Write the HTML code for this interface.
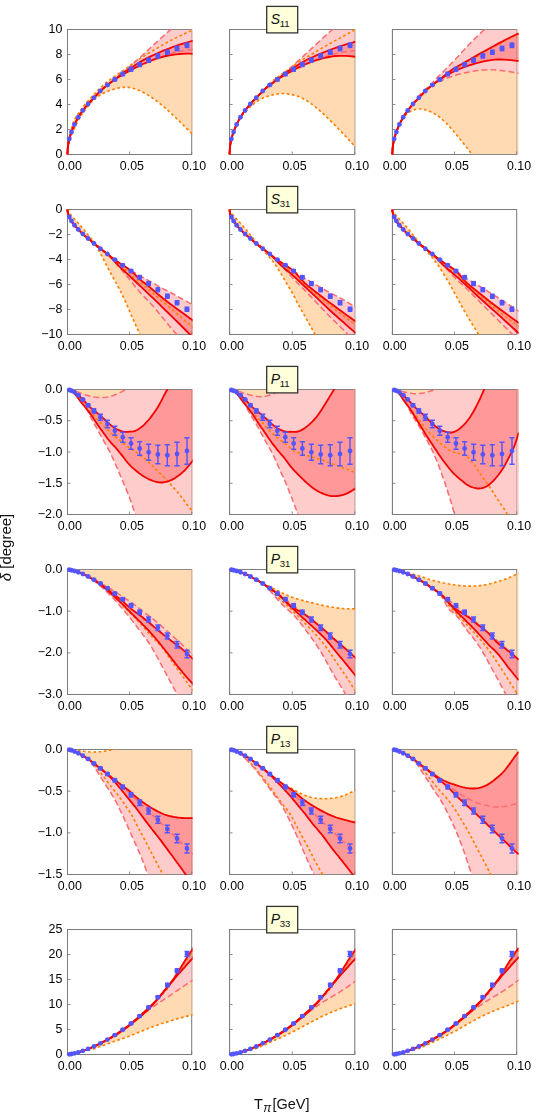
<!DOCTYPE html><html><head><meta charset="utf-8"><style>html,body{margin:0;padding:0;background:#fff;}body{width:540px;height:1115px;position:relative;overflow:hidden;font-family:"Liberation Sans",sans-serif;}</style></head><body><svg width="540" height="1115" viewBox="0 0 540 1115" style="position:absolute;left:0;top:0;opacity:0.999">
<defs>
<clipPath id="c00"><rect x="66.00" y="29.00" width="126.60" height="126.00"/></clipPath>
<clipPath id="c01"><rect x="228.10" y="29.00" width="127.10" height="126.00"/></clipPath>
<clipPath id="c02"><rect x="390.90" y="29.00" width="127.80" height="126.00"/></clipPath>
<clipPath id="c10"><rect x="66.00" y="209.00" width="126.60" height="126.00"/></clipPath>
<clipPath id="c11"><rect x="228.10" y="209.00" width="127.10" height="126.00"/></clipPath>
<clipPath id="c12"><rect x="390.90" y="209.00" width="127.80" height="126.00"/></clipPath>
<clipPath id="c20"><rect x="66.00" y="389.00" width="126.60" height="126.00"/></clipPath>
<clipPath id="c21"><rect x="228.10" y="389.00" width="127.10" height="126.00"/></clipPath>
<clipPath id="c22"><rect x="390.90" y="389.00" width="127.80" height="126.00"/></clipPath>
<clipPath id="c30"><rect x="66.00" y="569.00" width="126.60" height="126.00"/></clipPath>
<clipPath id="c31"><rect x="228.10" y="569.00" width="127.10" height="126.00"/></clipPath>
<clipPath id="c32"><rect x="390.90" y="569.00" width="127.80" height="126.00"/></clipPath>
<clipPath id="c40"><rect x="66.00" y="749.00" width="126.60" height="126.00"/></clipPath>
<clipPath id="c41"><rect x="228.10" y="749.00" width="127.10" height="126.00"/></clipPath>
<clipPath id="c42"><rect x="390.90" y="749.00" width="127.80" height="126.00"/></clipPath>
<clipPath id="c50"><rect x="66.00" y="929.00" width="126.60" height="126.00"/></clipPath>
<clipPath id="c51"><rect x="228.10" y="929.00" width="127.10" height="126.00"/></clipPath>
<clipPath id="c52"><rect x="390.90" y="929.00" width="127.80" height="126.00"/></clipPath>
</defs>
<rect x="67.50" y="29.50" width="124.20" height="125.00" fill="none" stroke="#7a7a7a" stroke-width="0.85"/>
<g clip-path="url(#c00)">
<path d="M67.5 154.5 L67.5 152.9 L67.6 151.2 L67.7 149.5 L67.9 147.7 L68.2 145.9 L68.5 144.0 L68.8 142.0 L69.2 139.8 L69.6 137.5 L70.2 135.0 L70.7 132.4 L71.3 129.5 L72.0 126.6 L72.7 123.9 L73.5 121.7 L74.3 119.9 L75.2 118.3 L76.1 116.9 L77.1 115.4 L78.1 113.8 L79.2 112.2 L80.3 110.6 L81.5 108.9 L82.8 107.1 L84.1 105.4 L85.4 103.7 L86.8 102.1 L88.3 100.6 L89.8 99.0 L91.4 97.4 L93.0 95.7 L94.6 93.9 L96.4 92.0 L98.1 90.1 L100.0 88.3 L101.9 86.5 L103.8 84.7 L105.8 83.0 L107.8 81.4 L109.9 79.8 L112.1 78.2 L114.3 76.6 L116.5 75.0 L118.8 73.5 L121.2 71.8 L123.6 70.2 L126.1 68.4 L128.6 66.6 L131.1 64.8 L133.8 62.9 L136.4 61.0 L139.2 59.1 L142.0 57.3 L144.8 55.6 L147.7 53.8 L150.6 52.0 L153.6 50.3 L156.7 48.4 L159.8 46.6 L162.9 44.8 L166.1 42.9 L169.4 41.2 L172.7 39.4 L176.1 37.7 L179.5 36.0 L183.0 34.4 L186.5 32.8 L190.1 31.2 L193.7 29.6 L193.7 135.5 L190.1 131.9 L186.5 128.3 L183.0 124.8 L179.5 121.4 L176.1 118.1 L172.7 114.8 L169.4 111.8 L166.1 108.8 L162.9 106.1 L159.8 103.5 L156.7 101.1 L153.6 98.8 L150.6 96.8 L147.7 94.9 L144.8 93.2 L142.0 91.7 L139.2 90.4 L136.4 89.3 L133.8 88.5 L131.1 87.8 L128.6 87.4 L126.1 87.3 L123.6 87.3 L121.2 87.5 L118.8 87.9 L116.5 88.5 L114.3 89.1 L112.1 89.8 L109.9 90.5 L107.8 91.3 L105.8 92.2 L103.8 93.1 L101.9 94.1 L100.0 95.2 L98.1 96.4 L96.4 97.6 L94.6 99.0 L93.0 100.6 L91.4 102.3 L89.8 104.0 L88.3 105.9 L86.8 107.7 L85.4 109.6 L84.1 111.4 L82.8 113.1 L81.5 114.9 L80.3 116.6 L79.2 118.5 L78.1 120.6 L77.1 122.7 L76.1 124.8 L75.2 126.9 L74.3 128.9 L73.5 130.8 L72.7 132.6 L72.0 134.3 L71.3 136.0 L70.7 137.5 L70.2 139.1 L69.6 140.6 L69.2 142.1 L68.8 143.7 L68.5 145.2 L68.2 146.7 L67.9 148.3 L67.7 149.8 L67.6 151.4 L67.5 152.9 L67.5 154.5Z" fill="#FFDAB3"/>
<path d="M67.5 154.5 L67.5 152.5 L67.6 150.6 L67.7 148.6 L67.9 146.7 L68.2 144.8 L68.5 142.9 L68.8 141.1 L69.2 139.3 L69.6 137.6 L70.2 135.9 L70.7 134.1 L71.3 132.4 L72.0 130.6 L72.7 128.7 L73.5 126.8 L74.3 124.9 L75.2 123.0 L76.1 121.2 L77.1 119.4 L78.1 117.6 L79.2 115.8 L80.3 114.0 L81.5 112.3 L82.8 110.6 L84.1 108.9 L85.4 107.2 L86.8 105.4 L88.3 103.8 L89.8 102.1 L91.4 100.5 L93.0 98.8 L94.6 97.0 L96.4 95.2 L98.1 93.3 L100.0 91.4 L101.9 89.6 L103.8 87.9 L105.8 86.3 L107.8 84.7 L109.9 83.2 L112.1 81.6 L114.3 80.0 L116.5 78.2 L118.8 76.2 L121.2 74.2 L123.6 72.0 L126.1 69.9 L128.6 67.7 L131.1 65.4 L133.8 63.1 L136.4 60.7 L139.2 58.3 L142.0 55.7 L144.8 53.1 L147.7 50.4 L150.6 47.7 L153.6 44.9 L156.7 42.1 L159.8 39.2 L162.9 36.4 L166.1 33.6 L169.4 30.7 L172.7 27.7 L176.1 24.6 L179.5 21.5 L183.0 18.3 L186.5 15.0 L190.1 11.7 L193.7 8.4 L193.7 49.2 L190.1 49.7 L186.5 50.2 L183.0 50.8 L179.5 51.4 L176.1 52.1 L172.7 53.0 L169.4 53.9 L166.1 55.0 L162.9 56.2 L159.8 57.3 L156.7 58.5 L153.6 59.7 L150.6 61.0 L147.7 62.3 L144.8 63.7 L142.0 65.1 L139.2 66.5 L136.4 67.7 L133.8 68.9 L131.1 70.0 L128.6 71.1 L126.1 72.2 L123.6 73.5 L121.2 75.0 L118.8 76.6 L116.5 78.3 L114.3 79.9 L112.1 81.5 L109.9 83.1 L107.8 84.7 L105.8 86.3 L103.8 87.9 L101.9 89.6 L100.0 91.4 L98.1 93.3 L96.4 95.2 L94.6 97.0 L93.0 98.8 L91.4 100.5 L89.8 102.1 L88.3 103.8 L86.8 105.4 L85.4 107.2 L84.1 108.9 L82.8 110.6 L81.5 112.3 L80.3 114.0 L79.2 115.8 L78.1 117.6 L77.1 119.4 L76.1 121.2 L75.2 123.0 L74.3 124.9 L73.5 126.8 L72.7 128.7 L72.0 130.6 L71.3 132.4 L70.7 134.1 L70.2 135.9 L69.6 137.6 L69.2 139.3 L68.8 141.1 L68.5 142.9 L68.2 144.8 L67.9 146.7 L67.7 148.6 L67.6 150.6 L67.5 152.5 L67.5 154.5Z" fill="#FFCCCC"/>
<path d="M67.5 154.5 L67.5 152.5 L67.6 150.6 L67.7 148.6 L67.9 146.7 L68.2 144.8 L68.5 142.9 L68.8 141.1 L69.2 139.3 L69.6 137.6 L70.2 135.9 L70.7 134.1 L71.3 132.4 L72.0 130.6 L72.7 128.7 L73.5 126.8 L74.3 124.9 L75.2 123.0 L76.1 121.2 L77.1 119.4 L78.1 117.6 L79.2 115.8 L80.3 114.0 L81.5 112.3 L82.8 110.6 L84.1 108.9 L85.4 107.2 L86.8 105.4 L88.3 103.8 L89.8 102.1 L91.4 100.5 L93.0 98.8 L94.6 97.0 L96.4 95.2 L98.1 93.3 L100.0 91.4 L101.9 89.6 L103.8 87.9 L105.8 86.3 L107.8 84.7 L109.9 83.2 L112.1 81.6 L114.3 80.0 L116.5 78.1 L118.8 76.2 L121.2 74.2 L123.6 72.4 L126.1 70.7 L128.6 69.2 L131.1 67.6 L133.8 66.0 L136.4 64.3 L139.2 62.6 L142.0 60.9 L144.8 59.4 L147.7 57.9 L150.6 56.4 L153.6 55.0 L156.7 53.6 L159.8 52.2 L162.9 50.8 L166.1 49.5 L169.4 48.3 L172.7 47.0 L176.1 45.9 L179.5 44.7 L183.0 43.6 L186.5 42.6 L190.1 41.5 L193.7 40.4 L193.7 53.8 L190.1 53.7 L186.5 53.7 L183.0 53.8 L179.5 54.0 L176.1 54.3 L172.7 54.8 L169.4 55.4 L166.1 56.0 L162.9 56.8 L159.8 57.7 L156.7 58.7 L153.6 59.7 L150.6 60.8 L147.7 62.0 L144.8 63.2 L142.0 64.5 L139.2 65.8 L136.4 67.1 L133.8 68.5 L131.1 69.9 L128.6 71.4 L126.1 72.8 L123.6 74.2 L121.2 75.7 L118.8 77.0 L116.5 78.4 L114.3 79.9 L112.1 81.4 L109.9 83.0 L107.8 84.7 L105.8 86.3 L103.8 88.0 L101.9 89.7 L100.0 91.4 L98.1 93.3 L96.4 95.2 L94.6 97.0 L93.0 98.8 L91.4 100.5 L89.8 102.1 L88.3 103.8 L86.8 105.4 L85.4 107.2 L84.1 108.9 L82.8 110.6 L81.5 112.3 L80.3 114.0 L79.2 115.8 L78.1 117.6 L77.1 119.4 L76.1 121.2 L75.2 123.0 L74.3 124.9 L73.5 126.8 L72.7 128.7 L72.0 130.6 L71.3 132.4 L70.7 134.1 L70.2 135.9 L69.6 137.6 L69.2 139.3 L68.8 141.1 L68.5 142.9 L68.2 144.8 L67.9 146.7 L67.7 148.6 L67.6 150.6 L67.5 152.5 L67.5 154.5Z" fill="#FF9999"/>
</g>
<path d="M67.50 29.50 V154.50 H191.70 M67.50 29.50 H191.70" fill="none" stroke="#7a7a7a" stroke-width="0.85"/>
<path d="M191.70 29.50 V154.50" fill="none" stroke="#7a7a7a" stroke-width="0.85" stroke-opacity="0.5"/>
<line x1="67.50" y1="154.50" x2="70.50" y2="154.50" stroke="#7a7a7a" stroke-width="0.85"/>
<text x="62.30" y="158.00" text-anchor="end" font-size="12.4" font-family="Liberation Sans, sans-serif" fill="#000">0</text>
<line x1="67.50" y1="129.50" x2="70.50" y2="129.50" stroke="#7a7a7a" stroke-width="0.85"/>
<text x="62.30" y="133.00" text-anchor="end" font-size="12.4" font-family="Liberation Sans, sans-serif" fill="#000">2</text>
<line x1="67.50" y1="104.50" x2="70.50" y2="104.50" stroke="#7a7a7a" stroke-width="0.85"/>
<text x="62.30" y="108.00" text-anchor="end" font-size="12.4" font-family="Liberation Sans, sans-serif" fill="#000">4</text>
<line x1="67.50" y1="79.50" x2="70.50" y2="79.50" stroke="#7a7a7a" stroke-width="0.85"/>
<text x="62.30" y="83.00" text-anchor="end" font-size="12.4" font-family="Liberation Sans, sans-serif" fill="#000">6</text>
<line x1="67.50" y1="54.50" x2="70.50" y2="54.50" stroke="#7a7a7a" stroke-width="0.85"/>
<text x="62.30" y="58.00" text-anchor="end" font-size="12.4" font-family="Liberation Sans, sans-serif" fill="#000">8</text>
<line x1="67.50" y1="29.50" x2="70.50" y2="29.50" stroke="#7a7a7a" stroke-width="0.85"/>
<text x="62.30" y="33.00" text-anchor="end" font-size="12.4" font-family="Liberation Sans, sans-serif" fill="#000">10</text>
<line x1="67.50" y1="154.50" x2="67.50" y2="151.50" stroke="#7a7a7a" stroke-width="0.85"/>
<text x="69.80" y="169.60" text-anchor="middle" font-size="12.4" font-family="Liberation Sans, sans-serif" fill="#000">0.00</text>
<line x1="129.60" y1="154.50" x2="129.60" y2="151.50" stroke="#7a7a7a" stroke-width="0.85"/>
<text x="131.90" y="169.60" text-anchor="middle" font-size="12.4" font-family="Liberation Sans, sans-serif" fill="#000">0.05</text>
<line x1="191.70" y1="154.50" x2="191.70" y2="151.50" stroke="#7a7a7a" stroke-width="0.85"/>
<text x="194.00" y="169.60" text-anchor="middle" font-size="12.4" font-family="Liberation Sans, sans-serif" fill="#000">0.10</text>
<g clip-path="url(#c00)" fill="none">
<path d="M67.5 154.5 L67.5 152.9 L67.6 151.2 L67.7 149.5 L67.9 147.7 L68.2 145.9 L68.5 144.0 L68.8 142.0 L69.2 139.8 L69.6 137.5 L70.2 135.0 L70.7 132.4 L71.3 129.5 L72.0 126.6 L72.7 123.9 L73.5 121.7 L74.3 119.9 L75.2 118.3 L76.1 116.9 L77.1 115.4 L78.1 113.8 L79.2 112.2 L80.3 110.6 L81.5 108.9 L82.8 107.1 L84.1 105.4 L85.4 103.7 L86.8 102.1 L88.3 100.6 L89.8 99.0 L91.4 97.4 L93.0 95.7 L94.6 93.9 L96.4 92.0 L98.1 90.1 L100.0 88.3 L101.9 86.5 L103.8 84.7 L105.8 83.0 L107.8 81.4 L109.9 79.8 L112.1 78.2 L114.3 76.6 L116.5 75.0 L118.8 73.5 L121.2 71.8 L123.6 70.2 L126.1 68.4 L128.6 66.6 L131.1 64.8 L133.8 62.9 L136.4 61.0 L139.2 59.1 L142.0 57.3 L144.8 55.6 L147.7 53.8 L150.6 52.0 L153.6 50.3 L156.7 48.4 L159.8 46.6 L162.9 44.8 L166.1 42.9 L169.4 41.2 L172.7 39.4 L176.1 37.7 L179.5 36.0 L183.0 34.4 L186.5 32.8 L190.1 31.2 L193.7 29.6" stroke="#FF8000" stroke-width="1.65" stroke-dasharray="2.7 2.5"/>
<path d="M67.5 154.5 L67.5 152.9 L67.6 151.4 L67.7 149.8 L67.9 148.3 L68.2 146.7 L68.5 145.2 L68.8 143.7 L69.2 142.1 L69.6 140.6 L70.2 139.1 L70.7 137.5 L71.3 136.0 L72.0 134.3 L72.7 132.6 L73.5 130.8 L74.3 128.9 L75.2 126.9 L76.1 124.8 L77.1 122.7 L78.1 120.6 L79.2 118.5 L80.3 116.6 L81.5 114.9 L82.8 113.1 L84.1 111.4 L85.4 109.6 L86.8 107.7 L88.3 105.9 L89.8 104.0 L91.4 102.3 L93.0 100.6 L94.6 99.0 L96.4 97.6 L98.1 96.4 L100.0 95.2 L101.9 94.1 L103.8 93.1 L105.8 92.2 L107.8 91.3 L109.9 90.5 L112.1 89.8 L114.3 89.1 L116.5 88.5 L118.8 87.9 L121.2 87.5 L123.6 87.3 L126.1 87.3 L128.6 87.4 L131.1 87.8 L133.8 88.5 L136.4 89.3 L139.2 90.4 L142.0 91.7 L144.8 93.2 L147.7 94.9 L150.6 96.8 L153.6 98.8 L156.7 101.1 L159.8 103.5 L162.9 106.1 L166.1 108.8 L169.4 111.8 L172.7 114.8 L176.1 118.1 L179.5 121.4 L183.0 124.8 L186.5 128.3 L190.1 131.9 L193.7 135.5" stroke="#FF8000" stroke-width="1.65" stroke-dasharray="2.7 2.5"/>
<path d="M67.5 154.5 L67.5 152.5 L67.6 150.6 L67.7 148.6 L67.9 146.7 L68.2 144.8 L68.5 142.9 L68.8 141.1 L69.2 139.3 L69.6 137.6 L70.2 135.9 L70.7 134.1 L71.3 132.4 L72.0 130.6 L72.7 128.7 L73.5 126.8 L74.3 124.9 L75.2 123.0 L76.1 121.2 L77.1 119.4 L78.1 117.6 L79.2 115.8 L80.3 114.0 L81.5 112.3 L82.8 110.6 L84.1 108.9 L85.4 107.2 L86.8 105.4 L88.3 103.8 L89.8 102.1 L91.4 100.5 L93.0 98.8 L94.6 97.0 L96.4 95.2 L98.1 93.3 L100.0 91.4 L101.9 89.6 L103.8 87.9 L105.8 86.3 L107.8 84.7 L109.9 83.2 L112.1 81.6 L114.3 80.0 L116.5 78.2 L118.8 76.2 L121.2 74.2 L123.6 72.0 L126.1 69.9 L128.6 67.7 L131.1 65.4 L133.8 63.1 L136.4 60.7 L139.2 58.3 L142.0 55.7 L144.8 53.1 L147.7 50.4 L150.6 47.7 L153.6 44.9 L156.7 42.1 L159.8 39.2 L162.9 36.4 L166.1 33.6 L169.4 30.7 L172.7 27.7 L176.1 24.6 L179.5 21.5 L183.0 18.3 L186.5 15.0 L190.1 11.7 L193.7 8.4" stroke="#F96E72" stroke-width="1.55" stroke-dasharray="6 3"/>
<path d="M67.5 154.5 L67.5 152.5 L67.6 150.6 L67.7 148.6 L67.9 146.7 L68.2 144.8 L68.5 142.9 L68.8 141.1 L69.2 139.3 L69.6 137.6 L70.2 135.9 L70.7 134.1 L71.3 132.4 L72.0 130.6 L72.7 128.7 L73.5 126.8 L74.3 124.9 L75.2 123.0 L76.1 121.2 L77.1 119.4 L78.1 117.6 L79.2 115.8 L80.3 114.0 L81.5 112.3 L82.8 110.6 L84.1 108.9 L85.4 107.2 L86.8 105.4 L88.3 103.8 L89.8 102.1 L91.4 100.5 L93.0 98.8 L94.6 97.0 L96.4 95.2 L98.1 93.3 L100.0 91.4 L101.9 89.6 L103.8 87.9 L105.8 86.3 L107.8 84.7 L109.9 83.1 L112.1 81.5 L114.3 79.9 L116.5 78.3 L118.8 76.6 L121.2 75.0 L123.6 73.5 L126.1 72.2 L128.6 71.1 L131.1 70.0 L133.8 68.9 L136.4 67.7 L139.2 66.5 L142.0 65.1 L144.8 63.7 L147.7 62.3 L150.6 61.0 L153.6 59.7 L156.7 58.5 L159.8 57.3 L162.9 56.2 L166.1 55.0 L169.4 53.9 L172.7 53.0 L176.1 52.1 L179.5 51.4 L183.0 50.8 L186.5 50.2 L190.1 49.7 L193.7 49.2" stroke="#F96E72" stroke-width="1.55" stroke-dasharray="6 3"/>
<path d="M67.5 154.5 L67.5 152.5 L67.6 150.6 L67.7 148.6 L67.9 146.7 L68.2 144.8 L68.5 142.9 L68.8 141.1 L69.2 139.3 L69.6 137.6 L70.2 135.9 L70.7 134.1 L71.3 132.4 L72.0 130.6 L72.7 128.7 L73.5 126.8 L74.3 124.9 L75.2 123.0 L76.1 121.2 L77.1 119.4 L78.1 117.6 L79.2 115.8 L80.3 114.0 L81.5 112.3 L82.8 110.6 L84.1 108.9 L85.4 107.2 L86.8 105.4 L88.3 103.8 L89.8 102.1 L91.4 100.5 L93.0 98.8 L94.6 97.0 L96.4 95.2 L98.1 93.3 L100.0 91.4 L101.9 89.6 L103.8 87.9 L105.8 86.3 L107.8 84.7 L109.9 83.2 L112.1 81.6 L114.3 80.0 L116.5 78.1 L118.8 76.2 L121.2 74.2 L123.6 72.4 L126.1 70.7 L128.6 69.2 L131.1 67.6 L133.8 66.0 L136.4 64.3 L139.2 62.6 L142.0 60.9 L144.8 59.4 L147.7 57.9 L150.6 56.4 L153.6 55.0 L156.7 53.6 L159.8 52.2 L162.9 50.8 L166.1 49.5 L169.4 48.3 L172.7 47.0 L176.1 45.9 L179.5 44.7 L183.0 43.6 L186.5 42.6 L190.1 41.5 L193.7 40.4" stroke="#F40000" stroke-width="1.8"/>
<path d="M67.5 154.5 L67.5 152.5 L67.6 150.6 L67.7 148.6 L67.9 146.7 L68.2 144.8 L68.5 142.9 L68.8 141.1 L69.2 139.3 L69.6 137.6 L70.2 135.9 L70.7 134.1 L71.3 132.4 L72.0 130.6 L72.7 128.7 L73.5 126.8 L74.3 124.9 L75.2 123.0 L76.1 121.2 L77.1 119.4 L78.1 117.6 L79.2 115.8 L80.3 114.0 L81.5 112.3 L82.8 110.6 L84.1 108.9 L85.4 107.2 L86.8 105.4 L88.3 103.8 L89.8 102.1 L91.4 100.5 L93.0 98.8 L94.6 97.0 L96.4 95.2 L98.1 93.3 L100.0 91.4 L101.9 89.7 L103.8 88.0 L105.8 86.3 L107.8 84.7 L109.9 83.0 L112.1 81.4 L114.3 79.9 L116.5 78.4 L118.8 77.0 L121.2 75.7 L123.6 74.2 L126.1 72.8 L128.6 71.4 L131.1 69.9 L133.8 68.5 L136.4 67.1 L139.2 65.8 L142.0 64.5 L144.8 63.2 L147.7 62.0 L150.6 60.8 L153.6 59.7 L156.7 58.7 L159.8 57.7 L162.9 56.8 L166.1 56.0 L169.4 55.4 L172.7 54.8 L176.1 54.3 L179.5 54.0 L183.0 53.8 L186.5 53.7 L190.1 53.7 L193.7 53.8" stroke="#F40000" stroke-width="1.8"/>
</g>
<g stroke="#5555FF" stroke-width="1.45" fill="#5555FF">
<circle cx="69.27" cy="139.00" r="2.4" stroke="none"/>
<circle cx="71.46" cy="132.00" r="2.4" stroke="none"/>
<circle cx="74.48" cy="124.50" r="2.4" stroke="none"/>
<circle cx="78.29" cy="117.25" r="2.4" stroke="none"/>
<circle cx="82.84" cy="110.50" r="2.4" stroke="none"/>
<circle cx="88.08" cy="104.00" r="2.4" stroke="none"/>
<circle cx="93.96" cy="97.75" r="2.4" stroke="none"/>
<circle cx="100.42" cy="91.00" r="2.4" stroke="none"/>
<rect x="105.1" y="83.6" width="4.7" height="2.8" stroke="none"/>
<circle cx="107.40" cy="85.00" r="2.4" stroke="none"/>
<rect x="112.5" y="77.3" width="4.7" height="4.3" stroke="none"/>
<circle cx="114.87" cy="79.50" r="2.4" stroke="none"/>
<rect x="120.4" y="71.6" width="4.7" height="4.8" stroke="none"/>
<circle cx="122.76" cy="74.00" r="2.4" stroke="none"/>
<rect x="128.7" y="66.6" width="4.7" height="5.3" stroke="none"/>
<circle cx="131.05" cy="69.25" r="2.4" stroke="none"/>
<rect x="137.3" y="61.9" width="4.7" height="5.3" stroke="none"/>
<circle cx="139.68" cy="64.50" r="2.4" stroke="none"/>
<rect x="146.3" y="57.5" width="4.7" height="5.5" stroke="none"/>
<circle cx="148.63" cy="60.25" r="2.4" stroke="none"/>
<rect x="155.5" y="53.2" width="4.7" height="5.5" stroke="none"/>
<circle cx="157.86" cy="56.00" r="2.4" stroke="none"/>
<rect x="165.0" y="49.5" width="4.7" height="5.5" stroke="none"/>
<circle cx="167.34" cy="52.25" r="2.4" stroke="none"/>
<rect x="174.7" y="45.6" width="4.7" height="5.8" stroke="none"/>
<circle cx="177.05" cy="48.50" r="2.4" stroke="none"/>
<rect x="184.6" y="42.4" width="4.7" height="5.8" stroke="none"/>
<circle cx="186.96" cy="45.25" r="2.4" stroke="none"/>
</g>
<rect x="229.60" y="29.50" width="125.20" height="125.00" fill="none" stroke="#7a7a7a" stroke-width="0.85"/>
<g clip-path="url(#c01)">
<path d="M229.6 154.5 L229.6 152.5 L229.7 150.6 L229.8 148.6 L230.0 146.7 L230.3 144.8 L230.6 142.9 L230.9 141.1 L231.3 139.3 L231.8 137.6 L232.3 135.9 L232.8 134.1 L233.4 132.4 L234.1 130.6 L234.8 128.7 L235.6 126.8 L236.4 124.9 L237.3 123.0 L238.3 121.2 L239.2 119.4 L240.3 117.6 L241.4 115.8 L242.5 114.0 L243.7 112.3 L245.0 110.6 L246.3 108.9 L247.7 107.2 L249.1 105.5 L250.5 103.8 L252.1 102.1 L253.6 100.4 L255.3 98.8 L257.0 97.0 L258.7 95.3 L260.5 93.4 L262.3 91.5 L264.2 89.5 L266.2 87.4 L268.2 85.3 L270.2 83.3 L272.4 81.3 L274.5 79.4 L276.7 77.7 L279.0 76.1 L281.3 74.5 L283.7 72.9 L286.1 71.1 L288.6 69.2 L291.2 67.3 L293.8 65.4 L296.4 63.6 L299.1 61.9 L301.9 60.2 L304.7 58.4 L307.5 56.7 L310.4 54.9 L313.4 53.2 L316.4 51.4 L319.5 49.5 L322.6 47.7 L325.8 45.9 L329.0 44.1 L332.3 42.3 L335.7 40.4 L339.0 38.6 L342.5 36.7 L346.0 34.8 L349.5 32.8 L353.2 30.8 L356.8 28.8 L356.8 148.4 L353.2 144.5 L349.5 140.6 L346.0 136.8 L342.5 133.1 L339.0 129.5 L335.7 125.9 L332.3 122.5 L329.0 119.3 L325.8 116.2 L322.6 113.2 L319.5 110.4 L316.4 107.8 L313.4 105.4 L310.4 103.2 L307.5 101.2 L304.7 99.5 L301.9 98.0 L299.1 96.8 L296.4 95.8 L293.8 95.1 L291.2 94.5 L288.6 94.1 L286.1 93.7 L283.7 93.5 L281.3 93.5 L279.0 93.7 L276.7 94.1 L274.5 94.5 L272.4 95.0 L270.2 95.5 L268.2 96.0 L266.2 96.7 L264.2 97.4 L262.3 98.3 L260.5 99.2 L258.7 100.3 L257.0 101.5 L255.3 102.7 L253.6 104.0 L252.1 105.3 L250.5 106.6 L249.1 107.9 L247.7 109.2 L246.3 110.4 L245.0 111.7 L243.7 113.0 L242.5 114.4 L241.4 115.9 L240.3 117.5 L239.2 119.3 L238.3 121.1 L237.3 123.0 L236.4 124.9 L235.6 126.8 L234.8 128.7 L234.1 130.6 L233.4 132.4 L232.8 134.1 L232.3 135.9 L231.8 137.6 L231.3 139.3 L230.9 141.1 L230.6 142.9 L230.3 144.8 L230.0 146.7 L229.8 148.6 L229.7 150.6 L229.6 152.5 L229.6 154.5Z" fill="#FFDAB3"/>
<path d="M229.6 154.5 L229.6 152.5 L229.7 150.6 L229.8 148.6 L230.0 146.7 L230.3 144.8 L230.6 142.9 L230.9 141.1 L231.3 139.3 L231.8 137.6 L232.3 135.9 L232.8 134.1 L233.4 132.4 L234.1 130.6 L234.8 128.7 L235.6 126.8 L236.4 124.9 L237.3 123.0 L238.3 121.2 L239.2 119.4 L240.3 117.6 L241.4 115.8 L242.5 114.0 L243.7 112.3 L245.0 110.6 L246.3 108.9 L247.7 107.2 L249.1 105.4 L250.5 103.8 L252.1 102.1 L253.6 100.5 L255.3 98.8 L257.0 97.0 L258.7 95.2 L260.5 93.3 L262.3 91.4 L264.2 89.6 L266.2 87.9 L268.2 86.3 L270.2 84.7 L272.4 83.1 L274.5 81.6 L276.7 80.0 L279.0 78.2 L281.3 76.3 L283.7 74.2 L286.1 72.1 L288.6 69.8 L291.2 67.4 L293.8 65.0 L296.4 62.5 L299.1 60.0 L301.9 57.5 L304.7 54.9 L307.5 52.3 L310.4 49.7 L313.4 46.9 L316.4 44.1 L319.5 41.2 L322.6 38.3 L325.8 35.4 L329.0 32.5 L332.3 29.6 L335.7 26.6 L339.0 23.5 L342.5 20.3 L346.0 17.2 L349.5 13.9 L353.2 10.7 L356.8 7.4 L356.8 50.6 L353.2 51.0 L349.5 51.4 L346.0 51.8 L342.5 52.3 L339.0 52.9 L335.7 53.6 L332.3 54.5 L329.0 55.4 L325.8 56.4 L322.6 57.5 L319.5 58.6 L316.4 59.8 L313.4 61.0 L310.4 62.3 L307.5 63.7 L304.7 65.1 L301.9 66.5 L299.1 67.7 L296.4 68.9 L293.8 70.0 L291.2 71.1 L288.6 72.2 L286.1 73.5 L283.7 75.0 L281.3 76.6 L279.0 78.3 L276.7 79.9 L274.5 81.5 L272.4 83.1 L270.2 84.7 L268.2 86.3 L266.2 87.9 L264.2 89.6 L262.3 91.4 L260.5 93.3 L258.7 95.2 L257.0 97.0 L255.3 98.8 L253.6 100.5 L252.1 102.1 L250.5 103.8 L249.1 105.4 L247.7 107.2 L246.3 108.9 L245.0 110.6 L243.7 112.3 L242.5 114.0 L241.4 115.8 L240.3 117.6 L239.2 119.4 L238.3 121.2 L237.3 123.0 L236.4 124.9 L235.6 126.8 L234.8 128.7 L234.1 130.6 L233.4 132.4 L232.8 134.1 L232.3 135.9 L231.8 137.6 L231.3 139.3 L230.9 141.1 L230.6 142.9 L230.3 144.8 L230.0 146.7 L229.8 148.6 L229.7 150.6 L229.6 152.5 L229.6 154.5Z" fill="#FFCCCC"/>
<path d="M229.6 154.5 L229.6 152.5 L229.7 150.6 L229.8 148.6 L230.0 146.7 L230.3 144.8 L230.6 142.9 L230.9 141.1 L231.3 139.3 L231.8 137.6 L232.3 135.9 L232.8 134.1 L233.4 132.4 L234.1 130.6 L234.8 128.7 L235.6 126.8 L236.4 124.9 L237.3 123.0 L238.3 121.2 L239.2 119.4 L240.3 117.6 L241.4 115.8 L242.5 114.0 L243.7 112.3 L245.0 110.6 L246.3 108.9 L247.7 107.2 L249.1 105.4 L250.5 103.8 L252.1 102.1 L253.6 100.5 L255.3 98.8 L257.0 97.0 L258.7 95.2 L260.5 93.3 L262.3 91.4 L264.2 89.6 L266.2 87.9 L268.2 86.3 L270.2 84.7 L272.4 83.2 L274.5 81.6 L276.7 80.0 L279.0 78.1 L281.3 76.2 L283.7 74.2 L286.1 72.4 L288.6 70.8 L291.2 69.2 L293.8 67.6 L296.4 66.0 L299.1 64.3 L301.9 62.6 L304.7 61.0 L307.5 59.5 L310.4 58.1 L313.4 56.7 L316.4 55.4 L319.5 54.0 L322.6 52.8 L325.8 51.5 L329.0 50.3 L332.3 49.0 L335.7 47.8 L339.0 46.6 L342.5 45.5 L346.0 44.4 L349.5 43.3 L353.2 42.3 L356.8 41.2 L356.8 56.9 L353.2 56.5 L349.5 56.1 L346.0 55.9 L342.5 55.8 L339.0 55.8 L335.7 56.0 L332.3 56.4 L329.0 57.0 L325.8 57.7 L322.6 58.5 L319.5 59.4 L316.4 60.2 L313.4 61.2 L310.4 62.2 L307.5 63.3 L304.7 64.5 L301.9 65.8 L299.1 67.1 L296.4 68.5 L293.8 69.9 L291.2 71.4 L288.6 72.8 L286.1 74.2 L283.7 75.7 L281.3 77.0 L279.0 78.4 L276.7 79.9 L274.5 81.4 L272.4 83.0 L270.2 84.7 L268.2 86.3 L266.2 88.0 L264.2 89.7 L262.3 91.4 L260.5 93.3 L258.7 95.2 L257.0 97.0 L255.3 98.8 L253.6 100.5 L252.1 102.1 L250.5 103.8 L249.1 105.4 L247.7 107.2 L246.3 108.9 L245.0 110.6 L243.7 112.3 L242.5 114.0 L241.4 115.8 L240.3 117.6 L239.2 119.4 L238.3 121.2 L237.3 123.0 L236.4 124.9 L235.6 126.8 L234.8 128.7 L234.1 130.6 L233.4 132.4 L232.8 134.1 L232.3 135.9 L231.8 137.6 L231.3 139.3 L230.9 141.1 L230.6 142.9 L230.3 144.8 L230.0 146.7 L229.8 148.6 L229.7 150.6 L229.6 152.5 L229.6 154.5Z" fill="#FF9999"/>
</g>
<path d="M229.60 29.50 V154.50 H354.80 M229.60 29.50 H354.80" fill="none" stroke="#7a7a7a" stroke-width="0.85"/>
<path d="M354.80 29.50 V154.50" fill="none" stroke="#7a7a7a" stroke-width="0.85" stroke-opacity="0.5"/>
<line x1="229.60" y1="154.50" x2="232.60" y2="154.50" stroke="#7a7a7a" stroke-width="0.85"/>
<line x1="229.60" y1="129.50" x2="232.60" y2="129.50" stroke="#7a7a7a" stroke-width="0.85"/>
<line x1="229.60" y1="104.50" x2="232.60" y2="104.50" stroke="#7a7a7a" stroke-width="0.85"/>
<line x1="229.60" y1="79.50" x2="232.60" y2="79.50" stroke="#7a7a7a" stroke-width="0.85"/>
<line x1="229.60" y1="54.50" x2="232.60" y2="54.50" stroke="#7a7a7a" stroke-width="0.85"/>
<line x1="229.60" y1="29.50" x2="232.60" y2="29.50" stroke="#7a7a7a" stroke-width="0.85"/>
<line x1="229.60" y1="154.50" x2="229.60" y2="151.50" stroke="#7a7a7a" stroke-width="0.85"/>
<text x="231.90" y="169.60" text-anchor="middle" font-size="12.4" font-family="Liberation Sans, sans-serif" fill="#000">0.00</text>
<line x1="292.20" y1="154.50" x2="292.20" y2="151.50" stroke="#7a7a7a" stroke-width="0.85"/>
<text x="294.50" y="169.60" text-anchor="middle" font-size="12.4" font-family="Liberation Sans, sans-serif" fill="#000">0.05</text>
<line x1="354.80" y1="154.50" x2="354.80" y2="151.50" stroke="#7a7a7a" stroke-width="0.85"/>
<text x="357.10" y="169.60" text-anchor="middle" font-size="12.4" font-family="Liberation Sans, sans-serif" fill="#000">0.10</text>
<g clip-path="url(#c01)" fill="none">
<path d="M229.6 154.5 L229.6 152.5 L229.7 150.6 L229.8 148.6 L230.0 146.7 L230.3 144.8 L230.6 142.9 L230.9 141.1 L231.3 139.3 L231.8 137.6 L232.3 135.9 L232.8 134.1 L233.4 132.4 L234.1 130.6 L234.8 128.7 L235.6 126.8 L236.4 124.9 L237.3 123.0 L238.3 121.2 L239.2 119.4 L240.3 117.6 L241.4 115.8 L242.5 114.0 L243.7 112.3 L245.0 110.6 L246.3 108.9 L247.7 107.2 L249.1 105.5 L250.5 103.8 L252.1 102.1 L253.6 100.4 L255.3 98.8 L257.0 97.0 L258.7 95.3 L260.5 93.4 L262.3 91.5 L264.2 89.5 L266.2 87.4 L268.2 85.3 L270.2 83.3 L272.4 81.3 L274.5 79.4 L276.7 77.7 L279.0 76.1 L281.3 74.5 L283.7 72.9 L286.1 71.1 L288.6 69.2 L291.2 67.3 L293.8 65.4 L296.4 63.6 L299.1 61.9 L301.9 60.2 L304.7 58.4 L307.5 56.7 L310.4 54.9 L313.4 53.2 L316.4 51.4 L319.5 49.5 L322.6 47.7 L325.8 45.9 L329.0 44.1 L332.3 42.3 L335.7 40.4 L339.0 38.6 L342.5 36.7 L346.0 34.8 L349.5 32.8 L353.2 30.8 L356.8 28.8" stroke="#FF8000" stroke-width="1.65" stroke-dasharray="2.7 2.5"/>
<path d="M229.6 154.5 L229.6 152.5 L229.7 150.6 L229.8 148.6 L230.0 146.7 L230.3 144.8 L230.6 142.9 L230.9 141.1 L231.3 139.3 L231.8 137.6 L232.3 135.9 L232.8 134.1 L233.4 132.4 L234.1 130.6 L234.8 128.7 L235.6 126.8 L236.4 124.9 L237.3 123.0 L238.3 121.1 L239.2 119.3 L240.3 117.5 L241.4 115.9 L242.5 114.4 L243.7 113.0 L245.0 111.7 L246.3 110.4 L247.7 109.2 L249.1 107.9 L250.5 106.6 L252.1 105.3 L253.6 104.0 L255.3 102.7 L257.0 101.5 L258.7 100.3 L260.5 99.2 L262.3 98.3 L264.2 97.4 L266.2 96.7 L268.2 96.0 L270.2 95.5 L272.4 95.0 L274.5 94.5 L276.7 94.1 L279.0 93.7 L281.3 93.5 L283.7 93.5 L286.1 93.7 L288.6 94.1 L291.2 94.5 L293.8 95.1 L296.4 95.8 L299.1 96.8 L301.9 98.0 L304.7 99.5 L307.5 101.2 L310.4 103.2 L313.4 105.4 L316.4 107.8 L319.5 110.4 L322.6 113.2 L325.8 116.2 L329.0 119.3 L332.3 122.5 L335.7 125.9 L339.0 129.5 L342.5 133.1 L346.0 136.8 L349.5 140.6 L353.2 144.5 L356.8 148.4" stroke="#FF8000" stroke-width="1.65" stroke-dasharray="2.7 2.5"/>
<path d="M229.6 154.5 L229.6 152.5 L229.7 150.6 L229.8 148.6 L230.0 146.7 L230.3 144.8 L230.6 142.9 L230.9 141.1 L231.3 139.3 L231.8 137.6 L232.3 135.9 L232.8 134.1 L233.4 132.4 L234.1 130.6 L234.8 128.7 L235.6 126.8 L236.4 124.9 L237.3 123.0 L238.3 121.2 L239.2 119.4 L240.3 117.6 L241.4 115.8 L242.5 114.0 L243.7 112.3 L245.0 110.6 L246.3 108.9 L247.7 107.2 L249.1 105.4 L250.5 103.8 L252.1 102.1 L253.6 100.5 L255.3 98.8 L257.0 97.0 L258.7 95.2 L260.5 93.3 L262.3 91.4 L264.2 89.6 L266.2 87.9 L268.2 86.3 L270.2 84.7 L272.4 83.1 L274.5 81.6 L276.7 80.0 L279.0 78.2 L281.3 76.3 L283.7 74.2 L286.1 72.1 L288.6 69.8 L291.2 67.4 L293.8 65.0 L296.4 62.5 L299.1 60.0 L301.9 57.5 L304.7 54.9 L307.5 52.3 L310.4 49.7 L313.4 46.9 L316.4 44.1 L319.5 41.2 L322.6 38.3 L325.8 35.4 L329.0 32.5 L332.3 29.6 L335.7 26.6 L339.0 23.5 L342.5 20.3 L346.0 17.2 L349.5 13.9 L353.2 10.7 L356.8 7.4" stroke="#F96E72" stroke-width="1.55" stroke-dasharray="6 3"/>
<path d="M229.6 154.5 L229.6 152.5 L229.7 150.6 L229.8 148.6 L230.0 146.7 L230.3 144.8 L230.6 142.9 L230.9 141.1 L231.3 139.3 L231.8 137.6 L232.3 135.9 L232.8 134.1 L233.4 132.4 L234.1 130.6 L234.8 128.7 L235.6 126.8 L236.4 124.9 L237.3 123.0 L238.3 121.2 L239.2 119.4 L240.3 117.6 L241.4 115.8 L242.5 114.0 L243.7 112.3 L245.0 110.6 L246.3 108.9 L247.7 107.2 L249.1 105.4 L250.5 103.8 L252.1 102.1 L253.6 100.5 L255.3 98.8 L257.0 97.0 L258.7 95.2 L260.5 93.3 L262.3 91.4 L264.2 89.6 L266.2 87.9 L268.2 86.3 L270.2 84.7 L272.4 83.1 L274.5 81.5 L276.7 79.9 L279.0 78.3 L281.3 76.6 L283.7 75.0 L286.1 73.5 L288.6 72.2 L291.2 71.1 L293.8 70.0 L296.4 68.9 L299.1 67.7 L301.9 66.5 L304.7 65.1 L307.5 63.7 L310.4 62.3 L313.4 61.0 L316.4 59.8 L319.5 58.6 L322.6 57.5 L325.8 56.4 L329.0 55.4 L332.3 54.5 L335.7 53.6 L339.0 52.9 L342.5 52.3 L346.0 51.8 L349.5 51.4 L353.2 51.0 L356.8 50.6" stroke="#F96E72" stroke-width="1.55" stroke-dasharray="6 3"/>
<path d="M229.6 154.5 L229.6 152.5 L229.7 150.6 L229.8 148.6 L230.0 146.7 L230.3 144.8 L230.6 142.9 L230.9 141.1 L231.3 139.3 L231.8 137.6 L232.3 135.9 L232.8 134.1 L233.4 132.4 L234.1 130.6 L234.8 128.7 L235.6 126.8 L236.4 124.9 L237.3 123.0 L238.3 121.2 L239.2 119.4 L240.3 117.6 L241.4 115.8 L242.5 114.0 L243.7 112.3 L245.0 110.6 L246.3 108.9 L247.7 107.2 L249.1 105.4 L250.5 103.8 L252.1 102.1 L253.6 100.5 L255.3 98.8 L257.0 97.0 L258.7 95.2 L260.5 93.3 L262.3 91.4 L264.2 89.6 L266.2 87.9 L268.2 86.3 L270.2 84.7 L272.4 83.2 L274.5 81.6 L276.7 80.0 L279.0 78.1 L281.3 76.2 L283.7 74.2 L286.1 72.4 L288.6 70.8 L291.2 69.2 L293.8 67.6 L296.4 66.0 L299.1 64.3 L301.9 62.6 L304.7 61.0 L307.5 59.5 L310.4 58.1 L313.4 56.7 L316.4 55.4 L319.5 54.0 L322.6 52.8 L325.8 51.5 L329.0 50.3 L332.3 49.0 L335.7 47.8 L339.0 46.6 L342.5 45.5 L346.0 44.4 L349.5 43.3 L353.2 42.3 L356.8 41.2" stroke="#F40000" stroke-width="1.8"/>
<path d="M229.6 154.5 L229.6 152.5 L229.7 150.6 L229.8 148.6 L230.0 146.7 L230.3 144.8 L230.6 142.9 L230.9 141.1 L231.3 139.3 L231.8 137.6 L232.3 135.9 L232.8 134.1 L233.4 132.4 L234.1 130.6 L234.8 128.7 L235.6 126.8 L236.4 124.9 L237.3 123.0 L238.3 121.2 L239.2 119.4 L240.3 117.6 L241.4 115.8 L242.5 114.0 L243.7 112.3 L245.0 110.6 L246.3 108.9 L247.7 107.2 L249.1 105.4 L250.5 103.8 L252.1 102.1 L253.6 100.5 L255.3 98.8 L257.0 97.0 L258.7 95.2 L260.5 93.3 L262.3 91.4 L264.2 89.7 L266.2 88.0 L268.2 86.3 L270.2 84.7 L272.4 83.0 L274.5 81.4 L276.7 79.9 L279.0 78.4 L281.3 77.0 L283.7 75.7 L286.1 74.2 L288.6 72.8 L291.2 71.4 L293.8 69.9 L296.4 68.5 L299.1 67.1 L301.9 65.8 L304.7 64.5 L307.5 63.3 L310.4 62.2 L313.4 61.2 L316.4 60.2 L319.5 59.4 L322.6 58.5 L325.8 57.7 L329.0 57.0 L332.3 56.4 L335.7 56.0 L339.0 55.8 L342.5 55.8 L346.0 55.9 L349.5 56.1 L353.2 56.5 L356.8 56.9" stroke="#F40000" stroke-width="1.8"/>
</g>
<g stroke="#5555FF" stroke-width="1.45" fill="#5555FF">
<circle cx="231.38" cy="139.00" r="2.4" stroke="none"/>
<circle cx="233.59" cy="132.00" r="2.4" stroke="none"/>
<circle cx="236.63" cy="124.50" r="2.4" stroke="none"/>
<circle cx="240.47" cy="117.25" r="2.4" stroke="none"/>
<circle cx="245.06" cy="110.50" r="2.4" stroke="none"/>
<circle cx="250.35" cy="104.00" r="2.4" stroke="none"/>
<circle cx="256.27" cy="97.75" r="2.4" stroke="none"/>
<circle cx="262.78" cy="91.00" r="2.4" stroke="none"/>
<rect x="267.5" y="83.6" width="4.7" height="2.8" stroke="none"/>
<circle cx="269.82" cy="85.00" r="2.4" stroke="none"/>
<rect x="275.0" y="77.3" width="4.7" height="4.3" stroke="none"/>
<circle cx="277.35" cy="79.50" r="2.4" stroke="none"/>
<rect x="283.0" y="71.6" width="4.7" height="4.8" stroke="none"/>
<circle cx="285.31" cy="74.00" r="2.4" stroke="none"/>
<rect x="291.3" y="66.6" width="4.7" height="5.3" stroke="none"/>
<circle cx="293.66" cy="69.25" r="2.4" stroke="none"/>
<rect x="300.0" y="61.9" width="4.7" height="5.3" stroke="none"/>
<circle cx="302.36" cy="64.50" r="2.4" stroke="none"/>
<rect x="309.0" y="57.5" width="4.7" height="5.5" stroke="none"/>
<circle cx="311.38" cy="60.25" r="2.4" stroke="none"/>
<rect x="318.3" y="53.2" width="4.7" height="5.5" stroke="none"/>
<circle cx="320.68" cy="56.00" r="2.4" stroke="none"/>
<rect x="327.9" y="49.5" width="4.7" height="5.5" stroke="none"/>
<circle cx="330.24" cy="52.25" r="2.4" stroke="none"/>
<rect x="337.7" y="45.6" width="4.7" height="5.8" stroke="none"/>
<circle cx="340.03" cy="48.50" r="2.4" stroke="none"/>
<rect x="347.7" y="42.4" width="4.7" height="5.8" stroke="none"/>
<circle cx="350.02" cy="45.25" r="2.4" stroke="none"/>
</g>
<rect x="392.40" y="29.50" width="124.30" height="125.00" fill="none" stroke="#7a7a7a" stroke-width="0.85"/>
<g clip-path="url(#c02)">
<path d="M392.4 154.5 L392.4 152.5 L392.5 150.6 L392.6 148.6 L392.8 146.7 L393.1 144.8 L393.4 142.9 L393.7 141.1 L394.1 139.3 L394.5 137.6 L395.1 135.9 L395.6 134.1 L396.2 132.4 L396.9 130.6 L397.6 128.7 L398.4 126.8 L399.2 124.9 L400.1 123.0 L401.0 121.2 L402.0 119.4 L403.0 117.6 L404.1 115.8 L405.2 114.0 L406.4 112.3 L407.7 110.6 L409.0 108.9 L410.3 107.2 L411.7 105.4 L413.2 103.8 L414.7 102.1 L416.3 100.5 L417.9 98.8 L419.6 97.0 L421.3 95.2 L423.1 93.3 L424.9 91.4 L426.8 89.6 L428.7 87.9 L430.7 86.3 L432.7 84.7 L434.8 83.2 L437.0 81.7 L439.2 80.0 L441.5 78.1 L443.8 76.1 L446.1 74.1 L448.5 72.5 L451.0 71.1 L453.5 69.8 L456.1 68.4 L458.7 66.7 L461.4 64.9 L464.1 63.1 L466.9 61.5 L469.8 60.2 L472.6 58.9 L475.6 57.4 L478.6 55.7 L481.6 53.9 L484.7 52.1 L487.9 50.2 L491.1 48.3 L494.4 46.5 L497.7 44.7 L501.1 42.9 L504.5 41.1 L508.0 39.4 L511.5 37.6 L515.1 35.9 L518.7 34.2 L518.7 223.3 L515.1 218.0 L511.5 212.7 L508.0 207.5 L504.5 202.4 L501.1 197.3 L497.7 192.4 L494.4 187.5 L491.1 182.7 L487.9 177.9 L484.7 173.2 L481.6 168.6 L478.6 164.1 L475.6 159.7 L472.6 155.5 L469.8 151.5 L466.9 147.8 L464.1 144.3 L461.4 140.8 L458.7 137.5 L456.1 134.3 L453.5 131.2 L451.0 128.3 L448.5 125.5 L446.1 123.0 L443.8 120.8 L441.5 118.7 L439.2 116.9 L437.0 115.3 L434.8 113.9 L432.7 112.8 L430.7 111.8 L428.7 111.0 L426.8 110.3 L424.9 109.7 L423.1 109.3 L421.3 109.0 L419.6 109.0 L417.9 109.1 L416.3 109.3 L414.7 109.7 L413.2 110.2 L411.7 110.8 L410.3 111.5 L409.0 112.4 L407.7 113.3 L406.4 114.4 L405.2 115.7 L404.1 117.1 L403.0 118.6 L402.0 120.1 L401.0 121.7 L400.1 123.4 L399.2 125.0 L398.4 126.7 L397.6 128.5 L396.9 130.2 L396.2 132.0 L395.6 133.8 L395.1 135.6 L394.5 137.5 L394.1 139.3 L393.7 141.2 L393.4 143.1 L393.1 145.0 L392.8 146.9 L392.6 148.8 L392.5 150.7 L392.4 152.6 L392.4 154.5Z" fill="#FFDAB3"/>
<path d="M392.4 154.5 L392.4 152.5 L392.5 150.6 L392.6 148.6 L392.8 146.7 L393.1 144.8 L393.4 142.9 L393.7 141.1 L394.1 139.3 L394.5 137.6 L395.1 135.9 L395.6 134.1 L396.2 132.4 L396.9 130.6 L397.6 128.7 L398.4 126.8 L399.2 124.9 L400.1 123.0 L401.0 121.2 L402.0 119.4 L403.0 117.6 L404.1 115.8 L405.2 114.0 L406.4 112.3 L407.7 110.6 L409.0 108.9 L410.3 107.2 L411.7 105.5 L413.2 103.8 L414.7 102.1 L416.3 100.4 L417.9 98.8 L419.6 97.0 L421.3 95.3 L423.1 93.4 L424.9 91.5 L426.8 89.4 L428.7 87.2 L430.7 84.9 L432.7 82.6 L434.8 80.2 L437.0 77.9 L439.2 75.6 L441.5 73.4 L443.8 71.1 L446.1 68.8 L448.5 66.4 L451.0 63.9 L453.5 61.3 L456.1 58.5 L458.7 55.7 L461.4 52.8 L464.1 49.8 L466.9 46.8 L469.8 43.8 L472.6 40.8 L475.6 37.9 L478.6 35.0 L481.6 32.1 L484.7 29.2 L487.9 26.2 L491.1 23.1 L494.4 19.9 L497.7 16.6 L501.1 13.3 L504.5 9.9 L508.0 6.5 L511.5 3.0 L515.1 -0.4 L518.7 -3.9 L518.7 73.4 L515.1 72.7 L511.5 72.1 L508.0 71.5 L504.5 70.9 L501.1 70.4 L497.7 70.1 L494.4 69.8 L491.1 69.7 L487.9 69.7 L484.7 69.9 L481.6 70.1 L478.6 70.4 L475.6 70.8 L472.6 71.3 L469.8 71.8 L466.9 72.4 L464.1 73.0 L461.4 73.6 L458.7 74.3 L456.1 75.1 L453.5 75.9 L451.0 76.7 L448.5 77.6 L446.1 78.5 L443.8 79.5 L441.5 80.5 L439.2 81.5 L437.0 82.5 L434.8 83.5 L432.7 84.5 L430.7 85.5 L428.7 86.7 L426.8 88.0 L424.9 89.6 L423.1 91.3 L421.3 93.2 L419.6 95.3 L417.9 97.5 L416.3 99.6 L414.7 101.7 L413.2 103.7 L411.7 105.6 L410.3 107.3 L409.0 108.9 L407.7 110.6 L406.4 112.3 L405.2 114.0 L404.1 115.8 L403.0 117.6 L402.0 119.4 L401.0 121.2 L400.1 123.0 L399.2 124.9 L398.4 126.8 L397.6 128.7 L396.9 130.6 L396.2 132.4 L395.6 134.1 L395.1 135.9 L394.5 137.6 L394.1 139.3 L393.7 141.1 L393.4 142.9 L393.1 144.8 L392.8 146.7 L392.6 148.6 L392.5 150.6 L392.4 152.5 L392.4 154.5Z" fill="#FFCCCC"/>
<path d="M392.4 154.5 L392.4 152.5 L392.5 150.6 L392.6 148.6 L392.8 146.7 L393.1 144.8 L393.4 142.9 L393.7 141.1 L394.1 139.3 L394.5 137.6 L395.1 135.9 L395.6 134.1 L396.2 132.4 L396.9 130.6 L397.6 128.7 L398.4 126.8 L399.2 124.9 L400.1 123.0 L401.0 121.2 L402.0 119.4 L403.0 117.6 L404.1 115.8 L405.2 114.0 L406.4 112.3 L407.7 110.6 L409.0 108.9 L410.3 107.2 L411.7 105.4 L413.2 103.8 L414.7 102.1 L416.3 100.5 L417.9 98.8 L419.6 97.0 L421.3 95.2 L423.1 93.3 L424.9 91.4 L426.8 89.6 L428.7 87.9 L430.7 86.3 L432.7 84.7 L434.8 83.2 L437.0 81.6 L439.2 80.0 L441.5 78.1 L443.8 76.2 L446.1 74.1 L448.5 72.2 L451.0 70.4 L453.5 68.8 L456.1 67.2 L458.7 65.8 L461.4 64.3 L464.1 62.8 L466.9 61.1 L469.8 59.5 L472.6 57.8 L475.6 56.1 L478.6 54.4 L481.6 52.7 L484.7 51.0 L487.9 49.2 L491.1 47.5 L494.4 45.7 L497.7 43.9 L501.1 42.1 L504.5 40.3 L508.0 38.5 L511.5 36.7 L515.1 35.0 L518.7 33.4 L518.7 61.0 L515.1 60.6 L511.5 60.2 L508.0 59.9 L504.5 59.6 L501.1 59.5 L497.7 59.5 L494.4 59.7 L491.1 60.1 L487.9 60.6 L484.7 61.2 L481.6 61.8 L478.6 62.6 L475.6 63.4 L472.6 64.3 L469.8 65.2 L466.9 66.1 L464.1 67.2 L461.4 68.2 L458.7 69.3 L456.1 70.5 L453.5 71.7 L451.0 72.9 L448.5 74.2 L446.1 75.6 L443.8 77.0 L441.5 78.4 L439.2 79.9 L437.0 81.5 L434.8 83.1 L432.7 84.7 L430.7 86.3 L428.7 88.0 L426.8 89.7 L424.9 91.4 L423.1 93.3 L421.3 95.2 L419.6 97.0 L417.9 98.8 L416.3 100.5 L414.7 102.1 L413.2 103.8 L411.7 105.4 L410.3 107.2 L409.0 108.9 L407.7 110.6 L406.4 112.3 L405.2 114.0 L404.1 115.8 L403.0 117.6 L402.0 119.4 L401.0 121.2 L400.1 123.0 L399.2 124.9 L398.4 126.8 L397.6 128.7 L396.9 130.6 L396.2 132.4 L395.6 134.1 L395.1 135.9 L394.5 137.6 L394.1 139.3 L393.7 141.1 L393.4 142.9 L393.1 144.8 L392.8 146.7 L392.6 148.6 L392.5 150.6 L392.4 152.5 L392.4 154.5Z" fill="#FF9999"/>
</g>
<path d="M392.40 29.50 V154.50 H516.70 M392.40 29.50 H516.70" fill="none" stroke="#7a7a7a" stroke-width="0.85"/>
<path d="M516.70 29.50 V154.50" fill="none" stroke="#7a7a7a" stroke-width="0.85" stroke-opacity="0.5"/>
<line x1="392.40" y1="154.50" x2="395.40" y2="154.50" stroke="#7a7a7a" stroke-width="0.85"/>
<line x1="392.40" y1="129.50" x2="395.40" y2="129.50" stroke="#7a7a7a" stroke-width="0.85"/>
<line x1="392.40" y1="104.50" x2="395.40" y2="104.50" stroke="#7a7a7a" stroke-width="0.85"/>
<line x1="392.40" y1="79.50" x2="395.40" y2="79.50" stroke="#7a7a7a" stroke-width="0.85"/>
<line x1="392.40" y1="54.50" x2="395.40" y2="54.50" stroke="#7a7a7a" stroke-width="0.85"/>
<line x1="392.40" y1="29.50" x2="395.40" y2="29.50" stroke="#7a7a7a" stroke-width="0.85"/>
<line x1="392.40" y1="154.50" x2="392.40" y2="151.50" stroke="#7a7a7a" stroke-width="0.85"/>
<text x="394.70" y="169.60" text-anchor="middle" font-size="12.4" font-family="Liberation Sans, sans-serif" fill="#000">0.00</text>
<line x1="454.55" y1="154.50" x2="454.55" y2="151.50" stroke="#7a7a7a" stroke-width="0.85"/>
<text x="456.85" y="169.60" text-anchor="middle" font-size="12.4" font-family="Liberation Sans, sans-serif" fill="#000">0.05</text>
<line x1="516.70" y1="154.50" x2="516.70" y2="151.50" stroke="#7a7a7a" stroke-width="0.85"/>
<text x="519.00" y="169.60" text-anchor="middle" font-size="12.4" font-family="Liberation Sans, sans-serif" fill="#000">0.10</text>
<g clip-path="url(#c02)" fill="none">
<path d="M392.4 154.5 L392.4 152.5 L392.5 150.6 L392.6 148.6 L392.8 146.7 L393.1 144.8 L393.4 142.9 L393.7 141.1 L394.1 139.3 L394.5 137.6 L395.1 135.9 L395.6 134.1 L396.2 132.4 L396.9 130.6 L397.6 128.7 L398.4 126.8 L399.2 124.9 L400.1 123.0 L401.0 121.2 L402.0 119.4 L403.0 117.6 L404.1 115.8 L405.2 114.0 L406.4 112.3 L407.7 110.6 L409.0 108.9 L410.3 107.2 L411.7 105.4 L413.2 103.8 L414.7 102.1 L416.3 100.5 L417.9 98.8 L419.6 97.0 L421.3 95.2 L423.1 93.3 L424.9 91.4 L426.8 89.6 L428.7 87.9 L430.7 86.3 L432.7 84.7 L434.8 83.2 L437.0 81.7 L439.2 80.0 L441.5 78.1 L443.8 76.1 L446.1 74.1 L448.5 72.5 L451.0 71.1 L453.5 69.8 L456.1 68.4 L458.7 66.7 L461.4 64.9 L464.1 63.1 L466.9 61.5 L469.8 60.2 L472.6 58.9 L475.6 57.4 L478.6 55.7 L481.6 53.9 L484.7 52.1 L487.9 50.2 L491.1 48.3 L494.4 46.5 L497.7 44.7 L501.1 42.9 L504.5 41.1 L508.0 39.4 L511.5 37.6 L515.1 35.9 L518.7 34.2" stroke="#FF8000" stroke-width="1.65" stroke-dasharray="2.7 2.5"/>
<path d="M392.4 154.5 L392.4 152.6 L392.5 150.7 L392.6 148.8 L392.8 146.9 L393.1 145.0 L393.4 143.1 L393.7 141.2 L394.1 139.3 L394.5 137.5 L395.1 135.6 L395.6 133.8 L396.2 132.0 L396.9 130.2 L397.6 128.5 L398.4 126.7 L399.2 125.0 L400.1 123.4 L401.0 121.7 L402.0 120.1 L403.0 118.6 L404.1 117.1 L405.2 115.7 L406.4 114.4 L407.7 113.3 L409.0 112.4 L410.3 111.5 L411.7 110.8 L413.2 110.2 L414.7 109.7 L416.3 109.3 L417.9 109.1 L419.6 109.0 L421.3 109.0 L423.1 109.3 L424.9 109.7 L426.8 110.3 L428.7 111.0 L430.7 111.8 L432.7 112.8 L434.8 113.9 L437.0 115.3 L439.2 116.9 L441.5 118.7 L443.8 120.8 L446.1 123.0 L448.5 125.5 L451.0 128.3 L453.5 131.2 L456.1 134.3 L458.7 137.5 L461.4 140.8 L464.1 144.3 L466.9 147.8 L469.8 151.5 L472.6 155.5 L475.6 159.7 L478.6 164.1 L481.6 168.6 L484.7 173.2 L487.9 177.9 L491.1 182.7 L494.4 187.5 L497.7 192.4 L501.1 197.3 L504.5 202.4 L508.0 207.5 L511.5 212.7 L515.1 218.0 L518.7 223.3" stroke="#FF8000" stroke-width="1.65" stroke-dasharray="2.7 2.5"/>
<path d="M392.4 154.5 L392.4 152.5 L392.5 150.6 L392.6 148.6 L392.8 146.7 L393.1 144.8 L393.4 142.9 L393.7 141.1 L394.1 139.3 L394.5 137.6 L395.1 135.9 L395.6 134.1 L396.2 132.4 L396.9 130.6 L397.6 128.7 L398.4 126.8 L399.2 124.9 L400.1 123.0 L401.0 121.2 L402.0 119.4 L403.0 117.6 L404.1 115.8 L405.2 114.0 L406.4 112.3 L407.7 110.6 L409.0 108.9 L410.3 107.2 L411.7 105.5 L413.2 103.8 L414.7 102.1 L416.3 100.4 L417.9 98.8 L419.6 97.0 L421.3 95.3 L423.1 93.4 L424.9 91.5 L426.8 89.4 L428.7 87.2 L430.7 84.9 L432.7 82.6 L434.8 80.2 L437.0 77.9 L439.2 75.6 L441.5 73.4 L443.8 71.1 L446.1 68.8 L448.5 66.4 L451.0 63.9 L453.5 61.3 L456.1 58.5 L458.7 55.7 L461.4 52.8 L464.1 49.8 L466.9 46.8 L469.8 43.8 L472.6 40.8 L475.6 37.9 L478.6 35.0 L481.6 32.1 L484.7 29.2 L487.9 26.2 L491.1 23.1 L494.4 19.9 L497.7 16.6 L501.1 13.3 L504.5 9.9 L508.0 6.5 L511.5 3.0 L515.1 -0.4 L518.7 -3.9" stroke="#F96E72" stroke-width="1.55" stroke-dasharray="6 3"/>
<path d="M392.4 154.5 L392.4 152.5 L392.5 150.6 L392.6 148.6 L392.8 146.7 L393.1 144.8 L393.4 142.9 L393.7 141.1 L394.1 139.3 L394.5 137.6 L395.1 135.9 L395.6 134.1 L396.2 132.4 L396.9 130.6 L397.6 128.7 L398.4 126.8 L399.2 124.9 L400.1 123.0 L401.0 121.2 L402.0 119.4 L403.0 117.6 L404.1 115.8 L405.2 114.0 L406.4 112.3 L407.7 110.6 L409.0 108.9 L410.3 107.3 L411.7 105.6 L413.2 103.7 L414.7 101.7 L416.3 99.6 L417.9 97.5 L419.6 95.3 L421.3 93.2 L423.1 91.3 L424.9 89.6 L426.8 88.0 L428.7 86.7 L430.7 85.5 L432.7 84.5 L434.8 83.5 L437.0 82.5 L439.2 81.5 L441.5 80.5 L443.8 79.5 L446.1 78.5 L448.5 77.6 L451.0 76.7 L453.5 75.9 L456.1 75.1 L458.7 74.3 L461.4 73.6 L464.1 73.0 L466.9 72.4 L469.8 71.8 L472.6 71.3 L475.6 70.8 L478.6 70.4 L481.6 70.1 L484.7 69.9 L487.9 69.7 L491.1 69.7 L494.4 69.8 L497.7 70.1 L501.1 70.4 L504.5 70.9 L508.0 71.5 L511.5 72.1 L515.1 72.7 L518.7 73.4" stroke="#F96E72" stroke-width="1.55" stroke-dasharray="6 3"/>
<path d="M392.4 154.5 L392.4 152.5 L392.5 150.6 L392.6 148.6 L392.8 146.7 L393.1 144.8 L393.4 142.9 L393.7 141.1 L394.1 139.3 L394.5 137.6 L395.1 135.9 L395.6 134.1 L396.2 132.4 L396.9 130.6 L397.6 128.7 L398.4 126.8 L399.2 124.9 L400.1 123.0 L401.0 121.2 L402.0 119.4 L403.0 117.6 L404.1 115.8 L405.2 114.0 L406.4 112.3 L407.7 110.6 L409.0 108.9 L410.3 107.2 L411.7 105.4 L413.2 103.8 L414.7 102.1 L416.3 100.5 L417.9 98.8 L419.6 97.0 L421.3 95.2 L423.1 93.3 L424.9 91.4 L426.8 89.6 L428.7 87.9 L430.7 86.3 L432.7 84.7 L434.8 83.2 L437.0 81.6 L439.2 80.0 L441.5 78.1 L443.8 76.2 L446.1 74.1 L448.5 72.2 L451.0 70.4 L453.5 68.8 L456.1 67.2 L458.7 65.8 L461.4 64.3 L464.1 62.8 L466.9 61.1 L469.8 59.5 L472.6 57.8 L475.6 56.1 L478.6 54.4 L481.6 52.7 L484.7 51.0 L487.9 49.2 L491.1 47.5 L494.4 45.7 L497.7 43.9 L501.1 42.1 L504.5 40.3 L508.0 38.5 L511.5 36.7 L515.1 35.0 L518.7 33.4" stroke="#F40000" stroke-width="1.8"/>
<path d="M392.4 154.5 L392.4 152.5 L392.5 150.6 L392.6 148.6 L392.8 146.7 L393.1 144.8 L393.4 142.9 L393.7 141.1 L394.1 139.3 L394.5 137.6 L395.1 135.9 L395.6 134.1 L396.2 132.4 L396.9 130.6 L397.6 128.7 L398.4 126.8 L399.2 124.9 L400.1 123.0 L401.0 121.2 L402.0 119.4 L403.0 117.6 L404.1 115.8 L405.2 114.0 L406.4 112.3 L407.7 110.6 L409.0 108.9 L410.3 107.2 L411.7 105.4 L413.2 103.8 L414.7 102.1 L416.3 100.5 L417.9 98.8 L419.6 97.0 L421.3 95.2 L423.1 93.3 L424.9 91.4 L426.8 89.7 L428.7 88.0 L430.7 86.3 L432.7 84.7 L434.8 83.1 L437.0 81.5 L439.2 79.9 L441.5 78.4 L443.8 77.0 L446.1 75.6 L448.5 74.2 L451.0 72.9 L453.5 71.7 L456.1 70.5 L458.7 69.3 L461.4 68.2 L464.1 67.2 L466.9 66.1 L469.8 65.2 L472.6 64.3 L475.6 63.4 L478.6 62.6 L481.6 61.8 L484.7 61.2 L487.9 60.6 L491.1 60.1 L494.4 59.7 L497.7 59.5 L501.1 59.5 L504.5 59.6 L508.0 59.9 L511.5 60.2 L515.1 60.6 L518.7 61.0" stroke="#F40000" stroke-width="1.8"/>
</g>
<g stroke="#5555FF" stroke-width="1.45" fill="#5555FF">
<circle cx="394.17" cy="139.00" r="2.4" stroke="none"/>
<circle cx="396.36" cy="132.00" r="2.4" stroke="none"/>
<circle cx="399.38" cy="124.50" r="2.4" stroke="none"/>
<circle cx="403.20" cy="117.25" r="2.4" stroke="none"/>
<circle cx="407.75" cy="110.50" r="2.4" stroke="none"/>
<circle cx="413.00" cy="104.00" r="2.4" stroke="none"/>
<circle cx="418.88" cy="97.75" r="2.4" stroke="none"/>
<circle cx="425.34" cy="91.00" r="2.4" stroke="none"/>
<rect x="430.0" y="83.6" width="4.7" height="2.8" stroke="none"/>
<circle cx="432.33" cy="85.00" r="2.4" stroke="none"/>
<rect x="437.5" y="77.3" width="4.7" height="4.3" stroke="none"/>
<circle cx="439.80" cy="79.50" r="2.4" stroke="none"/>
<rect x="445.4" y="71.6" width="4.7" height="4.8" stroke="none"/>
<circle cx="447.71" cy="74.00" r="2.4" stroke="none"/>
<rect x="453.6" y="66.6" width="4.7" height="5.3" stroke="none"/>
<circle cx="456.00" cy="69.25" r="2.4" stroke="none"/>
<rect x="462.3" y="61.9" width="4.7" height="5.3" stroke="none"/>
<circle cx="464.64" cy="64.50" r="2.4" stroke="none"/>
<rect x="471.2" y="57.5" width="4.7" height="5.5" stroke="none"/>
<circle cx="473.59" cy="60.25" r="2.4" stroke="none"/>
<rect x="480.5" y="53.2" width="4.7" height="5.5" stroke="none"/>
<circle cx="482.83" cy="56.00" r="2.4" stroke="none"/>
<rect x="490.0" y="49.5" width="4.7" height="5.5" stroke="none"/>
<circle cx="492.32" cy="52.25" r="2.4" stroke="none"/>
<rect x="499.7" y="45.6" width="4.7" height="5.8" stroke="none"/>
<circle cx="502.03" cy="48.50" r="2.4" stroke="none"/>
<rect x="509.6" y="42.4" width="4.7" height="5.8" stroke="none"/>
<circle cx="511.96" cy="45.25" r="2.4" stroke="none"/>
</g>
<rect x="266.70" y="6.40" width="31.00" height="26.50" fill="#FFFFD9" stroke="#333" stroke-width="1.3"/>
<text x="270.8" y="24.10" font-size="14" font-style="italic" font-family="Liberation Sans, sans-serif" fill="#111">S<tspan font-size="9.6" font-style="normal" dy="2.5" dx="-0.5">11</tspan></text>
<rect x="67.50" y="209.50" width="124.20" height="125.00" fill="none" stroke="#7a7a7a" stroke-width="0.85"/>
<g clip-path="url(#c10)">
<path d="M67.5 209.5 L67.5 209.8 L67.6 210.2 L67.7 210.6 L67.9 210.9 L68.2 211.3 L68.5 211.8 L68.8 212.3 L69.2 212.8 L69.6 213.4 L70.2 214.0 L70.7 214.7 L71.3 215.5 L72.0 216.3 L72.7 217.1 L73.5 218.0 L74.3 218.9 L75.2 219.9 L76.1 220.8 L77.1 221.9 L78.1 223.0 L79.2 224.2 L80.3 225.5 L81.5 226.9 L82.8 228.3 L84.1 229.8 L85.4 231.5 L86.8 233.4 L88.3 235.3 L89.8 237.1 L91.4 238.8 L93.0 240.5 L94.6 242.3 L96.4 244.1 L98.1 245.9 L100.0 247.7 L101.9 249.5 L103.8 251.3 L105.8 253.0 L107.8 254.7 L109.9 256.4 L112.1 258.1 L114.3 259.9 L116.5 261.7 L118.8 263.6 L121.2 265.6 L123.6 267.8 L126.1 270.2 L128.6 272.6 L131.1 275.0 L133.8 277.2 L136.4 279.4 L139.2 281.6 L142.0 283.9 L144.8 286.2 L147.7 288.7 L150.6 291.2 L153.6 293.7 L156.7 296.4 L159.8 299.1 L162.9 301.8 L166.1 304.5 L169.4 307.3 L172.7 310.0 L176.1 312.9 L179.5 315.8 L183.0 318.8 L186.5 321.9 L190.1 325.1 L193.7 328.2 L193.7 455.9 L190.1 447.7 L186.5 439.7 L183.0 431.7 L179.5 423.9 L176.1 416.1 L172.7 408.5 L169.4 401.0 L166.1 393.7 L162.9 386.4 L159.8 379.3 L156.7 372.3 L153.6 365.4 L150.6 358.7 L147.7 352.0 L144.8 345.5 L142.0 339.1 L139.2 332.8 L136.4 326.7 L133.8 320.8 L131.1 314.8 L128.6 308.8 L126.1 303.1 L123.6 297.7 L121.2 292.7 L118.8 288.0 L116.5 283.6 L114.3 279.6 L112.1 275.7 L109.9 271.8 L107.8 267.8 L105.8 263.8 L103.8 259.9 L101.9 256.2 L100.0 252.7 L98.1 249.3 L96.4 245.8 L94.6 243.1 L93.0 241.4 L91.4 240.2 L89.8 239.4 L88.3 238.6 L86.8 237.6 L85.4 236.5 L84.1 235.2 L82.8 233.9 L81.5 232.7 L80.3 231.5 L79.2 230.4 L78.1 229.3 L77.1 228.2 L76.1 227.2 L75.2 226.1 L74.3 225.0 L73.5 223.9 L72.7 222.9 L72.0 221.8 L71.3 220.8 L70.7 219.8 L70.2 218.8 L69.6 217.8 L69.2 216.8 L68.8 215.9 L68.5 215.0 L68.2 214.0 L67.9 213.1 L67.7 212.2 L67.6 211.3 L67.5 210.4 L67.5 209.5Z" fill="#FFDAB3"/>
<path d="M67.5 209.5 L67.5 210.4 L67.6 211.3 L67.7 212.2 L67.9 213.1 L68.2 214.0 L68.5 215.0 L68.8 215.9 L69.2 216.8 L69.6 217.8 L70.2 218.8 L70.7 219.8 L71.3 220.8 L72.0 221.8 L72.7 222.9 L73.5 223.9 L74.3 225.0 L75.2 226.1 L76.1 227.1 L77.1 228.2 L78.1 229.3 L79.2 230.4 L80.3 231.6 L81.5 232.8 L82.8 233.9 L84.1 235.1 L85.4 236.3 L86.8 237.4 L88.3 238.7 L89.8 240.0 L91.4 241.3 L93.0 242.7 L94.6 244.1 L96.4 245.5 L98.1 247.0 L100.0 248.4 L101.9 249.8 L103.8 251.3 L105.8 252.8 L107.8 254.3 L109.9 255.9 L112.1 257.6 L114.3 259.3 L116.5 261.0 L118.8 262.6 L121.2 264.2 L123.6 265.8 L126.1 267.4 L128.6 268.9 L131.1 270.5 L133.8 272.1 L136.4 273.8 L139.2 275.4 L142.0 277.0 L144.8 278.6 L147.7 280.1 L150.6 281.6 L153.6 283.1 L156.7 285.1 L159.8 287.0 L162.9 288.6 L166.1 290.2 L169.4 291.9 L172.7 293.7 L176.1 295.6 L179.5 297.5 L183.0 299.5 L186.5 301.4 L190.1 303.4 L193.7 305.3 L193.7 355.3 L190.1 350.9 L186.5 346.5 L183.0 342.2 L179.5 338.0 L176.1 333.8 L172.7 329.8 L169.4 326.0 L166.1 322.0 L162.9 318.1 L159.8 314.2 L156.7 310.4 L153.6 306.8 L150.6 303.5 L147.7 300.4 L144.8 297.4 L142.0 294.4 L139.2 291.3 L136.4 288.1 L133.8 284.8 L131.1 281.5 L128.6 278.3 L126.1 275.3 L123.6 272.4 L121.2 269.6 L118.8 266.9 L116.5 264.3 L114.3 261.6 L112.1 259.0 L109.9 256.6 L107.8 254.4 L105.8 252.6 L103.8 251.1 L101.9 249.8 L100.0 248.4 L98.1 247.0 L96.4 245.6 L94.6 244.1 L93.0 242.7 L91.4 241.3 L89.8 239.9 L88.3 238.7 L86.8 237.4 L85.4 236.3 L84.1 235.1 L82.8 233.9 L81.5 232.8 L80.3 231.6 L79.2 230.4 L78.1 229.3 L77.1 228.2 L76.1 227.1 L75.2 226.1 L74.3 225.0 L73.5 223.9 L72.7 222.9 L72.0 221.8 L71.3 220.8 L70.7 219.8 L70.2 218.8 L69.6 217.8 L69.2 216.8 L68.8 215.9 L68.5 215.0 L68.2 214.0 L67.9 213.1 L67.7 212.2 L67.6 211.3 L67.5 210.4 L67.5 209.5Z" fill="#FFCCCC"/>
<path d="M67.5 209.5 L67.5 210.4 L67.6 211.3 L67.7 212.2 L67.9 213.1 L68.2 214.0 L68.5 215.0 L68.8 215.9 L69.2 216.8 L69.6 217.8 L70.2 218.8 L70.7 219.8 L71.3 220.8 L72.0 221.8 L72.7 222.9 L73.5 223.9 L74.3 225.0 L75.2 226.1 L76.1 227.1 L77.1 228.2 L78.1 229.3 L79.2 230.4 L80.3 231.6 L81.5 232.8 L82.8 233.9 L84.1 235.1 L85.4 236.3 L86.8 237.4 L88.3 238.7 L89.8 240.0 L91.4 241.3 L93.0 242.7 L94.6 244.1 L96.4 245.5 L98.1 247.0 L100.0 248.4 L101.9 249.8 L103.8 251.3 L105.8 252.8 L107.8 254.3 L109.9 255.9 L112.1 257.6 L114.3 259.3 L116.5 261.0 L118.8 262.6 L121.2 264.2 L123.6 265.8 L126.1 267.3 L128.6 269.0 L131.1 271.1 L133.8 273.5 L136.4 276.2 L139.2 278.8 L142.0 281.1 L144.8 283.3 L147.7 285.5 L150.6 287.9 L153.6 290.5 L156.7 293.1 L159.8 295.7 L162.9 298.3 L166.1 300.8 L169.4 303.3 L172.7 305.8 L176.1 308.3 L179.5 310.8 L183.0 313.3 L186.5 315.8 L190.1 318.4 L193.7 320.9 L193.7 338.2 L190.1 334.6 L186.5 331.0 L183.0 327.5 L179.5 324.0 L176.1 320.7 L172.7 317.4 L169.4 314.1 L166.1 310.9 L162.9 307.8 L159.8 304.7 L156.7 301.6 L153.6 298.7 L150.6 295.8 L147.7 293.1 L144.8 290.4 L142.0 287.7 L139.2 285.1 L136.4 282.5 L133.8 280.0 L131.1 277.5 L128.6 275.1 L126.1 272.8 L123.6 270.5 L121.2 268.2 L118.8 265.8 L116.5 263.3 L114.3 260.9 L112.1 258.5 L109.9 256.3 L107.8 254.4 L105.8 252.7 L103.8 251.2 L101.9 249.8 L100.0 248.4 L98.1 247.0 L96.4 245.5 L94.6 244.1 L93.0 242.7 L91.4 241.3 L89.8 239.9 L88.3 238.7 L86.8 237.4 L85.4 236.3 L84.1 235.1 L82.8 233.9 L81.5 232.8 L80.3 231.6 L79.2 230.4 L78.1 229.3 L77.1 228.2 L76.1 227.1 L75.2 226.1 L74.3 225.0 L73.5 223.9 L72.7 222.9 L72.0 221.8 L71.3 220.8 L70.7 219.8 L70.2 218.8 L69.6 217.8 L69.2 216.8 L68.8 215.9 L68.5 215.0 L68.2 214.0 L67.9 213.1 L67.7 212.2 L67.6 211.3 L67.5 210.4 L67.5 209.5Z" fill="#FF9999"/>
</g>
<path d="M67.50 209.50 V334.50 H191.70 M67.50 209.50 H191.70" fill="none" stroke="#7a7a7a" stroke-width="0.85"/>
<path d="M191.70 209.50 V334.50" fill="none" stroke="#7a7a7a" stroke-width="0.85" stroke-opacity="0.5"/>
<line x1="67.50" y1="209.50" x2="70.50" y2="209.50" stroke="#7a7a7a" stroke-width="0.85"/>
<text x="62.30" y="213.00" text-anchor="end" font-size="12.4" font-family="Liberation Sans, sans-serif" fill="#000">0</text>
<line x1="67.50" y1="234.50" x2="70.50" y2="234.50" stroke="#7a7a7a" stroke-width="0.85"/>
<text x="62.30" y="238.00" text-anchor="end" font-size="12.4" font-family="Liberation Sans, sans-serif" fill="#000">−2</text>
<line x1="67.50" y1="259.50" x2="70.50" y2="259.50" stroke="#7a7a7a" stroke-width="0.85"/>
<text x="62.30" y="263.00" text-anchor="end" font-size="12.4" font-family="Liberation Sans, sans-serif" fill="#000">−4</text>
<line x1="67.50" y1="284.50" x2="70.50" y2="284.50" stroke="#7a7a7a" stroke-width="0.85"/>
<text x="62.30" y="288.00" text-anchor="end" font-size="12.4" font-family="Liberation Sans, sans-serif" fill="#000">−6</text>
<line x1="67.50" y1="309.50" x2="70.50" y2="309.50" stroke="#7a7a7a" stroke-width="0.85"/>
<text x="62.30" y="313.00" text-anchor="end" font-size="12.4" font-family="Liberation Sans, sans-serif" fill="#000">−8</text>
<line x1="67.50" y1="334.50" x2="70.50" y2="334.50" stroke="#7a7a7a" stroke-width="0.85"/>
<text x="62.30" y="338.00" text-anchor="end" font-size="12.4" font-family="Liberation Sans, sans-serif" fill="#000">−10</text>
<line x1="67.50" y1="334.50" x2="67.50" y2="331.50" stroke="#7a7a7a" stroke-width="0.85"/>
<text x="69.80" y="349.60" text-anchor="middle" font-size="12.4" font-family="Liberation Sans, sans-serif" fill="#000">0.00</text>
<line x1="129.60" y1="334.50" x2="129.60" y2="331.50" stroke="#7a7a7a" stroke-width="0.85"/>
<text x="131.90" y="349.60" text-anchor="middle" font-size="12.4" font-family="Liberation Sans, sans-serif" fill="#000">0.05</text>
<line x1="191.70" y1="334.50" x2="191.70" y2="331.50" stroke="#7a7a7a" stroke-width="0.85"/>
<text x="194.00" y="349.60" text-anchor="middle" font-size="12.4" font-family="Liberation Sans, sans-serif" fill="#000">0.10</text>
<g clip-path="url(#c10)" fill="none">
<path d="M67.5 209.5 L67.5 209.8 L67.6 210.2 L67.7 210.6 L67.9 210.9 L68.2 211.3 L68.5 211.8 L68.8 212.3 L69.2 212.8 L69.6 213.4 L70.2 214.0 L70.7 214.7 L71.3 215.5 L72.0 216.3 L72.7 217.1 L73.5 218.0 L74.3 218.9 L75.2 219.9 L76.1 220.8 L77.1 221.9 L78.1 223.0 L79.2 224.2 L80.3 225.5 L81.5 226.9 L82.8 228.3 L84.1 229.8 L85.4 231.5 L86.8 233.4 L88.3 235.3 L89.8 237.1 L91.4 238.8 L93.0 240.5 L94.6 242.3 L96.4 244.1 L98.1 245.9 L100.0 247.7 L101.9 249.5 L103.8 251.3 L105.8 253.0 L107.8 254.7 L109.9 256.4 L112.1 258.1 L114.3 259.9 L116.5 261.7 L118.8 263.6 L121.2 265.6 L123.6 267.8 L126.1 270.2 L128.6 272.6 L131.1 275.0 L133.8 277.2 L136.4 279.4 L139.2 281.6 L142.0 283.9 L144.8 286.2 L147.7 288.7 L150.6 291.2 L153.6 293.7 L156.7 296.4 L159.8 299.1 L162.9 301.8 L166.1 304.5 L169.4 307.3 L172.7 310.0 L176.1 312.9 L179.5 315.8 L183.0 318.8 L186.5 321.9 L190.1 325.1 L193.7 328.2" stroke="#FF8000" stroke-width="1.65" stroke-dasharray="2.7 2.5"/>
<path d="M67.5 209.5 L67.5 210.4 L67.6 211.3 L67.7 212.2 L67.9 213.1 L68.2 214.0 L68.5 215.0 L68.8 215.9 L69.2 216.8 L69.6 217.8 L70.2 218.8 L70.7 219.8 L71.3 220.8 L72.0 221.8 L72.7 222.9 L73.5 223.9 L74.3 225.0 L75.2 226.1 L76.1 227.2 L77.1 228.2 L78.1 229.3 L79.2 230.4 L80.3 231.5 L81.5 232.7 L82.8 233.9 L84.1 235.2 L85.4 236.5 L86.8 237.6 L88.3 238.6 L89.8 239.4 L91.4 240.2 L93.0 241.4 L94.6 243.1 L96.4 245.8 L98.1 249.3 L100.0 252.7 L101.9 256.2 L103.8 259.9 L105.8 263.8 L107.8 267.8 L109.9 271.8 L112.1 275.7 L114.3 279.6 L116.5 283.6 L118.8 288.0 L121.2 292.7 L123.6 297.7 L126.1 303.1 L128.6 308.8 L131.1 314.8 L133.8 320.8 L136.4 326.7 L139.2 332.8 L142.0 339.1 L144.8 345.5 L147.7 352.0 L150.6 358.7 L153.6 365.4 L156.7 372.3 L159.8 379.3 L162.9 386.4 L166.1 393.7 L169.4 401.0 L172.7 408.5 L176.1 416.1 L179.5 423.9 L183.0 431.7 L186.5 439.7 L190.1 447.7 L193.7 455.9" stroke="#FF8000" stroke-width="1.65" stroke-dasharray="2.7 2.5"/>
<path d="M67.5 209.5 L67.5 210.4 L67.6 211.3 L67.7 212.2 L67.9 213.1 L68.2 214.0 L68.5 215.0 L68.8 215.9 L69.2 216.8 L69.6 217.8 L70.2 218.8 L70.7 219.8 L71.3 220.8 L72.0 221.8 L72.7 222.9 L73.5 223.9 L74.3 225.0 L75.2 226.1 L76.1 227.1 L77.1 228.2 L78.1 229.3 L79.2 230.4 L80.3 231.6 L81.5 232.8 L82.8 233.9 L84.1 235.1 L85.4 236.3 L86.8 237.4 L88.3 238.7 L89.8 240.0 L91.4 241.3 L93.0 242.7 L94.6 244.1 L96.4 245.5 L98.1 247.0 L100.0 248.4 L101.9 249.8 L103.8 251.3 L105.8 252.8 L107.8 254.3 L109.9 255.9 L112.1 257.6 L114.3 259.3 L116.5 261.0 L118.8 262.6 L121.2 264.2 L123.6 265.8 L126.1 267.4 L128.6 268.9 L131.1 270.5 L133.8 272.1 L136.4 273.8 L139.2 275.4 L142.0 277.0 L144.8 278.6 L147.7 280.1 L150.6 281.6 L153.6 283.1 L156.7 285.1 L159.8 287.0 L162.9 288.6 L166.1 290.2 L169.4 291.9 L172.7 293.7 L176.1 295.6 L179.5 297.5 L183.0 299.5 L186.5 301.4 L190.1 303.4 L193.7 305.3" stroke="#F96E72" stroke-width="1.55" stroke-dasharray="6 3"/>
<path d="M67.5 209.5 L67.5 210.4 L67.6 211.3 L67.7 212.2 L67.9 213.1 L68.2 214.0 L68.5 215.0 L68.8 215.9 L69.2 216.8 L69.6 217.8 L70.2 218.8 L70.7 219.8 L71.3 220.8 L72.0 221.8 L72.7 222.9 L73.5 223.9 L74.3 225.0 L75.2 226.1 L76.1 227.1 L77.1 228.2 L78.1 229.3 L79.2 230.4 L80.3 231.6 L81.5 232.8 L82.8 233.9 L84.1 235.1 L85.4 236.3 L86.8 237.4 L88.3 238.7 L89.8 239.9 L91.4 241.3 L93.0 242.7 L94.6 244.1 L96.4 245.6 L98.1 247.0 L100.0 248.4 L101.9 249.8 L103.8 251.1 L105.8 252.6 L107.8 254.4 L109.9 256.6 L112.1 259.0 L114.3 261.6 L116.5 264.3 L118.8 266.9 L121.2 269.6 L123.6 272.4 L126.1 275.3 L128.6 278.3 L131.1 281.5 L133.8 284.8 L136.4 288.1 L139.2 291.3 L142.0 294.4 L144.8 297.4 L147.7 300.4 L150.6 303.5 L153.6 306.8 L156.7 310.4 L159.8 314.2 L162.9 318.1 L166.1 322.0 L169.4 326.0 L172.7 329.8 L176.1 333.8 L179.5 338.0 L183.0 342.2 L186.5 346.5 L190.1 350.9 L193.7 355.3" stroke="#F96E72" stroke-width="1.55" stroke-dasharray="6 3"/>
<path d="M67.5 209.5 L67.5 210.4 L67.6 211.3 L67.7 212.2 L67.9 213.1 L68.2 214.0 L68.5 215.0 L68.8 215.9 L69.2 216.8 L69.6 217.8 L70.2 218.8 L70.7 219.8 L71.3 220.8 L72.0 221.8 L72.7 222.9 L73.5 223.9 L74.3 225.0 L75.2 226.1 L76.1 227.1 L77.1 228.2 L78.1 229.3 L79.2 230.4 L80.3 231.6 L81.5 232.8 L82.8 233.9 L84.1 235.1 L85.4 236.3 L86.8 237.4 L88.3 238.7 L89.8 240.0 L91.4 241.3 L93.0 242.7 L94.6 244.1 L96.4 245.5 L98.1 247.0 L100.0 248.4 L101.9 249.8 L103.8 251.3 L105.8 252.8 L107.8 254.3 L109.9 255.9 L112.1 257.6 L114.3 259.3 L116.5 261.0 L118.8 262.6 L121.2 264.2 L123.6 265.8 L126.1 267.3 L128.6 269.0 L131.1 271.1 L133.8 273.5 L136.4 276.2 L139.2 278.8 L142.0 281.1 L144.8 283.3 L147.7 285.5 L150.6 287.9 L153.6 290.5 L156.7 293.1 L159.8 295.7 L162.9 298.3 L166.1 300.8 L169.4 303.3 L172.7 305.8 L176.1 308.3 L179.5 310.8 L183.0 313.3 L186.5 315.8 L190.1 318.4 L193.7 320.9" stroke="#F40000" stroke-width="1.8"/>
<path d="M67.5 209.5 L67.5 210.4 L67.6 211.3 L67.7 212.2 L67.9 213.1 L68.2 214.0 L68.5 215.0 L68.8 215.9 L69.2 216.8 L69.6 217.8 L70.2 218.8 L70.7 219.8 L71.3 220.8 L72.0 221.8 L72.7 222.9 L73.5 223.9 L74.3 225.0 L75.2 226.1 L76.1 227.1 L77.1 228.2 L78.1 229.3 L79.2 230.4 L80.3 231.6 L81.5 232.8 L82.8 233.9 L84.1 235.1 L85.4 236.3 L86.8 237.4 L88.3 238.7 L89.8 239.9 L91.4 241.3 L93.0 242.7 L94.6 244.1 L96.4 245.5 L98.1 247.0 L100.0 248.4 L101.9 249.8 L103.8 251.2 L105.8 252.7 L107.8 254.4 L109.9 256.3 L112.1 258.5 L114.3 260.9 L116.5 263.3 L118.8 265.8 L121.2 268.2 L123.6 270.5 L126.1 272.8 L128.6 275.1 L131.1 277.5 L133.8 280.0 L136.4 282.5 L139.2 285.1 L142.0 287.7 L144.8 290.4 L147.7 293.1 L150.6 295.8 L153.6 298.7 L156.7 301.6 L159.8 304.7 L162.9 307.8 L166.1 310.9 L169.4 314.1 L172.7 317.4 L176.1 320.7 L179.5 324.0 L183.0 327.5 L186.5 331.0 L190.1 334.6 L193.7 338.2" stroke="#F40000" stroke-width="1.8"/>
</g>
<g stroke="#5555FF" stroke-width="1.45" fill="#5555FF">
<circle cx="69.27" cy="217.00" r="2.4" stroke="none"/>
<circle cx="71.46" cy="221.00" r="2.4" stroke="none"/>
<circle cx="74.48" cy="225.25" r="2.4" stroke="none"/>
<circle cx="78.29" cy="229.50" r="2.4" stroke="none"/>
<circle cx="82.84" cy="234.00" r="2.4" stroke="none"/>
<circle cx="88.08" cy="238.50" r="2.4" stroke="none"/>
<circle cx="93.96" cy="243.50" r="2.4" stroke="none"/>
<circle cx="100.42" cy="248.75" r="2.4" stroke="none"/>
<circle cx="107.40" cy="254.00" r="2.4" stroke="none"/>
<rect x="112.5" y="258.4" width="4.7" height="2.8" stroke="none"/>
<circle cx="114.87" cy="259.75" r="2.4" stroke="none"/>
<rect x="120.4" y="263.4" width="4.7" height="3.8" stroke="none"/>
<circle cx="122.76" cy="265.25" r="2.4" stroke="none"/>
<rect x="128.7" y="268.9" width="4.7" height="4.3" stroke="none"/>
<circle cx="131.05" cy="271.00" r="2.4" stroke="none"/>
<rect x="137.3" y="274.9" width="4.7" height="4.8" stroke="none"/>
<circle cx="139.68" cy="277.25" r="2.4" stroke="none"/>
<rect x="146.3" y="280.9" width="4.7" height="5.3" stroke="none"/>
<circle cx="148.63" cy="283.50" r="2.4" stroke="none"/>
<rect x="155.5" y="287.1" width="4.7" height="5.3" stroke="none"/>
<circle cx="157.86" cy="289.75" r="2.4" stroke="none"/>
<rect x="165.0" y="293.5" width="4.7" height="5.5" stroke="none"/>
<circle cx="167.34" cy="296.25" r="2.4" stroke="none"/>
<rect x="174.7" y="300.0" width="4.7" height="5.5" stroke="none"/>
<circle cx="177.05" cy="302.75" r="2.4" stroke="none"/>
<rect x="184.6" y="306.5" width="4.7" height="5.5" stroke="none"/>
<circle cx="186.96" cy="309.25" r="2.4" stroke="none"/>
</g>
<rect x="229.60" y="209.50" width="125.20" height="125.00" fill="none" stroke="#7a7a7a" stroke-width="0.85"/>
<g clip-path="url(#c11)">
<path d="M229.6 209.5 L229.6 209.8 L229.7 210.2 L229.8 210.6 L230.0 210.9 L230.3 211.3 L230.6 211.8 L230.9 212.3 L231.3 212.8 L231.8 213.4 L232.3 214.0 L232.8 214.7 L233.4 215.5 L234.1 216.3 L234.8 217.1 L235.6 218.0 L236.4 218.9 L237.3 219.9 L238.3 220.8 L239.2 221.9 L240.3 223.0 L241.4 224.2 L242.5 225.5 L243.7 226.9 L245.0 228.3 L246.3 229.8 L247.7 231.5 L249.1 233.4 L250.5 235.3 L252.1 237.1 L253.6 238.8 L255.3 240.5 L257.0 242.3 L258.7 244.1 L260.5 245.9 L262.3 247.7 L264.2 249.5 L266.2 251.3 L268.2 253.0 L270.2 254.7 L272.4 256.4 L274.5 258.2 L276.7 259.9 L279.0 261.6 L281.3 263.5 L283.7 265.6 L286.1 267.8 L288.6 270.3 L291.2 272.9 L293.8 275.2 L296.4 277.5 L299.1 279.7 L301.9 281.9 L304.7 284.2 L307.5 286.5 L310.4 289.0 L313.4 291.5 L316.4 294.0 L319.5 296.6 L322.6 299.2 L325.8 301.9 L329.0 304.5 L332.3 307.2 L335.7 309.8 L339.0 312.4 L342.5 315.0 L346.0 317.7 L349.5 320.4 L353.2 323.1 L356.8 325.8 L356.8 409.0 L353.2 402.4 L349.5 396.0 L346.0 389.6 L342.5 383.4 L339.0 377.2 L335.7 371.1 L332.3 365.2 L329.0 359.3 L325.8 353.5 L322.6 347.8 L319.5 342.2 L316.4 336.7 L313.4 331.3 L310.4 326.0 L307.5 320.9 L304.7 315.9 L301.9 311.0 L299.1 306.0 L296.4 301.0 L293.8 295.8 L291.2 291.0 L288.6 286.7 L286.1 282.5 L283.7 278.3 L281.3 274.2 L279.0 270.4 L276.7 266.8 L274.5 263.6 L272.4 260.7 L270.2 258.2 L268.2 255.8 L266.2 253.6 L264.2 251.5 L262.3 249.5 L260.5 247.6 L258.7 245.9 L257.0 244.3 L255.3 242.8 L253.6 241.3 L252.1 240.0 L250.5 238.7 L249.1 237.4 L247.7 236.3 L246.3 235.1 L245.0 233.9 L243.7 232.8 L242.5 231.6 L241.4 230.4 L240.3 229.3 L239.2 228.2 L238.3 227.1 L237.3 226.1 L236.4 225.0 L235.6 223.9 L234.8 222.9 L234.1 221.8 L233.4 220.8 L232.8 219.8 L232.3 218.8 L231.8 217.8 L231.3 216.8 L230.9 215.9 L230.6 215.0 L230.3 214.0 L230.0 213.1 L229.8 212.2 L229.7 211.3 L229.6 210.4 L229.6 209.5Z" fill="#FFDAB3"/>
<path d="M229.6 209.5 L229.6 210.4 L229.7 211.3 L229.8 212.2 L230.0 213.1 L230.3 214.0 L230.6 215.0 L230.9 215.9 L231.3 216.8 L231.8 217.8 L232.3 218.8 L232.8 219.8 L233.4 220.8 L234.1 221.8 L234.8 222.9 L235.6 223.9 L236.4 225.0 L237.3 226.1 L238.3 227.1 L239.2 228.2 L240.3 229.3 L241.4 230.4 L242.5 231.6 L243.7 232.8 L245.0 233.9 L246.3 235.1 L247.7 236.3 L249.1 237.4 L250.5 238.7 L252.1 240.0 L253.6 241.3 L255.3 242.7 L257.0 244.1 L258.7 245.5 L260.5 247.0 L262.3 248.4 L264.2 249.8 L266.2 251.3 L268.2 252.8 L270.2 254.3 L272.4 256.0 L274.5 257.6 L276.7 259.3 L279.0 260.9 L281.3 262.5 L283.7 264.2 L286.1 265.8 L288.6 267.6 L291.2 269.3 L293.8 271.1 L296.4 272.9 L299.1 274.6 L301.9 276.3 L304.7 278.1 L307.5 279.8 L310.4 281.6 L313.4 283.4 L316.4 285.1 L319.5 286.9 L322.6 288.7 L325.8 290.5 L329.0 292.2 L332.3 293.9 L335.7 295.6 L339.0 297.4 L342.5 299.3 L346.0 301.3 L349.5 303.5 L353.2 305.8 L356.8 308.1 L356.8 343.2 L353.2 339.6 L349.5 336.0 L346.0 332.5 L342.5 329.0 L339.0 325.6 L335.7 322.3 L332.3 319.0 L329.0 315.7 L325.8 312.3 L322.6 308.9 L319.5 305.6 L316.4 302.4 L313.4 299.2 L310.4 296.1 L307.5 293.2 L304.7 290.2 L301.9 287.4 L299.1 284.6 L296.4 281.9 L293.8 279.1 L291.2 276.3 L288.6 273.5 L286.1 270.7 L283.7 268.2 L281.3 265.8 L279.0 263.6 L276.7 261.2 L274.5 258.8 L272.4 256.5 L270.2 254.4 L268.2 252.6 L266.2 251.1 L264.2 249.8 L262.3 248.4 L260.5 247.0 L258.7 245.6 L257.0 244.1 L255.3 242.7 L253.6 241.3 L252.1 239.9 L250.5 238.7 L249.1 237.4 L247.7 236.3 L246.3 235.1 L245.0 233.9 L243.7 232.8 L242.5 231.6 L241.4 230.4 L240.3 229.3 L239.2 228.2 L238.3 227.1 L237.3 226.1 L236.4 225.0 L235.6 223.9 L234.8 222.9 L234.1 221.8 L233.4 220.8 L232.8 219.8 L232.3 218.8 L231.8 217.8 L231.3 216.8 L230.9 215.9 L230.6 215.0 L230.3 214.0 L230.0 213.1 L229.8 212.2 L229.7 211.3 L229.6 210.4 L229.6 209.5Z" fill="#FFCCCC"/>
<path d="M229.6 209.5 L229.6 210.4 L229.7 211.3 L229.8 212.2 L230.0 213.1 L230.3 214.0 L230.6 215.0 L230.9 215.9 L231.3 216.8 L231.8 217.8 L232.3 218.8 L232.8 219.8 L233.4 220.8 L234.1 221.8 L234.8 222.9 L235.6 223.9 L236.4 225.0 L237.3 226.1 L238.3 227.1 L239.2 228.2 L240.3 229.3 L241.4 230.4 L242.5 231.6 L243.7 232.8 L245.0 233.9 L246.3 235.1 L247.7 236.3 L249.1 237.4 L250.5 238.7 L252.1 240.0 L253.6 241.3 L255.3 242.7 L257.0 244.1 L258.7 245.5 L260.5 247.0 L262.3 248.4 L264.2 249.8 L266.2 251.3 L268.2 252.8 L270.2 254.3 L272.4 255.9 L274.5 257.6 L276.7 259.3 L279.0 261.0 L281.3 262.6 L283.7 264.2 L286.1 265.7 L288.6 267.2 L291.2 268.9 L293.8 271.1 L296.4 273.9 L299.1 277.0 L301.9 280.2 L304.7 282.9 L307.5 285.4 L310.4 287.7 L313.4 290.1 L316.4 292.5 L319.5 294.9 L322.6 297.3 L325.8 299.7 L329.0 302.1 L332.3 304.5 L335.7 307.0 L339.0 309.5 L342.5 312.0 L346.0 314.6 L349.5 317.1 L353.2 319.7 L356.8 322.2 L356.8 334.1 L353.2 330.9 L349.5 327.8 L346.0 324.6 L342.5 321.5 L339.0 318.5 L335.7 315.5 L332.3 312.5 L329.0 309.5 L325.8 306.4 L322.6 303.4 L319.5 300.4 L316.4 297.4 L313.4 294.6 L310.4 291.8 L307.5 289.1 L304.7 286.5 L301.9 283.8 L299.1 281.2 L296.4 278.6 L293.8 276.2 L291.2 273.9 L288.6 271.8 L286.1 269.8 L283.7 267.7 L281.3 265.5 L279.0 263.1 L276.7 260.8 L274.5 258.5 L272.4 256.3 L270.2 254.4 L268.2 252.7 L266.2 251.2 L264.2 249.8 L262.3 248.4 L260.5 247.0 L258.7 245.5 L257.0 244.1 L255.3 242.7 L253.6 241.3 L252.1 239.9 L250.5 238.7 L249.1 237.4 L247.7 236.3 L246.3 235.1 L245.0 233.9 L243.7 232.8 L242.5 231.6 L241.4 230.4 L240.3 229.3 L239.2 228.2 L238.3 227.1 L237.3 226.1 L236.4 225.0 L235.6 223.9 L234.8 222.9 L234.1 221.8 L233.4 220.8 L232.8 219.8 L232.3 218.8 L231.8 217.8 L231.3 216.8 L230.9 215.9 L230.6 215.0 L230.3 214.0 L230.0 213.1 L229.8 212.2 L229.7 211.3 L229.6 210.4 L229.6 209.5Z" fill="#FF9999"/>
</g>
<path d="M229.60 209.50 V334.50 H354.80 M229.60 209.50 H354.80" fill="none" stroke="#7a7a7a" stroke-width="0.85"/>
<path d="M354.80 209.50 V334.50" fill="none" stroke="#7a7a7a" stroke-width="0.85" stroke-opacity="0.5"/>
<line x1="229.60" y1="209.50" x2="232.60" y2="209.50" stroke="#7a7a7a" stroke-width="0.85"/>
<line x1="229.60" y1="234.50" x2="232.60" y2="234.50" stroke="#7a7a7a" stroke-width="0.85"/>
<line x1="229.60" y1="259.50" x2="232.60" y2="259.50" stroke="#7a7a7a" stroke-width="0.85"/>
<line x1="229.60" y1="284.50" x2="232.60" y2="284.50" stroke="#7a7a7a" stroke-width="0.85"/>
<line x1="229.60" y1="309.50" x2="232.60" y2="309.50" stroke="#7a7a7a" stroke-width="0.85"/>
<line x1="229.60" y1="334.50" x2="232.60" y2="334.50" stroke="#7a7a7a" stroke-width="0.85"/>
<line x1="229.60" y1="334.50" x2="229.60" y2="331.50" stroke="#7a7a7a" stroke-width="0.85"/>
<text x="231.90" y="349.60" text-anchor="middle" font-size="12.4" font-family="Liberation Sans, sans-serif" fill="#000">0.00</text>
<line x1="292.20" y1="334.50" x2="292.20" y2="331.50" stroke="#7a7a7a" stroke-width="0.85"/>
<text x="294.50" y="349.60" text-anchor="middle" font-size="12.4" font-family="Liberation Sans, sans-serif" fill="#000">0.05</text>
<line x1="354.80" y1="334.50" x2="354.80" y2="331.50" stroke="#7a7a7a" stroke-width="0.85"/>
<text x="357.10" y="349.60" text-anchor="middle" font-size="12.4" font-family="Liberation Sans, sans-serif" fill="#000">0.10</text>
<g clip-path="url(#c11)" fill="none">
<path d="M229.6 209.5 L229.6 209.8 L229.7 210.2 L229.8 210.6 L230.0 210.9 L230.3 211.3 L230.6 211.8 L230.9 212.3 L231.3 212.8 L231.8 213.4 L232.3 214.0 L232.8 214.7 L233.4 215.5 L234.1 216.3 L234.8 217.1 L235.6 218.0 L236.4 218.9 L237.3 219.9 L238.3 220.8 L239.2 221.9 L240.3 223.0 L241.4 224.2 L242.5 225.5 L243.7 226.9 L245.0 228.3 L246.3 229.8 L247.7 231.5 L249.1 233.4 L250.5 235.3 L252.1 237.1 L253.6 238.8 L255.3 240.5 L257.0 242.3 L258.7 244.1 L260.5 245.9 L262.3 247.7 L264.2 249.5 L266.2 251.3 L268.2 253.0 L270.2 254.7 L272.4 256.4 L274.5 258.2 L276.7 259.9 L279.0 261.6 L281.3 263.5 L283.7 265.6 L286.1 267.8 L288.6 270.3 L291.2 272.9 L293.8 275.2 L296.4 277.5 L299.1 279.7 L301.9 281.9 L304.7 284.2 L307.5 286.5 L310.4 289.0 L313.4 291.5 L316.4 294.0 L319.5 296.6 L322.6 299.2 L325.8 301.9 L329.0 304.5 L332.3 307.2 L335.7 309.8 L339.0 312.4 L342.5 315.0 L346.0 317.7 L349.5 320.4 L353.2 323.1 L356.8 325.8" stroke="#FF8000" stroke-width="1.65" stroke-dasharray="2.7 2.5"/>
<path d="M229.6 209.5 L229.6 210.4 L229.7 211.3 L229.8 212.2 L230.0 213.1 L230.3 214.0 L230.6 215.0 L230.9 215.9 L231.3 216.8 L231.8 217.8 L232.3 218.8 L232.8 219.8 L233.4 220.8 L234.1 221.8 L234.8 222.9 L235.6 223.9 L236.4 225.0 L237.3 226.1 L238.3 227.1 L239.2 228.2 L240.3 229.3 L241.4 230.4 L242.5 231.6 L243.7 232.8 L245.0 233.9 L246.3 235.1 L247.7 236.3 L249.1 237.4 L250.5 238.7 L252.1 240.0 L253.6 241.3 L255.3 242.8 L257.0 244.3 L258.7 245.9 L260.5 247.6 L262.3 249.5 L264.2 251.5 L266.2 253.6 L268.2 255.8 L270.2 258.2 L272.4 260.7 L274.5 263.6 L276.7 266.8 L279.0 270.4 L281.3 274.2 L283.7 278.3 L286.1 282.5 L288.6 286.7 L291.2 291.0 L293.8 295.8 L296.4 301.0 L299.1 306.0 L301.9 311.0 L304.7 315.9 L307.5 320.9 L310.4 326.0 L313.4 331.3 L316.4 336.7 L319.5 342.2 L322.6 347.8 L325.8 353.5 L329.0 359.3 L332.3 365.2 L335.7 371.1 L339.0 377.2 L342.5 383.4 L346.0 389.6 L349.5 396.0 L353.2 402.4 L356.8 409.0" stroke="#FF8000" stroke-width="1.65" stroke-dasharray="2.7 2.5"/>
<path d="M229.6 209.5 L229.6 210.4 L229.7 211.3 L229.8 212.2 L230.0 213.1 L230.3 214.0 L230.6 215.0 L230.9 215.9 L231.3 216.8 L231.8 217.8 L232.3 218.8 L232.8 219.8 L233.4 220.8 L234.1 221.8 L234.8 222.9 L235.6 223.9 L236.4 225.0 L237.3 226.1 L238.3 227.1 L239.2 228.2 L240.3 229.3 L241.4 230.4 L242.5 231.6 L243.7 232.8 L245.0 233.9 L246.3 235.1 L247.7 236.3 L249.1 237.4 L250.5 238.7 L252.1 240.0 L253.6 241.3 L255.3 242.7 L257.0 244.1 L258.7 245.5 L260.5 247.0 L262.3 248.4 L264.2 249.8 L266.2 251.3 L268.2 252.8 L270.2 254.3 L272.4 256.0 L274.5 257.6 L276.7 259.3 L279.0 260.9 L281.3 262.5 L283.7 264.2 L286.1 265.8 L288.6 267.6 L291.2 269.3 L293.8 271.1 L296.4 272.9 L299.1 274.6 L301.9 276.3 L304.7 278.1 L307.5 279.8 L310.4 281.6 L313.4 283.4 L316.4 285.1 L319.5 286.9 L322.6 288.7 L325.8 290.5 L329.0 292.2 L332.3 293.9 L335.7 295.6 L339.0 297.4 L342.5 299.3 L346.0 301.3 L349.5 303.5 L353.2 305.8 L356.8 308.1" stroke="#F96E72" stroke-width="1.55" stroke-dasharray="6 3"/>
<path d="M229.6 209.5 L229.6 210.4 L229.7 211.3 L229.8 212.2 L230.0 213.1 L230.3 214.0 L230.6 215.0 L230.9 215.9 L231.3 216.8 L231.8 217.8 L232.3 218.8 L232.8 219.8 L233.4 220.8 L234.1 221.8 L234.8 222.9 L235.6 223.9 L236.4 225.0 L237.3 226.1 L238.3 227.1 L239.2 228.2 L240.3 229.3 L241.4 230.4 L242.5 231.6 L243.7 232.8 L245.0 233.9 L246.3 235.1 L247.7 236.3 L249.1 237.4 L250.5 238.7 L252.1 239.9 L253.6 241.3 L255.3 242.7 L257.0 244.1 L258.7 245.6 L260.5 247.0 L262.3 248.4 L264.2 249.8 L266.2 251.1 L268.2 252.6 L270.2 254.4 L272.4 256.5 L274.5 258.8 L276.7 261.2 L279.0 263.6 L281.3 265.8 L283.7 268.2 L286.1 270.7 L288.6 273.5 L291.2 276.3 L293.8 279.1 L296.4 281.9 L299.1 284.6 L301.9 287.4 L304.7 290.2 L307.5 293.2 L310.4 296.1 L313.4 299.2 L316.4 302.4 L319.5 305.6 L322.6 308.9 L325.8 312.3 L329.0 315.7 L332.3 319.0 L335.7 322.3 L339.0 325.6 L342.5 329.0 L346.0 332.5 L349.5 336.0 L353.2 339.6 L356.8 343.2" stroke="#F96E72" stroke-width="1.55" stroke-dasharray="6 3"/>
<path d="M229.6 209.5 L229.6 210.4 L229.7 211.3 L229.8 212.2 L230.0 213.1 L230.3 214.0 L230.6 215.0 L230.9 215.9 L231.3 216.8 L231.8 217.8 L232.3 218.8 L232.8 219.8 L233.4 220.8 L234.1 221.8 L234.8 222.9 L235.6 223.9 L236.4 225.0 L237.3 226.1 L238.3 227.1 L239.2 228.2 L240.3 229.3 L241.4 230.4 L242.5 231.6 L243.7 232.8 L245.0 233.9 L246.3 235.1 L247.7 236.3 L249.1 237.4 L250.5 238.7 L252.1 240.0 L253.6 241.3 L255.3 242.7 L257.0 244.1 L258.7 245.5 L260.5 247.0 L262.3 248.4 L264.2 249.8 L266.2 251.3 L268.2 252.8 L270.2 254.3 L272.4 255.9 L274.5 257.6 L276.7 259.3 L279.0 261.0 L281.3 262.6 L283.7 264.2 L286.1 265.7 L288.6 267.2 L291.2 268.9 L293.8 271.1 L296.4 273.9 L299.1 277.0 L301.9 280.2 L304.7 282.9 L307.5 285.4 L310.4 287.7 L313.4 290.1 L316.4 292.5 L319.5 294.9 L322.6 297.3 L325.8 299.7 L329.0 302.1 L332.3 304.5 L335.7 307.0 L339.0 309.5 L342.5 312.0 L346.0 314.6 L349.5 317.1 L353.2 319.7 L356.8 322.2" stroke="#F40000" stroke-width="1.8"/>
<path d="M229.6 209.5 L229.6 210.4 L229.7 211.3 L229.8 212.2 L230.0 213.1 L230.3 214.0 L230.6 215.0 L230.9 215.9 L231.3 216.8 L231.8 217.8 L232.3 218.8 L232.8 219.8 L233.4 220.8 L234.1 221.8 L234.8 222.9 L235.6 223.9 L236.4 225.0 L237.3 226.1 L238.3 227.1 L239.2 228.2 L240.3 229.3 L241.4 230.4 L242.5 231.6 L243.7 232.8 L245.0 233.9 L246.3 235.1 L247.7 236.3 L249.1 237.4 L250.5 238.7 L252.1 239.9 L253.6 241.3 L255.3 242.7 L257.0 244.1 L258.7 245.5 L260.5 247.0 L262.3 248.4 L264.2 249.8 L266.2 251.2 L268.2 252.7 L270.2 254.4 L272.4 256.3 L274.5 258.5 L276.7 260.8 L279.0 263.1 L281.3 265.5 L283.7 267.7 L286.1 269.8 L288.6 271.8 L291.2 273.9 L293.8 276.2 L296.4 278.6 L299.1 281.2 L301.9 283.8 L304.7 286.5 L307.5 289.1 L310.4 291.8 L313.4 294.6 L316.4 297.4 L319.5 300.4 L322.6 303.4 L325.8 306.4 L329.0 309.5 L332.3 312.5 L335.7 315.5 L339.0 318.5 L342.5 321.5 L346.0 324.6 L349.5 327.8 L353.2 330.9 L356.8 334.1" stroke="#F40000" stroke-width="1.8"/>
</g>
<g stroke="#5555FF" stroke-width="1.45" fill="#5555FF">
<circle cx="231.38" cy="217.00" r="2.4" stroke="none"/>
<circle cx="233.59" cy="221.00" r="2.4" stroke="none"/>
<circle cx="236.63" cy="225.25" r="2.4" stroke="none"/>
<circle cx="240.47" cy="229.50" r="2.4" stroke="none"/>
<circle cx="245.06" cy="234.00" r="2.4" stroke="none"/>
<circle cx="250.35" cy="238.50" r="2.4" stroke="none"/>
<circle cx="256.27" cy="243.50" r="2.4" stroke="none"/>
<circle cx="262.78" cy="248.75" r="2.4" stroke="none"/>
<circle cx="269.82" cy="254.00" r="2.4" stroke="none"/>
<rect x="275.0" y="258.4" width="4.7" height="2.8" stroke="none"/>
<circle cx="277.35" cy="259.75" r="2.4" stroke="none"/>
<rect x="283.0" y="263.4" width="4.7" height="3.8" stroke="none"/>
<circle cx="285.31" cy="265.25" r="2.4" stroke="none"/>
<rect x="291.3" y="268.9" width="4.7" height="4.3" stroke="none"/>
<circle cx="293.66" cy="271.00" r="2.4" stroke="none"/>
<rect x="300.0" y="274.9" width="4.7" height="4.8" stroke="none"/>
<circle cx="302.36" cy="277.25" r="2.4" stroke="none"/>
<rect x="309.0" y="280.9" width="4.7" height="5.3" stroke="none"/>
<circle cx="311.38" cy="283.50" r="2.4" stroke="none"/>
<rect x="318.3" y="287.1" width="4.7" height="5.3" stroke="none"/>
<circle cx="320.68" cy="289.75" r="2.4" stroke="none"/>
<rect x="327.9" y="293.5" width="4.7" height="5.5" stroke="none"/>
<circle cx="330.24" cy="296.25" r="2.4" stroke="none"/>
<rect x="337.7" y="300.0" width="4.7" height="5.5" stroke="none"/>
<circle cx="340.03" cy="302.75" r="2.4" stroke="none"/>
<rect x="347.7" y="306.5" width="4.7" height="5.5" stroke="none"/>
<circle cx="350.02" cy="309.25" r="2.4" stroke="none"/>
</g>
<rect x="392.40" y="209.50" width="124.30" height="125.00" fill="none" stroke="#7a7a7a" stroke-width="0.85"/>
<g clip-path="url(#c12)">
<path d="M392.4 209.5 L392.4 209.8 L392.5 210.2 L392.6 210.6 L392.8 210.9 L393.1 211.3 L393.4 211.8 L393.7 212.3 L394.1 212.8 L394.5 213.4 L395.1 214.0 L395.6 214.7 L396.2 215.5 L396.9 216.3 L397.6 217.1 L398.4 218.0 L399.2 218.9 L400.1 219.9 L401.0 220.8 L402.0 221.9 L403.0 223.0 L404.1 224.2 L405.2 225.5 L406.4 226.9 L407.7 228.3 L409.0 229.8 L410.3 231.5 L411.7 233.4 L413.2 235.3 L414.7 237.1 L416.3 238.8 L417.9 240.5 L419.6 242.3 L421.3 244.1 L423.1 245.9 L424.9 247.7 L426.8 249.5 L428.7 251.3 L430.7 253.0 L432.7 254.7 L434.8 256.4 L437.0 258.1 L439.2 259.9 L441.5 261.7 L443.8 263.5 L446.1 265.6 L448.5 267.8 L451.0 270.3 L453.5 272.9 L456.1 275.3 L458.7 277.6 L461.4 279.8 L464.1 282.1 L466.9 284.4 L469.8 286.8 L472.6 289.3 L475.6 291.9 L478.6 294.5 L481.6 297.1 L484.7 299.7 L487.9 302.4 L491.1 305.0 L494.4 307.7 L497.7 310.4 L501.1 313.1 L504.5 315.8 L508.0 318.5 L511.5 321.3 L515.1 324.0 L518.7 326.8 L518.7 402.1 L515.1 396.0 L511.5 390.0 L508.0 384.0 L504.5 378.2 L501.1 372.4 L497.7 366.8 L494.4 361.2 L491.1 355.7 L487.9 350.3 L484.7 345.0 L481.6 339.8 L478.6 334.6 L475.6 329.6 L472.6 324.8 L469.8 320.1 L466.9 315.3 L464.1 310.5 L461.4 305.5 L458.7 300.6 L456.1 295.8 L453.5 291.0 L451.0 286.3 L448.5 282.0 L446.1 278.0 L443.8 274.2 L441.5 270.5 L439.2 266.9 L437.0 263.6 L434.8 260.7 L432.7 258.1 L430.7 255.8 L428.7 253.6 L426.8 251.5 L424.9 249.5 L423.1 247.6 L421.3 245.9 L419.6 244.3 L417.9 242.7 L416.3 241.3 L414.7 240.0 L413.2 238.7 L411.7 237.4 L410.3 236.3 L409.0 235.1 L407.7 233.9 L406.4 232.8 L405.2 231.6 L404.1 230.4 L403.0 229.3 L402.0 228.2 L401.0 227.1 L400.1 226.1 L399.2 225.0 L398.4 223.9 L397.6 222.9 L396.9 221.8 L396.2 220.8 L395.6 219.8 L395.1 218.8 L394.5 217.8 L394.1 216.8 L393.7 215.9 L393.4 215.0 L393.1 214.0 L392.8 213.1 L392.6 212.2 L392.5 211.3 L392.4 210.4 L392.4 209.5Z" fill="#FFDAB3"/>
<path d="M392.4 209.5 L392.4 210.4 L392.5 211.3 L392.6 212.2 L392.8 213.1 L393.1 214.0 L393.4 215.0 L393.7 215.9 L394.1 216.8 L394.5 217.8 L395.1 218.8 L395.6 219.8 L396.2 220.8 L396.9 221.8 L397.6 222.9 L398.4 223.9 L399.2 225.0 L400.1 226.1 L401.0 227.1 L402.0 228.2 L403.0 229.3 L404.1 230.4 L405.2 231.6 L406.4 232.8 L407.7 233.9 L409.0 235.1 L410.3 236.3 L411.7 237.4 L413.2 238.7 L414.7 240.0 L416.3 241.3 L417.9 242.7 L419.6 244.1 L421.3 245.5 L423.1 247.0 L424.9 248.4 L426.8 249.8 L428.7 251.3 L430.7 252.8 L432.7 254.3 L434.8 255.9 L437.0 257.6 L439.2 259.3 L441.5 260.9 L443.8 262.6 L446.1 264.2 L448.5 265.8 L451.0 267.5 L453.5 269.2 L456.1 271.0 L458.7 272.9 L461.4 274.8 L464.1 276.7 L466.9 278.6 L469.8 280.4 L472.6 282.1 L475.6 283.9 L478.6 285.6 L481.6 287.5 L484.7 289.4 L487.9 291.4 L491.1 293.4 L494.4 295.4 L497.7 297.5 L501.1 299.6 L504.5 301.8 L508.0 304.1 L511.5 306.5 L515.1 308.9 L518.7 311.3 L518.7 340.7 L515.1 337.1 L511.5 333.5 L508.0 330.0 L504.5 326.5 L501.1 323.1 L497.7 319.7 L494.4 316.4 L491.1 313.2 L487.9 310.0 L484.7 306.8 L481.6 303.7 L478.6 300.6 L475.6 297.6 L472.6 294.6 L469.8 291.7 L466.9 289.0 L464.1 286.4 L461.4 283.9 L458.7 281.5 L456.1 279.0 L453.5 276.3 L451.0 273.5 L448.5 270.8 L446.1 268.2 L443.8 265.8 L441.5 263.5 L439.2 261.2 L437.0 258.9 L434.8 256.5 L432.7 254.4 L430.7 252.6 L428.7 251.1 L426.8 249.8 L424.9 248.4 L423.1 247.0 L421.3 245.6 L419.6 244.1 L417.9 242.7 L416.3 241.3 L414.7 239.9 L413.2 238.7 L411.7 237.4 L410.3 236.3 L409.0 235.1 L407.7 233.9 L406.4 232.8 L405.2 231.6 L404.1 230.4 L403.0 229.3 L402.0 228.2 L401.0 227.1 L400.1 226.1 L399.2 225.0 L398.4 223.9 L397.6 222.9 L396.9 221.8 L396.2 220.8 L395.6 219.8 L395.1 218.8 L394.5 217.8 L394.1 216.8 L393.7 215.9 L393.4 215.0 L393.1 214.0 L392.8 213.1 L392.6 212.2 L392.5 211.3 L392.4 210.4 L392.4 209.5Z" fill="#FFCCCC"/>
<path d="M392.4 209.5 L392.4 210.4 L392.5 211.3 L392.6 212.2 L392.8 213.1 L393.1 214.0 L393.4 215.0 L393.7 215.9 L394.1 216.8 L394.5 217.8 L395.1 218.8 L395.6 219.8 L396.2 220.8 L396.9 221.8 L397.6 222.9 L398.4 223.9 L399.2 225.0 L400.1 226.1 L401.0 227.1 L402.0 228.2 L403.0 229.3 L404.1 230.4 L405.2 231.6 L406.4 232.8 L407.7 233.9 L409.0 235.1 L410.3 236.3 L411.7 237.4 L413.2 238.7 L414.7 240.0 L416.3 241.3 L417.9 242.7 L419.6 244.1 L421.3 245.5 L423.1 247.0 L424.9 248.4 L426.8 249.8 L428.7 251.3 L430.7 252.8 L432.7 254.3 L434.8 255.9 L437.0 257.6 L439.2 259.3 L441.5 261.0 L443.8 262.6 L446.1 264.2 L448.5 265.7 L451.0 267.2 L453.5 268.9 L456.1 271.1 L458.7 273.9 L461.4 277.0 L464.1 280.1 L466.9 282.9 L469.8 285.4 L472.6 287.7 L475.6 290.1 L478.6 292.5 L481.6 295.0 L484.7 297.5 L487.9 300.0 L491.1 302.6 L494.4 305.0 L497.7 307.5 L501.1 310.0 L504.5 312.5 L508.0 315.1 L511.5 317.7 L515.1 320.3 L518.7 322.9 L518.7 333.3 L515.1 330.0 L511.5 326.7 L508.0 323.5 L504.5 320.3 L501.1 317.2 L497.7 314.1 L494.4 311.1 L491.1 308.2 L487.9 305.4 L484.7 302.5 L481.6 299.7 L478.6 297.0 L475.6 294.2 L472.6 291.4 L469.8 288.6 L466.9 286.0 L464.1 283.3 L461.4 280.8 L458.7 278.4 L456.1 276.1 L453.5 273.9 L451.0 271.8 L448.5 269.8 L446.1 267.7 L443.8 265.5 L441.5 263.1 L439.2 260.8 L437.0 258.5 L434.8 256.3 L432.7 254.4 L430.7 252.7 L428.7 251.2 L426.8 249.8 L424.9 248.4 L423.1 247.0 L421.3 245.5 L419.6 244.1 L417.9 242.7 L416.3 241.3 L414.7 239.9 L413.2 238.7 L411.7 237.4 L410.3 236.3 L409.0 235.1 L407.7 233.9 L406.4 232.8 L405.2 231.6 L404.1 230.4 L403.0 229.3 L402.0 228.2 L401.0 227.1 L400.1 226.1 L399.2 225.0 L398.4 223.9 L397.6 222.9 L396.9 221.8 L396.2 220.8 L395.6 219.8 L395.1 218.8 L394.5 217.8 L394.1 216.8 L393.7 215.9 L393.4 215.0 L393.1 214.0 L392.8 213.1 L392.6 212.2 L392.5 211.3 L392.4 210.4 L392.4 209.5Z" fill="#FF9999"/>
</g>
<path d="M392.40 209.50 V334.50 H516.70 M392.40 209.50 H516.70" fill="none" stroke="#7a7a7a" stroke-width="0.85"/>
<path d="M516.70 209.50 V334.50" fill="none" stroke="#7a7a7a" stroke-width="0.85" stroke-opacity="0.5"/>
<line x1="392.40" y1="209.50" x2="395.40" y2="209.50" stroke="#7a7a7a" stroke-width="0.85"/>
<line x1="392.40" y1="234.50" x2="395.40" y2="234.50" stroke="#7a7a7a" stroke-width="0.85"/>
<line x1="392.40" y1="259.50" x2="395.40" y2="259.50" stroke="#7a7a7a" stroke-width="0.85"/>
<line x1="392.40" y1="284.50" x2="395.40" y2="284.50" stroke="#7a7a7a" stroke-width="0.85"/>
<line x1="392.40" y1="309.50" x2="395.40" y2="309.50" stroke="#7a7a7a" stroke-width="0.85"/>
<line x1="392.40" y1="334.50" x2="395.40" y2="334.50" stroke="#7a7a7a" stroke-width="0.85"/>
<line x1="392.40" y1="334.50" x2="392.40" y2="331.50" stroke="#7a7a7a" stroke-width="0.85"/>
<text x="394.70" y="349.60" text-anchor="middle" font-size="12.4" font-family="Liberation Sans, sans-serif" fill="#000">0.00</text>
<line x1="454.55" y1="334.50" x2="454.55" y2="331.50" stroke="#7a7a7a" stroke-width="0.85"/>
<text x="456.85" y="349.60" text-anchor="middle" font-size="12.4" font-family="Liberation Sans, sans-serif" fill="#000">0.05</text>
<line x1="516.70" y1="334.50" x2="516.70" y2="331.50" stroke="#7a7a7a" stroke-width="0.85"/>
<text x="519.00" y="349.60" text-anchor="middle" font-size="12.4" font-family="Liberation Sans, sans-serif" fill="#000">0.10</text>
<g clip-path="url(#c12)" fill="none">
<path d="M392.4 209.5 L392.4 209.8 L392.5 210.2 L392.6 210.6 L392.8 210.9 L393.1 211.3 L393.4 211.8 L393.7 212.3 L394.1 212.8 L394.5 213.4 L395.1 214.0 L395.6 214.7 L396.2 215.5 L396.9 216.3 L397.6 217.1 L398.4 218.0 L399.2 218.9 L400.1 219.9 L401.0 220.8 L402.0 221.9 L403.0 223.0 L404.1 224.2 L405.2 225.5 L406.4 226.9 L407.7 228.3 L409.0 229.8 L410.3 231.5 L411.7 233.4 L413.2 235.3 L414.7 237.1 L416.3 238.8 L417.9 240.5 L419.6 242.3 L421.3 244.1 L423.1 245.9 L424.9 247.7 L426.8 249.5 L428.7 251.3 L430.7 253.0 L432.7 254.7 L434.8 256.4 L437.0 258.1 L439.2 259.9 L441.5 261.7 L443.8 263.5 L446.1 265.6 L448.5 267.8 L451.0 270.3 L453.5 272.9 L456.1 275.3 L458.7 277.6 L461.4 279.8 L464.1 282.1 L466.9 284.4 L469.8 286.8 L472.6 289.3 L475.6 291.9 L478.6 294.5 L481.6 297.1 L484.7 299.7 L487.9 302.4 L491.1 305.0 L494.4 307.7 L497.7 310.4 L501.1 313.1 L504.5 315.8 L508.0 318.5 L511.5 321.3 L515.1 324.0 L518.7 326.8" stroke="#FF8000" stroke-width="1.65" stroke-dasharray="2.7 2.5"/>
<path d="M392.4 209.5 L392.4 210.4 L392.5 211.3 L392.6 212.2 L392.8 213.1 L393.1 214.0 L393.4 215.0 L393.7 215.9 L394.1 216.8 L394.5 217.8 L395.1 218.8 L395.6 219.8 L396.2 220.8 L396.9 221.8 L397.6 222.9 L398.4 223.9 L399.2 225.0 L400.1 226.1 L401.0 227.1 L402.0 228.2 L403.0 229.3 L404.1 230.4 L405.2 231.6 L406.4 232.8 L407.7 233.9 L409.0 235.1 L410.3 236.3 L411.7 237.4 L413.2 238.7 L414.7 240.0 L416.3 241.3 L417.9 242.7 L419.6 244.3 L421.3 245.9 L423.1 247.6 L424.9 249.5 L426.8 251.5 L428.7 253.6 L430.7 255.8 L432.7 258.1 L434.8 260.7 L437.0 263.6 L439.2 266.9 L441.5 270.5 L443.8 274.2 L446.1 278.0 L448.5 282.0 L451.0 286.3 L453.5 291.0 L456.1 295.8 L458.7 300.6 L461.4 305.5 L464.1 310.5 L466.9 315.3 L469.8 320.1 L472.6 324.8 L475.6 329.6 L478.6 334.6 L481.6 339.8 L484.7 345.0 L487.9 350.3 L491.1 355.7 L494.4 361.2 L497.7 366.8 L501.1 372.4 L504.5 378.2 L508.0 384.0 L511.5 390.0 L515.1 396.0 L518.7 402.1" stroke="#FF8000" stroke-width="1.65" stroke-dasharray="2.7 2.5"/>
<path d="M392.4 209.5 L392.4 210.4 L392.5 211.3 L392.6 212.2 L392.8 213.1 L393.1 214.0 L393.4 215.0 L393.7 215.9 L394.1 216.8 L394.5 217.8 L395.1 218.8 L395.6 219.8 L396.2 220.8 L396.9 221.8 L397.6 222.9 L398.4 223.9 L399.2 225.0 L400.1 226.1 L401.0 227.1 L402.0 228.2 L403.0 229.3 L404.1 230.4 L405.2 231.6 L406.4 232.8 L407.7 233.9 L409.0 235.1 L410.3 236.3 L411.7 237.4 L413.2 238.7 L414.7 240.0 L416.3 241.3 L417.9 242.7 L419.6 244.1 L421.3 245.5 L423.1 247.0 L424.9 248.4 L426.8 249.8 L428.7 251.3 L430.7 252.8 L432.7 254.3 L434.8 255.9 L437.0 257.6 L439.2 259.3 L441.5 260.9 L443.8 262.6 L446.1 264.2 L448.5 265.8 L451.0 267.5 L453.5 269.2 L456.1 271.0 L458.7 272.9 L461.4 274.8 L464.1 276.7 L466.9 278.6 L469.8 280.4 L472.6 282.1 L475.6 283.9 L478.6 285.6 L481.6 287.5 L484.7 289.4 L487.9 291.4 L491.1 293.4 L494.4 295.4 L497.7 297.5 L501.1 299.6 L504.5 301.8 L508.0 304.1 L511.5 306.5 L515.1 308.9 L518.7 311.3" stroke="#F96E72" stroke-width="1.55" stroke-dasharray="6 3"/>
<path d="M392.4 209.5 L392.4 210.4 L392.5 211.3 L392.6 212.2 L392.8 213.1 L393.1 214.0 L393.4 215.0 L393.7 215.9 L394.1 216.8 L394.5 217.8 L395.1 218.8 L395.6 219.8 L396.2 220.8 L396.9 221.8 L397.6 222.9 L398.4 223.9 L399.2 225.0 L400.1 226.1 L401.0 227.1 L402.0 228.2 L403.0 229.3 L404.1 230.4 L405.2 231.6 L406.4 232.8 L407.7 233.9 L409.0 235.1 L410.3 236.3 L411.7 237.4 L413.2 238.7 L414.7 239.9 L416.3 241.3 L417.9 242.7 L419.6 244.1 L421.3 245.6 L423.1 247.0 L424.9 248.4 L426.8 249.8 L428.7 251.1 L430.7 252.6 L432.7 254.4 L434.8 256.5 L437.0 258.9 L439.2 261.2 L441.5 263.5 L443.8 265.8 L446.1 268.2 L448.5 270.8 L451.0 273.5 L453.5 276.3 L456.1 279.0 L458.7 281.5 L461.4 283.9 L464.1 286.4 L466.9 289.0 L469.8 291.7 L472.6 294.6 L475.6 297.6 L478.6 300.6 L481.6 303.7 L484.7 306.8 L487.9 310.0 L491.1 313.2 L494.4 316.4 L497.7 319.7 L501.1 323.1 L504.5 326.5 L508.0 330.0 L511.5 333.5 L515.1 337.1 L518.7 340.7" stroke="#F96E72" stroke-width="1.55" stroke-dasharray="6 3"/>
<path d="M392.4 209.5 L392.4 210.4 L392.5 211.3 L392.6 212.2 L392.8 213.1 L393.1 214.0 L393.4 215.0 L393.7 215.9 L394.1 216.8 L394.5 217.8 L395.1 218.8 L395.6 219.8 L396.2 220.8 L396.9 221.8 L397.6 222.9 L398.4 223.9 L399.2 225.0 L400.1 226.1 L401.0 227.1 L402.0 228.2 L403.0 229.3 L404.1 230.4 L405.2 231.6 L406.4 232.8 L407.7 233.9 L409.0 235.1 L410.3 236.3 L411.7 237.4 L413.2 238.7 L414.7 240.0 L416.3 241.3 L417.9 242.7 L419.6 244.1 L421.3 245.5 L423.1 247.0 L424.9 248.4 L426.8 249.8 L428.7 251.3 L430.7 252.8 L432.7 254.3 L434.8 255.9 L437.0 257.6 L439.2 259.3 L441.5 261.0 L443.8 262.6 L446.1 264.2 L448.5 265.7 L451.0 267.2 L453.5 268.9 L456.1 271.1 L458.7 273.9 L461.4 277.0 L464.1 280.1 L466.9 282.9 L469.8 285.4 L472.6 287.7 L475.6 290.1 L478.6 292.5 L481.6 295.0 L484.7 297.5 L487.9 300.0 L491.1 302.6 L494.4 305.0 L497.7 307.5 L501.1 310.0 L504.5 312.5 L508.0 315.1 L511.5 317.7 L515.1 320.3 L518.7 322.9" stroke="#F40000" stroke-width="1.8"/>
<path d="M392.4 209.5 L392.4 210.4 L392.5 211.3 L392.6 212.2 L392.8 213.1 L393.1 214.0 L393.4 215.0 L393.7 215.9 L394.1 216.8 L394.5 217.8 L395.1 218.8 L395.6 219.8 L396.2 220.8 L396.9 221.8 L397.6 222.9 L398.4 223.9 L399.2 225.0 L400.1 226.1 L401.0 227.1 L402.0 228.2 L403.0 229.3 L404.1 230.4 L405.2 231.6 L406.4 232.8 L407.7 233.9 L409.0 235.1 L410.3 236.3 L411.7 237.4 L413.2 238.7 L414.7 239.9 L416.3 241.3 L417.9 242.7 L419.6 244.1 L421.3 245.5 L423.1 247.0 L424.9 248.4 L426.8 249.8 L428.7 251.2 L430.7 252.7 L432.7 254.4 L434.8 256.3 L437.0 258.5 L439.2 260.8 L441.5 263.1 L443.8 265.5 L446.1 267.7 L448.5 269.8 L451.0 271.8 L453.5 273.9 L456.1 276.1 L458.7 278.4 L461.4 280.8 L464.1 283.3 L466.9 286.0 L469.8 288.6 L472.6 291.4 L475.6 294.2 L478.6 297.0 L481.6 299.7 L484.7 302.5 L487.9 305.4 L491.1 308.2 L494.4 311.1 L497.7 314.1 L501.1 317.2 L504.5 320.3 L508.0 323.5 L511.5 326.7 L515.1 330.0 L518.7 333.3" stroke="#F40000" stroke-width="1.8"/>
</g>
<g stroke="#5555FF" stroke-width="1.45" fill="#5555FF">
<circle cx="394.17" cy="217.00" r="2.4" stroke="none"/>
<circle cx="396.36" cy="221.00" r="2.4" stroke="none"/>
<circle cx="399.38" cy="225.25" r="2.4" stroke="none"/>
<circle cx="403.20" cy="229.50" r="2.4" stroke="none"/>
<circle cx="407.75" cy="234.00" r="2.4" stroke="none"/>
<circle cx="413.00" cy="238.50" r="2.4" stroke="none"/>
<circle cx="418.88" cy="243.50" r="2.4" stroke="none"/>
<circle cx="425.34" cy="248.75" r="2.4" stroke="none"/>
<circle cx="432.33" cy="254.00" r="2.4" stroke="none"/>
<rect x="437.5" y="258.4" width="4.7" height="2.8" stroke="none"/>
<circle cx="439.80" cy="259.75" r="2.4" stroke="none"/>
<rect x="445.4" y="263.4" width="4.7" height="3.8" stroke="none"/>
<circle cx="447.71" cy="265.25" r="2.4" stroke="none"/>
<rect x="453.6" y="268.9" width="4.7" height="4.3" stroke="none"/>
<circle cx="456.00" cy="271.00" r="2.4" stroke="none"/>
<rect x="462.3" y="274.9" width="4.7" height="4.8" stroke="none"/>
<circle cx="464.64" cy="277.25" r="2.4" stroke="none"/>
<rect x="471.2" y="280.9" width="4.7" height="5.3" stroke="none"/>
<circle cx="473.59" cy="283.50" r="2.4" stroke="none"/>
<rect x="480.5" y="287.1" width="4.7" height="5.3" stroke="none"/>
<circle cx="482.83" cy="289.75" r="2.4" stroke="none"/>
<rect x="490.0" y="293.5" width="4.7" height="5.5" stroke="none"/>
<circle cx="492.32" cy="296.25" r="2.4" stroke="none"/>
<rect x="499.7" y="300.0" width="4.7" height="5.5" stroke="none"/>
<circle cx="502.03" cy="302.75" r="2.4" stroke="none"/>
<rect x="509.6" y="306.5" width="4.7" height="5.5" stroke="none"/>
<circle cx="511.96" cy="309.25" r="2.4" stroke="none"/>
</g>
<rect x="266.70" y="186.40" width="31.00" height="26.50" fill="#FFFFD9" stroke="#333" stroke-width="1.3"/>
<text x="270.8" y="204.10" font-size="14" font-style="italic" font-family="Liberation Sans, sans-serif" fill="#111">S<tspan font-size="9.6" font-style="normal" dy="2.5" dx="-0.5">31</tspan></text>
<rect x="67.50" y="389.50" width="124.20" height="125.00" fill="none" stroke="#7a7a7a" stroke-width="0.85"/>
<g clip-path="url(#c20)">
<path d="M67.5 389.5 L69.3 386.8 L71.2 384.1 L73.0 381.5 L74.8 379.1 L76.6 376.9 L78.5 374.9 L80.3 373.2 L82.1 371.6 L84.0 370.3 L85.8 369.1 L87.6 368.1 L89.4 367.2 L91.3 366.4 L93.1 365.7 L94.9 365.2 L96.8 364.7 L98.6 364.2 L100.4 363.8 L102.3 363.4 L104.1 363.0 L105.9 362.7 L107.7 362.4 L109.6 362.0 L111.4 361.8 L113.2 361.5 L115.1 361.3 L116.9 361.1 L118.7 360.9 L120.5 360.7 L122.4 360.5 L124.2 360.4 L126.0 360.3 L127.9 360.2 L129.7 360.1 L131.5 360.0 L133.3 360.0 L135.2 359.9 L137.0 359.9 L138.8 359.9 L140.7 359.9 L142.5 360.0 L144.3 360.0 L146.1 360.0 L148.0 360.1 L149.8 360.2 L151.6 360.3 L153.5 360.4 L155.3 360.5 L157.1 360.6 L158.9 360.7 L160.8 360.8 L162.6 361.0 L164.4 361.1 L166.3 361.3 L168.1 361.5 L169.9 361.6 L171.8 361.8 L173.6 362.0 L175.4 362.2 L177.2 362.4 L179.1 362.6 L180.9 362.8 L182.7 363.0 L184.6 363.2 L186.4 363.4 L188.2 363.6 L190.0 363.8 L191.9 364.0 L193.7 364.2 L193.7 513.0 L191.9 510.6 L190.0 508.3 L188.2 506.0 L186.4 503.6 L184.6 501.2 L182.7 498.8 L180.9 496.3 L179.1 494.0 L177.2 491.8 L175.4 489.8 L173.6 487.7 L171.8 485.6 L169.9 483.5 L168.1 481.5 L166.3 479.5 L164.4 477.7 L162.6 475.9 L160.8 474.1 L158.9 472.2 L157.1 470.4 L155.3 468.6 L153.5 466.8 L151.6 465.0 L149.8 463.2 L148.0 461.5 L146.1 459.9 L144.3 458.4 L142.5 456.9 L140.7 455.5 L138.8 454.1 L137.0 452.9 L135.2 451.6 L133.3 450.4 L131.5 449.2 L129.7 448.0 L127.9 446.7 L126.0 445.3 L124.2 443.9 L122.4 442.5 L120.5 441.0 L118.7 439.5 L116.9 438.0 L115.1 436.5 L113.2 434.9 L111.4 433.3 L109.6 431.6 L107.7 429.9 L105.9 428.1 L104.1 426.3 L102.3 424.5 L100.4 422.6 L98.6 420.7 L96.8 418.7 L94.9 416.6 L93.1 414.5 L91.3 412.5 L89.4 410.7 L87.6 408.8 L85.8 406.7 L84.0 404.4 L82.1 401.8 L80.3 399.1 L78.5 396.5 L76.6 394.3 L74.8 392.5 L73.0 391.4 L71.2 390.6 L69.3 390.0 L67.5 389.5Z" fill="#FFDAB3"/>
<path d="M67.5 389.5 L69.3 389.8 L71.2 390.1 L73.0 390.4 L74.8 390.9 L76.6 391.6 L78.5 392.3 L80.3 393.1 L82.1 393.7 L84.0 394.3 L85.8 394.9 L87.6 395.4 L89.4 395.9 L91.3 396.4 L93.1 396.8 L94.9 397.1 L96.8 397.3 L98.6 397.5 L100.4 397.5 L102.3 397.5 L104.1 397.4 L105.9 397.2 L107.7 396.9 L109.6 396.5 L111.4 396.1 L113.2 395.5 L115.1 394.8 L116.9 394.1 L118.7 393.3 L120.5 392.4 L122.4 391.5 L124.2 390.4 L126.0 389.2 L127.9 387.7 L129.7 386.1 L131.5 384.3 L133.3 382.3 L135.2 380.1 L137.0 377.7 L138.8 375.2 L140.7 372.5 L142.5 369.7 L144.3 366.7 L146.1 363.7 L148.0 360.5 L149.8 357.2 L151.6 353.9 L153.5 350.4 L155.3 347.0 L157.1 343.4 L158.9 339.9 L160.8 336.3 L162.6 332.7 L164.4 329.2 L166.3 325.6 L168.1 322.0 L169.9 318.4 L171.8 314.8 L173.6 311.2 L175.4 307.7 L177.2 304.1 L179.1 300.5 L180.9 296.9 L182.7 293.3 L184.6 289.7 L186.4 286.2 L188.2 282.6 L190.0 279.0 L191.9 275.4 L193.7 271.8 L193.7 685.9 L191.9 680.5 L190.0 675.2 L188.2 669.8 L186.4 664.4 L184.6 659.0 L182.7 653.7 L180.9 648.3 L179.1 642.9 L177.2 637.5 L175.4 632.1 L173.6 626.8 L171.8 621.4 L169.9 616.0 L168.1 610.6 L166.3 605.3 L164.4 599.9 L162.6 594.5 L160.8 589.1 L158.9 583.8 L157.1 578.4 L155.3 573.0 L153.5 567.6 L151.6 562.3 L149.8 556.9 L148.0 551.5 L146.1 546.1 L144.3 540.7 L142.5 535.4 L140.7 530.0 L138.8 524.6 L137.0 519.2 L135.2 513.9 L133.3 508.5 L131.5 503.2 L129.7 498.1 L127.9 493.4 L126.0 488.9 L124.2 484.6 L122.4 480.3 L120.5 476.0 L118.7 471.8 L116.9 467.5 L115.1 463.3 L113.2 459.1 L111.4 455.1 L109.6 451.4 L107.7 448.0 L105.9 444.8 L104.1 441.6 L102.3 438.3 L100.4 434.9 L98.6 431.5 L96.8 428.2 L94.9 425.0 L93.1 421.7 L91.3 418.3 L89.4 414.7 L87.6 411.0 L85.8 407.4 L84.0 404.0 L82.1 400.9 L80.3 398.1 L78.5 395.8 L76.6 393.9 L74.8 392.5 L73.0 391.4 L71.2 390.6 L69.3 390.0 L67.5 389.5Z" fill="#FFCCCC"/>
<path d="M67.5 389.5 L69.3 390.0 L71.2 390.6 L73.0 391.4 L74.8 392.5 L76.6 393.9 L78.5 395.4 L80.3 397.0 L82.1 398.8 L84.0 400.7 L85.8 402.7 L87.6 404.8 L89.4 406.6 L91.3 408.3 L93.1 409.8 L94.9 411.2 L96.8 412.7 L98.6 414.1 L100.4 415.7 L102.3 417.3 L104.1 419.0 L105.9 420.8 L107.7 422.5 L109.6 424.1 L111.4 425.6 L113.2 427.0 L115.1 428.2 L116.9 429.3 L118.7 430.2 L120.5 430.9 L122.4 431.4 L124.2 431.7 L126.0 431.8 L127.9 431.8 L129.7 431.7 L131.5 431.6 L133.3 431.3 L135.2 430.8 L137.0 430.0 L138.8 428.9 L140.7 427.6 L142.5 426.2 L144.3 424.6 L146.1 422.7 L148.0 420.7 L149.8 418.5 L151.6 416.1 L153.5 413.6 L155.3 410.9 L157.1 408.2 L158.9 405.2 L160.8 401.9 L162.6 398.3 L164.4 394.7 L166.3 391.3 L168.1 388.1 L169.9 384.1 L171.8 379.5 L173.6 374.9 L175.4 370.2 L177.2 365.5 L179.1 360.9 L180.9 356.2 L182.7 351.5 L184.6 346.9 L186.4 342.2 L188.2 337.5 L190.0 332.9 L191.9 328.2 L193.7 323.6 L193.7 459.5 L191.9 461.9 L190.0 464.1 L188.2 466.4 L186.4 468.5 L184.6 470.5 L182.7 472.2 L180.9 473.8 L179.1 475.3 L177.2 476.6 L175.4 477.8 L173.6 478.9 L171.8 479.9 L169.9 480.7 L168.1 481.3 L166.3 481.9 L164.4 482.2 L162.6 482.5 L160.8 482.5 L158.9 482.3 L157.1 482.0 L155.3 481.6 L153.5 481.0 L151.6 480.3 L149.8 479.6 L148.0 478.8 L146.1 477.8 L144.3 476.8 L142.5 475.7 L140.7 474.4 L138.8 473.0 L137.0 471.5 L135.2 470.0 L133.3 468.4 L131.5 466.8 L129.7 465.0 L127.9 463.0 L126.0 460.7 L124.2 458.3 L122.4 455.9 L120.5 453.6 L118.7 451.3 L116.9 449.2 L115.1 447.2 L113.2 445.2 L111.4 443.2 L109.6 441.0 L107.7 438.7 L105.9 436.2 L104.1 433.7 L102.3 431.2 L100.4 428.7 L98.6 426.1 L96.8 423.4 L94.9 420.6 L93.1 417.8 L91.3 415.1 L89.4 412.6 L87.6 410.2 L85.8 408.0 L84.0 405.7 L82.1 403.5 L80.3 401.2 L78.5 398.7 L76.6 396.2 L74.8 393.8 L73.0 391.9 L71.2 390.6 L69.3 390.0 L67.5 389.5Z" fill="#FF9999"/>
</g>
<path d="M67.50 389.50 V514.50 H191.70 M67.50 389.50 H191.70" fill="none" stroke="#7a7a7a" stroke-width="0.85"/>
<path d="M191.70 389.50 V514.50" fill="none" stroke="#7a7a7a" stroke-width="0.85" stroke-opacity="0.5"/>
<line x1="67.50" y1="389.50" x2="70.50" y2="389.50" stroke="#7a7a7a" stroke-width="0.85"/>
<text x="62.30" y="393.00" text-anchor="end" font-size="12.4" font-family="Liberation Sans, sans-serif" fill="#000">0.0</text>
<line x1="67.50" y1="420.75" x2="70.50" y2="420.75" stroke="#7a7a7a" stroke-width="0.85"/>
<text x="62.30" y="424.25" text-anchor="end" font-size="12.4" font-family="Liberation Sans, sans-serif" fill="#000">−0.5</text>
<line x1="67.50" y1="452.00" x2="70.50" y2="452.00" stroke="#7a7a7a" stroke-width="0.85"/>
<text x="62.30" y="455.50" text-anchor="end" font-size="12.4" font-family="Liberation Sans, sans-serif" fill="#000">−1.0</text>
<line x1="67.50" y1="483.25" x2="70.50" y2="483.25" stroke="#7a7a7a" stroke-width="0.85"/>
<text x="62.30" y="486.75" text-anchor="end" font-size="12.4" font-family="Liberation Sans, sans-serif" fill="#000">−1.5</text>
<line x1="67.50" y1="514.50" x2="70.50" y2="514.50" stroke="#7a7a7a" stroke-width="0.85"/>
<text x="62.30" y="518.00" text-anchor="end" font-size="12.4" font-family="Liberation Sans, sans-serif" fill="#000">−2.0</text>
<line x1="67.50" y1="514.50" x2="67.50" y2="511.50" stroke="#7a7a7a" stroke-width="0.85"/>
<text x="69.80" y="529.60" text-anchor="middle" font-size="12.4" font-family="Liberation Sans, sans-serif" fill="#000">0.00</text>
<line x1="129.60" y1="514.50" x2="129.60" y2="511.50" stroke="#7a7a7a" stroke-width="0.85"/>
<text x="131.90" y="529.60" text-anchor="middle" font-size="12.4" font-family="Liberation Sans, sans-serif" fill="#000">0.05</text>
<line x1="191.70" y1="514.50" x2="191.70" y2="511.50" stroke="#7a7a7a" stroke-width="0.85"/>
<text x="194.00" y="529.60" text-anchor="middle" font-size="12.4" font-family="Liberation Sans, sans-serif" fill="#000">0.10</text>
<g clip-path="url(#c20)" fill="none">
<path d="M67.5 389.5 L69.3 386.8 L71.2 384.1 L73.0 381.5 L74.8 379.1 L76.6 376.9 L78.5 374.9 L80.3 373.2 L82.1 371.6 L84.0 370.3 L85.8 369.1 L87.6 368.1 L89.4 367.2 L91.3 366.4 L93.1 365.7 L94.9 365.2 L96.8 364.7 L98.6 364.2 L100.4 363.8 L102.3 363.4 L104.1 363.0 L105.9 362.7 L107.7 362.4 L109.6 362.0 L111.4 361.8 L113.2 361.5 L115.1 361.3 L116.9 361.1 L118.7 360.9 L120.5 360.7 L122.4 360.5 L124.2 360.4 L126.0 360.3 L127.9 360.2 L129.7 360.1 L131.5 360.0 L133.3 360.0 L135.2 359.9 L137.0 359.9 L138.8 359.9 L140.7 359.9 L142.5 360.0 L144.3 360.0 L146.1 360.0 L148.0 360.1 L149.8 360.2 L151.6 360.3 L153.5 360.4 L155.3 360.5 L157.1 360.6 L158.9 360.7 L160.8 360.8 L162.6 361.0 L164.4 361.1 L166.3 361.3 L168.1 361.5 L169.9 361.6 L171.8 361.8 L173.6 362.0 L175.4 362.2 L177.2 362.4 L179.1 362.6 L180.9 362.8 L182.7 363.0 L184.6 363.2 L186.4 363.4 L188.2 363.6 L190.0 363.8 L191.9 364.0 L193.7 364.2" stroke="#FF8000" stroke-width="1.65" stroke-dasharray="2.7 2.5"/>
<path d="M67.5 389.5 L69.3 390.0 L71.2 390.6 L73.0 391.4 L74.8 392.5 L76.6 394.3 L78.5 396.5 L80.3 399.1 L82.1 401.8 L84.0 404.4 L85.8 406.7 L87.6 408.8 L89.4 410.7 L91.3 412.5 L93.1 414.5 L94.9 416.6 L96.8 418.7 L98.6 420.7 L100.4 422.6 L102.3 424.5 L104.1 426.3 L105.9 428.1 L107.7 429.9 L109.6 431.6 L111.4 433.3 L113.2 434.9 L115.1 436.5 L116.9 438.0 L118.7 439.5 L120.5 441.0 L122.4 442.5 L124.2 443.9 L126.0 445.3 L127.9 446.7 L129.7 448.0 L131.5 449.2 L133.3 450.4 L135.2 451.6 L137.0 452.9 L138.8 454.1 L140.7 455.5 L142.5 456.9 L144.3 458.4 L146.1 459.9 L148.0 461.5 L149.8 463.2 L151.6 465.0 L153.5 466.8 L155.3 468.6 L157.1 470.4 L158.9 472.2 L160.8 474.1 L162.6 475.9 L164.4 477.7 L166.3 479.5 L168.1 481.5 L169.9 483.5 L171.8 485.6 L173.6 487.7 L175.4 489.8 L177.2 491.8 L179.1 494.0 L180.9 496.3 L182.7 498.8 L184.6 501.2 L186.4 503.6 L188.2 506.0 L190.0 508.3 L191.9 510.6 L193.7 513.0" stroke="#FF8000" stroke-width="1.65" stroke-dasharray="2.7 2.5"/>
<path d="M67.5 389.5 L69.3 389.8 L71.2 390.1 L73.0 390.4 L74.8 390.9 L76.6 391.6 L78.5 392.3 L80.3 393.1 L82.1 393.7 L84.0 394.3 L85.8 394.9 L87.6 395.4 L89.4 395.9 L91.3 396.4 L93.1 396.8 L94.9 397.1 L96.8 397.3 L98.6 397.5 L100.4 397.5 L102.3 397.5 L104.1 397.4 L105.9 397.2 L107.7 396.9 L109.6 396.5 L111.4 396.1 L113.2 395.5 L115.1 394.8 L116.9 394.1 L118.7 393.3 L120.5 392.4 L122.4 391.5 L124.2 390.4 L126.0 389.2 L127.9 387.7 L129.7 386.1 L131.5 384.3 L133.3 382.3 L135.2 380.1 L137.0 377.7 L138.8 375.2 L140.7 372.5 L142.5 369.7 L144.3 366.7 L146.1 363.7 L148.0 360.5 L149.8 357.2 L151.6 353.9 L153.5 350.4 L155.3 347.0 L157.1 343.4 L158.9 339.9 L160.8 336.3 L162.6 332.7 L164.4 329.2 L166.3 325.6 L168.1 322.0 L169.9 318.4 L171.8 314.8 L173.6 311.2 L175.4 307.7 L177.2 304.1 L179.1 300.5 L180.9 296.9 L182.7 293.3 L184.6 289.7 L186.4 286.2 L188.2 282.6 L190.0 279.0 L191.9 275.4 L193.7 271.8" stroke="#F96E72" stroke-width="1.55" stroke-dasharray="6 3"/>
<path d="M67.5 389.5 L69.3 390.0 L71.2 390.6 L73.0 391.4 L74.8 392.5 L76.6 393.9 L78.5 395.8 L80.3 398.1 L82.1 400.9 L84.0 404.0 L85.8 407.4 L87.6 411.0 L89.4 414.7 L91.3 418.3 L93.1 421.7 L94.9 425.0 L96.8 428.2 L98.6 431.5 L100.4 434.9 L102.3 438.3 L104.1 441.6 L105.9 444.8 L107.7 448.0 L109.6 451.4 L111.4 455.1 L113.2 459.1 L115.1 463.3 L116.9 467.5 L118.7 471.8 L120.5 476.0 L122.4 480.3 L124.2 484.6 L126.0 488.9 L127.9 493.4 L129.7 498.1 L131.5 503.2 L133.3 508.5 L135.2 513.9 L137.0 519.2 L138.8 524.6 L140.7 530.0 L142.5 535.4 L144.3 540.7 L146.1 546.1 L148.0 551.5 L149.8 556.9 L151.6 562.3 L153.5 567.6 L155.3 573.0 L157.1 578.4 L158.9 583.8 L160.8 589.1 L162.6 594.5 L164.4 599.9 L166.3 605.3 L168.1 610.6 L169.9 616.0 L171.8 621.4 L173.6 626.8 L175.4 632.1 L177.2 637.5 L179.1 642.9 L180.9 648.3 L182.7 653.7 L184.6 659.0 L186.4 664.4 L188.2 669.8 L190.0 675.2 L191.9 680.5 L193.7 685.9" stroke="#F96E72" stroke-width="1.55" stroke-dasharray="6 3"/>
<path d="M67.5 389.5 L69.3 390.0 L71.2 390.6 L73.0 391.4 L74.8 392.5 L76.6 393.9 L78.5 395.4 L80.3 397.0 L82.1 398.8 L84.0 400.7 L85.8 402.7 L87.6 404.8 L89.4 406.6 L91.3 408.3 L93.1 409.8 L94.9 411.2 L96.8 412.7 L98.6 414.1 L100.4 415.7 L102.3 417.3 L104.1 419.0 L105.9 420.8 L107.7 422.5 L109.6 424.1 L111.4 425.6 L113.2 427.0 L115.1 428.2 L116.9 429.3 L118.7 430.2 L120.5 430.9 L122.4 431.4 L124.2 431.7 L126.0 431.8 L127.9 431.8 L129.7 431.7 L131.5 431.6 L133.3 431.3 L135.2 430.8 L137.0 430.0 L138.8 428.9 L140.7 427.6 L142.5 426.2 L144.3 424.6 L146.1 422.7 L148.0 420.7 L149.8 418.5 L151.6 416.1 L153.5 413.6 L155.3 410.9 L157.1 408.2 L158.9 405.2 L160.8 401.9 L162.6 398.3 L164.4 394.7 L166.3 391.3 L168.1 388.1 L169.9 384.1 L171.8 379.5 L173.6 374.9 L175.4 370.2 L177.2 365.5 L179.1 360.9 L180.9 356.2 L182.7 351.5 L184.6 346.9 L186.4 342.2 L188.2 337.5 L190.0 332.9 L191.9 328.2 L193.7 323.6" stroke="#F40000" stroke-width="1.8"/>
<path d="M67.5 389.5 L69.3 390.0 L71.2 390.6 L73.0 391.9 L74.8 393.8 L76.6 396.2 L78.5 398.7 L80.3 401.2 L82.1 403.5 L84.0 405.7 L85.8 408.0 L87.6 410.2 L89.4 412.6 L91.3 415.1 L93.1 417.8 L94.9 420.6 L96.8 423.4 L98.6 426.1 L100.4 428.7 L102.3 431.2 L104.1 433.7 L105.9 436.2 L107.7 438.7 L109.6 441.0 L111.4 443.2 L113.2 445.2 L115.1 447.2 L116.9 449.2 L118.7 451.3 L120.5 453.6 L122.4 455.9 L124.2 458.3 L126.0 460.7 L127.9 463.0 L129.7 465.0 L131.5 466.8 L133.3 468.4 L135.2 470.0 L137.0 471.5 L138.8 473.0 L140.7 474.4 L142.5 475.7 L144.3 476.8 L146.1 477.8 L148.0 478.8 L149.8 479.6 L151.6 480.3 L153.5 481.0 L155.3 481.6 L157.1 482.0 L158.9 482.3 L160.8 482.5 L162.6 482.5 L164.4 482.2 L166.3 481.9 L168.1 481.3 L169.9 480.7 L171.8 479.9 L173.6 478.9 L175.4 477.8 L177.2 476.6 L179.1 475.3 L180.9 473.8 L182.7 472.2 L184.6 470.5 L186.4 468.5 L188.2 466.4 L190.0 464.1 L191.9 461.9 L193.7 459.5" stroke="#F40000" stroke-width="1.8"/>
</g>
<g stroke="#5555FF" stroke-width="1.45" fill="#5555FF">
<circle cx="69.27" cy="390.00" r="2.4" stroke="none"/>
<circle cx="71.46" cy="390.75" r="2.4" stroke="none"/>
<circle cx="74.48" cy="392.25" r="2.4" stroke="none"/>
<rect x="75.9" y="393.9" width="4.7" height="2.8" stroke="none"/>
<circle cx="78.29" cy="395.25" r="2.4" stroke="none"/>
<rect x="80.5" y="397.9" width="4.7" height="3.3" stroke="none"/>
<circle cx="82.84" cy="399.50" r="2.4" stroke="none"/>
<rect x="85.7" y="403.1" width="4.7" height="4.3" stroke="none"/>
<circle cx="88.08" cy="405.25" r="2.4" stroke="none"/>
<rect x="91.6" y="408.1" width="4.7" height="5.8" stroke="none"/>
<circle cx="93.96" cy="411.00" r="2.4" stroke="none"/>
<path d="M100.4 414.2 V420.25 M97.8 414.2 H103.02 M97.8 420.2 H103.02" fill="none"/>
<circle cx="100.42" cy="417.25" r="2.4" stroke="none"/>
<path d="M107.4 420.2 V427.75 M104.8 420.2 H110.00 M104.8 427.8 H110.00" fill="none"/>
<circle cx="107.40" cy="424.00" r="2.4" stroke="none"/>
<path d="M114.9 426.2 V435.25 M112.3 426.2 H117.47 M112.3 435.2 H117.47" fill="none"/>
<circle cx="114.87" cy="430.75" r="2.4" stroke="none"/>
<path d="M122.8 432.2 V442.25 M120.2 432.2 H125.36 M120.2 442.2 H125.36" fill="none"/>
<circle cx="122.76" cy="437.25" r="2.4" stroke="none"/>
<path d="M131.0 437.8 V449.25 M128.4 437.8 H133.65 M128.4 449.2 H133.65" fill="none"/>
<circle cx="131.05" cy="443.50" r="2.4" stroke="none"/>
<path d="M139.7 441.8 V455.25 M137.1 441.8 H142.28 M137.1 455.2 H142.28" fill="none"/>
<circle cx="139.68" cy="448.50" r="2.4" stroke="none"/>
<path d="M148.6 444.2 V460.25 M146.0 444.2 H151.23 M146.0 460.2 H151.23" fill="none"/>
<circle cx="148.63" cy="452.25" r="2.4" stroke="none"/>
<path d="M157.9 445.2 V463.75 M155.3 445.2 H160.46 M155.3 463.8 H160.46" fill="none"/>
<circle cx="157.86" cy="454.50" r="2.4" stroke="none"/>
<path d="M167.3 444.8 V465.75 M164.7 444.8 H169.94 M164.7 465.8 H169.94" fill="none"/>
<circle cx="167.34" cy="455.25" r="2.4" stroke="none"/>
<path d="M177.0 442.2 V465.75 M174.4 442.2 H179.65 M174.4 465.8 H179.65" fill="none"/>
<circle cx="177.05" cy="454.00" r="2.4" stroke="none"/>
<path d="M187.0 437.8 V464.25 M184.4 437.8 H189.56 M184.4 464.2 H189.56" fill="none"/>
<circle cx="186.96" cy="451.00" r="2.4" stroke="none"/>
</g>
<rect x="229.60" y="389.50" width="125.20" height="125.00" fill="none" stroke="#7a7a7a" stroke-width="0.85"/>
<g clip-path="url(#c21)">
<path d="M229.6 389.5 L231.4 386.8 L233.3 384.1 L235.1 381.5 L237.0 379.1 L238.8 376.9 L240.7 374.9 L242.5 373.2 L244.3 371.6 L246.2 370.3 L248.0 369.1 L249.9 368.1 L251.7 367.2 L253.6 366.4 L255.4 365.7 L257.3 365.2 L259.1 364.7 L260.9 364.2 L262.8 363.8 L264.6 363.4 L266.5 363.0 L268.3 362.7 L270.2 362.3 L272.0 362.0 L273.8 361.8 L275.7 361.5 L277.5 361.3 L279.4 361.1 L281.2 360.9 L283.1 360.7 L284.9 360.5 L286.8 360.4 L288.6 360.3 L290.4 360.2 L292.3 360.1 L294.1 360.0 L296.0 360.0 L297.8 359.9 L299.7 359.9 L301.5 359.9 L303.3 359.9 L305.2 359.9 L307.0 360.0 L308.9 360.0 L310.7 360.1 L312.6 360.2 L314.4 360.2 L316.3 360.3 L318.1 360.4 L319.9 360.6 L321.8 360.7 L323.6 360.8 L325.5 361.0 L327.3 361.1 L329.2 361.3 L331.0 361.4 L332.8 361.6 L334.7 361.8 L336.5 362.0 L338.4 362.2 L340.2 362.4 L342.1 362.5 L343.9 362.7 L345.8 363.0 L347.6 363.2 L349.4 363.4 L351.3 363.6 L353.1 363.8 L355.0 364.0 L356.8 364.2 L356.8 473.4 L355.0 472.6 L353.1 471.8 L351.3 471.1 L349.4 470.3 L347.6 469.5 L345.8 468.8 L343.9 468.1 L342.1 467.4 L340.2 466.7 L338.4 466.0 L336.5 465.4 L334.7 464.8 L332.8 464.1 L331.0 463.5 L329.2 462.8 L327.3 462.2 L325.5 461.5 L323.6 460.8 L321.8 460.1 L319.9 459.5 L318.1 458.9 L316.3 458.3 L314.4 457.7 L312.6 457.1 L310.7 456.6 L308.9 456.1 L307.0 455.6 L305.2 455.0 L303.3 454.5 L301.5 453.9 L299.7 453.3 L297.8 452.6 L296.0 451.7 L294.1 450.7 L292.3 449.5 L290.4 448.2 L288.6 446.7 L286.8 445.2 L284.9 443.7 L283.1 442.2 L281.2 440.8 L279.4 439.3 L277.5 437.8 L275.7 436.2 L273.8 434.6 L272.0 432.9 L270.2 431.1 L268.3 429.3 L266.5 427.4 L264.6 425.4 L262.8 423.3 L260.9 421.2 L259.1 419.2 L257.3 417.2 L255.4 415.2 L253.6 413.3 L251.7 411.3 L249.9 409.3 L248.0 407.1 L246.2 404.6 L244.3 401.9 L242.5 399.1 L240.7 396.5 L238.8 394.3 L237.0 392.5 L235.1 391.4 L233.3 390.6 L231.4 390.0 L229.6 389.5Z" fill="#FFDAB3"/>
<path d="M229.6 389.5 L231.4 389.8 L233.3 390.1 L235.1 390.4 L237.0 390.9 L238.8 391.5 L240.7 392.1 L242.5 392.8 L244.3 393.4 L246.2 393.9 L248.0 394.4 L249.9 394.9 L251.7 395.4 L253.6 395.8 L255.4 396.2 L257.3 396.5 L259.1 396.7 L260.9 396.8 L262.8 396.6 L264.6 396.4 L266.5 396.0 L268.3 395.4 L270.2 394.8 L272.0 394.0 L273.8 393.2 L275.7 392.5 L277.5 391.7 L279.4 390.9 L281.2 389.9 L283.1 388.8 L284.9 387.5 L286.8 386.0 L288.6 384.4 L290.4 382.5 L292.3 380.5 L294.1 378.3 L296.0 375.9 L297.8 373.4 L299.7 370.6 L301.5 367.8 L303.3 364.7 L305.2 361.6 L307.0 358.4 L308.9 355.0 L310.7 351.6 L312.6 348.1 L314.4 344.5 L316.3 340.9 L318.1 337.3 L319.9 333.7 L321.8 330.1 L323.6 326.4 L325.5 322.8 L327.3 319.2 L329.2 315.5 L331.0 311.9 L332.8 308.3 L334.7 304.6 L336.5 301.0 L338.4 297.4 L340.2 293.7 L342.1 290.1 L343.9 286.5 L345.8 282.8 L347.6 279.2 L349.4 275.6 L351.3 271.9 L353.1 268.3 L355.0 264.7 L356.8 261.1 L356.8 681.3 L355.0 676.1 L353.1 670.8 L351.3 665.6 L349.4 660.4 L347.6 655.1 L345.8 649.9 L343.9 644.6 L342.1 639.4 L340.2 634.2 L338.4 628.9 L336.5 623.7 L334.7 618.5 L332.8 613.2 L331.0 608.0 L329.2 602.7 L327.3 597.5 L325.5 592.3 L323.6 587.0 L321.8 581.8 L319.9 576.5 L318.1 571.3 L316.3 566.1 L314.4 560.8 L312.6 555.6 L310.7 550.4 L308.9 545.1 L307.0 539.9 L305.2 534.6 L303.3 529.4 L301.5 524.2 L299.7 519.0 L297.8 513.9 L296.0 508.9 L294.1 504.1 L292.3 499.3 L290.4 494.6 L288.6 489.9 L286.8 485.3 L284.9 481.0 L283.1 476.9 L281.2 472.9 L279.4 468.8 L277.5 464.6 L275.7 460.4 L273.8 456.4 L272.0 452.7 L270.2 449.3 L268.3 446.0 L266.5 442.9 L264.6 439.6 L262.8 436.2 L260.9 432.8 L259.1 429.4 L257.3 426.0 L255.4 422.7 L253.6 419.6 L251.7 416.6 L249.9 413.6 L248.0 410.3 L246.2 406.5 L244.3 402.4 L242.5 398.5 L240.7 395.4 L238.8 393.4 L237.0 392.1 L235.1 391.3 L233.3 390.6 L231.4 390.0 L229.6 389.5Z" fill="#FFCCCC"/>
<path d="M229.6 389.5 L231.4 390.0 L233.3 390.6 L235.1 391.4 L237.0 392.5 L238.8 393.9 L240.7 395.4 L242.5 397.0 L244.3 398.8 L246.2 400.7 L248.0 402.7 L249.9 404.8 L251.7 406.6 L253.6 408.3 L255.4 409.8 L257.3 411.2 L259.1 412.7 L260.9 414.1 L262.8 415.7 L264.6 417.3 L266.5 419.0 L268.3 420.8 L270.2 422.5 L272.0 424.1 L273.8 425.6 L275.7 427.0 L277.5 428.2 L279.4 429.3 L281.2 430.2 L283.1 430.9 L284.9 431.4 L286.8 431.7 L288.6 431.8 L290.4 431.7 L292.3 431.8 L294.1 431.8 L296.0 431.8 L297.8 431.5 L299.7 430.9 L301.5 430.1 L303.3 429.0 L305.2 427.8 L307.0 426.4 L308.9 424.9 L310.7 423.2 L312.6 421.4 L314.4 419.4 L316.3 417.2 L318.1 414.8 L319.9 412.2 L321.8 409.4 L323.6 406.5 L325.5 403.5 L327.3 400.5 L329.2 397.5 L331.0 394.5 L332.8 391.5 L334.7 388.2 L336.5 384.6 L338.4 380.8 L340.2 377.0 L342.1 373.2 L343.9 369.4 L345.8 365.6 L347.6 361.8 L349.4 358.0 L351.3 354.2 L353.1 350.4 L355.0 346.6 L356.8 342.8 L356.8 487.6 L355.0 488.8 L353.1 490.0 L351.3 491.1 L349.4 492.1 L347.6 493.1 L345.8 493.9 L343.9 494.6 L342.1 495.1 L340.2 495.5 L338.4 495.8 L336.5 496.0 L334.7 496.1 L332.8 496.1 L331.0 496.0 L329.2 495.7 L327.3 495.2 L325.5 494.6 L323.6 493.9 L321.8 493.1 L319.9 492.3 L318.1 491.4 L316.3 490.3 L314.4 489.1 L312.6 487.7 L310.7 486.3 L308.9 484.7 L307.0 483.1 L305.2 481.5 L303.3 479.7 L301.5 477.9 L299.7 476.1 L297.8 474.2 L296.0 472.3 L294.1 470.4 L292.3 468.4 L290.4 466.1 L288.6 463.7 L286.8 461.2 L284.9 458.7 L283.1 456.4 L281.2 454.3 L279.4 452.2 L277.5 450.1 L275.7 447.8 L273.8 445.4 L272.0 442.9 L270.2 440.3 L268.3 437.7 L266.5 435.0 L264.6 432.3 L262.8 429.6 L260.9 426.9 L259.1 424.2 L257.3 421.4 L255.4 418.6 L253.6 415.8 L251.7 413.1 L249.9 410.5 L248.0 408.0 L246.2 405.7 L244.3 403.4 L242.5 401.1 L240.7 398.7 L238.8 396.2 L237.0 393.8 L235.1 391.9 L233.3 390.6 L231.4 390.0 L229.6 389.5Z" fill="#FF9999"/>
</g>
<path d="M229.60 389.50 V514.50 H354.80 M229.60 389.50 H354.80" fill="none" stroke="#7a7a7a" stroke-width="0.85"/>
<path d="M354.80 389.50 V514.50" fill="none" stroke="#7a7a7a" stroke-width="0.85" stroke-opacity="0.5"/>
<line x1="229.60" y1="389.50" x2="232.60" y2="389.50" stroke="#7a7a7a" stroke-width="0.85"/>
<line x1="229.60" y1="420.75" x2="232.60" y2="420.75" stroke="#7a7a7a" stroke-width="0.85"/>
<line x1="229.60" y1="452.00" x2="232.60" y2="452.00" stroke="#7a7a7a" stroke-width="0.85"/>
<line x1="229.60" y1="483.25" x2="232.60" y2="483.25" stroke="#7a7a7a" stroke-width="0.85"/>
<line x1="229.60" y1="514.50" x2="232.60" y2="514.50" stroke="#7a7a7a" stroke-width="0.85"/>
<line x1="229.60" y1="514.50" x2="229.60" y2="511.50" stroke="#7a7a7a" stroke-width="0.85"/>
<text x="231.90" y="529.60" text-anchor="middle" font-size="12.4" font-family="Liberation Sans, sans-serif" fill="#000">0.00</text>
<line x1="292.20" y1="514.50" x2="292.20" y2="511.50" stroke="#7a7a7a" stroke-width="0.85"/>
<text x="294.50" y="529.60" text-anchor="middle" font-size="12.4" font-family="Liberation Sans, sans-serif" fill="#000">0.05</text>
<line x1="354.80" y1="514.50" x2="354.80" y2="511.50" stroke="#7a7a7a" stroke-width="0.85"/>
<text x="357.10" y="529.60" text-anchor="middle" font-size="12.4" font-family="Liberation Sans, sans-serif" fill="#000">0.10</text>
<g clip-path="url(#c21)" fill="none">
<path d="M229.6 389.5 L231.4 386.8 L233.3 384.1 L235.1 381.5 L237.0 379.1 L238.8 376.9 L240.7 374.9 L242.5 373.2 L244.3 371.6 L246.2 370.3 L248.0 369.1 L249.9 368.1 L251.7 367.2 L253.6 366.4 L255.4 365.7 L257.3 365.2 L259.1 364.7 L260.9 364.2 L262.8 363.8 L264.6 363.4 L266.5 363.0 L268.3 362.7 L270.2 362.3 L272.0 362.0 L273.8 361.8 L275.7 361.5 L277.5 361.3 L279.4 361.1 L281.2 360.9 L283.1 360.7 L284.9 360.5 L286.8 360.4 L288.6 360.3 L290.4 360.2 L292.3 360.1 L294.1 360.0 L296.0 360.0 L297.8 359.9 L299.7 359.9 L301.5 359.9 L303.3 359.9 L305.2 359.9 L307.0 360.0 L308.9 360.0 L310.7 360.1 L312.6 360.2 L314.4 360.2 L316.3 360.3 L318.1 360.4 L319.9 360.6 L321.8 360.7 L323.6 360.8 L325.5 361.0 L327.3 361.1 L329.2 361.3 L331.0 361.4 L332.8 361.6 L334.7 361.8 L336.5 362.0 L338.4 362.2 L340.2 362.4 L342.1 362.5 L343.9 362.7 L345.8 363.0 L347.6 363.2 L349.4 363.4 L351.3 363.6 L353.1 363.8 L355.0 364.0 L356.8 364.2" stroke="#FF8000" stroke-width="1.65" stroke-dasharray="2.7 2.5"/>
<path d="M229.6 389.5 L231.4 390.0 L233.3 390.6 L235.1 391.4 L237.0 392.5 L238.8 394.3 L240.7 396.5 L242.5 399.1 L244.3 401.9 L246.2 404.6 L248.0 407.1 L249.9 409.3 L251.7 411.3 L253.6 413.3 L255.4 415.2 L257.3 417.2 L259.1 419.2 L260.9 421.2 L262.8 423.3 L264.6 425.4 L266.5 427.4 L268.3 429.3 L270.2 431.1 L272.0 432.9 L273.8 434.6 L275.7 436.2 L277.5 437.8 L279.4 439.3 L281.2 440.8 L283.1 442.2 L284.9 443.7 L286.8 445.2 L288.6 446.7 L290.4 448.2 L292.3 449.5 L294.1 450.7 L296.0 451.7 L297.8 452.6 L299.7 453.3 L301.5 453.9 L303.3 454.5 L305.2 455.0 L307.0 455.6 L308.9 456.1 L310.7 456.6 L312.6 457.1 L314.4 457.7 L316.3 458.3 L318.1 458.9 L319.9 459.5 L321.8 460.1 L323.6 460.8 L325.5 461.5 L327.3 462.2 L329.2 462.8 L331.0 463.5 L332.8 464.1 L334.7 464.8 L336.5 465.4 L338.4 466.0 L340.2 466.7 L342.1 467.4 L343.9 468.1 L345.8 468.8 L347.6 469.5 L349.4 470.3 L351.3 471.1 L353.1 471.8 L355.0 472.6 L356.8 473.4" stroke="#FF8000" stroke-width="1.65" stroke-dasharray="2.7 2.5"/>
<path d="M229.6 389.5 L231.4 389.8 L233.3 390.1 L235.1 390.4 L237.0 390.9 L238.8 391.5 L240.7 392.1 L242.5 392.8 L244.3 393.4 L246.2 393.9 L248.0 394.4 L249.9 394.9 L251.7 395.4 L253.6 395.8 L255.4 396.2 L257.3 396.5 L259.1 396.7 L260.9 396.8 L262.8 396.6 L264.6 396.4 L266.5 396.0 L268.3 395.4 L270.2 394.8 L272.0 394.0 L273.8 393.2 L275.7 392.5 L277.5 391.7 L279.4 390.9 L281.2 389.9 L283.1 388.8 L284.9 387.5 L286.8 386.0 L288.6 384.4 L290.4 382.5 L292.3 380.5 L294.1 378.3 L296.0 375.9 L297.8 373.4 L299.7 370.6 L301.5 367.8 L303.3 364.7 L305.2 361.6 L307.0 358.4 L308.9 355.0 L310.7 351.6 L312.6 348.1 L314.4 344.5 L316.3 340.9 L318.1 337.3 L319.9 333.7 L321.8 330.1 L323.6 326.4 L325.5 322.8 L327.3 319.2 L329.2 315.5 L331.0 311.9 L332.8 308.3 L334.7 304.6 L336.5 301.0 L338.4 297.4 L340.2 293.7 L342.1 290.1 L343.9 286.5 L345.8 282.8 L347.6 279.2 L349.4 275.6 L351.3 271.9 L353.1 268.3 L355.0 264.7 L356.8 261.1" stroke="#F96E72" stroke-width="1.55" stroke-dasharray="6 3"/>
<path d="M229.6 389.5 L231.4 390.0 L233.3 390.6 L235.1 391.3 L237.0 392.1 L238.8 393.4 L240.7 395.4 L242.5 398.5 L244.3 402.4 L246.2 406.5 L248.0 410.3 L249.9 413.6 L251.7 416.6 L253.6 419.6 L255.4 422.7 L257.3 426.0 L259.1 429.4 L260.9 432.8 L262.8 436.2 L264.6 439.6 L266.5 442.9 L268.3 446.0 L270.2 449.3 L272.0 452.7 L273.8 456.4 L275.7 460.4 L277.5 464.6 L279.4 468.8 L281.2 472.9 L283.1 476.9 L284.9 481.0 L286.8 485.3 L288.6 489.9 L290.4 494.6 L292.3 499.3 L294.1 504.1 L296.0 508.9 L297.8 513.9 L299.7 519.0 L301.5 524.2 L303.3 529.4 L305.2 534.6 L307.0 539.9 L308.9 545.1 L310.7 550.4 L312.6 555.6 L314.4 560.8 L316.3 566.1 L318.1 571.3 L319.9 576.5 L321.8 581.8 L323.6 587.0 L325.5 592.3 L327.3 597.5 L329.2 602.7 L331.0 608.0 L332.8 613.2 L334.7 618.5 L336.5 623.7 L338.4 628.9 L340.2 634.2 L342.1 639.4 L343.9 644.6 L345.8 649.9 L347.6 655.1 L349.4 660.4 L351.3 665.6 L353.1 670.8 L355.0 676.1 L356.8 681.3" stroke="#F96E72" stroke-width="1.55" stroke-dasharray="6 3"/>
<path d="M229.6 389.5 L231.4 390.0 L233.3 390.6 L235.1 391.4 L237.0 392.5 L238.8 393.9 L240.7 395.4 L242.5 397.0 L244.3 398.8 L246.2 400.7 L248.0 402.7 L249.9 404.8 L251.7 406.6 L253.6 408.3 L255.4 409.8 L257.3 411.2 L259.1 412.7 L260.9 414.1 L262.8 415.7 L264.6 417.3 L266.5 419.0 L268.3 420.8 L270.2 422.5 L272.0 424.1 L273.8 425.6 L275.7 427.0 L277.5 428.2 L279.4 429.3 L281.2 430.2 L283.1 430.9 L284.9 431.4 L286.8 431.7 L288.6 431.8 L290.4 431.7 L292.3 431.8 L294.1 431.8 L296.0 431.8 L297.8 431.5 L299.7 430.9 L301.5 430.1 L303.3 429.0 L305.2 427.8 L307.0 426.4 L308.9 424.9 L310.7 423.2 L312.6 421.4 L314.4 419.4 L316.3 417.2 L318.1 414.8 L319.9 412.2 L321.8 409.4 L323.6 406.5 L325.5 403.5 L327.3 400.5 L329.2 397.5 L331.0 394.5 L332.8 391.5 L334.7 388.2 L336.5 384.6 L338.4 380.8 L340.2 377.0 L342.1 373.2 L343.9 369.4 L345.8 365.6 L347.6 361.8 L349.4 358.0 L351.3 354.2 L353.1 350.4 L355.0 346.6 L356.8 342.8" stroke="#F40000" stroke-width="1.8"/>
<path d="M229.6 389.5 L231.4 390.0 L233.3 390.6 L235.1 391.9 L237.0 393.8 L238.8 396.2 L240.7 398.7 L242.5 401.1 L244.3 403.4 L246.2 405.7 L248.0 408.0 L249.9 410.5 L251.7 413.1 L253.6 415.8 L255.4 418.6 L257.3 421.4 L259.1 424.2 L260.9 426.9 L262.8 429.6 L264.6 432.3 L266.5 435.0 L268.3 437.7 L270.2 440.3 L272.0 442.9 L273.8 445.4 L275.7 447.8 L277.5 450.1 L279.4 452.2 L281.2 454.3 L283.1 456.4 L284.9 458.7 L286.8 461.2 L288.6 463.7 L290.4 466.1 L292.3 468.4 L294.1 470.4 L296.0 472.3 L297.8 474.2 L299.7 476.1 L301.5 477.9 L303.3 479.7 L305.2 481.5 L307.0 483.1 L308.9 484.7 L310.7 486.3 L312.6 487.7 L314.4 489.1 L316.3 490.3 L318.1 491.4 L319.9 492.3 L321.8 493.1 L323.6 493.9 L325.5 494.6 L327.3 495.2 L329.2 495.7 L331.0 496.0 L332.8 496.1 L334.7 496.1 L336.5 496.0 L338.4 495.8 L340.2 495.5 L342.1 495.1 L343.9 494.6 L345.8 493.9 L347.6 493.1 L349.4 492.1 L351.3 491.1 L353.1 490.0 L355.0 488.8 L356.8 487.6" stroke="#F40000" stroke-width="1.8"/>
</g>
<g stroke="#5555FF" stroke-width="1.45" fill="#5555FF">
<circle cx="231.38" cy="390.00" r="2.4" stroke="none"/>
<circle cx="233.59" cy="390.75" r="2.4" stroke="none"/>
<circle cx="236.63" cy="392.25" r="2.4" stroke="none"/>
<rect x="238.1" y="393.9" width="4.7" height="2.8" stroke="none"/>
<circle cx="240.47" cy="395.25" r="2.4" stroke="none"/>
<rect x="242.7" y="397.9" width="4.7" height="3.3" stroke="none"/>
<circle cx="245.06" cy="399.50" r="2.4" stroke="none"/>
<rect x="248.0" y="403.1" width="4.7" height="4.3" stroke="none"/>
<circle cx="250.35" cy="405.25" r="2.4" stroke="none"/>
<rect x="253.9" y="408.1" width="4.7" height="5.8" stroke="none"/>
<circle cx="256.27" cy="411.00" r="2.4" stroke="none"/>
<path d="M262.8 414.2 V420.25 M260.2 414.2 H265.38 M260.2 420.2 H265.38" fill="none"/>
<circle cx="262.78" cy="417.25" r="2.4" stroke="none"/>
<path d="M269.8 420.2 V427.75 M267.2 420.2 H272.42 M267.2 427.8 H272.42" fill="none"/>
<circle cx="269.82" cy="424.00" r="2.4" stroke="none"/>
<path d="M277.3 426.2 V435.25 M274.7 426.2 H279.95 M274.7 435.2 H279.95" fill="none"/>
<circle cx="277.35" cy="430.75" r="2.4" stroke="none"/>
<path d="M285.3 432.2 V442.25 M282.7 432.2 H287.91 M282.7 442.2 H287.91" fill="none"/>
<circle cx="285.31" cy="437.25" r="2.4" stroke="none"/>
<path d="M293.7 437.8 V449.25 M291.1 437.8 H296.26 M291.1 449.2 H296.26" fill="none"/>
<circle cx="293.66" cy="443.50" r="2.4" stroke="none"/>
<path d="M302.4 441.8 V455.25 M299.8 441.8 H304.96 M299.8 455.2 H304.96" fill="none"/>
<circle cx="302.36" cy="448.50" r="2.4" stroke="none"/>
<path d="M311.4 444.2 V460.25 M308.8 444.2 H313.98 M308.8 460.2 H313.98" fill="none"/>
<circle cx="311.38" cy="452.25" r="2.4" stroke="none"/>
<path d="M320.7 445.2 V463.75 M318.1 445.2 H323.28 M318.1 463.8 H323.28" fill="none"/>
<circle cx="320.68" cy="454.50" r="2.4" stroke="none"/>
<path d="M330.2 444.8 V465.75 M327.6 444.8 H332.84 M327.6 465.8 H332.84" fill="none"/>
<circle cx="330.24" cy="455.25" r="2.4" stroke="none"/>
<path d="M340.0 442.2 V465.75 M337.4 442.2 H342.63 M337.4 465.8 H342.63" fill="none"/>
<circle cx="340.03" cy="454.00" r="2.4" stroke="none"/>
<path d="M350.0 437.8 V464.25 M347.4 437.8 H352.62 M347.4 464.2 H352.62" fill="none"/>
<circle cx="350.02" cy="451.00" r="2.4" stroke="none"/>
</g>
<rect x="392.40" y="389.50" width="124.30" height="125.00" fill="none" stroke="#7a7a7a" stroke-width="0.85"/>
<g clip-path="url(#c22)">
<path d="M392.4 389.5 L394.2 386.8 L396.1 384.1 L397.9 381.5 L399.7 379.1 L401.6 376.9 L403.4 374.9 L405.2 373.2 L407.0 371.6 L408.9 370.3 L410.7 369.1 L412.5 368.1 L414.4 367.2 L416.2 366.4 L418.0 365.7 L419.9 365.2 L421.7 364.7 L423.5 364.2 L425.3 363.8 L427.2 363.4 L429.0 363.0 L430.8 362.7 L432.7 362.3 L434.5 362.0 L436.3 361.8 L438.2 361.5 L440.0 361.3 L441.8 361.1 L443.7 360.9 L445.5 360.7 L447.3 360.5 L449.1 360.4 L451.0 360.3 L452.8 360.2 L454.6 360.1 L456.5 360.0 L458.3 360.0 L460.1 359.9 L462.0 359.9 L463.8 359.9 L465.6 359.9 L467.4 359.9 L469.3 360.0 L471.1 360.0 L472.9 360.1 L474.8 360.2 L476.6 360.2 L478.4 360.3 L480.3 360.4 L482.1 360.6 L483.9 360.7 L485.8 360.8 L487.6 361.0 L489.4 361.1 L491.2 361.3 L493.1 361.4 L494.9 361.6 L496.7 361.8 L498.6 362.0 L500.4 362.2 L502.2 362.4 L504.1 362.5 L505.9 362.7 L507.7 363.0 L509.5 363.2 L511.4 363.4 L513.2 363.6 L515.0 363.8 L516.9 364.0 L518.7 364.2 L518.7 532.5 L516.9 529.6 L515.0 526.6 L513.2 523.7 L511.4 520.8 L509.5 517.9 L507.7 515.0 L505.9 511.9 L504.1 508.9 L502.2 506.2 L500.4 503.6 L498.6 500.9 L496.7 498.1 L494.9 495.2 L493.1 492.2 L491.2 489.3 L489.4 486.7 L487.6 484.2 L485.8 481.7 L483.9 479.2 L482.1 476.5 L480.3 473.9 L478.4 471.1 L476.6 468.3 L474.8 465.6 L472.9 463.0 L471.1 460.7 L469.3 458.7 L467.4 457.0 L465.6 455.7 L463.8 454.8 L462.0 454.2 L460.1 453.7 L458.3 453.4 L456.5 453.1 L454.6 452.7 L452.8 452.1 L451.0 451.1 L449.1 450.0 L447.3 448.7 L445.5 447.4 L443.7 446.0 L441.8 444.6 L440.0 443.0 L438.2 441.3 L436.3 439.6 L434.5 437.9 L432.7 436.1 L430.8 434.3 L429.0 432.4 L427.2 430.3 L425.3 428.2 L423.5 425.9 L421.7 423.5 L419.9 421.1 L418.0 418.6 L416.2 416.3 L414.4 414.1 L412.5 411.8 L410.7 409.4 L408.9 406.6 L407.0 403.5 L405.2 400.3 L403.4 397.2 L401.6 394.5 L399.7 392.5 L397.9 391.3 L396.1 390.6 L394.2 390.0 L392.4 389.5Z" fill="#FFDAB3"/>
<path d="M392.4 389.5 L394.2 389.7 L396.1 390.0 L397.9 390.4 L399.7 390.9 L401.6 391.4 L403.4 391.8 L405.2 392.2 L407.0 392.6 L408.9 392.9 L410.7 393.2 L412.5 393.5 L414.4 393.7 L416.2 393.8 L418.0 393.7 L419.9 393.5 L421.7 393.3 L423.5 392.9 L425.3 392.6 L427.2 392.1 L429.0 391.6 L430.8 391.1 L432.7 390.4 L434.5 389.7 L436.3 388.9 L438.2 387.9 L440.0 386.8 L441.8 385.7 L443.7 384.3 L445.5 382.8 L447.3 381.1 L449.1 379.3 L451.0 377.2 L452.8 375.1 L454.6 372.8 L456.5 370.3 L458.3 367.8 L460.1 365.1 L462.0 362.4 L463.8 359.6 L465.6 356.7 L467.4 353.8 L469.3 350.8 L471.1 347.8 L472.9 344.9 L474.8 341.9 L476.6 338.9 L478.4 335.9 L480.3 332.9 L482.1 330.0 L483.9 327.0 L485.8 324.0 L487.6 321.0 L489.4 318.1 L491.2 315.1 L493.1 312.1 L494.9 309.1 L496.7 306.1 L498.6 303.2 L500.4 300.2 L502.2 297.2 L504.1 294.2 L505.9 291.3 L507.7 288.3 L509.5 285.3 L511.4 282.3 L513.2 279.3 L515.0 276.4 L516.9 273.4 L518.7 270.4 L518.7 752.0 L516.9 745.2 L515.0 738.4 L513.2 731.6 L511.4 724.9 L509.5 718.1 L507.7 711.3 L505.9 704.5 L504.1 697.7 L502.2 691.0 L500.4 684.2 L498.6 677.4 L496.7 670.6 L494.9 663.8 L493.1 657.0 L491.2 650.3 L489.4 643.5 L487.6 636.7 L485.8 629.9 L483.9 623.1 L482.1 616.4 L480.3 609.6 L478.4 602.8 L476.6 596.0 L474.8 589.2 L472.9 582.4 L471.1 575.7 L469.3 568.9 L467.4 562.1 L465.6 555.3 L463.8 548.5 L462.0 541.8 L460.1 535.0 L458.3 528.2 L456.5 521.4 L454.6 514.8 L452.8 508.3 L451.0 502.0 L449.1 496.0 L447.3 490.2 L445.5 484.7 L443.7 479.4 L441.8 474.2 L440.0 469.3 L438.2 464.4 L436.3 459.8 L434.5 455.4 L432.7 451.4 L430.8 447.7 L429.0 444.1 L427.2 440.7 L425.3 437.3 L423.5 434.0 L421.7 430.7 L419.9 427.5 L418.0 424.4 L416.2 421.6 L414.4 418.8 L412.5 416.0 L410.7 412.7 L408.9 408.6 L407.0 403.9 L405.2 399.4 L403.4 396.0 L401.6 393.7 L399.7 392.2 L397.9 391.3 L396.1 390.6 L394.2 390.0 L392.4 389.5Z" fill="#FFCCCC"/>
<path d="M392.4 389.5 L394.2 390.0 L396.1 390.6 L397.9 391.4 L399.7 392.5 L401.6 393.9 L403.4 395.4 L405.2 397.0 L407.0 398.8 L408.9 400.7 L410.7 402.7 L412.5 404.8 L414.4 406.7 L416.2 408.4 L418.0 410.1 L419.9 411.7 L421.7 413.3 L423.5 414.9 L425.3 416.7 L427.2 418.5 L429.0 420.4 L430.8 422.2 L432.7 423.9 L434.5 425.5 L436.3 426.9 L438.2 428.2 L440.0 429.3 L441.8 430.3 L443.7 431.1 L445.5 431.7 L447.3 432.2 L449.1 432.5 L451.0 432.5 L452.8 432.3 L454.6 431.7 L456.5 430.8 L458.3 429.7 L460.1 428.3 L462.0 426.7 L463.8 424.9 L465.6 423.0 L467.4 420.7 L469.3 418.2 L471.1 415.5 L472.9 412.5 L474.8 409.2 L476.6 405.7 L478.4 402.1 L480.3 398.2 L482.1 394.2 L483.9 389.9 L485.8 385.2 L487.6 380.3 L489.4 375.3 L491.2 370.4 L493.1 365.4 L494.9 360.5 L496.7 355.6 L498.6 350.6 L500.4 345.7 L502.2 340.7 L504.1 335.8 L505.9 330.9 L507.7 325.9 L509.5 321.0 L511.4 316.0 L513.2 311.1 L515.0 306.2 L516.9 301.2 L518.7 296.3 L518.7 432.4 L516.9 438.8 L515.0 444.4 L513.2 448.9 L511.4 452.7 L509.5 456.3 L507.7 459.9 L505.9 463.4 L504.1 466.7 L502.2 469.6 L500.4 472.3 L498.6 474.7 L496.7 477.0 L494.9 479.2 L493.1 481.1 L491.2 482.9 L489.4 484.5 L487.6 485.8 L485.8 486.8 L483.9 487.6 L482.1 488.2 L480.3 488.4 L478.4 488.5 L476.6 488.4 L474.8 488.0 L472.9 487.5 L471.1 486.8 L469.3 486.0 L467.4 484.9 L465.6 483.7 L463.8 482.3 L462.0 480.7 L460.1 479.2 L458.3 477.7 L456.5 476.1 L454.6 474.4 L452.8 472.6 L451.0 470.5 L449.1 468.3 L447.3 466.0 L445.5 463.6 L443.7 461.2 L441.8 458.7 L440.0 456.1 L438.2 453.4 L436.3 450.6 L434.5 447.9 L432.7 445.1 L430.8 442.3 L429.0 439.5 L427.2 436.7 L425.3 433.7 L423.5 430.8 L421.7 427.8 L419.9 424.8 L418.0 421.8 L416.2 418.8 L414.4 415.8 L412.5 412.8 L410.7 409.9 L408.9 407.3 L407.0 404.9 L405.2 402.5 L403.4 400.0 L401.6 397.1 L399.7 394.4 L397.9 392.0 L396.1 390.6 L394.2 390.0 L392.4 389.5Z" fill="#FF9999"/>
</g>
<path d="M392.40 389.50 V514.50 H516.70 M392.40 389.50 H516.70" fill="none" stroke="#7a7a7a" stroke-width="0.85"/>
<path d="M516.70 389.50 V514.50" fill="none" stroke="#7a7a7a" stroke-width="0.85" stroke-opacity="0.5"/>
<line x1="392.40" y1="389.50" x2="395.40" y2="389.50" stroke="#7a7a7a" stroke-width="0.85"/>
<line x1="392.40" y1="420.75" x2="395.40" y2="420.75" stroke="#7a7a7a" stroke-width="0.85"/>
<line x1="392.40" y1="452.00" x2="395.40" y2="452.00" stroke="#7a7a7a" stroke-width="0.85"/>
<line x1="392.40" y1="483.25" x2="395.40" y2="483.25" stroke="#7a7a7a" stroke-width="0.85"/>
<line x1="392.40" y1="514.50" x2="395.40" y2="514.50" stroke="#7a7a7a" stroke-width="0.85"/>
<line x1="392.40" y1="514.50" x2="392.40" y2="511.50" stroke="#7a7a7a" stroke-width="0.85"/>
<text x="394.70" y="529.60" text-anchor="middle" font-size="12.4" font-family="Liberation Sans, sans-serif" fill="#000">0.00</text>
<line x1="454.55" y1="514.50" x2="454.55" y2="511.50" stroke="#7a7a7a" stroke-width="0.85"/>
<text x="456.85" y="529.60" text-anchor="middle" font-size="12.4" font-family="Liberation Sans, sans-serif" fill="#000">0.05</text>
<line x1="516.70" y1="514.50" x2="516.70" y2="511.50" stroke="#7a7a7a" stroke-width="0.85"/>
<text x="519.00" y="529.60" text-anchor="middle" font-size="12.4" font-family="Liberation Sans, sans-serif" fill="#000">0.10</text>
<g clip-path="url(#c22)" fill="none">
<path d="M392.4 389.5 L394.2 386.8 L396.1 384.1 L397.9 381.5 L399.7 379.1 L401.6 376.9 L403.4 374.9 L405.2 373.2 L407.0 371.6 L408.9 370.3 L410.7 369.1 L412.5 368.1 L414.4 367.2 L416.2 366.4 L418.0 365.7 L419.9 365.2 L421.7 364.7 L423.5 364.2 L425.3 363.8 L427.2 363.4 L429.0 363.0 L430.8 362.7 L432.7 362.3 L434.5 362.0 L436.3 361.8 L438.2 361.5 L440.0 361.3 L441.8 361.1 L443.7 360.9 L445.5 360.7 L447.3 360.5 L449.1 360.4 L451.0 360.3 L452.8 360.2 L454.6 360.1 L456.5 360.0 L458.3 360.0 L460.1 359.9 L462.0 359.9 L463.8 359.9 L465.6 359.9 L467.4 359.9 L469.3 360.0 L471.1 360.0 L472.9 360.1 L474.8 360.2 L476.6 360.2 L478.4 360.3 L480.3 360.4 L482.1 360.6 L483.9 360.7 L485.8 360.8 L487.6 361.0 L489.4 361.1 L491.2 361.3 L493.1 361.4 L494.9 361.6 L496.7 361.8 L498.6 362.0 L500.4 362.2 L502.2 362.4 L504.1 362.5 L505.9 362.7 L507.7 363.0 L509.5 363.2 L511.4 363.4 L513.2 363.6 L515.0 363.8 L516.9 364.0 L518.7 364.2" stroke="#FF8000" stroke-width="1.65" stroke-dasharray="2.7 2.5"/>
<path d="M392.4 389.5 L394.2 390.0 L396.1 390.6 L397.9 391.3 L399.7 392.5 L401.6 394.5 L403.4 397.2 L405.2 400.3 L407.0 403.5 L408.9 406.6 L410.7 409.4 L412.5 411.8 L414.4 414.1 L416.2 416.3 L418.0 418.6 L419.9 421.1 L421.7 423.5 L423.5 425.9 L425.3 428.2 L427.2 430.3 L429.0 432.4 L430.8 434.3 L432.7 436.1 L434.5 437.9 L436.3 439.6 L438.2 441.3 L440.0 443.0 L441.8 444.6 L443.7 446.0 L445.5 447.4 L447.3 448.7 L449.1 450.0 L451.0 451.1 L452.8 452.1 L454.6 452.7 L456.5 453.1 L458.3 453.4 L460.1 453.7 L462.0 454.2 L463.8 454.8 L465.6 455.7 L467.4 457.0 L469.3 458.7 L471.1 460.7 L472.9 463.0 L474.8 465.6 L476.6 468.3 L478.4 471.1 L480.3 473.9 L482.1 476.5 L483.9 479.2 L485.8 481.7 L487.6 484.2 L489.4 486.7 L491.2 489.3 L493.1 492.2 L494.9 495.2 L496.7 498.1 L498.6 500.9 L500.4 503.6 L502.2 506.2 L504.1 508.9 L505.9 511.9 L507.7 515.0 L509.5 517.9 L511.4 520.8 L513.2 523.7 L515.0 526.6 L516.9 529.6 L518.7 532.5" stroke="#FF8000" stroke-width="1.65" stroke-dasharray="2.7 2.5"/>
<path d="M392.4 389.5 L394.2 389.7 L396.1 390.0 L397.9 390.4 L399.7 390.9 L401.6 391.4 L403.4 391.8 L405.2 392.2 L407.0 392.6 L408.9 392.9 L410.7 393.2 L412.5 393.5 L414.4 393.7 L416.2 393.8 L418.0 393.7 L419.9 393.5 L421.7 393.3 L423.5 392.9 L425.3 392.6 L427.2 392.1 L429.0 391.6 L430.8 391.1 L432.7 390.4 L434.5 389.7 L436.3 388.9 L438.2 387.9 L440.0 386.8 L441.8 385.7 L443.7 384.3 L445.5 382.8 L447.3 381.1 L449.1 379.3 L451.0 377.2 L452.8 375.1 L454.6 372.8 L456.5 370.3 L458.3 367.8 L460.1 365.1 L462.0 362.4 L463.8 359.6 L465.6 356.7 L467.4 353.8 L469.3 350.8 L471.1 347.8 L472.9 344.9 L474.8 341.9 L476.6 338.9 L478.4 335.9 L480.3 332.9 L482.1 330.0 L483.9 327.0 L485.8 324.0 L487.6 321.0 L489.4 318.1 L491.2 315.1 L493.1 312.1 L494.9 309.1 L496.7 306.1 L498.6 303.2 L500.4 300.2 L502.2 297.2 L504.1 294.2 L505.9 291.3 L507.7 288.3 L509.5 285.3 L511.4 282.3 L513.2 279.3 L515.0 276.4 L516.9 273.4 L518.7 270.4" stroke="#F96E72" stroke-width="1.55" stroke-dasharray="6 3"/>
<path d="M392.4 389.5 L394.2 390.0 L396.1 390.6 L397.9 391.3 L399.7 392.2 L401.6 393.7 L403.4 396.0 L405.2 399.4 L407.0 403.9 L408.9 408.6 L410.7 412.7 L412.5 416.0 L414.4 418.8 L416.2 421.6 L418.0 424.4 L419.9 427.5 L421.7 430.7 L423.5 434.0 L425.3 437.3 L427.2 440.7 L429.0 444.1 L430.8 447.7 L432.7 451.4 L434.5 455.4 L436.3 459.8 L438.2 464.4 L440.0 469.3 L441.8 474.2 L443.7 479.4 L445.5 484.7 L447.3 490.2 L449.1 496.0 L451.0 502.0 L452.8 508.3 L454.6 514.8 L456.5 521.4 L458.3 528.2 L460.1 535.0 L462.0 541.8 L463.8 548.5 L465.6 555.3 L467.4 562.1 L469.3 568.9 L471.1 575.7 L472.9 582.4 L474.8 589.2 L476.6 596.0 L478.4 602.8 L480.3 609.6 L482.1 616.4 L483.9 623.1 L485.8 629.9 L487.6 636.7 L489.4 643.5 L491.2 650.3 L493.1 657.0 L494.9 663.8 L496.7 670.6 L498.6 677.4 L500.4 684.2 L502.2 691.0 L504.1 697.7 L505.9 704.5 L507.7 711.3 L509.5 718.1 L511.4 724.9 L513.2 731.6 L515.0 738.4 L516.9 745.2 L518.7 752.0" stroke="#F96E72" stroke-width="1.55" stroke-dasharray="6 3"/>
<path d="M392.4 389.5 L394.2 390.0 L396.1 390.6 L397.9 391.4 L399.7 392.5 L401.6 393.9 L403.4 395.4 L405.2 397.0 L407.0 398.8 L408.9 400.7 L410.7 402.7 L412.5 404.8 L414.4 406.7 L416.2 408.4 L418.0 410.1 L419.9 411.7 L421.7 413.3 L423.5 414.9 L425.3 416.7 L427.2 418.5 L429.0 420.4 L430.8 422.2 L432.7 423.9 L434.5 425.5 L436.3 426.9 L438.2 428.2 L440.0 429.3 L441.8 430.3 L443.7 431.1 L445.5 431.7 L447.3 432.2 L449.1 432.5 L451.0 432.5 L452.8 432.3 L454.6 431.7 L456.5 430.8 L458.3 429.7 L460.1 428.3 L462.0 426.7 L463.8 424.9 L465.6 423.0 L467.4 420.7 L469.3 418.2 L471.1 415.5 L472.9 412.5 L474.8 409.2 L476.6 405.7 L478.4 402.1 L480.3 398.2 L482.1 394.2 L483.9 389.9 L485.8 385.2 L487.6 380.3 L489.4 375.3 L491.2 370.4 L493.1 365.4 L494.9 360.5 L496.7 355.6 L498.6 350.6 L500.4 345.7 L502.2 340.7 L504.1 335.8 L505.9 330.9 L507.7 325.9 L509.5 321.0 L511.4 316.0 L513.2 311.1 L515.0 306.2 L516.9 301.2 L518.7 296.3" stroke="#F40000" stroke-width="1.8"/>
<path d="M392.4 389.5 L394.2 390.0 L396.1 390.6 L397.9 392.0 L399.7 394.4 L401.6 397.1 L403.4 400.0 L405.2 402.5 L407.0 404.9 L408.9 407.3 L410.7 409.9 L412.5 412.8 L414.4 415.8 L416.2 418.8 L418.0 421.8 L419.9 424.8 L421.7 427.8 L423.5 430.8 L425.3 433.7 L427.2 436.7 L429.0 439.5 L430.8 442.3 L432.7 445.1 L434.5 447.9 L436.3 450.6 L438.2 453.4 L440.0 456.1 L441.8 458.7 L443.7 461.2 L445.5 463.6 L447.3 466.0 L449.1 468.3 L451.0 470.5 L452.8 472.6 L454.6 474.4 L456.5 476.1 L458.3 477.7 L460.1 479.2 L462.0 480.7 L463.8 482.3 L465.6 483.7 L467.4 484.9 L469.3 486.0 L471.1 486.8 L472.9 487.5 L474.8 488.0 L476.6 488.4 L478.4 488.5 L480.3 488.4 L482.1 488.2 L483.9 487.6 L485.8 486.8 L487.6 485.8 L489.4 484.5 L491.2 482.9 L493.1 481.1 L494.9 479.2 L496.7 477.0 L498.6 474.7 L500.4 472.3 L502.2 469.6 L504.1 466.7 L505.9 463.4 L507.7 459.9 L509.5 456.3 L511.4 452.7 L513.2 448.9 L515.0 444.4 L516.9 438.8 L518.7 432.4" stroke="#F40000" stroke-width="1.8"/>
</g>
<g stroke="#5555FF" stroke-width="1.45" fill="#5555FF">
<circle cx="394.17" cy="390.00" r="2.4" stroke="none"/>
<circle cx="396.36" cy="390.75" r="2.4" stroke="none"/>
<circle cx="399.38" cy="392.25" r="2.4" stroke="none"/>
<rect x="400.8" y="393.9" width="4.7" height="2.8" stroke="none"/>
<circle cx="403.20" cy="395.25" r="2.4" stroke="none"/>
<rect x="405.4" y="397.9" width="4.7" height="3.3" stroke="none"/>
<circle cx="407.75" cy="399.50" r="2.4" stroke="none"/>
<rect x="410.6" y="403.1" width="4.7" height="4.3" stroke="none"/>
<circle cx="413.00" cy="405.25" r="2.4" stroke="none"/>
<rect x="416.5" y="408.1" width="4.7" height="5.8" stroke="none"/>
<circle cx="418.88" cy="411.00" r="2.4" stroke="none"/>
<path d="M425.3 414.2 V420.25 M422.7 414.2 H427.94 M422.7 420.2 H427.94" fill="none"/>
<circle cx="425.34" cy="417.25" r="2.4" stroke="none"/>
<path d="M432.3 420.2 V427.75 M429.7 420.2 H434.93 M429.7 427.8 H434.93" fill="none"/>
<circle cx="432.33" cy="424.00" r="2.4" stroke="none"/>
<path d="M439.8 426.2 V435.25 M437.2 426.2 H442.40 M437.2 435.2 H442.40" fill="none"/>
<circle cx="439.80" cy="430.75" r="2.4" stroke="none"/>
<path d="M447.7 432.2 V442.25 M445.1 432.2 H450.31 M445.1 442.2 H450.31" fill="none"/>
<circle cx="447.71" cy="437.25" r="2.4" stroke="none"/>
<path d="M456.0 437.8 V449.25 M453.4 437.8 H458.60 M453.4 449.2 H458.60" fill="none"/>
<circle cx="456.00" cy="443.50" r="2.4" stroke="none"/>
<path d="M464.6 441.8 V455.25 M462.0 441.8 H467.24 M462.0 455.2 H467.24" fill="none"/>
<circle cx="464.64" cy="448.50" r="2.4" stroke="none"/>
<path d="M473.6 444.2 V460.25 M471.0 444.2 H476.19 M471.0 460.2 H476.19" fill="none"/>
<circle cx="473.59" cy="452.25" r="2.4" stroke="none"/>
<path d="M482.8 445.2 V463.75 M480.2 445.2 H485.43 M480.2 463.8 H485.43" fill="none"/>
<circle cx="482.83" cy="454.50" r="2.4" stroke="none"/>
<path d="M492.3 444.8 V465.75 M489.7 444.8 H494.92 M489.7 465.8 H494.92" fill="none"/>
<circle cx="492.32" cy="455.25" r="2.4" stroke="none"/>
<path d="M502.0 442.2 V465.75 M499.4 442.2 H504.63 M499.4 465.8 H504.63" fill="none"/>
<circle cx="502.03" cy="454.00" r="2.4" stroke="none"/>
<path d="M512.0 437.8 V464.25 M509.4 437.8 H514.56 M509.4 464.2 H514.56" fill="none"/>
<circle cx="511.96" cy="451.00" r="2.4" stroke="none"/>
</g>
<rect x="266.70" y="366.40" width="31.00" height="26.50" fill="#FFFFD9" stroke="#333" stroke-width="1.3"/>
<text x="270.8" y="384.10" font-size="14" font-style="italic" font-family="Liberation Sans, sans-serif" fill="#111">P<tspan font-size="9.6" font-style="normal" dy="2.5" dx="-0.5">11</tspan></text>
<rect x="67.50" y="569.50" width="124.20" height="125.00" fill="none" stroke="#7a7a7a" stroke-width="0.85"/>
<g clip-path="url(#c30)">
<path d="M67.5 569.5 L69.3 566.8 L71.2 564.1 L73.0 561.5 L74.8 559.1 L76.6 556.9 L78.5 554.9 L80.3 553.2 L82.1 551.6 L84.0 550.3 L85.8 549.1 L87.6 548.1 L89.4 547.2 L91.3 546.4 L93.1 545.7 L94.9 545.2 L96.8 544.7 L98.6 544.2 L100.4 543.8 L102.3 543.4 L104.1 543.0 L105.9 542.7 L107.7 542.4 L109.6 542.0 L111.4 541.8 L113.2 541.5 L115.1 541.3 L116.9 541.1 L118.7 540.9 L120.5 540.7 L122.4 540.5 L124.2 540.4 L126.0 540.3 L127.9 540.2 L129.7 540.1 L131.5 540.0 L133.3 540.0 L135.2 539.9 L137.0 539.9 L138.8 539.9 L140.7 539.9 L142.5 540.0 L144.3 540.0 L146.1 540.0 L148.0 540.1 L149.8 540.2 L151.6 540.3 L153.5 540.4 L155.3 540.5 L157.1 540.6 L158.9 540.7 L160.8 540.8 L162.6 541.0 L164.4 541.1 L166.3 541.3 L168.1 541.5 L169.9 541.6 L171.8 541.8 L173.6 542.0 L175.4 542.2 L177.2 542.4 L179.1 542.6 L180.9 542.8 L182.7 543.0 L184.6 543.2 L186.4 543.4 L188.2 543.6 L190.0 543.8 L191.9 544.0 L193.7 544.2 L193.7 691.9 L191.9 689.2 L190.0 686.6 L188.2 684.0 L186.4 681.4 L184.6 678.8 L182.7 676.3 L180.9 673.7 L179.1 671.2 L177.2 668.8 L175.4 666.3 L173.6 663.8 L171.8 661.2 L169.9 658.6 L168.1 655.9 L166.3 653.2 L164.4 650.6 L162.6 648.1 L160.8 645.8 L158.9 643.7 L157.1 641.9 L155.3 640.1 L153.5 638.2 L151.6 636.3 L149.8 634.3 L148.0 632.2 L146.1 630.1 L144.3 628.0 L142.5 625.9 L140.7 623.8 L138.8 621.8 L137.0 619.8 L135.2 617.9 L133.3 616.0 L131.5 614.2 L129.7 612.4 L127.9 610.7 L126.0 609.0 L124.2 607.1 L122.4 604.8 L120.5 602.0 L118.7 599.0 L116.9 596.2 L115.1 593.7 L113.2 591.9 L111.4 590.5 L109.6 589.4 L107.7 588.4 L105.9 587.3 L104.1 586.1 L102.3 584.8 L100.4 583.5 L98.6 582.4 L96.8 581.3 L94.9 580.3 L93.1 579.3 L91.3 578.2 L89.4 577.2 L87.6 576.3 L85.8 575.3 L84.0 574.5 L82.1 573.7 L80.3 573.0 L78.5 572.3 L76.6 571.7 L74.8 571.1 L73.0 570.6 L71.2 570.2 L69.3 569.8 L67.5 569.5Z" fill="#FFDAB3"/>
<path d="M67.5 569.5 L69.3 569.8 L71.2 570.2 L73.0 570.6 L74.8 571.1 L76.6 571.7 L78.5 572.3 L80.3 573.0 L82.1 573.7 L84.0 574.5 L85.8 575.3 L87.6 576.3 L89.4 577.2 L91.3 578.2 L93.1 579.3 L94.9 580.3 L96.8 581.3 L98.6 582.3 L100.4 583.3 L102.3 584.2 L104.1 585.2 L105.9 586.3 L107.7 587.3 L109.6 588.3 L111.4 589.4 L113.2 590.6 L115.1 591.7 L116.9 592.9 L118.7 594.1 L120.5 595.3 L122.4 596.5 L124.2 597.7 L126.0 598.9 L127.9 600.1 L129.7 601.4 L131.5 602.6 L133.3 603.9 L135.2 605.3 L137.0 606.7 L138.8 608.1 L140.7 609.6 L142.5 611.0 L144.3 612.4 L146.1 613.8 L148.0 615.2 L149.8 616.5 L151.6 617.9 L153.5 619.4 L155.3 620.9 L157.1 622.4 L158.9 623.9 L160.8 625.5 L162.6 627.1 L164.4 628.7 L166.3 630.4 L168.1 632.0 L169.9 633.6 L171.8 635.2 L173.6 636.9 L175.4 638.5 L177.2 640.2 L179.1 641.9 L180.9 643.6 L182.7 645.3 L184.6 647.1 L186.4 648.8 L188.2 650.6 L190.0 652.3 L191.9 654.0 L193.7 655.7 L193.7 725.0 L191.9 721.6 L190.0 718.2 L188.2 714.8 L186.4 711.5 L184.6 708.1 L182.7 704.7 L180.9 701.3 L179.1 697.9 L177.2 694.5 L175.4 691.1 L173.6 687.8 L171.8 684.4 L169.9 681.0 L168.1 677.6 L166.3 674.2 L164.4 670.7 L162.6 667.3 L160.8 663.9 L158.9 660.4 L157.1 657.0 L155.3 653.7 L153.5 650.4 L151.6 647.3 L149.8 644.3 L148.0 641.5 L146.1 638.8 L144.3 636.4 L142.5 634.1 L140.7 631.7 L138.8 629.3 L137.0 626.9 L135.2 624.5 L133.3 622.1 L131.5 619.7 L129.7 617.4 L127.9 615.1 L126.0 612.9 L124.2 610.7 L122.4 608.5 L120.5 606.4 L118.7 604.3 L116.9 602.2 L115.1 600.2 L113.2 598.3 L111.4 596.4 L109.6 594.6 L107.7 592.8 L105.9 591.1 L104.1 589.4 L102.3 587.7 L100.4 586.1 L98.6 584.5 L96.8 582.9 L94.9 581.4 L93.1 579.9 L91.3 578.6 L89.4 577.3 L87.6 576.2 L85.8 575.3 L84.0 574.5 L82.1 573.7 L80.3 573.0 L78.5 572.3 L76.6 571.7 L74.8 571.1 L73.0 570.6 L71.2 570.2 L69.3 569.8 L67.5 569.5Z" fill="#FFCCCC"/>
<path d="M67.5 569.5 L69.3 569.8 L71.2 570.2 L73.0 570.6 L74.8 571.1 L76.6 571.7 L78.5 572.3 L80.3 573.0 L82.1 573.7 L84.0 574.5 L85.8 575.3 L87.6 576.3 L89.4 577.2 L91.3 578.3 L93.1 579.3 L94.9 580.4 L96.8 581.6 L98.6 582.9 L100.4 584.1 L102.3 585.5 L104.1 586.8 L105.9 588.2 L107.7 589.6 L109.6 591.1 L111.4 592.5 L113.2 593.9 L115.1 595.2 L116.9 596.6 L118.7 598.0 L120.5 599.4 L122.4 600.9 L124.2 602.6 L126.0 604.3 L127.9 606.0 L129.7 607.6 L131.5 609.1 L133.3 610.6 L135.2 611.9 L137.0 613.2 L138.8 614.6 L140.7 615.9 L142.5 617.3 L144.3 618.7 L146.1 620.2 L148.0 621.7 L149.8 623.3 L151.6 624.8 L153.5 626.4 L155.3 627.9 L157.1 629.4 L158.9 631.0 L160.8 632.5 L162.6 633.9 L164.4 635.4 L166.3 636.9 L168.1 638.4 L169.9 639.8 L171.8 641.2 L173.6 642.5 L175.4 643.9 L177.2 645.2 L179.1 646.6 L180.9 648.0 L182.7 649.6 L184.6 651.1 L186.4 652.8 L188.2 654.5 L190.0 656.2 L191.9 657.9 L193.7 659.6 L193.7 685.0 L191.9 682.9 L190.0 680.9 L188.2 678.8 L186.4 676.8 L184.6 674.7 L182.7 672.5 L180.9 670.3 L179.1 668.1 L177.2 665.8 L175.4 663.5 L173.6 661.1 L171.8 658.8 L169.9 656.4 L168.1 654.0 L166.3 651.7 L164.4 649.3 L162.6 647.0 L160.8 644.7 L158.9 642.4 L157.1 640.2 L155.3 638.0 L153.5 635.9 L151.6 633.8 L149.8 631.8 L148.0 629.9 L146.1 628.0 L144.3 626.1 L142.5 624.3 L140.7 622.4 L138.8 620.6 L137.0 618.8 L135.2 617.0 L133.3 615.1 L131.5 613.3 L129.7 611.5 L127.9 609.6 L126.0 607.8 L124.2 605.9 L122.4 604.2 L120.5 602.4 L118.7 600.7 L116.9 599.0 L115.1 597.3 L113.2 595.6 L111.4 594.0 L109.6 592.3 L107.7 590.7 L105.9 589.1 L104.1 587.6 L102.3 586.1 L100.4 584.6 L98.6 583.3 L96.8 581.9 L94.9 580.7 L93.1 579.5 L91.3 578.3 L89.4 577.3 L87.6 576.3 L85.8 575.3 L84.0 574.5 L82.1 573.7 L80.3 573.0 L78.5 572.3 L76.6 571.7 L74.8 571.1 L73.0 570.6 L71.2 570.2 L69.3 569.8 L67.5 569.5Z" fill="#FF9999"/>
</g>
<path d="M67.50 569.50 V694.50 H191.70 M67.50 569.50 H191.70" fill="none" stroke="#7a7a7a" stroke-width="0.85"/>
<path d="M191.70 569.50 V694.50" fill="none" stroke="#7a7a7a" stroke-width="0.85" stroke-opacity="0.5"/>
<line x1="67.50" y1="569.50" x2="70.50" y2="569.50" stroke="#7a7a7a" stroke-width="0.85"/>
<text x="62.30" y="573.00" text-anchor="end" font-size="12.4" font-family="Liberation Sans, sans-serif" fill="#000">0.0</text>
<line x1="67.50" y1="611.17" x2="70.50" y2="611.17" stroke="#7a7a7a" stroke-width="0.85"/>
<text x="62.30" y="614.67" text-anchor="end" font-size="12.4" font-family="Liberation Sans, sans-serif" fill="#000">−1.0</text>
<line x1="67.50" y1="652.83" x2="70.50" y2="652.83" stroke="#7a7a7a" stroke-width="0.85"/>
<text x="62.30" y="656.33" text-anchor="end" font-size="12.4" font-family="Liberation Sans, sans-serif" fill="#000">−2.0</text>
<line x1="67.50" y1="694.50" x2="70.50" y2="694.50" stroke="#7a7a7a" stroke-width="0.85"/>
<text x="62.30" y="698.00" text-anchor="end" font-size="12.4" font-family="Liberation Sans, sans-serif" fill="#000">−3.0</text>
<line x1="67.50" y1="694.50" x2="67.50" y2="691.50" stroke="#7a7a7a" stroke-width="0.85"/>
<text x="69.80" y="709.60" text-anchor="middle" font-size="12.4" font-family="Liberation Sans, sans-serif" fill="#000">0.00</text>
<line x1="129.60" y1="694.50" x2="129.60" y2="691.50" stroke="#7a7a7a" stroke-width="0.85"/>
<text x="131.90" y="709.60" text-anchor="middle" font-size="12.4" font-family="Liberation Sans, sans-serif" fill="#000">0.05</text>
<line x1="191.70" y1="694.50" x2="191.70" y2="691.50" stroke="#7a7a7a" stroke-width="0.85"/>
<text x="194.00" y="709.60" text-anchor="middle" font-size="12.4" font-family="Liberation Sans, sans-serif" fill="#000">0.10</text>
<g clip-path="url(#c30)" fill="none">
<path d="M67.5 569.5 L69.3 566.8 L71.2 564.1 L73.0 561.5 L74.8 559.1 L76.6 556.9 L78.5 554.9 L80.3 553.2 L82.1 551.6 L84.0 550.3 L85.8 549.1 L87.6 548.1 L89.4 547.2 L91.3 546.4 L93.1 545.7 L94.9 545.2 L96.8 544.7 L98.6 544.2 L100.4 543.8 L102.3 543.4 L104.1 543.0 L105.9 542.7 L107.7 542.4 L109.6 542.0 L111.4 541.8 L113.2 541.5 L115.1 541.3 L116.9 541.1 L118.7 540.9 L120.5 540.7 L122.4 540.5 L124.2 540.4 L126.0 540.3 L127.9 540.2 L129.7 540.1 L131.5 540.0 L133.3 540.0 L135.2 539.9 L137.0 539.9 L138.8 539.9 L140.7 539.9 L142.5 540.0 L144.3 540.0 L146.1 540.0 L148.0 540.1 L149.8 540.2 L151.6 540.3 L153.5 540.4 L155.3 540.5 L157.1 540.6 L158.9 540.7 L160.8 540.8 L162.6 541.0 L164.4 541.1 L166.3 541.3 L168.1 541.5 L169.9 541.6 L171.8 541.8 L173.6 542.0 L175.4 542.2 L177.2 542.4 L179.1 542.6 L180.9 542.8 L182.7 543.0 L184.6 543.2 L186.4 543.4 L188.2 543.6 L190.0 543.8 L191.9 544.0 L193.7 544.2" stroke="#FF8000" stroke-width="1.65" stroke-dasharray="2.7 2.5"/>
<path d="M67.5 569.5 L69.3 569.8 L71.2 570.2 L73.0 570.6 L74.8 571.1 L76.6 571.7 L78.5 572.3 L80.3 573.0 L82.1 573.7 L84.0 574.5 L85.8 575.3 L87.6 576.3 L89.4 577.2 L91.3 578.2 L93.1 579.3 L94.9 580.3 L96.8 581.3 L98.6 582.4 L100.4 583.5 L102.3 584.8 L104.1 586.1 L105.9 587.3 L107.7 588.4 L109.6 589.4 L111.4 590.5 L113.2 591.9 L115.1 593.7 L116.9 596.2 L118.7 599.0 L120.5 602.0 L122.4 604.8 L124.2 607.1 L126.0 609.0 L127.9 610.7 L129.7 612.4 L131.5 614.2 L133.3 616.0 L135.2 617.9 L137.0 619.8 L138.8 621.8 L140.7 623.8 L142.5 625.9 L144.3 628.0 L146.1 630.1 L148.0 632.2 L149.8 634.3 L151.6 636.3 L153.5 638.2 L155.3 640.1 L157.1 641.9 L158.9 643.7 L160.8 645.8 L162.6 648.1 L164.4 650.6 L166.3 653.2 L168.1 655.9 L169.9 658.6 L171.8 661.2 L173.6 663.8 L175.4 666.3 L177.2 668.8 L179.1 671.2 L180.9 673.7 L182.7 676.3 L184.6 678.8 L186.4 681.4 L188.2 684.0 L190.0 686.6 L191.9 689.2 L193.7 691.9" stroke="#FF8000" stroke-width="1.65" stroke-dasharray="2.7 2.5"/>
<path d="M67.5 569.5 L69.3 569.8 L71.2 570.2 L73.0 570.6 L74.8 571.1 L76.6 571.7 L78.5 572.3 L80.3 573.0 L82.1 573.7 L84.0 574.5 L85.8 575.3 L87.6 576.3 L89.4 577.2 L91.3 578.2 L93.1 579.3 L94.9 580.3 L96.8 581.3 L98.6 582.3 L100.4 583.3 L102.3 584.2 L104.1 585.2 L105.9 586.3 L107.7 587.3 L109.6 588.3 L111.4 589.4 L113.2 590.6 L115.1 591.7 L116.9 592.9 L118.7 594.1 L120.5 595.3 L122.4 596.5 L124.2 597.7 L126.0 598.9 L127.9 600.1 L129.7 601.4 L131.5 602.6 L133.3 603.9 L135.2 605.3 L137.0 606.7 L138.8 608.1 L140.7 609.6 L142.5 611.0 L144.3 612.4 L146.1 613.8 L148.0 615.2 L149.8 616.5 L151.6 617.9 L153.5 619.4 L155.3 620.9 L157.1 622.4 L158.9 623.9 L160.8 625.5 L162.6 627.1 L164.4 628.7 L166.3 630.4 L168.1 632.0 L169.9 633.6 L171.8 635.2 L173.6 636.9 L175.4 638.5 L177.2 640.2 L179.1 641.9 L180.9 643.6 L182.7 645.3 L184.6 647.1 L186.4 648.8 L188.2 650.6 L190.0 652.3 L191.9 654.0 L193.7 655.7" stroke="#F96E72" stroke-width="1.55" stroke-dasharray="6 3"/>
<path d="M67.5 569.5 L69.3 569.8 L71.2 570.2 L73.0 570.6 L74.8 571.1 L76.6 571.7 L78.5 572.3 L80.3 573.0 L82.1 573.7 L84.0 574.5 L85.8 575.3 L87.6 576.2 L89.4 577.3 L91.3 578.6 L93.1 579.9 L94.9 581.4 L96.8 582.9 L98.6 584.5 L100.4 586.1 L102.3 587.7 L104.1 589.4 L105.9 591.1 L107.7 592.8 L109.6 594.6 L111.4 596.4 L113.2 598.3 L115.1 600.2 L116.9 602.2 L118.7 604.3 L120.5 606.4 L122.4 608.5 L124.2 610.7 L126.0 612.9 L127.9 615.1 L129.7 617.4 L131.5 619.7 L133.3 622.1 L135.2 624.5 L137.0 626.9 L138.8 629.3 L140.7 631.7 L142.5 634.1 L144.3 636.4 L146.1 638.8 L148.0 641.5 L149.8 644.3 L151.6 647.3 L153.5 650.4 L155.3 653.7 L157.1 657.0 L158.9 660.4 L160.8 663.9 L162.6 667.3 L164.4 670.7 L166.3 674.2 L168.1 677.6 L169.9 681.0 L171.8 684.4 L173.6 687.8 L175.4 691.1 L177.2 694.5 L179.1 697.9 L180.9 701.3 L182.7 704.7 L184.6 708.1 L186.4 711.5 L188.2 714.8 L190.0 718.2 L191.9 721.6 L193.7 725.0" stroke="#F96E72" stroke-width="1.55" stroke-dasharray="6 3"/>
<path d="M67.5 569.5 L69.3 569.8 L71.2 570.2 L73.0 570.6 L74.8 571.1 L76.6 571.7 L78.5 572.3 L80.3 573.0 L82.1 573.7 L84.0 574.5 L85.8 575.3 L87.6 576.3 L89.4 577.2 L91.3 578.3 L93.1 579.3 L94.9 580.4 L96.8 581.6 L98.6 582.9 L100.4 584.1 L102.3 585.5 L104.1 586.8 L105.9 588.2 L107.7 589.6 L109.6 591.1 L111.4 592.5 L113.2 593.9 L115.1 595.2 L116.9 596.6 L118.7 598.0 L120.5 599.4 L122.4 600.9 L124.2 602.6 L126.0 604.3 L127.9 606.0 L129.7 607.6 L131.5 609.1 L133.3 610.6 L135.2 611.9 L137.0 613.2 L138.8 614.6 L140.7 615.9 L142.5 617.3 L144.3 618.7 L146.1 620.2 L148.0 621.7 L149.8 623.3 L151.6 624.8 L153.5 626.4 L155.3 627.9 L157.1 629.4 L158.9 631.0 L160.8 632.5 L162.6 633.9 L164.4 635.4 L166.3 636.9 L168.1 638.4 L169.9 639.8 L171.8 641.2 L173.6 642.5 L175.4 643.9 L177.2 645.2 L179.1 646.6 L180.9 648.0 L182.7 649.6 L184.6 651.1 L186.4 652.8 L188.2 654.5 L190.0 656.2 L191.9 657.9 L193.7 659.6" stroke="#F40000" stroke-width="1.8"/>
<path d="M67.5 569.5 L69.3 569.8 L71.2 570.2 L73.0 570.6 L74.8 571.1 L76.6 571.7 L78.5 572.3 L80.3 573.0 L82.1 573.7 L84.0 574.5 L85.8 575.3 L87.6 576.3 L89.4 577.3 L91.3 578.3 L93.1 579.5 L94.9 580.7 L96.8 581.9 L98.6 583.3 L100.4 584.6 L102.3 586.1 L104.1 587.6 L105.9 589.1 L107.7 590.7 L109.6 592.3 L111.4 594.0 L113.2 595.6 L115.1 597.3 L116.9 599.0 L118.7 600.7 L120.5 602.4 L122.4 604.2 L124.2 605.9 L126.0 607.8 L127.9 609.6 L129.7 611.5 L131.5 613.3 L133.3 615.1 L135.2 617.0 L137.0 618.8 L138.8 620.6 L140.7 622.4 L142.5 624.3 L144.3 626.1 L146.1 628.0 L148.0 629.9 L149.8 631.8 L151.6 633.8 L153.5 635.9 L155.3 638.0 L157.1 640.2 L158.9 642.4 L160.8 644.7 L162.6 647.0 L164.4 649.3 L166.3 651.7 L168.1 654.0 L169.9 656.4 L171.8 658.8 L173.6 661.1 L175.4 663.5 L177.2 665.8 L179.1 668.1 L180.9 670.3 L182.7 672.5 L184.6 674.7 L186.4 676.8 L188.2 678.8 L190.0 680.9 L191.9 682.9 L193.7 685.0" stroke="#F40000" stroke-width="1.8"/>
</g>
<g stroke="#5555FF" stroke-width="1.45" fill="#5555FF">
<circle cx="69.27" cy="569.75" r="2.4" stroke="none"/>
<circle cx="71.46" cy="570.25" r="2.4" stroke="none"/>
<circle cx="74.48" cy="571.00" r="2.4" stroke="none"/>
<circle cx="78.29" cy="572.25" r="2.4" stroke="none"/>
<circle cx="82.84" cy="574.00" r="2.4" stroke="none"/>
<rect x="85.7" y="575.1" width="4.7" height="2.8" stroke="none"/>
<circle cx="88.08" cy="576.50" r="2.4" stroke="none"/>
<rect x="91.6" y="578.4" width="4.7" height="2.8" stroke="none"/>
<circle cx="93.96" cy="579.75" r="2.4" stroke="none"/>
<rect x="98.1" y="581.9" width="4.7" height="3.3" stroke="none"/>
<circle cx="100.42" cy="583.50" r="2.4" stroke="none"/>
<rect x="105.1" y="586.4" width="4.7" height="3.8" stroke="none"/>
<circle cx="107.40" cy="588.25" r="2.4" stroke="none"/>
<rect x="112.5" y="591.4" width="4.7" height="4.3" stroke="none"/>
<circle cx="114.87" cy="593.50" r="2.4" stroke="none"/>
<rect x="120.4" y="596.9" width="4.7" height="4.8" stroke="none"/>
<circle cx="122.76" cy="599.25" r="2.4" stroke="none"/>
<rect x="128.7" y="602.9" width="4.7" height="5.3" stroke="none"/>
<circle cx="131.05" cy="605.50" r="2.4" stroke="none"/>
<rect x="137.3" y="609.4" width="4.7" height="5.8" stroke="none"/>
<circle cx="139.68" cy="612.25" r="2.4" stroke="none"/>
<path d="M148.6 617.0 V622.00 M146.0 617.0 H151.23 M146.0 622.0 H151.23" fill="none"/>
<circle cx="148.63" cy="619.50" r="2.4" stroke="none"/>
<path d="M157.9 625.0 V630.50 M155.3 625.0 H160.46 M155.3 630.5 H160.46" fill="none"/>
<circle cx="157.86" cy="627.75" r="2.4" stroke="none"/>
<path d="M167.3 633.0 V639.00 M164.7 633.0 H169.94 M164.7 639.0 H169.94" fill="none"/>
<circle cx="167.34" cy="636.00" r="2.4" stroke="none"/>
<path d="M177.0 641.5 V648.00 M174.4 641.5 H179.65 M174.4 648.0 H179.65" fill="none"/>
<circle cx="177.05" cy="644.75" r="2.4" stroke="none"/>
<path d="M187.0 650.2 V657.75 M184.4 650.2 H189.56 M184.4 657.8 H189.56" fill="none"/>
<circle cx="186.96" cy="654.00" r="2.4" stroke="none"/>
</g>
<rect x="229.60" y="569.50" width="125.20" height="125.00" fill="none" stroke="#7a7a7a" stroke-width="0.85"/>
<g clip-path="url(#c31)">
<path d="M229.6 569.5 L231.4 569.8 L233.3 570.2 L235.1 570.6 L237.0 571.1 L238.8 571.7 L240.7 572.3 L242.5 573.0 L244.3 573.7 L246.2 574.5 L248.0 575.3 L249.9 576.3 L251.7 577.2 L253.6 578.2 L255.4 579.2 L257.3 580.3 L259.1 581.3 L260.9 582.3 L262.8 583.2 L264.6 584.2 L266.5 585.1 L268.3 586.0 L270.2 586.9 L272.0 587.8 L273.8 588.7 L275.7 589.6 L277.5 590.6 L279.4 591.5 L281.2 592.5 L283.1 593.4 L284.9 594.3 L286.8 595.1 L288.6 595.9 L290.4 596.6 L292.3 597.3 L294.1 597.9 L296.0 598.5 L297.8 599.1 L299.7 599.6 L301.5 600.1 L303.3 600.6 L305.2 601.1 L307.0 601.6 L308.9 602.0 L310.7 602.5 L312.6 602.9 L314.4 603.4 L316.3 603.8 L318.1 604.3 L319.9 604.7 L321.8 605.1 L323.6 605.5 L325.5 605.9 L327.3 606.3 L329.2 606.7 L331.0 607.0 L332.8 607.3 L334.7 607.6 L336.5 607.9 L338.4 608.1 L340.2 608.3 L342.1 608.5 L343.9 608.6 L345.8 608.7 L347.6 608.7 L349.4 608.8 L351.3 608.8 L353.1 608.8 L355.0 608.8 L356.8 608.7 L356.8 693.3 L355.0 690.4 L353.1 687.5 L351.3 684.6 L349.4 681.6 L347.6 678.7 L345.8 675.9 L343.9 673.2 L342.1 670.5 L340.2 667.8 L338.4 665.1 L336.5 662.4 L334.7 659.7 L332.8 656.8 L331.0 654.0 L329.2 651.3 L327.3 648.7 L325.5 646.2 L323.6 643.8 L321.8 641.5 L319.9 639.3 L318.1 637.2 L316.3 635.2 L314.4 633.2 L312.6 631.2 L310.7 629.3 L308.9 627.3 L307.0 625.4 L305.2 623.6 L303.3 621.7 L301.5 619.8 L299.7 617.9 L297.8 616.0 L296.0 614.1 L294.1 612.3 L292.3 610.4 L290.4 608.7 L288.6 606.9 L286.8 605.2 L284.9 603.6 L283.1 601.9 L281.2 600.3 L279.4 598.6 L277.5 596.9 L275.7 595.2 L273.8 593.4 L272.0 591.6 L270.2 589.8 L268.3 588.1 L266.5 586.4 L264.6 584.9 L262.8 583.5 L260.9 582.3 L259.1 581.3 L257.3 580.3 L255.4 579.3 L253.6 578.3 L251.7 577.2 L249.9 576.3 L248.0 575.3 L246.2 574.5 L244.3 573.7 L242.5 573.0 L240.7 572.3 L238.8 571.7 L237.0 571.1 L235.1 570.6 L233.3 570.2 L231.4 569.8 L229.6 569.5Z" fill="#FFDAB3"/>
<path d="M229.6 569.5 L231.4 569.8 L233.3 570.2 L235.1 570.6 L237.0 571.1 L238.8 571.7 L240.7 572.3 L242.5 573.0 L244.3 573.7 L246.2 574.5 L248.0 575.3 L249.9 576.3 L251.7 577.2 L253.6 578.2 L255.4 579.3 L257.3 580.3 L259.1 581.3 L260.9 582.4 L262.8 583.5 L264.6 584.7 L266.5 585.9 L268.3 587.2 L270.2 588.5 L272.0 589.8 L273.8 591.1 L275.7 592.3 L277.5 593.6 L279.4 594.9 L281.2 596.3 L283.1 597.6 L284.9 599.0 L286.8 600.3 L288.6 601.8 L290.4 603.2 L292.3 604.7 L294.1 606.1 L296.0 607.6 L297.8 609.1 L299.7 610.5 L301.5 612.0 L303.3 613.4 L305.2 614.8 L307.0 616.2 L308.9 617.6 L310.7 619.1 L312.6 620.5 L314.4 622.0 L316.3 623.5 L318.1 625.0 L319.9 626.6 L321.8 628.1 L323.6 629.7 L325.5 631.3 L327.3 632.9 L329.2 634.6 L331.0 636.2 L332.8 637.9 L334.7 639.6 L336.5 641.2 L338.4 642.9 L340.2 644.5 L342.1 646.1 L343.9 647.8 L345.8 649.4 L347.6 651.0 L349.4 652.6 L351.3 654.2 L353.1 655.8 L355.0 657.4 L356.8 659.0 L356.8 715.5 L355.0 712.0 L353.1 708.5 L351.3 705.0 L349.4 701.5 L347.6 698.1 L345.8 694.6 L343.9 691.4 L342.1 688.3 L340.2 685.3 L338.4 682.4 L336.5 679.5 L334.7 676.4 L332.8 673.2 L331.0 669.9 L329.2 666.6 L327.3 663.1 L325.5 659.8 L323.6 656.5 L321.8 653.3 L319.9 650.3 L318.1 647.5 L316.3 644.7 L314.4 642.0 L312.6 639.4 L310.7 636.8 L308.9 634.3 L307.0 631.8 L305.2 629.4 L303.3 626.9 L301.5 624.5 L299.7 622.1 L297.8 619.8 L296.0 617.7 L294.1 615.6 L292.3 613.7 L290.4 612.0 L288.6 610.4 L286.8 608.8 L284.9 607.1 L283.1 605.3 L281.2 603.5 L279.4 601.5 L277.5 599.5 L275.7 597.5 L273.8 595.3 L272.0 593.1 L270.2 590.9 L268.3 588.8 L266.5 586.8 L264.6 585.0 L262.8 583.5 L260.9 582.3 L259.1 581.2 L257.3 580.3 L255.4 579.3 L253.6 578.3 L251.7 577.2 L249.9 576.3 L248.0 575.3 L246.2 574.5 L244.3 573.7 L242.5 573.0 L240.7 572.3 L238.8 571.7 L237.0 571.1 L235.1 570.6 L233.3 570.2 L231.4 569.8 L229.6 569.5Z" fill="#FFCCCC"/>
<path d="M229.6 569.5 L231.4 569.8 L233.3 570.2 L235.1 570.6 L237.0 571.1 L238.8 571.7 L240.7 572.3 L242.5 573.0 L244.3 573.7 L246.2 574.5 L248.0 575.3 L249.9 576.3 L251.7 577.2 L253.6 578.2 L255.4 579.3 L257.3 580.3 L259.1 581.3 L260.9 582.4 L262.8 583.5 L264.6 584.7 L266.5 586.0 L268.3 587.2 L270.2 588.5 L272.0 589.7 L273.8 590.9 L275.7 592.2 L277.5 593.7 L279.4 595.2 L281.2 596.9 L283.1 598.6 L284.9 600.4 L286.8 602.1 L288.6 603.8 L290.4 605.4 L292.3 606.8 L294.1 608.1 L296.0 609.2 L297.8 610.3 L299.7 611.3 L301.5 612.4 L303.3 613.5 L305.2 614.7 L307.0 616.0 L308.9 617.4 L310.7 618.8 L312.6 620.3 L314.4 621.8 L316.3 623.4 L318.1 624.9 L319.9 626.4 L321.8 628.0 L323.6 629.5 L325.5 631.1 L327.3 632.7 L329.2 634.3 L331.0 636.1 L332.8 637.8 L334.7 639.5 L336.5 641.1 L338.4 642.7 L340.2 644.3 L342.1 645.9 L343.9 647.4 L345.8 649.0 L347.6 650.6 L349.4 652.2 L351.3 653.9 L353.1 655.6 L355.0 657.2 L356.8 658.9 L356.8 677.3 L355.0 675.0 L353.1 672.7 L351.3 670.4 L349.4 668.1 L347.6 665.8 L345.8 663.6 L343.9 661.3 L342.1 659.1 L340.2 656.9 L338.4 654.7 L336.5 652.4 L334.7 650.2 L332.8 647.9 L331.0 645.6 L329.2 643.3 L327.3 641.1 L325.5 639.0 L323.6 637.1 L321.8 635.3 L319.9 633.5 L318.1 631.8 L316.3 630.0 L314.4 628.4 L312.6 626.7 L310.7 625.0 L308.9 623.3 L307.0 621.6 L305.2 619.9 L303.3 618.3 L301.5 616.6 L299.7 614.9 L297.8 613.2 L296.0 611.5 L294.1 609.8 L292.3 608.2 L290.4 606.5 L288.6 604.7 L286.8 603.0 L284.9 601.1 L283.1 599.2 L281.2 597.2 L279.4 595.4 L277.5 593.7 L275.7 592.2 L273.8 590.9 L272.0 589.7 L270.2 588.5 L268.3 587.2 L266.5 586.0 L264.6 584.7 L262.8 583.5 L260.9 582.4 L259.1 581.3 L257.3 580.3 L255.4 579.3 L253.6 578.2 L251.7 577.2 L249.9 576.3 L248.0 575.3 L246.2 574.5 L244.3 573.7 L242.5 573.0 L240.7 572.3 L238.8 571.7 L237.0 571.1 L235.1 570.6 L233.3 570.2 L231.4 569.8 L229.6 569.5Z" fill="#FF9999"/>
</g>
<path d="M229.60 569.50 V694.50 H354.80 M229.60 569.50 H354.80" fill="none" stroke="#7a7a7a" stroke-width="0.85"/>
<path d="M354.80 569.50 V694.50" fill="none" stroke="#7a7a7a" stroke-width="0.85" stroke-opacity="0.5"/>
<line x1="229.60" y1="569.50" x2="232.60" y2="569.50" stroke="#7a7a7a" stroke-width="0.85"/>
<line x1="229.60" y1="611.17" x2="232.60" y2="611.17" stroke="#7a7a7a" stroke-width="0.85"/>
<line x1="229.60" y1="652.83" x2="232.60" y2="652.83" stroke="#7a7a7a" stroke-width="0.85"/>
<line x1="229.60" y1="694.50" x2="232.60" y2="694.50" stroke="#7a7a7a" stroke-width="0.85"/>
<line x1="229.60" y1="694.50" x2="229.60" y2="691.50" stroke="#7a7a7a" stroke-width="0.85"/>
<text x="231.90" y="709.60" text-anchor="middle" font-size="12.4" font-family="Liberation Sans, sans-serif" fill="#000">0.00</text>
<line x1="292.20" y1="694.50" x2="292.20" y2="691.50" stroke="#7a7a7a" stroke-width="0.85"/>
<text x="294.50" y="709.60" text-anchor="middle" font-size="12.4" font-family="Liberation Sans, sans-serif" fill="#000">0.05</text>
<line x1="354.80" y1="694.50" x2="354.80" y2="691.50" stroke="#7a7a7a" stroke-width="0.85"/>
<text x="357.10" y="709.60" text-anchor="middle" font-size="12.4" font-family="Liberation Sans, sans-serif" fill="#000">0.10</text>
<g clip-path="url(#c31)" fill="none">
<path d="M229.6 569.5 L231.4 569.8 L233.3 570.2 L235.1 570.6 L237.0 571.1 L238.8 571.7 L240.7 572.3 L242.5 573.0 L244.3 573.7 L246.2 574.5 L248.0 575.3 L249.9 576.3 L251.7 577.2 L253.6 578.2 L255.4 579.2 L257.3 580.3 L259.1 581.3 L260.9 582.3 L262.8 583.2 L264.6 584.2 L266.5 585.1 L268.3 586.0 L270.2 586.9 L272.0 587.8 L273.8 588.7 L275.7 589.6 L277.5 590.6 L279.4 591.5 L281.2 592.5 L283.1 593.4 L284.9 594.3 L286.8 595.1 L288.6 595.9 L290.4 596.6 L292.3 597.3 L294.1 597.9 L296.0 598.5 L297.8 599.1 L299.7 599.6 L301.5 600.1 L303.3 600.6 L305.2 601.1 L307.0 601.6 L308.9 602.0 L310.7 602.5 L312.6 602.9 L314.4 603.4 L316.3 603.8 L318.1 604.3 L319.9 604.7 L321.8 605.1 L323.6 605.5 L325.5 605.9 L327.3 606.3 L329.2 606.7 L331.0 607.0 L332.8 607.3 L334.7 607.6 L336.5 607.9 L338.4 608.1 L340.2 608.3 L342.1 608.5 L343.9 608.6 L345.8 608.7 L347.6 608.7 L349.4 608.8 L351.3 608.8 L353.1 608.8 L355.0 608.8 L356.8 608.7" stroke="#FF8000" stroke-width="1.65" stroke-dasharray="2.7 2.5"/>
<path d="M229.6 569.5 L231.4 569.8 L233.3 570.2 L235.1 570.6 L237.0 571.1 L238.8 571.7 L240.7 572.3 L242.5 573.0 L244.3 573.7 L246.2 574.5 L248.0 575.3 L249.9 576.3 L251.7 577.2 L253.6 578.3 L255.4 579.3 L257.3 580.3 L259.1 581.3 L260.9 582.3 L262.8 583.5 L264.6 584.9 L266.5 586.4 L268.3 588.1 L270.2 589.8 L272.0 591.6 L273.8 593.4 L275.7 595.2 L277.5 596.9 L279.4 598.6 L281.2 600.3 L283.1 601.9 L284.9 603.6 L286.8 605.2 L288.6 606.9 L290.4 608.7 L292.3 610.4 L294.1 612.3 L296.0 614.1 L297.8 616.0 L299.7 617.9 L301.5 619.8 L303.3 621.7 L305.2 623.6 L307.0 625.4 L308.9 627.3 L310.7 629.3 L312.6 631.2 L314.4 633.2 L316.3 635.2 L318.1 637.2 L319.9 639.3 L321.8 641.5 L323.6 643.8 L325.5 646.2 L327.3 648.7 L329.2 651.3 L331.0 654.0 L332.8 656.8 L334.7 659.7 L336.5 662.4 L338.4 665.1 L340.2 667.8 L342.1 670.5 L343.9 673.2 L345.8 675.9 L347.6 678.7 L349.4 681.6 L351.3 684.6 L353.1 687.5 L355.0 690.4 L356.8 693.3" stroke="#FF8000" stroke-width="1.65" stroke-dasharray="2.7 2.5"/>
<path d="M229.6 569.5 L231.4 569.8 L233.3 570.2 L235.1 570.6 L237.0 571.1 L238.8 571.7 L240.7 572.3 L242.5 573.0 L244.3 573.7 L246.2 574.5 L248.0 575.3 L249.9 576.3 L251.7 577.2 L253.6 578.2 L255.4 579.3 L257.3 580.3 L259.1 581.3 L260.9 582.4 L262.8 583.5 L264.6 584.7 L266.5 585.9 L268.3 587.2 L270.2 588.5 L272.0 589.8 L273.8 591.1 L275.7 592.3 L277.5 593.6 L279.4 594.9 L281.2 596.3 L283.1 597.6 L284.9 599.0 L286.8 600.3 L288.6 601.8 L290.4 603.2 L292.3 604.7 L294.1 606.1 L296.0 607.6 L297.8 609.1 L299.7 610.5 L301.5 612.0 L303.3 613.4 L305.2 614.8 L307.0 616.2 L308.9 617.6 L310.7 619.1 L312.6 620.5 L314.4 622.0 L316.3 623.5 L318.1 625.0 L319.9 626.6 L321.8 628.1 L323.6 629.7 L325.5 631.3 L327.3 632.9 L329.2 634.6 L331.0 636.2 L332.8 637.9 L334.7 639.6 L336.5 641.2 L338.4 642.9 L340.2 644.5 L342.1 646.1 L343.9 647.8 L345.8 649.4 L347.6 651.0 L349.4 652.6 L351.3 654.2 L353.1 655.8 L355.0 657.4 L356.8 659.0" stroke="#F96E72" stroke-width="1.55" stroke-dasharray="6 3"/>
<path d="M229.6 569.5 L231.4 569.8 L233.3 570.2 L235.1 570.6 L237.0 571.1 L238.8 571.7 L240.7 572.3 L242.5 573.0 L244.3 573.7 L246.2 574.5 L248.0 575.3 L249.9 576.3 L251.7 577.2 L253.6 578.3 L255.4 579.3 L257.3 580.3 L259.1 581.2 L260.9 582.3 L262.8 583.5 L264.6 585.0 L266.5 586.8 L268.3 588.8 L270.2 590.9 L272.0 593.1 L273.8 595.3 L275.7 597.5 L277.5 599.5 L279.4 601.5 L281.2 603.5 L283.1 605.3 L284.9 607.1 L286.8 608.8 L288.6 610.4 L290.4 612.0 L292.3 613.7 L294.1 615.6 L296.0 617.7 L297.8 619.8 L299.7 622.1 L301.5 624.5 L303.3 626.9 L305.2 629.4 L307.0 631.8 L308.9 634.3 L310.7 636.8 L312.6 639.4 L314.4 642.0 L316.3 644.7 L318.1 647.5 L319.9 650.3 L321.8 653.3 L323.6 656.5 L325.5 659.8 L327.3 663.1 L329.2 666.6 L331.0 669.9 L332.8 673.2 L334.7 676.4 L336.5 679.5 L338.4 682.4 L340.2 685.3 L342.1 688.3 L343.9 691.4 L345.8 694.6 L347.6 698.1 L349.4 701.5 L351.3 705.0 L353.1 708.5 L355.0 712.0 L356.8 715.5" stroke="#F96E72" stroke-width="1.55" stroke-dasharray="6 3"/>
<path d="M229.6 569.5 L231.4 569.8 L233.3 570.2 L235.1 570.6 L237.0 571.1 L238.8 571.7 L240.7 572.3 L242.5 573.0 L244.3 573.7 L246.2 574.5 L248.0 575.3 L249.9 576.3 L251.7 577.2 L253.6 578.2 L255.4 579.3 L257.3 580.3 L259.1 581.3 L260.9 582.4 L262.8 583.5 L264.6 584.7 L266.5 586.0 L268.3 587.2 L270.2 588.5 L272.0 589.7 L273.8 590.9 L275.7 592.2 L277.5 593.7 L279.4 595.2 L281.2 596.9 L283.1 598.6 L284.9 600.4 L286.8 602.1 L288.6 603.8 L290.4 605.4 L292.3 606.8 L294.1 608.1 L296.0 609.2 L297.8 610.3 L299.7 611.3 L301.5 612.4 L303.3 613.5 L305.2 614.7 L307.0 616.0 L308.9 617.4 L310.7 618.8 L312.6 620.3 L314.4 621.8 L316.3 623.4 L318.1 624.9 L319.9 626.4 L321.8 628.0 L323.6 629.5 L325.5 631.1 L327.3 632.7 L329.2 634.3 L331.0 636.1 L332.8 637.8 L334.7 639.5 L336.5 641.1 L338.4 642.7 L340.2 644.3 L342.1 645.9 L343.9 647.4 L345.8 649.0 L347.6 650.6 L349.4 652.2 L351.3 653.9 L353.1 655.6 L355.0 657.2 L356.8 658.9" stroke="#F40000" stroke-width="1.8"/>
<path d="M229.6 569.5 L231.4 569.8 L233.3 570.2 L235.1 570.6 L237.0 571.1 L238.8 571.7 L240.7 572.3 L242.5 573.0 L244.3 573.7 L246.2 574.5 L248.0 575.3 L249.9 576.3 L251.7 577.2 L253.6 578.2 L255.4 579.3 L257.3 580.3 L259.1 581.3 L260.9 582.4 L262.8 583.5 L264.6 584.7 L266.5 586.0 L268.3 587.2 L270.2 588.5 L272.0 589.7 L273.8 590.9 L275.7 592.2 L277.5 593.7 L279.4 595.4 L281.2 597.2 L283.1 599.2 L284.9 601.1 L286.8 603.0 L288.6 604.7 L290.4 606.5 L292.3 608.2 L294.1 609.8 L296.0 611.5 L297.8 613.2 L299.7 614.9 L301.5 616.6 L303.3 618.3 L305.2 619.9 L307.0 621.6 L308.9 623.3 L310.7 625.0 L312.6 626.7 L314.4 628.4 L316.3 630.0 L318.1 631.8 L319.9 633.5 L321.8 635.3 L323.6 637.1 L325.5 639.0 L327.3 641.1 L329.2 643.3 L331.0 645.6 L332.8 647.9 L334.7 650.2 L336.5 652.4 L338.4 654.7 L340.2 656.9 L342.1 659.1 L343.9 661.3 L345.8 663.6 L347.6 665.8 L349.4 668.1 L351.3 670.4 L353.1 672.7 L355.0 675.0 L356.8 677.3" stroke="#F40000" stroke-width="1.8"/>
</g>
<g stroke="#5555FF" stroke-width="1.45" fill="#5555FF">
<circle cx="231.38" cy="569.75" r="2.4" stroke="none"/>
<circle cx="233.59" cy="570.25" r="2.4" stroke="none"/>
<circle cx="236.63" cy="571.00" r="2.4" stroke="none"/>
<circle cx="240.47" cy="572.25" r="2.4" stroke="none"/>
<circle cx="245.06" cy="574.00" r="2.4" stroke="none"/>
<rect x="248.0" y="575.1" width="4.7" height="2.8" stroke="none"/>
<circle cx="250.35" cy="576.50" r="2.4" stroke="none"/>
<rect x="253.9" y="578.4" width="4.7" height="2.8" stroke="none"/>
<circle cx="256.27" cy="579.75" r="2.4" stroke="none"/>
<rect x="260.4" y="581.9" width="4.7" height="3.3" stroke="none"/>
<circle cx="262.78" cy="583.50" r="2.4" stroke="none"/>
<rect x="267.5" y="586.4" width="4.7" height="3.8" stroke="none"/>
<circle cx="269.82" cy="588.25" r="2.4" stroke="none"/>
<rect x="275.0" y="591.4" width="4.7" height="4.3" stroke="none"/>
<circle cx="277.35" cy="593.50" r="2.4" stroke="none"/>
<rect x="283.0" y="596.9" width="4.7" height="4.8" stroke="none"/>
<circle cx="285.31" cy="599.25" r="2.4" stroke="none"/>
<rect x="291.3" y="602.9" width="4.7" height="5.3" stroke="none"/>
<circle cx="293.66" cy="605.50" r="2.4" stroke="none"/>
<rect x="300.0" y="609.4" width="4.7" height="5.8" stroke="none"/>
<circle cx="302.36" cy="612.25" r="2.4" stroke="none"/>
<path d="M311.4 617.0 V622.00 M308.8 617.0 H313.98 M308.8 622.0 H313.98" fill="none"/>
<circle cx="311.38" cy="619.50" r="2.4" stroke="none"/>
<path d="M320.7 625.0 V630.50 M318.1 625.0 H323.28 M318.1 630.5 H323.28" fill="none"/>
<circle cx="320.68" cy="627.75" r="2.4" stroke="none"/>
<path d="M330.2 633.0 V639.00 M327.6 633.0 H332.84 M327.6 639.0 H332.84" fill="none"/>
<circle cx="330.24" cy="636.00" r="2.4" stroke="none"/>
<path d="M340.0 641.5 V648.00 M337.4 641.5 H342.63 M337.4 648.0 H342.63" fill="none"/>
<circle cx="340.03" cy="644.75" r="2.4" stroke="none"/>
<path d="M350.0 650.2 V657.75 M347.4 650.2 H352.62 M347.4 657.8 H352.62" fill="none"/>
<circle cx="350.02" cy="654.00" r="2.4" stroke="none"/>
</g>
<rect x="392.40" y="569.50" width="124.30" height="125.00" fill="none" stroke="#7a7a7a" stroke-width="0.85"/>
<g clip-path="url(#c32)">
<path d="M392.4 569.5 L394.2 569.8 L396.1 570.2 L397.9 570.6 L399.7 571.1 L401.6 571.7 L403.4 572.3 L405.2 572.8 L407.0 573.1 L408.9 573.5 L410.7 573.8 L412.5 574.1 L414.4 574.6 L416.2 575.1 L418.0 575.6 L419.9 576.2 L421.7 576.8 L423.5 577.4 L425.3 578.1 L427.2 578.7 L429.0 579.3 L430.8 579.8 L432.7 580.4 L434.5 580.9 L436.3 581.4 L438.2 581.8 L440.0 582.2 L441.8 582.6 L443.7 583.0 L445.5 583.3 L447.3 583.6 L449.1 584.0 L451.0 584.3 L452.8 584.6 L454.6 584.8 L456.5 585.1 L458.3 585.4 L460.1 585.6 L462.0 585.8 L463.8 585.9 L465.6 586.0 L467.4 586.1 L469.3 586.1 L471.1 586.1 L472.9 586.1 L474.8 586.0 L476.6 585.9 L478.4 585.7 L480.3 585.6 L482.1 585.3 L483.9 585.1 L485.8 584.7 L487.6 584.4 L489.4 583.9 L491.2 583.5 L493.1 582.9 L494.9 582.4 L496.7 581.8 L498.6 581.3 L500.4 580.7 L502.2 580.1 L504.1 579.5 L505.9 578.9 L507.7 578.3 L509.5 577.5 L511.4 576.8 L513.2 575.9 L515.0 575.0 L516.9 574.0 L518.7 573.1 L518.7 695.7 L516.9 693.0 L515.0 690.3 L513.2 687.5 L511.4 684.6 L509.5 681.7 L507.7 678.8 L505.9 675.9 L504.1 673.0 L502.2 670.1 L500.4 667.3 L498.6 664.5 L496.7 661.7 L494.9 658.9 L493.1 656.1 L491.2 653.4 L489.4 650.9 L487.6 648.4 L485.8 646.1 L483.9 643.8 L482.1 641.6 L480.3 639.5 L478.4 637.4 L476.6 635.4 L474.8 633.3 L472.9 631.3 L471.1 629.3 L469.3 627.4 L467.4 625.4 L465.6 623.4 L463.8 621.3 L462.0 619.3 L460.1 617.3 L458.3 615.3 L456.5 613.4 L454.6 611.5 L452.8 609.6 L451.0 607.7 L449.1 605.7 L447.3 603.3 L445.5 600.7 L443.7 598.2 L441.8 595.8 L440.0 593.7 L438.2 592.0 L436.3 590.7 L434.5 589.6 L432.7 588.5 L430.8 587.3 L429.0 586.0 L427.2 584.7 L425.3 583.5 L423.5 582.4 L421.7 581.3 L419.9 580.3 L418.0 579.3 L416.2 578.2 L414.4 577.2 L412.5 576.3 L410.7 575.3 L408.9 574.5 L407.0 573.7 L405.2 573.0 L403.4 572.3 L401.6 571.7 L399.7 571.1 L397.9 570.6 L396.1 570.2 L394.2 569.8 L392.4 569.5Z" fill="#FFDAB3"/>
<path d="M392.4 569.5 L394.2 569.8 L396.1 570.2 L397.9 570.6 L399.7 571.1 L401.6 571.7 L403.4 572.3 L405.2 573.0 L407.0 573.7 L408.9 574.5 L410.7 575.3 L412.5 576.3 L414.4 577.2 L416.2 578.2 L418.0 579.3 L419.9 580.3 L421.7 581.3 L423.5 582.4 L425.3 583.5 L427.2 584.7 L429.0 585.9 L430.8 587.2 L432.7 588.5 L434.5 589.8 L436.3 591.1 L438.2 592.3 L440.0 593.6 L441.8 594.9 L443.7 596.2 L445.5 597.6 L447.3 598.9 L449.1 600.4 L451.0 601.8 L452.8 603.3 L454.6 604.9 L456.5 606.4 L458.3 608.0 L460.1 609.5 L462.0 611.0 L463.8 612.5 L465.6 614.0 L467.4 615.5 L469.3 616.9 L471.1 618.4 L472.9 619.8 L474.8 621.3 L476.6 622.8 L478.4 624.3 L480.3 625.8 L482.1 627.3 L483.9 628.9 L485.8 630.5 L487.6 632.1 L489.4 633.7 L491.2 635.3 L493.1 637.0 L494.9 638.7 L496.7 640.3 L498.6 642.0 L500.4 643.6 L502.2 645.2 L504.1 646.8 L505.9 648.4 L507.7 650.0 L509.5 651.6 L511.4 653.2 L513.2 654.8 L515.0 656.4 L516.9 657.9 L518.7 659.5 L518.7 719.5 L516.9 716.0 L515.0 712.4 L513.2 708.8 L511.4 705.3 L509.5 701.7 L507.7 698.1 L505.9 694.6 L504.1 691.1 L502.2 687.6 L500.4 684.1 L498.6 680.8 L496.7 677.4 L494.9 674.1 L493.1 670.8 L491.2 667.5 L489.4 664.1 L487.6 660.7 L485.8 657.3 L483.9 654.0 L482.1 650.9 L480.3 647.9 L478.4 645.1 L476.6 642.4 L474.8 640.0 L472.9 637.6 L471.1 635.4 L469.3 633.2 L467.4 630.9 L465.6 628.4 L463.8 625.7 L462.0 623.0 L460.1 620.4 L458.3 617.9 L456.5 615.7 L454.6 613.8 L452.8 612.5 L451.0 611.2 L449.1 609.4 L447.3 606.8 L445.5 603.5 L443.7 600.0 L441.8 596.6 L440.0 593.7 L438.2 591.7 L436.3 590.3 L434.5 589.3 L432.7 588.4 L430.8 587.4 L429.0 586.1 L427.2 584.8 L425.3 583.5 L423.5 582.4 L421.7 581.3 L419.9 580.3 L418.0 579.3 L416.2 578.3 L414.4 577.2 L412.5 576.3 L410.7 575.3 L408.9 574.5 L407.0 573.7 L405.2 573.0 L403.4 572.3 L401.6 571.7 L399.7 571.1 L397.9 570.6 L396.1 570.2 L394.2 569.8 L392.4 569.5Z" fill="#FFCCCC"/>
<path d="M392.4 569.5 L394.2 569.8 L396.1 570.2 L397.9 570.6 L399.7 571.1 L401.6 571.7 L403.4 572.3 L405.2 573.0 L407.0 573.7 L408.9 574.5 L410.7 575.3 L412.5 576.3 L414.4 577.2 L416.2 578.2 L418.0 579.3 L419.9 580.3 L421.7 581.3 L423.5 582.4 L425.3 583.5 L427.2 584.7 L429.0 586.0 L430.8 587.2 L432.7 588.5 L434.5 589.7 L436.3 590.9 L438.2 592.2 L440.0 593.7 L441.8 595.3 L443.7 597.1 L445.5 599.0 L447.3 601.0 L449.1 602.9 L451.0 604.8 L452.8 606.5 L454.6 608.1 L456.5 609.5 L458.3 610.7 L460.1 611.9 L462.0 613.0 L463.8 614.1 L465.6 615.2 L467.4 616.5 L469.3 617.8 L471.1 619.2 L472.9 620.7 L474.8 622.2 L476.6 623.7 L478.4 625.2 L480.3 626.6 L482.1 628.0 L483.9 629.4 L485.8 630.9 L487.6 632.4 L489.4 634.1 L491.2 636.0 L493.1 638.1 L494.9 640.2 L496.7 642.1 L498.6 643.7 L500.4 645.2 L502.2 646.5 L504.1 647.8 L505.9 649.1 L507.7 650.5 L509.5 651.9 L511.4 653.4 L513.2 655.0 L515.0 656.5 L516.9 658.1 L518.7 659.8 L518.7 680.2 L516.9 678.0 L515.0 675.7 L513.2 673.5 L511.4 671.3 L509.5 669.0 L507.7 666.7 L505.9 664.3 L504.1 661.8 L502.2 659.4 L500.4 657.0 L498.6 654.7 L496.7 652.6 L494.9 650.7 L493.1 649.0 L491.2 647.3 L489.4 645.6 L487.6 643.7 L485.8 641.7 L483.9 639.7 L482.1 637.7 L480.3 635.7 L478.4 633.7 L476.6 631.7 L474.8 629.7 L472.9 627.8 L471.1 625.9 L469.3 624.1 L467.4 622.3 L465.6 620.5 L463.8 618.7 L462.0 616.9 L460.1 615.1 L458.3 613.3 L456.5 611.5 L454.6 609.5 L452.8 607.5 L451.0 605.4 L449.1 603.3 L447.3 601.2 L445.5 599.1 L443.7 597.2 L441.8 595.3 L440.0 593.7 L438.2 592.2 L436.3 590.9 L434.5 589.7 L432.7 588.5 L430.8 587.2 L429.0 586.0 L427.2 584.7 L425.3 583.5 L423.5 582.4 L421.7 581.3 L419.9 580.3 L418.0 579.3 L416.2 578.2 L414.4 577.2 L412.5 576.3 L410.7 575.3 L408.9 574.5 L407.0 573.7 L405.2 573.0 L403.4 572.3 L401.6 571.7 L399.7 571.1 L397.9 570.6 L396.1 570.2 L394.2 569.8 L392.4 569.5Z" fill="#FF9999"/>
</g>
<path d="M392.40 569.50 V694.50 H516.70 M392.40 569.50 H516.70" fill="none" stroke="#7a7a7a" stroke-width="0.85"/>
<path d="M516.70 569.50 V694.50" fill="none" stroke="#7a7a7a" stroke-width="0.85" stroke-opacity="0.5"/>
<line x1="392.40" y1="569.50" x2="395.40" y2="569.50" stroke="#7a7a7a" stroke-width="0.85"/>
<line x1="392.40" y1="611.17" x2="395.40" y2="611.17" stroke="#7a7a7a" stroke-width="0.85"/>
<line x1="392.40" y1="652.83" x2="395.40" y2="652.83" stroke="#7a7a7a" stroke-width="0.85"/>
<line x1="392.40" y1="694.50" x2="395.40" y2="694.50" stroke="#7a7a7a" stroke-width="0.85"/>
<line x1="392.40" y1="694.50" x2="392.40" y2="691.50" stroke="#7a7a7a" stroke-width="0.85"/>
<text x="394.70" y="709.60" text-anchor="middle" font-size="12.4" font-family="Liberation Sans, sans-serif" fill="#000">0.00</text>
<line x1="454.55" y1="694.50" x2="454.55" y2="691.50" stroke="#7a7a7a" stroke-width="0.85"/>
<text x="456.85" y="709.60" text-anchor="middle" font-size="12.4" font-family="Liberation Sans, sans-serif" fill="#000">0.05</text>
<line x1="516.70" y1="694.50" x2="516.70" y2="691.50" stroke="#7a7a7a" stroke-width="0.85"/>
<text x="519.00" y="709.60" text-anchor="middle" font-size="12.4" font-family="Liberation Sans, sans-serif" fill="#000">0.10</text>
<g clip-path="url(#c32)" fill="none">
<path d="M392.4 569.5 L394.2 569.8 L396.1 570.2 L397.9 570.6 L399.7 571.1 L401.6 571.7 L403.4 572.3 L405.2 572.8 L407.0 573.1 L408.9 573.5 L410.7 573.8 L412.5 574.1 L414.4 574.6 L416.2 575.1 L418.0 575.6 L419.9 576.2 L421.7 576.8 L423.5 577.4 L425.3 578.1 L427.2 578.7 L429.0 579.3 L430.8 579.8 L432.7 580.4 L434.5 580.9 L436.3 581.4 L438.2 581.8 L440.0 582.2 L441.8 582.6 L443.7 583.0 L445.5 583.3 L447.3 583.6 L449.1 584.0 L451.0 584.3 L452.8 584.6 L454.6 584.8 L456.5 585.1 L458.3 585.4 L460.1 585.6 L462.0 585.8 L463.8 585.9 L465.6 586.0 L467.4 586.1 L469.3 586.1 L471.1 586.1 L472.9 586.1 L474.8 586.0 L476.6 585.9 L478.4 585.7 L480.3 585.6 L482.1 585.3 L483.9 585.1 L485.8 584.7 L487.6 584.4 L489.4 583.9 L491.2 583.5 L493.1 582.9 L494.9 582.4 L496.7 581.8 L498.6 581.3 L500.4 580.7 L502.2 580.1 L504.1 579.5 L505.9 578.9 L507.7 578.3 L509.5 577.5 L511.4 576.8 L513.2 575.9 L515.0 575.0 L516.9 574.0 L518.7 573.1" stroke="#FF8000" stroke-width="1.65" stroke-dasharray="2.7 2.5"/>
<path d="M392.4 569.5 L394.2 569.8 L396.1 570.2 L397.9 570.6 L399.7 571.1 L401.6 571.7 L403.4 572.3 L405.2 573.0 L407.0 573.7 L408.9 574.5 L410.7 575.3 L412.5 576.3 L414.4 577.2 L416.2 578.2 L418.0 579.3 L419.9 580.3 L421.7 581.3 L423.5 582.4 L425.3 583.5 L427.2 584.7 L429.0 586.0 L430.8 587.3 L432.7 588.5 L434.5 589.6 L436.3 590.7 L438.2 592.0 L440.0 593.7 L441.8 595.8 L443.7 598.2 L445.5 600.7 L447.3 603.3 L449.1 605.7 L451.0 607.7 L452.8 609.6 L454.6 611.5 L456.5 613.4 L458.3 615.3 L460.1 617.3 L462.0 619.3 L463.8 621.3 L465.6 623.4 L467.4 625.4 L469.3 627.4 L471.1 629.3 L472.9 631.3 L474.8 633.3 L476.6 635.4 L478.4 637.4 L480.3 639.5 L482.1 641.6 L483.9 643.8 L485.8 646.1 L487.6 648.4 L489.4 650.9 L491.2 653.4 L493.1 656.1 L494.9 658.9 L496.7 661.7 L498.6 664.5 L500.4 667.3 L502.2 670.1 L504.1 673.0 L505.9 675.9 L507.7 678.8 L509.5 681.7 L511.4 684.6 L513.2 687.5 L515.0 690.3 L516.9 693.0 L518.7 695.7" stroke="#FF8000" stroke-width="1.65" stroke-dasharray="2.7 2.5"/>
<path d="M392.4 569.5 L394.2 569.8 L396.1 570.2 L397.9 570.6 L399.7 571.1 L401.6 571.7 L403.4 572.3 L405.2 573.0 L407.0 573.7 L408.9 574.5 L410.7 575.3 L412.5 576.3 L414.4 577.2 L416.2 578.2 L418.0 579.3 L419.9 580.3 L421.7 581.3 L423.5 582.4 L425.3 583.5 L427.2 584.7 L429.0 585.9 L430.8 587.2 L432.7 588.5 L434.5 589.8 L436.3 591.1 L438.2 592.3 L440.0 593.6 L441.8 594.9 L443.7 596.2 L445.5 597.6 L447.3 598.9 L449.1 600.4 L451.0 601.8 L452.8 603.3 L454.6 604.9 L456.5 606.4 L458.3 608.0 L460.1 609.5 L462.0 611.0 L463.8 612.5 L465.6 614.0 L467.4 615.5 L469.3 616.9 L471.1 618.4 L472.9 619.8 L474.8 621.3 L476.6 622.8 L478.4 624.3 L480.3 625.8 L482.1 627.3 L483.9 628.9 L485.8 630.5 L487.6 632.1 L489.4 633.7 L491.2 635.3 L493.1 637.0 L494.9 638.7 L496.7 640.3 L498.6 642.0 L500.4 643.6 L502.2 645.2 L504.1 646.8 L505.9 648.4 L507.7 650.0 L509.5 651.6 L511.4 653.2 L513.2 654.8 L515.0 656.4 L516.9 657.9 L518.7 659.5" stroke="#F96E72" stroke-width="1.55" stroke-dasharray="6 3"/>
<path d="M392.4 569.5 L394.2 569.8 L396.1 570.2 L397.9 570.6 L399.7 571.1 L401.6 571.7 L403.4 572.3 L405.2 573.0 L407.0 573.7 L408.9 574.5 L410.7 575.3 L412.5 576.3 L414.4 577.2 L416.2 578.3 L418.0 579.3 L419.9 580.3 L421.7 581.3 L423.5 582.4 L425.3 583.5 L427.2 584.8 L429.0 586.1 L430.8 587.4 L432.7 588.4 L434.5 589.3 L436.3 590.3 L438.2 591.7 L440.0 593.7 L441.8 596.6 L443.7 600.0 L445.5 603.5 L447.3 606.8 L449.1 609.4 L451.0 611.2 L452.8 612.5 L454.6 613.8 L456.5 615.7 L458.3 617.9 L460.1 620.4 L462.0 623.0 L463.8 625.7 L465.6 628.4 L467.4 630.9 L469.3 633.2 L471.1 635.4 L472.9 637.6 L474.8 640.0 L476.6 642.4 L478.4 645.1 L480.3 647.9 L482.1 650.9 L483.9 654.0 L485.8 657.3 L487.6 660.7 L489.4 664.1 L491.2 667.5 L493.1 670.8 L494.9 674.1 L496.7 677.4 L498.6 680.8 L500.4 684.1 L502.2 687.6 L504.1 691.1 L505.9 694.6 L507.7 698.1 L509.5 701.7 L511.4 705.3 L513.2 708.8 L515.0 712.4 L516.9 716.0 L518.7 719.5" stroke="#F96E72" stroke-width="1.55" stroke-dasharray="6 3"/>
<path d="M392.4 569.5 L394.2 569.8 L396.1 570.2 L397.9 570.6 L399.7 571.1 L401.6 571.7 L403.4 572.3 L405.2 573.0 L407.0 573.7 L408.9 574.5 L410.7 575.3 L412.5 576.3 L414.4 577.2 L416.2 578.2 L418.0 579.3 L419.9 580.3 L421.7 581.3 L423.5 582.4 L425.3 583.5 L427.2 584.7 L429.0 586.0 L430.8 587.2 L432.7 588.5 L434.5 589.7 L436.3 590.9 L438.2 592.2 L440.0 593.7 L441.8 595.3 L443.7 597.1 L445.5 599.0 L447.3 601.0 L449.1 602.9 L451.0 604.8 L452.8 606.5 L454.6 608.1 L456.5 609.5 L458.3 610.7 L460.1 611.9 L462.0 613.0 L463.8 614.1 L465.6 615.2 L467.4 616.5 L469.3 617.8 L471.1 619.2 L472.9 620.7 L474.8 622.2 L476.6 623.7 L478.4 625.2 L480.3 626.6 L482.1 628.0 L483.9 629.4 L485.8 630.9 L487.6 632.4 L489.4 634.1 L491.2 636.0 L493.1 638.1 L494.9 640.2 L496.7 642.1 L498.6 643.7 L500.4 645.2 L502.2 646.5 L504.1 647.8 L505.9 649.1 L507.7 650.5 L509.5 651.9 L511.4 653.4 L513.2 655.0 L515.0 656.5 L516.9 658.1 L518.7 659.8" stroke="#F40000" stroke-width="1.8"/>
<path d="M392.4 569.5 L394.2 569.8 L396.1 570.2 L397.9 570.6 L399.7 571.1 L401.6 571.7 L403.4 572.3 L405.2 573.0 L407.0 573.7 L408.9 574.5 L410.7 575.3 L412.5 576.3 L414.4 577.2 L416.2 578.2 L418.0 579.3 L419.9 580.3 L421.7 581.3 L423.5 582.4 L425.3 583.5 L427.2 584.7 L429.0 586.0 L430.8 587.2 L432.7 588.5 L434.5 589.7 L436.3 590.9 L438.2 592.2 L440.0 593.7 L441.8 595.3 L443.7 597.2 L445.5 599.1 L447.3 601.2 L449.1 603.3 L451.0 605.4 L452.8 607.5 L454.6 609.5 L456.5 611.5 L458.3 613.3 L460.1 615.1 L462.0 616.9 L463.8 618.7 L465.6 620.5 L467.4 622.3 L469.3 624.1 L471.1 625.9 L472.9 627.8 L474.8 629.7 L476.6 631.7 L478.4 633.7 L480.3 635.7 L482.1 637.7 L483.9 639.7 L485.8 641.7 L487.6 643.7 L489.4 645.6 L491.2 647.3 L493.1 649.0 L494.9 650.7 L496.7 652.6 L498.6 654.7 L500.4 657.0 L502.2 659.4 L504.1 661.8 L505.9 664.3 L507.7 666.7 L509.5 669.0 L511.4 671.3 L513.2 673.5 L515.0 675.7 L516.9 678.0 L518.7 680.2" stroke="#F40000" stroke-width="1.8"/>
</g>
<g stroke="#5555FF" stroke-width="1.45" fill="#5555FF">
<circle cx="394.17" cy="569.75" r="2.4" stroke="none"/>
<circle cx="396.36" cy="570.25" r="2.4" stroke="none"/>
<circle cx="399.38" cy="571.00" r="2.4" stroke="none"/>
<circle cx="403.20" cy="572.25" r="2.4" stroke="none"/>
<circle cx="407.75" cy="574.00" r="2.4" stroke="none"/>
<rect x="410.6" y="575.1" width="4.7" height="2.8" stroke="none"/>
<circle cx="413.00" cy="576.50" r="2.4" stroke="none"/>
<rect x="416.5" y="578.4" width="4.7" height="2.8" stroke="none"/>
<circle cx="418.88" cy="579.75" r="2.4" stroke="none"/>
<rect x="423.0" y="581.9" width="4.7" height="3.3" stroke="none"/>
<circle cx="425.34" cy="583.50" r="2.4" stroke="none"/>
<rect x="430.0" y="586.4" width="4.7" height="3.8" stroke="none"/>
<circle cx="432.33" cy="588.25" r="2.4" stroke="none"/>
<rect x="437.5" y="591.4" width="4.7" height="4.3" stroke="none"/>
<circle cx="439.80" cy="593.50" r="2.4" stroke="none"/>
<rect x="445.4" y="596.9" width="4.7" height="4.8" stroke="none"/>
<circle cx="447.71" cy="599.25" r="2.4" stroke="none"/>
<rect x="453.6" y="602.9" width="4.7" height="5.3" stroke="none"/>
<circle cx="456.00" cy="605.50" r="2.4" stroke="none"/>
<rect x="462.3" y="609.4" width="4.7" height="5.8" stroke="none"/>
<circle cx="464.64" cy="612.25" r="2.4" stroke="none"/>
<path d="M473.6 617.0 V622.00 M471.0 617.0 H476.19 M471.0 622.0 H476.19" fill="none"/>
<circle cx="473.59" cy="619.50" r="2.4" stroke="none"/>
<path d="M482.8 625.0 V630.50 M480.2 625.0 H485.43 M480.2 630.5 H485.43" fill="none"/>
<circle cx="482.83" cy="627.75" r="2.4" stroke="none"/>
<path d="M492.3 633.0 V639.00 M489.7 633.0 H494.92 M489.7 639.0 H494.92" fill="none"/>
<circle cx="492.32" cy="636.00" r="2.4" stroke="none"/>
<path d="M502.0 641.5 V648.00 M499.4 641.5 H504.63 M499.4 648.0 H504.63" fill="none"/>
<circle cx="502.03" cy="644.75" r="2.4" stroke="none"/>
<path d="M512.0 650.2 V657.75 M509.4 650.2 H514.56 M509.4 657.8 H514.56" fill="none"/>
<circle cx="511.96" cy="654.00" r="2.4" stroke="none"/>
</g>
<rect x="266.70" y="546.40" width="31.00" height="26.50" fill="#FFFFD9" stroke="#333" stroke-width="1.3"/>
<text x="270.8" y="564.10" font-size="14" font-style="italic" font-family="Liberation Sans, sans-serif" fill="#111">P<tspan font-size="9.6" font-style="normal" dy="2.5" dx="-0.5">31</tspan></text>
<rect x="67.50" y="749.50" width="124.20" height="125.00" fill="none" stroke="#7a7a7a" stroke-width="0.85"/>
<g clip-path="url(#c40)">
<path d="M67.5 749.5 L69.3 749.7 L71.2 749.9 L73.0 750.1 L74.8 750.2 L76.6 750.3 L78.5 750.5 L80.3 750.7 L82.1 751.0 L84.0 751.3 L85.8 751.5 L87.6 751.7 L89.4 751.9 L91.3 752.0 L93.1 752.0 L94.9 752.0 L96.8 751.9 L98.6 751.8 L100.4 751.7 L102.3 751.4 L104.1 751.2 L105.9 750.9 L107.7 750.6 L109.6 750.2 L111.4 749.8 L113.2 749.3 L115.1 748.8 L116.9 748.2 L118.7 747.5 L120.5 746.8 L122.4 746.1 L124.2 745.3 L126.0 744.5 L127.9 743.6 L129.7 742.6 L131.5 741.7 L133.3 740.6 L135.2 739.6 L137.0 738.5 L138.8 737.4 L140.7 736.3 L142.5 735.1 L144.3 733.9 L146.1 732.7 L148.0 731.4 L149.8 730.2 L151.6 728.9 L153.5 727.6 L155.3 726.3 L157.1 725.0 L158.9 723.7 L160.8 722.4 L162.6 721.0 L164.4 719.7 L166.3 718.4 L168.1 717.1 L169.9 715.8 L171.8 714.4 L173.6 713.1 L175.4 711.8 L177.2 710.5 L179.1 709.2 L180.9 707.8 L182.7 706.5 L184.6 705.2 L186.4 703.9 L188.2 702.6 L190.0 701.2 L191.9 699.9 L193.7 698.6 L193.7 932.9 L191.9 929.4 L190.0 926.0 L188.2 922.5 L186.4 919.0 L184.6 915.6 L182.7 912.1 L180.9 908.6 L179.1 905.2 L177.2 901.7 L175.4 898.3 L173.6 894.8 L171.8 891.3 L169.9 887.9 L168.1 884.4 L166.3 880.9 L164.4 877.5 L162.6 874.0 L160.8 870.5 L158.9 867.1 L157.1 863.6 L155.3 860.1 L153.5 856.7 L151.6 853.2 L149.8 849.7 L148.0 846.1 L146.1 842.4 L144.3 838.9 L142.5 835.5 L140.7 832.3 L138.8 828.9 L137.0 825.3 L135.2 821.6 L133.3 817.9 L131.5 814.6 L129.7 811.7 L127.9 809.0 L126.0 806.4 L124.2 803.8 L122.4 801.2 L120.5 798.6 L118.7 796.1 L116.9 793.8 L115.1 791.5 L113.2 789.2 L111.4 786.8 L109.6 784.4 L107.7 782.0 L105.9 779.6 L104.1 777.2 L102.3 774.9 L100.4 772.5 L98.6 770.2 L96.8 768.0 L94.9 765.8 L93.1 763.7 L91.3 761.8 L89.4 760.1 L87.6 758.7 L85.8 757.4 L84.0 756.4 L82.1 755.3 L80.3 754.3 L78.5 753.3 L76.6 752.5 L74.8 751.7 L73.0 750.8 L71.2 750.2 L69.3 749.8 L67.5 749.5Z" fill="#FFDAB3"/>
<path d="M67.5 749.5 L69.3 749.8 L71.2 750.2 L73.0 750.8 L74.8 751.7 L76.6 752.5 L78.5 753.3 L80.3 754.3 L82.1 755.3 L84.0 756.4 L85.8 757.5 L87.6 758.7 L89.4 760.0 L91.3 761.4 L93.1 762.8 L94.9 764.2 L96.8 765.6 L98.6 766.9 L100.4 768.3 L102.3 769.7 L104.1 771.2 L105.9 772.7 L107.7 774.3 L109.6 775.8 L111.4 777.4 L113.2 778.9 L115.1 780.4 L116.9 781.9 L118.7 783.5 L120.5 785.0 L122.4 786.6 L124.2 788.3 L126.0 790.0 L127.9 791.7 L129.7 793.5 L131.5 795.2 L133.3 796.9 L135.2 798.6 L137.0 800.3 L138.8 802.0 L140.7 803.7 L142.5 805.4 L144.3 807.1 L146.1 808.8 L148.0 810.6 L149.8 812.3 L151.6 814.1 L153.5 815.8 L155.3 817.6 L157.1 819.3 L158.9 821.1 L160.8 822.9 L162.6 824.6 L164.4 826.4 L166.3 828.1 L168.1 829.9 L169.9 831.6 L171.8 833.4 L173.6 835.2 L175.4 836.9 L177.2 838.7 L179.1 840.5 L180.9 842.3 L182.7 844.1 L184.6 845.9 L186.4 847.7 L188.2 849.5 L190.0 851.4 L191.9 853.2 L193.7 855.0 L193.7 995.3 L191.9 990.4 L190.0 985.6 L188.2 980.8 L186.4 976.0 L184.6 971.1 L182.7 966.3 L180.9 961.5 L179.1 956.7 L177.2 951.9 L175.4 947.0 L173.6 942.2 L171.8 937.4 L169.9 932.6 L168.1 927.8 L166.3 922.9 L164.4 918.1 L162.6 913.3 L160.8 908.5 L158.9 903.7 L157.1 898.8 L155.3 894.0 L153.5 889.2 L151.6 884.4 L149.8 879.5 L148.0 874.7 L146.1 869.8 L144.3 864.9 L142.5 860.2 L140.7 855.7 L138.8 851.4 L137.0 847.2 L135.2 843.2 L133.3 839.2 L131.5 835.1 L129.7 831.0 L127.9 826.9 L126.0 822.8 L124.2 818.7 L122.4 814.6 L120.5 810.8 L118.7 807.1 L116.9 803.5 L115.1 800.1 L113.2 796.9 L111.4 793.8 L109.6 790.8 L107.7 788.0 L105.9 785.3 L104.1 782.5 L102.3 779.7 L100.4 776.8 L98.6 773.8 L96.8 770.8 L94.9 767.9 L93.1 765.1 L91.3 762.5 L89.4 760.3 L87.6 758.6 L85.8 757.3 L84.0 756.3 L82.1 755.4 L80.3 754.3 L78.5 753.3 L76.6 752.5 L74.8 751.7 L73.0 750.8 L71.2 750.2 L69.3 749.8 L67.5 749.5Z" fill="#FFCCCC"/>
<path d="M67.5 749.5 L69.3 749.8 L71.2 750.2 L73.0 750.8 L74.8 751.7 L76.6 752.5 L78.5 753.3 L80.3 754.3 L82.1 755.3 L84.0 756.4 L85.8 757.5 L87.6 758.7 L89.4 760.0 L91.3 761.4 L93.1 762.8 L94.9 764.2 L96.8 765.6 L98.6 766.9 L100.4 768.3 L102.3 769.7 L104.1 771.2 L105.9 772.8 L107.7 774.3 L109.6 775.7 L111.4 777.2 L113.2 778.6 L115.1 780.0 L116.9 781.4 L118.7 782.9 L120.5 784.3 L122.4 785.7 L124.2 787.1 L126.0 788.4 L127.9 789.8 L129.7 791.3 L131.5 792.9 L133.3 794.6 L135.2 796.2 L137.0 797.8 L138.8 799.2 L140.7 800.6 L142.5 802.0 L144.3 803.3 L146.1 804.6 L148.0 805.8 L149.8 806.9 L151.6 808.0 L153.5 809.1 L155.3 810.1 L157.1 811.1 L158.9 812.0 L160.8 812.9 L162.6 813.7 L164.4 814.5 L166.3 815.1 L168.1 815.7 L169.9 816.1 L171.8 816.5 L173.6 816.9 L175.4 817.2 L177.2 817.5 L179.1 817.7 L180.9 817.9 L182.7 818.0 L184.6 818.1 L186.4 818.1 L188.2 818.1 L190.0 818.1 L191.9 818.1 L193.7 818.1 L193.7 885.7 L191.9 883.1 L190.0 880.6 L188.2 878.0 L186.4 875.5 L184.6 872.9 L182.7 870.3 L180.9 867.8 L179.1 865.2 L177.2 862.7 L175.4 860.2 L173.6 857.8 L171.8 855.3 L169.9 852.9 L168.1 850.4 L166.3 847.9 L164.4 845.4 L162.6 842.9 L160.8 840.4 L158.9 838.0 L157.1 835.7 L155.3 833.4 L153.5 831.1 L151.6 828.8 L149.8 826.4 L148.0 824.0 L146.1 821.6 L144.3 819.1 L142.5 816.6 L140.7 814.2 L138.8 811.7 L137.0 809.3 L135.2 806.9 L133.3 804.6 L131.5 802.4 L129.7 800.1 L127.9 797.9 L126.0 795.6 L124.2 793.3 L122.4 791.1 L120.5 788.8 L118.7 786.6 L116.9 784.4 L115.1 782.4 L113.2 780.4 L111.4 778.5 L109.6 776.7 L107.7 775.0 L105.9 773.3 L104.1 771.7 L102.3 770.2 L100.4 768.7 L98.6 767.2 L96.8 765.7 L94.9 764.3 L93.1 762.8 L91.3 761.4 L89.4 760.0 L87.6 758.7 L85.8 757.5 L84.0 756.4 L82.1 755.3 L80.3 754.3 L78.5 753.3 L76.6 752.5 L74.8 751.7 L73.0 750.8 L71.2 750.2 L69.3 749.8 L67.5 749.5Z" fill="#FF9999"/>
</g>
<path d="M67.50 749.50 V874.50 H191.70 M67.50 749.50 H191.70" fill="none" stroke="#7a7a7a" stroke-width="0.85"/>
<path d="M191.70 749.50 V874.50" fill="none" stroke="#7a7a7a" stroke-width="0.85" stroke-opacity="0.5"/>
<line x1="67.50" y1="749.50" x2="70.50" y2="749.50" stroke="#7a7a7a" stroke-width="0.85"/>
<text x="62.30" y="753.00" text-anchor="end" font-size="12.4" font-family="Liberation Sans, sans-serif" fill="#000">0.0</text>
<line x1="67.50" y1="791.17" x2="70.50" y2="791.17" stroke="#7a7a7a" stroke-width="0.85"/>
<text x="62.30" y="794.67" text-anchor="end" font-size="12.4" font-family="Liberation Sans, sans-serif" fill="#000">−0.5</text>
<line x1="67.50" y1="832.83" x2="70.50" y2="832.83" stroke="#7a7a7a" stroke-width="0.85"/>
<text x="62.30" y="836.33" text-anchor="end" font-size="12.4" font-family="Liberation Sans, sans-serif" fill="#000">−1.0</text>
<line x1="67.50" y1="874.50" x2="70.50" y2="874.50" stroke="#7a7a7a" stroke-width="0.85"/>
<text x="62.30" y="878.00" text-anchor="end" font-size="12.4" font-family="Liberation Sans, sans-serif" fill="#000">−1.5</text>
<line x1="67.50" y1="874.50" x2="67.50" y2="871.50" stroke="#7a7a7a" stroke-width="0.85"/>
<text x="69.80" y="889.60" text-anchor="middle" font-size="12.4" font-family="Liberation Sans, sans-serif" fill="#000">0.00</text>
<line x1="129.60" y1="874.50" x2="129.60" y2="871.50" stroke="#7a7a7a" stroke-width="0.85"/>
<text x="131.90" y="889.60" text-anchor="middle" font-size="12.4" font-family="Liberation Sans, sans-serif" fill="#000">0.05</text>
<line x1="191.70" y1="874.50" x2="191.70" y2="871.50" stroke="#7a7a7a" stroke-width="0.85"/>
<text x="194.00" y="889.60" text-anchor="middle" font-size="12.4" font-family="Liberation Sans, sans-serif" fill="#000">0.10</text>
<g clip-path="url(#c40)" fill="none">
<path d="M67.5 749.5 L69.3 749.7 L71.2 749.9 L73.0 750.1 L74.8 750.2 L76.6 750.3 L78.5 750.5 L80.3 750.7 L82.1 751.0 L84.0 751.3 L85.8 751.5 L87.6 751.7 L89.4 751.9 L91.3 752.0 L93.1 752.0 L94.9 752.0 L96.8 751.9 L98.6 751.8 L100.4 751.7 L102.3 751.4 L104.1 751.2 L105.9 750.9 L107.7 750.6 L109.6 750.2 L111.4 749.8 L113.2 749.3 L115.1 748.8 L116.9 748.2 L118.7 747.5 L120.5 746.8 L122.4 746.1 L124.2 745.3 L126.0 744.5 L127.9 743.6 L129.7 742.6 L131.5 741.7 L133.3 740.6 L135.2 739.6 L137.0 738.5 L138.8 737.4 L140.7 736.3 L142.5 735.1 L144.3 733.9 L146.1 732.7 L148.0 731.4 L149.8 730.2 L151.6 728.9 L153.5 727.6 L155.3 726.3 L157.1 725.0 L158.9 723.7 L160.8 722.4 L162.6 721.0 L164.4 719.7 L166.3 718.4 L168.1 717.1 L169.9 715.8 L171.8 714.4 L173.6 713.1 L175.4 711.8 L177.2 710.5 L179.1 709.2 L180.9 707.8 L182.7 706.5 L184.6 705.2 L186.4 703.9 L188.2 702.6 L190.0 701.2 L191.9 699.9 L193.7 698.6" stroke="#FF8000" stroke-width="1.65" stroke-dasharray="2.7 2.5"/>
<path d="M67.5 749.5 L69.3 749.8 L71.2 750.2 L73.0 750.8 L74.8 751.7 L76.6 752.5 L78.5 753.3 L80.3 754.3 L82.1 755.3 L84.0 756.4 L85.8 757.4 L87.6 758.7 L89.4 760.1 L91.3 761.8 L93.1 763.7 L94.9 765.8 L96.8 768.0 L98.6 770.2 L100.4 772.5 L102.3 774.9 L104.1 777.2 L105.9 779.6 L107.7 782.0 L109.6 784.4 L111.4 786.8 L113.2 789.2 L115.1 791.5 L116.9 793.8 L118.7 796.1 L120.5 798.6 L122.4 801.2 L124.2 803.8 L126.0 806.4 L127.9 809.0 L129.7 811.7 L131.5 814.6 L133.3 817.9 L135.2 821.6 L137.0 825.3 L138.8 828.9 L140.7 832.3 L142.5 835.5 L144.3 838.9 L146.1 842.4 L148.0 846.1 L149.8 849.7 L151.6 853.2 L153.5 856.7 L155.3 860.1 L157.1 863.6 L158.9 867.1 L160.8 870.5 L162.6 874.0 L164.4 877.5 L166.3 880.9 L168.1 884.4 L169.9 887.9 L171.8 891.3 L173.6 894.8 L175.4 898.3 L177.2 901.7 L179.1 905.2 L180.9 908.6 L182.7 912.1 L184.6 915.6 L186.4 919.0 L188.2 922.5 L190.0 926.0 L191.9 929.4 L193.7 932.9" stroke="#FF8000" stroke-width="1.65" stroke-dasharray="2.7 2.5"/>
<path d="M67.5 749.5 L69.3 749.8 L71.2 750.2 L73.0 750.8 L74.8 751.7 L76.6 752.5 L78.5 753.3 L80.3 754.3 L82.1 755.3 L84.0 756.4 L85.8 757.5 L87.6 758.7 L89.4 760.0 L91.3 761.4 L93.1 762.8 L94.9 764.2 L96.8 765.6 L98.6 766.9 L100.4 768.3 L102.3 769.7 L104.1 771.2 L105.9 772.7 L107.7 774.3 L109.6 775.8 L111.4 777.4 L113.2 778.9 L115.1 780.4 L116.9 781.9 L118.7 783.5 L120.5 785.0 L122.4 786.6 L124.2 788.3 L126.0 790.0 L127.9 791.7 L129.7 793.5 L131.5 795.2 L133.3 796.9 L135.2 798.6 L137.0 800.3 L138.8 802.0 L140.7 803.7 L142.5 805.4 L144.3 807.1 L146.1 808.8 L148.0 810.6 L149.8 812.3 L151.6 814.1 L153.5 815.8 L155.3 817.6 L157.1 819.3 L158.9 821.1 L160.8 822.9 L162.6 824.6 L164.4 826.4 L166.3 828.1 L168.1 829.9 L169.9 831.6 L171.8 833.4 L173.6 835.2 L175.4 836.9 L177.2 838.7 L179.1 840.5 L180.9 842.3 L182.7 844.1 L184.6 845.9 L186.4 847.7 L188.2 849.5 L190.0 851.4 L191.9 853.2 L193.7 855.0" stroke="#F96E72" stroke-width="1.55" stroke-dasharray="6 3"/>
<path d="M67.5 749.5 L69.3 749.8 L71.2 750.2 L73.0 750.8 L74.8 751.7 L76.6 752.5 L78.5 753.3 L80.3 754.3 L82.1 755.4 L84.0 756.3 L85.8 757.3 L87.6 758.6 L89.4 760.3 L91.3 762.5 L93.1 765.1 L94.9 767.9 L96.8 770.8 L98.6 773.8 L100.4 776.8 L102.3 779.7 L104.1 782.5 L105.9 785.3 L107.7 788.0 L109.6 790.8 L111.4 793.8 L113.2 796.9 L115.1 800.1 L116.9 803.5 L118.7 807.1 L120.5 810.8 L122.4 814.6 L124.2 818.7 L126.0 822.8 L127.9 826.9 L129.7 831.0 L131.5 835.1 L133.3 839.2 L135.2 843.2 L137.0 847.2 L138.8 851.4 L140.7 855.7 L142.5 860.2 L144.3 864.9 L146.1 869.8 L148.0 874.7 L149.8 879.5 L151.6 884.4 L153.5 889.2 L155.3 894.0 L157.1 898.8 L158.9 903.7 L160.8 908.5 L162.6 913.3 L164.4 918.1 L166.3 922.9 L168.1 927.8 L169.9 932.6 L171.8 937.4 L173.6 942.2 L175.4 947.0 L177.2 951.9 L179.1 956.7 L180.9 961.5 L182.7 966.3 L184.6 971.1 L186.4 976.0 L188.2 980.8 L190.0 985.6 L191.9 990.4 L193.7 995.3" stroke="#F96E72" stroke-width="1.55" stroke-dasharray="6 3"/>
<path d="M67.5 749.5 L69.3 749.8 L71.2 750.2 L73.0 750.8 L74.8 751.7 L76.6 752.5 L78.5 753.3 L80.3 754.3 L82.1 755.3 L84.0 756.4 L85.8 757.5 L87.6 758.7 L89.4 760.0 L91.3 761.4 L93.1 762.8 L94.9 764.2 L96.8 765.6 L98.6 766.9 L100.4 768.3 L102.3 769.7 L104.1 771.2 L105.9 772.8 L107.7 774.3 L109.6 775.7 L111.4 777.2 L113.2 778.6 L115.1 780.0 L116.9 781.4 L118.7 782.9 L120.5 784.3 L122.4 785.7 L124.2 787.1 L126.0 788.4 L127.9 789.8 L129.7 791.3 L131.5 792.9 L133.3 794.6 L135.2 796.2 L137.0 797.8 L138.8 799.2 L140.7 800.6 L142.5 802.0 L144.3 803.3 L146.1 804.6 L148.0 805.8 L149.8 806.9 L151.6 808.0 L153.5 809.1 L155.3 810.1 L157.1 811.1 L158.9 812.0 L160.8 812.9 L162.6 813.7 L164.4 814.5 L166.3 815.1 L168.1 815.7 L169.9 816.1 L171.8 816.5 L173.6 816.9 L175.4 817.2 L177.2 817.5 L179.1 817.7 L180.9 817.9 L182.7 818.0 L184.6 818.1 L186.4 818.1 L188.2 818.1 L190.0 818.1 L191.9 818.1 L193.7 818.1" stroke="#F40000" stroke-width="1.8"/>
<path d="M67.5 749.5 L69.3 749.8 L71.2 750.2 L73.0 750.8 L74.8 751.7 L76.6 752.5 L78.5 753.3 L80.3 754.3 L82.1 755.3 L84.0 756.4 L85.8 757.5 L87.6 758.7 L89.4 760.0 L91.3 761.4 L93.1 762.8 L94.9 764.3 L96.8 765.7 L98.6 767.2 L100.4 768.7 L102.3 770.2 L104.1 771.7 L105.9 773.3 L107.7 775.0 L109.6 776.7 L111.4 778.5 L113.2 780.4 L115.1 782.4 L116.9 784.4 L118.7 786.6 L120.5 788.8 L122.4 791.1 L124.2 793.3 L126.0 795.6 L127.9 797.9 L129.7 800.1 L131.5 802.4 L133.3 804.6 L135.2 806.9 L137.0 809.3 L138.8 811.7 L140.7 814.2 L142.5 816.6 L144.3 819.1 L146.1 821.6 L148.0 824.0 L149.8 826.4 L151.6 828.8 L153.5 831.1 L155.3 833.4 L157.1 835.7 L158.9 838.0 L160.8 840.4 L162.6 842.9 L164.4 845.4 L166.3 847.9 L168.1 850.4 L169.9 852.9 L171.8 855.3 L173.6 857.8 L175.4 860.2 L177.2 862.7 L179.1 865.2 L180.9 867.8 L182.7 870.3 L184.6 872.9 L186.4 875.5 L188.2 878.0 L190.0 880.6 L191.9 883.1 L193.7 885.7" stroke="#F40000" stroke-width="1.8"/>
</g>
<g stroke="#5555FF" stroke-width="1.45" fill="#5555FF">
<circle cx="69.27" cy="749.75" r="2.4" stroke="none"/>
<circle cx="71.46" cy="750.25" r="2.4" stroke="none"/>
<circle cx="74.48" cy="751.50" r="2.4" stroke="none"/>
<circle cx="78.29" cy="753.25" r="2.4" stroke="none"/>
<circle cx="82.84" cy="755.75" r="2.4" stroke="none"/>
<rect x="85.7" y="757.6" width="4.7" height="2.8" stroke="none"/>
<circle cx="88.08" cy="759.00" r="2.4" stroke="none"/>
<rect x="91.6" y="761.9" width="4.7" height="3.3" stroke="none"/>
<circle cx="93.96" cy="763.50" r="2.4" stroke="none"/>
<rect x="98.1" y="766.4" width="4.7" height="3.8" stroke="none"/>
<circle cx="100.42" cy="768.25" r="2.4" stroke="none"/>
<rect x="105.1" y="771.9" width="4.7" height="4.3" stroke="none"/>
<circle cx="107.40" cy="774.00" r="2.4" stroke="none"/>
<rect x="112.5" y="777.9" width="4.7" height="4.8" stroke="none"/>
<circle cx="114.87" cy="780.25" r="2.4" stroke="none"/>
<rect x="120.4" y="784.4" width="4.7" height="5.3" stroke="none"/>
<circle cx="122.76" cy="787.00" r="2.4" stroke="none"/>
<rect x="128.7" y="791.9" width="4.7" height="5.8" stroke="none"/>
<circle cx="131.05" cy="794.75" r="2.4" stroke="none"/>
<path d="M139.7 800.0 V805.50 M137.1 800.0 H142.28 M137.1 805.5 H142.28" fill="none"/>
<circle cx="139.68" cy="802.75" r="2.4" stroke="none"/>
<path d="M148.6 808.0 V814.00 M146.0 808.0 H151.23 M146.0 814.0 H151.23" fill="none"/>
<circle cx="148.63" cy="811.00" r="2.4" stroke="none"/>
<path d="M157.9 816.2 V823.25 M155.3 816.2 H160.46 M155.3 823.2 H160.46" fill="none"/>
<circle cx="157.86" cy="819.75" r="2.4" stroke="none"/>
<path d="M167.3 825.2 V832.75 M164.7 825.2 H169.94 M164.7 832.8 H169.94" fill="none"/>
<circle cx="167.34" cy="829.00" r="2.4" stroke="none"/>
<path d="M177.0 834.2 V842.75 M174.4 834.2 H179.65 M174.4 842.8 H179.65" fill="none"/>
<circle cx="177.05" cy="838.50" r="2.4" stroke="none"/>
<path d="M187.0 844.0 V853.00 M184.4 844.0 H189.56 M184.4 853.0 H189.56" fill="none"/>
<circle cx="186.96" cy="848.50" r="2.4" stroke="none"/>
</g>
<rect x="229.60" y="749.50" width="125.20" height="125.00" fill="none" stroke="#7a7a7a" stroke-width="0.85"/>
<g clip-path="url(#c41)">
<path d="M229.6 749.5 L231.4 749.8 L233.3 750.2 L235.1 750.8 L237.0 751.7 L238.8 752.5 L240.7 753.3 L242.5 754.3 L244.3 755.3 L246.2 756.4 L248.0 757.5 L249.9 758.7 L251.7 760.0 L253.6 761.4 L255.4 762.8 L257.3 764.2 L259.1 765.6 L260.9 766.9 L262.8 768.3 L264.6 769.7 L266.5 771.2 L268.3 772.7 L270.2 774.3 L272.0 775.8 L273.8 777.3 L275.7 778.9 L277.5 780.4 L279.4 781.9 L281.2 783.4 L283.1 784.7 L284.9 785.8 L286.8 786.7 L288.6 787.4 L290.4 788.0 L292.3 788.8 L294.1 789.8 L296.0 790.9 L297.8 792.0 L299.7 793.0 L301.5 793.8 L303.3 794.7 L305.2 795.4 L307.0 796.1 L308.9 796.7 L310.7 797.3 L312.6 797.7 L314.4 798.0 L316.3 798.2 L318.1 798.3 L319.9 798.5 L321.8 798.6 L323.6 798.6 L325.5 798.7 L327.3 798.6 L329.2 798.5 L331.0 798.4 L332.8 798.1 L334.7 797.8 L336.5 797.5 L338.4 797.1 L340.2 796.7 L342.1 796.1 L343.9 795.5 L345.8 794.8 L347.6 794.0 L349.4 793.2 L351.3 792.3 L353.1 791.4 L355.0 790.4 L356.8 789.5 L356.8 941.9 L355.0 938.3 L353.1 934.7 L351.3 931.0 L349.4 927.4 L347.6 923.8 L345.8 920.2 L343.9 916.5 L342.1 912.9 L340.2 909.3 L338.4 905.7 L336.5 902.0 L334.7 898.4 L332.8 894.8 L331.0 891.2 L329.2 887.5 L327.3 883.9 L325.5 880.3 L323.6 876.7 L321.8 873.1 L319.9 869.8 L318.1 866.6 L316.3 863.3 L314.4 859.8 L312.6 856.2 L310.7 852.5 L308.9 848.9 L307.0 845.4 L305.2 842.0 L303.3 838.6 L301.5 835.2 L299.7 831.8 L297.8 828.3 L296.0 824.8 L294.1 821.2 L292.3 817.9 L290.4 814.7 L288.6 812.0 L286.8 809.6 L284.9 807.3 L283.1 804.9 L281.2 802.4 L279.4 799.9 L277.5 797.4 L275.7 794.8 L273.8 792.3 L272.0 789.7 L270.2 787.0 L268.3 784.5 L266.5 782.0 L264.6 779.6 L262.8 777.3 L260.9 775.1 L259.1 772.9 L257.3 770.6 L255.4 768.4 L253.6 766.3 L251.7 764.3 L249.9 762.5 L248.0 760.8 L246.2 759.0 L244.3 757.3 L242.5 755.7 L240.7 754.2 L238.8 752.8 L237.0 751.7 L235.1 750.8 L233.3 750.2 L231.4 749.8 L229.6 749.5Z" fill="#FFDAB3"/>
<path d="M229.6 749.5 L231.4 749.8 L233.3 750.2 L235.1 750.8 L237.0 751.7 L238.8 752.5 L240.7 753.3 L242.5 754.3 L244.3 755.3 L246.2 756.4 L248.0 757.5 L249.9 758.7 L251.7 760.0 L253.6 761.4 L255.4 762.8 L257.3 764.2 L259.1 765.6 L260.9 766.9 L262.8 768.3 L264.6 769.7 L266.5 771.2 L268.3 772.7 L270.2 774.3 L272.0 775.8 L273.8 777.4 L275.7 778.9 L277.5 780.4 L279.4 781.9 L281.2 783.5 L283.1 785.0 L284.9 786.6 L286.8 788.3 L288.6 790.0 L290.4 791.7 L292.3 793.5 L294.1 795.2 L296.0 796.9 L297.8 798.6 L299.7 800.3 L301.5 802.0 L303.3 803.7 L305.2 805.4 L307.0 807.1 L308.9 808.8 L310.7 810.6 L312.6 812.3 L314.4 814.1 L316.3 815.8 L318.1 817.6 L319.9 819.3 L321.8 821.1 L323.6 822.9 L325.5 824.6 L327.3 826.4 L329.2 828.1 L331.0 829.9 L332.8 831.6 L334.7 833.4 L336.5 835.2 L338.4 836.9 L340.2 838.7 L342.1 840.5 L343.9 842.2 L345.8 844.0 L347.6 845.8 L349.4 847.6 L351.3 849.4 L353.1 851.1 L355.0 852.9 L356.8 854.7 L356.8 975.7 L355.0 971.4 L353.1 967.0 L351.3 962.7 L349.4 958.3 L347.6 954.0 L345.8 949.6 L343.9 945.2 L342.1 940.9 L340.2 936.5 L338.4 932.2 L336.5 927.8 L334.7 923.4 L332.8 919.1 L331.0 914.7 L329.2 910.4 L327.3 906.0 L325.5 901.7 L323.6 897.3 L321.8 892.9 L319.9 888.6 L318.1 884.2 L316.3 879.9 L314.4 875.5 L312.6 871.3 L310.7 867.2 L308.9 863.2 L307.0 859.1 L305.2 854.9 L303.3 850.7 L301.5 846.5 L299.7 842.2 L297.8 838.1 L296.0 834.0 L294.1 830.0 L292.3 826.1 L290.4 822.2 L288.6 818.4 L286.8 814.7 L284.9 811.1 L283.1 807.6 L281.2 804.4 L279.4 801.5 L277.5 798.9 L275.7 796.6 L273.8 794.3 L272.0 791.9 L270.2 789.3 L268.3 786.7 L266.5 784.0 L264.6 781.5 L262.8 779.0 L260.9 776.7 L259.1 774.3 L257.3 771.9 L255.4 769.5 L253.6 767.3 L251.7 765.2 L249.9 763.2 L248.0 761.3 L246.2 759.4 L244.3 757.6 L242.5 755.9 L240.7 754.3 L238.8 752.9 L237.0 751.7 L235.1 750.8 L233.3 750.2 L231.4 749.8 L229.6 749.5Z" fill="#FFCCCC"/>
<path d="M229.6 749.5 L231.4 749.8 L233.3 750.2 L235.1 750.8 L237.0 751.7 L238.8 752.5 L240.7 753.3 L242.5 754.3 L244.3 755.3 L246.2 756.4 L248.0 757.5 L249.9 758.7 L251.7 760.0 L253.6 761.4 L255.4 762.8 L257.3 764.2 L259.1 765.6 L260.9 766.9 L262.8 768.3 L264.6 769.7 L266.5 771.2 L268.3 772.8 L270.2 774.3 L272.0 775.8 L273.8 777.2 L275.7 778.6 L277.5 780.0 L279.4 781.4 L281.2 782.7 L283.1 784.0 L284.9 785.3 L286.8 786.5 L288.6 787.7 L290.4 788.9 L292.3 790.3 L294.1 791.8 L296.0 793.4 L297.8 795.0 L299.7 796.5 L301.5 798.0 L303.3 799.4 L305.2 800.8 L307.0 802.1 L308.9 803.3 L310.7 804.5 L312.6 805.6 L314.4 806.7 L316.3 807.8 L318.1 808.9 L319.9 809.9 L321.8 810.9 L323.6 811.9 L325.5 812.8 L327.3 813.7 L329.2 814.6 L331.0 815.4 L332.8 816.1 L334.7 816.8 L336.5 817.5 L338.4 818.1 L340.2 818.6 L342.1 819.1 L343.9 819.7 L345.8 820.2 L347.6 820.7 L349.4 821.2 L351.3 821.6 L353.1 822.0 L355.0 822.3 L356.8 822.7 L356.8 879.6 L355.0 877.3 L353.1 875.0 L351.3 872.7 L349.4 870.3 L347.6 868.0 L345.8 865.6 L343.9 863.3 L342.1 860.9 L340.2 858.6 L338.4 856.3 L336.5 854.0 L334.7 851.7 L332.8 849.4 L331.0 847.0 L329.2 844.5 L327.3 842.0 L325.5 839.4 L323.6 836.9 L321.8 834.5 L319.9 832.3 L318.1 830.2 L316.3 828.0 L314.4 825.9 L312.6 823.7 L310.7 821.3 L308.9 818.9 L307.0 816.5 L305.2 814.0 L303.3 811.7 L301.5 809.5 L299.7 807.4 L297.8 805.2 L296.0 802.9 L294.1 800.6 L292.3 798.4 L290.4 796.2 L288.6 794.1 L286.8 792.1 L284.9 790.1 L283.1 788.2 L281.2 786.2 L279.4 784.3 L277.5 782.3 L275.7 780.4 L273.8 778.6 L272.0 776.7 L270.2 775.0 L268.3 773.3 L266.5 771.7 L264.6 770.1 L262.8 768.6 L260.9 767.2 L259.1 765.7 L257.3 764.3 L255.4 762.8 L253.6 761.4 L251.7 760.0 L249.9 758.7 L248.0 757.5 L246.2 756.4 L244.3 755.3 L242.5 754.3 L240.7 753.3 L238.8 752.5 L237.0 751.7 L235.1 750.8 L233.3 750.2 L231.4 749.8 L229.6 749.5Z" fill="#FF9999"/>
</g>
<path d="M229.60 749.50 V874.50 H354.80 M229.60 749.50 H354.80" fill="none" stroke="#7a7a7a" stroke-width="0.85"/>
<path d="M354.80 749.50 V874.50" fill="none" stroke="#7a7a7a" stroke-width="0.85" stroke-opacity="0.5"/>
<line x1="229.60" y1="749.50" x2="232.60" y2="749.50" stroke="#7a7a7a" stroke-width="0.85"/>
<line x1="229.60" y1="791.17" x2="232.60" y2="791.17" stroke="#7a7a7a" stroke-width="0.85"/>
<line x1="229.60" y1="832.83" x2="232.60" y2="832.83" stroke="#7a7a7a" stroke-width="0.85"/>
<line x1="229.60" y1="874.50" x2="232.60" y2="874.50" stroke="#7a7a7a" stroke-width="0.85"/>
<line x1="229.60" y1="874.50" x2="229.60" y2="871.50" stroke="#7a7a7a" stroke-width="0.85"/>
<text x="231.90" y="889.60" text-anchor="middle" font-size="12.4" font-family="Liberation Sans, sans-serif" fill="#000">0.00</text>
<line x1="292.20" y1="874.50" x2="292.20" y2="871.50" stroke="#7a7a7a" stroke-width="0.85"/>
<text x="294.50" y="889.60" text-anchor="middle" font-size="12.4" font-family="Liberation Sans, sans-serif" fill="#000">0.05</text>
<line x1="354.80" y1="874.50" x2="354.80" y2="871.50" stroke="#7a7a7a" stroke-width="0.85"/>
<text x="357.10" y="889.60" text-anchor="middle" font-size="12.4" font-family="Liberation Sans, sans-serif" fill="#000">0.10</text>
<g clip-path="url(#c41)" fill="none">
<path d="M229.6 749.5 L231.4 749.8 L233.3 750.2 L235.1 750.8 L237.0 751.7 L238.8 752.5 L240.7 753.3 L242.5 754.3 L244.3 755.3 L246.2 756.4 L248.0 757.5 L249.9 758.7 L251.7 760.0 L253.6 761.4 L255.4 762.8 L257.3 764.2 L259.1 765.6 L260.9 766.9 L262.8 768.3 L264.6 769.7 L266.5 771.2 L268.3 772.7 L270.2 774.3 L272.0 775.8 L273.8 777.3 L275.7 778.9 L277.5 780.4 L279.4 781.9 L281.2 783.4 L283.1 784.7 L284.9 785.8 L286.8 786.7 L288.6 787.4 L290.4 788.0 L292.3 788.8 L294.1 789.8 L296.0 790.9 L297.8 792.0 L299.7 793.0 L301.5 793.8 L303.3 794.7 L305.2 795.4 L307.0 796.1 L308.9 796.7 L310.7 797.3 L312.6 797.7 L314.4 798.0 L316.3 798.2 L318.1 798.3 L319.9 798.5 L321.8 798.6 L323.6 798.6 L325.5 798.7 L327.3 798.6 L329.2 798.5 L331.0 798.4 L332.8 798.1 L334.7 797.8 L336.5 797.5 L338.4 797.1 L340.2 796.7 L342.1 796.1 L343.9 795.5 L345.8 794.8 L347.6 794.0 L349.4 793.2 L351.3 792.3 L353.1 791.4 L355.0 790.4 L356.8 789.5" stroke="#FF8000" stroke-width="1.65" stroke-dasharray="2.7 2.5"/>
<path d="M229.6 749.5 L231.4 749.8 L233.3 750.2 L235.1 750.8 L237.0 751.7 L238.8 752.8 L240.7 754.2 L242.5 755.7 L244.3 757.3 L246.2 759.0 L248.0 760.8 L249.9 762.5 L251.7 764.3 L253.6 766.3 L255.4 768.4 L257.3 770.6 L259.1 772.9 L260.9 775.1 L262.8 777.3 L264.6 779.6 L266.5 782.0 L268.3 784.5 L270.2 787.0 L272.0 789.7 L273.8 792.3 L275.7 794.8 L277.5 797.4 L279.4 799.9 L281.2 802.4 L283.1 804.9 L284.9 807.3 L286.8 809.6 L288.6 812.0 L290.4 814.7 L292.3 817.9 L294.1 821.2 L296.0 824.8 L297.8 828.3 L299.7 831.8 L301.5 835.2 L303.3 838.6 L305.2 842.0 L307.0 845.4 L308.9 848.9 L310.7 852.5 L312.6 856.2 L314.4 859.8 L316.3 863.3 L318.1 866.6 L319.9 869.8 L321.8 873.1 L323.6 876.7 L325.5 880.3 L327.3 883.9 L329.2 887.5 L331.0 891.2 L332.8 894.8 L334.7 898.4 L336.5 902.0 L338.4 905.7 L340.2 909.3 L342.1 912.9 L343.9 916.5 L345.8 920.2 L347.6 923.8 L349.4 927.4 L351.3 931.0 L353.1 934.7 L355.0 938.3 L356.8 941.9" stroke="#FF8000" stroke-width="1.65" stroke-dasharray="2.7 2.5"/>
<path d="M229.6 749.5 L231.4 749.8 L233.3 750.2 L235.1 750.8 L237.0 751.7 L238.8 752.5 L240.7 753.3 L242.5 754.3 L244.3 755.3 L246.2 756.4 L248.0 757.5 L249.9 758.7 L251.7 760.0 L253.6 761.4 L255.4 762.8 L257.3 764.2 L259.1 765.6 L260.9 766.9 L262.8 768.3 L264.6 769.7 L266.5 771.2 L268.3 772.7 L270.2 774.3 L272.0 775.8 L273.8 777.4 L275.7 778.9 L277.5 780.4 L279.4 781.9 L281.2 783.5 L283.1 785.0 L284.9 786.6 L286.8 788.3 L288.6 790.0 L290.4 791.7 L292.3 793.5 L294.1 795.2 L296.0 796.9 L297.8 798.6 L299.7 800.3 L301.5 802.0 L303.3 803.7 L305.2 805.4 L307.0 807.1 L308.9 808.8 L310.7 810.6 L312.6 812.3 L314.4 814.1 L316.3 815.8 L318.1 817.6 L319.9 819.3 L321.8 821.1 L323.6 822.9 L325.5 824.6 L327.3 826.4 L329.2 828.1 L331.0 829.9 L332.8 831.6 L334.7 833.4 L336.5 835.2 L338.4 836.9 L340.2 838.7 L342.1 840.5 L343.9 842.2 L345.8 844.0 L347.6 845.8 L349.4 847.6 L351.3 849.4 L353.1 851.1 L355.0 852.9 L356.8 854.7" stroke="#F96E72" stroke-width="1.55" stroke-dasharray="6 3"/>
<path d="M229.6 749.5 L231.4 749.8 L233.3 750.2 L235.1 750.8 L237.0 751.7 L238.8 752.9 L240.7 754.3 L242.5 755.9 L244.3 757.6 L246.2 759.4 L248.0 761.3 L249.9 763.2 L251.7 765.2 L253.6 767.3 L255.4 769.5 L257.3 771.9 L259.1 774.3 L260.9 776.7 L262.8 779.0 L264.6 781.5 L266.5 784.0 L268.3 786.7 L270.2 789.3 L272.0 791.9 L273.8 794.3 L275.7 796.6 L277.5 798.9 L279.4 801.5 L281.2 804.4 L283.1 807.6 L284.9 811.1 L286.8 814.7 L288.6 818.4 L290.4 822.2 L292.3 826.1 L294.1 830.0 L296.0 834.0 L297.8 838.1 L299.7 842.2 L301.5 846.5 L303.3 850.7 L305.2 854.9 L307.0 859.1 L308.9 863.2 L310.7 867.2 L312.6 871.3 L314.4 875.5 L316.3 879.9 L318.1 884.2 L319.9 888.6 L321.8 892.9 L323.6 897.3 L325.5 901.7 L327.3 906.0 L329.2 910.4 L331.0 914.7 L332.8 919.1 L334.7 923.4 L336.5 927.8 L338.4 932.2 L340.2 936.5 L342.1 940.9 L343.9 945.2 L345.8 949.6 L347.6 954.0 L349.4 958.3 L351.3 962.7 L353.1 967.0 L355.0 971.4 L356.8 975.7" stroke="#F96E72" stroke-width="1.55" stroke-dasharray="6 3"/>
<path d="M229.6 749.5 L231.4 749.8 L233.3 750.2 L235.1 750.8 L237.0 751.7 L238.8 752.5 L240.7 753.3 L242.5 754.3 L244.3 755.3 L246.2 756.4 L248.0 757.5 L249.9 758.7 L251.7 760.0 L253.6 761.4 L255.4 762.8 L257.3 764.2 L259.1 765.6 L260.9 766.9 L262.8 768.3 L264.6 769.7 L266.5 771.2 L268.3 772.8 L270.2 774.3 L272.0 775.8 L273.8 777.2 L275.7 778.6 L277.5 780.0 L279.4 781.4 L281.2 782.7 L283.1 784.0 L284.9 785.3 L286.8 786.5 L288.6 787.7 L290.4 788.9 L292.3 790.3 L294.1 791.8 L296.0 793.4 L297.8 795.0 L299.7 796.5 L301.5 798.0 L303.3 799.4 L305.2 800.8 L307.0 802.1 L308.9 803.3 L310.7 804.5 L312.6 805.6 L314.4 806.7 L316.3 807.8 L318.1 808.9 L319.9 809.9 L321.8 810.9 L323.6 811.9 L325.5 812.8 L327.3 813.7 L329.2 814.6 L331.0 815.4 L332.8 816.1 L334.7 816.8 L336.5 817.5 L338.4 818.1 L340.2 818.6 L342.1 819.1 L343.9 819.7 L345.8 820.2 L347.6 820.7 L349.4 821.2 L351.3 821.6 L353.1 822.0 L355.0 822.3 L356.8 822.7" stroke="#F40000" stroke-width="1.8"/>
<path d="M229.6 749.5 L231.4 749.8 L233.3 750.2 L235.1 750.8 L237.0 751.7 L238.8 752.5 L240.7 753.3 L242.5 754.3 L244.3 755.3 L246.2 756.4 L248.0 757.5 L249.9 758.7 L251.7 760.0 L253.6 761.4 L255.4 762.8 L257.3 764.3 L259.1 765.7 L260.9 767.2 L262.8 768.6 L264.6 770.1 L266.5 771.7 L268.3 773.3 L270.2 775.0 L272.0 776.7 L273.8 778.6 L275.7 780.4 L277.5 782.3 L279.4 784.3 L281.2 786.2 L283.1 788.2 L284.9 790.1 L286.8 792.1 L288.6 794.1 L290.4 796.2 L292.3 798.4 L294.1 800.6 L296.0 802.9 L297.8 805.2 L299.7 807.4 L301.5 809.5 L303.3 811.7 L305.2 814.0 L307.0 816.5 L308.9 818.9 L310.7 821.3 L312.6 823.7 L314.4 825.9 L316.3 828.0 L318.1 830.2 L319.9 832.3 L321.8 834.5 L323.6 836.9 L325.5 839.4 L327.3 842.0 L329.2 844.5 L331.0 847.0 L332.8 849.4 L334.7 851.7 L336.5 854.0 L338.4 856.3 L340.2 858.6 L342.1 860.9 L343.9 863.3 L345.8 865.6 L347.6 868.0 L349.4 870.3 L351.3 872.7 L353.1 875.0 L355.0 877.3 L356.8 879.6" stroke="#F40000" stroke-width="1.8"/>
</g>
<g stroke="#5555FF" stroke-width="1.45" fill="#5555FF">
<circle cx="231.38" cy="749.75" r="2.4" stroke="none"/>
<circle cx="233.59" cy="750.25" r="2.4" stroke="none"/>
<circle cx="236.63" cy="751.50" r="2.4" stroke="none"/>
<circle cx="240.47" cy="753.25" r="2.4" stroke="none"/>
<circle cx="245.06" cy="755.75" r="2.4" stroke="none"/>
<rect x="248.0" y="757.6" width="4.7" height="2.8" stroke="none"/>
<circle cx="250.35" cy="759.00" r="2.4" stroke="none"/>
<rect x="253.9" y="761.9" width="4.7" height="3.3" stroke="none"/>
<circle cx="256.27" cy="763.50" r="2.4" stroke="none"/>
<rect x="260.4" y="766.4" width="4.7" height="3.8" stroke="none"/>
<circle cx="262.78" cy="768.25" r="2.4" stroke="none"/>
<rect x="267.5" y="771.9" width="4.7" height="4.3" stroke="none"/>
<circle cx="269.82" cy="774.00" r="2.4" stroke="none"/>
<rect x="275.0" y="777.9" width="4.7" height="4.8" stroke="none"/>
<circle cx="277.35" cy="780.25" r="2.4" stroke="none"/>
<rect x="283.0" y="784.4" width="4.7" height="5.3" stroke="none"/>
<circle cx="285.31" cy="787.00" r="2.4" stroke="none"/>
<rect x="291.3" y="791.9" width="4.7" height="5.8" stroke="none"/>
<circle cx="293.66" cy="794.75" r="2.4" stroke="none"/>
<path d="M302.4 800.0 V805.50 M299.8 800.0 H304.96 M299.8 805.5 H304.96" fill="none"/>
<circle cx="302.36" cy="802.75" r="2.4" stroke="none"/>
<path d="M311.4 808.0 V814.00 M308.8 808.0 H313.98 M308.8 814.0 H313.98" fill="none"/>
<circle cx="311.38" cy="811.00" r="2.4" stroke="none"/>
<path d="M320.7 816.2 V823.25 M318.1 816.2 H323.28 M318.1 823.2 H323.28" fill="none"/>
<circle cx="320.68" cy="819.75" r="2.4" stroke="none"/>
<path d="M330.2 825.2 V832.75 M327.6 825.2 H332.84 M327.6 832.8 H332.84" fill="none"/>
<circle cx="330.24" cy="829.00" r="2.4" stroke="none"/>
<path d="M340.0 834.2 V842.75 M337.4 834.2 H342.63 M337.4 842.8 H342.63" fill="none"/>
<circle cx="340.03" cy="838.50" r="2.4" stroke="none"/>
<path d="M350.0 844.0 V853.00 M347.4 844.0 H352.62 M347.4 853.0 H352.62" fill="none"/>
<circle cx="350.02" cy="848.50" r="2.4" stroke="none"/>
</g>
<rect x="392.40" y="749.50" width="124.30" height="125.00" fill="none" stroke="#7a7a7a" stroke-width="0.85"/>
<g clip-path="url(#c42)">
<path d="M392.4 749.5 L394.2 746.8 L396.1 744.1 L397.9 741.5 L399.7 739.1 L401.6 736.9 L403.4 734.9 L405.2 733.2 L407.0 731.6 L408.9 730.3 L410.7 729.1 L412.5 728.1 L414.4 727.2 L416.2 726.4 L418.0 725.7 L419.9 725.2 L421.7 724.7 L423.5 724.2 L425.3 723.8 L427.2 723.4 L429.0 723.0 L430.8 722.7 L432.7 722.3 L434.5 722.0 L436.3 721.8 L438.2 721.5 L440.0 721.3 L441.8 721.1 L443.7 720.9 L445.5 720.7 L447.3 720.5 L449.1 720.4 L451.0 720.3 L452.8 720.2 L454.6 720.1 L456.5 720.0 L458.3 720.0 L460.1 719.9 L462.0 719.9 L463.8 719.9 L465.6 719.9 L467.4 719.9 L469.3 720.0 L471.1 720.0 L472.9 720.1 L474.8 720.2 L476.6 720.2 L478.4 720.3 L480.3 720.4 L482.1 720.6 L483.9 720.7 L485.8 720.8 L487.6 721.0 L489.4 721.1 L491.2 721.3 L493.1 721.4 L494.9 721.6 L496.7 721.8 L498.6 722.0 L500.4 722.2 L502.2 722.4 L504.1 722.5 L505.9 722.7 L507.7 723.0 L509.5 723.2 L511.4 723.4 L513.2 723.6 L515.0 723.8 L516.9 724.0 L518.7 724.2 L518.7 930.8 L516.9 927.1 L515.0 923.4 L513.2 919.8 L511.4 916.1 L509.5 912.4 L507.7 908.7 L505.9 905.0 L504.1 901.4 L502.2 897.7 L500.4 894.0 L498.6 890.3 L496.7 886.6 L494.9 882.9 L493.1 879.3 L491.2 875.6 L489.4 871.9 L487.6 868.4 L485.8 864.8 L483.9 861.3 L482.1 857.8 L480.3 854.3 L478.4 850.8 L476.6 847.3 L474.8 843.8 L472.9 840.3 L471.1 836.8 L469.3 833.4 L467.4 830.1 L465.6 826.9 L463.8 823.8 L462.0 820.8 L460.1 817.7 L458.3 814.7 L456.5 811.7 L454.6 808.9 L452.8 806.1 L451.0 803.5 L449.1 801.1 L447.3 798.9 L445.5 796.9 L443.7 795.0 L441.8 792.9 L440.0 790.8 L438.2 788.6 L436.3 786.4 L434.5 784.2 L432.7 781.9 L430.8 779.6 L429.0 777.2 L427.2 774.9 L425.3 772.6 L423.5 770.2 L421.7 767.9 L419.9 765.8 L418.0 763.7 L416.2 761.8 L414.4 760.1 L412.5 758.7 L410.7 757.5 L408.9 756.4 L407.0 755.3 L405.2 754.3 L403.4 753.3 L401.6 752.5 L399.7 751.7 L397.9 750.8 L396.1 750.2 L394.2 749.8 L392.4 749.5Z" fill="#FFDAB3"/>
<path d="M392.4 749.5 L394.2 749.8 L396.1 750.2 L397.9 750.8 L399.7 751.7 L401.6 752.5 L403.4 753.3 L405.2 754.3 L407.0 755.3 L408.9 756.4 L410.7 757.5 L412.5 758.7 L414.4 760.0 L416.2 761.4 L418.0 762.8 L419.9 764.2 L421.7 765.6 L423.5 766.9 L425.3 768.3 L427.2 769.7 L429.0 771.1 L430.8 772.7 L432.7 774.3 L434.5 776.0 L436.3 777.6 L438.2 779.3 L440.0 780.8 L441.8 782.1 L443.7 783.3 L445.5 784.5 L447.3 785.5 L449.1 786.6 L451.0 787.6 L452.8 788.8 L454.6 790.0 L456.5 791.3 L458.3 792.7 L460.1 794.0 L462.0 795.2 L463.8 796.3 L465.6 797.3 L467.4 798.3 L469.3 799.2 L471.1 800.1 L472.9 801.0 L474.8 801.8 L476.6 802.6 L478.4 803.2 L480.3 803.8 L482.1 804.4 L483.9 804.9 L485.8 805.3 L487.6 805.7 L489.4 806.1 L491.2 806.4 L493.1 806.7 L494.9 806.9 L496.7 807.0 L498.6 807.0 L500.4 806.9 L502.2 806.8 L504.1 806.6 L505.9 806.3 L507.7 805.9 L509.5 805.5 L511.4 805.1 L513.2 804.6 L515.0 804.0 L516.9 803.4 L518.7 802.9 L518.7 1011.2 L516.9 1005.8 L515.0 1000.5 L513.2 995.2 L511.4 989.9 L509.5 984.6 L507.7 979.2 L505.9 973.9 L504.1 968.6 L502.2 963.3 L500.4 958.0 L498.6 952.7 L496.7 947.3 L494.9 942.0 L493.1 936.7 L491.2 931.4 L489.4 926.1 L487.6 920.8 L485.8 915.4 L483.9 910.1 L482.1 904.8 L480.3 899.5 L478.4 894.2 L476.6 888.8 L474.8 883.5 L472.9 878.2 L471.1 872.8 L469.3 867.3 L467.4 861.8 L465.6 856.4 L463.8 851.1 L462.0 846.0 L460.1 841.1 L458.3 836.4 L456.5 832.1 L454.6 827.9 L452.8 823.8 L451.0 819.9 L449.1 816.1 L447.3 812.3 L445.5 808.7 L443.7 805.2 L441.8 802.0 L440.0 799.0 L438.2 796.2 L436.3 793.6 L434.5 790.9 L432.7 788.1 L430.8 785.3 L429.0 782.5 L427.2 779.8 L425.3 777.0 L423.5 774.2 L421.7 771.3 L419.9 768.4 L418.0 765.4 L416.2 762.7 L414.4 760.4 L412.5 758.6 L410.7 757.3 L408.9 756.3 L407.0 755.4 L405.2 754.3 L403.4 753.3 L401.6 752.5 L399.7 751.7 L397.9 750.8 L396.1 750.2 L394.2 749.8 L392.4 749.5Z" fill="#FFCCCC"/>
<path d="M392.4 749.5 L394.2 749.8 L396.1 750.2 L397.9 750.8 L399.7 751.7 L401.6 752.5 L403.4 753.3 L405.2 754.3 L407.0 755.3 L408.9 756.4 L410.7 757.5 L412.5 758.7 L414.4 760.0 L416.2 761.4 L418.0 762.8 L419.9 764.2 L421.7 765.6 L423.5 766.9 L425.3 768.2 L427.2 769.5 L429.0 770.8 L430.8 772.1 L432.7 773.4 L434.5 774.7 L436.3 776.0 L438.2 777.3 L440.0 778.4 L441.8 779.5 L443.7 780.5 L445.5 781.3 L447.3 782.1 L449.1 782.8 L451.0 783.5 L452.8 784.1 L454.6 784.7 L456.5 785.3 L458.3 785.9 L460.1 786.5 L462.0 787.0 L463.8 787.5 L465.6 787.9 L467.4 788.1 L469.3 788.3 L471.1 788.5 L472.9 788.5 L474.8 788.5 L476.6 788.4 L478.4 788.1 L480.3 787.7 L482.1 787.2 L483.9 786.4 L485.8 785.6 L487.6 784.6 L489.4 783.5 L491.2 782.3 L493.1 781.0 L494.9 779.5 L496.7 778.0 L498.6 776.5 L500.4 774.8 L502.2 773.1 L504.1 771.2 L505.9 769.0 L507.7 766.6 L509.5 764.1 L511.4 761.5 L513.2 758.9 L515.0 756.4 L516.9 754.0 L518.7 751.8 L518.7 854.4 L516.9 852.8 L515.0 851.1 L513.2 849.4 L511.4 847.7 L509.5 846.0 L507.7 844.2 L505.9 842.4 L504.1 840.6 L502.2 838.8 L500.4 837.0 L498.6 835.3 L496.7 833.6 L494.9 831.8 L493.1 830.1 L491.2 828.3 L489.4 826.6 L487.6 824.8 L485.8 823.0 L483.9 821.2 L482.1 819.4 L480.3 817.7 L478.4 816.1 L476.6 814.4 L474.8 812.7 L472.9 811.1 L471.1 809.4 L469.3 807.7 L467.4 806.0 L465.6 804.3 L463.8 802.7 L462.0 801.0 L460.1 799.3 L458.3 797.6 L456.5 795.8 L454.6 794.0 L452.8 792.1 L451.0 790.2 L449.1 788.4 L447.3 786.6 L445.5 785.0 L443.7 783.4 L441.8 781.9 L440.0 780.4 L438.2 778.9 L436.3 777.4 L434.5 775.8 L432.7 774.3 L430.8 772.7 L429.0 771.2 L427.2 769.7 L425.3 768.3 L423.5 766.9 L421.7 765.6 L419.9 764.2 L418.0 762.8 L416.2 761.4 L414.4 760.0 L412.5 758.7 L410.7 757.5 L408.9 756.4 L407.0 755.3 L405.2 754.3 L403.4 753.3 L401.6 752.5 L399.7 751.7 L397.9 750.8 L396.1 750.2 L394.2 749.8 L392.4 749.5Z" fill="#FF9999"/>
</g>
<path d="M392.40 749.50 V874.50 H516.70 M392.40 749.50 H516.70" fill="none" stroke="#7a7a7a" stroke-width="0.85"/>
<path d="M516.70 749.50 V874.50" fill="none" stroke="#7a7a7a" stroke-width="0.85" stroke-opacity="0.5"/>
<line x1="392.40" y1="749.50" x2="395.40" y2="749.50" stroke="#7a7a7a" stroke-width="0.85"/>
<line x1="392.40" y1="791.17" x2="395.40" y2="791.17" stroke="#7a7a7a" stroke-width="0.85"/>
<line x1="392.40" y1="832.83" x2="395.40" y2="832.83" stroke="#7a7a7a" stroke-width="0.85"/>
<line x1="392.40" y1="874.50" x2="395.40" y2="874.50" stroke="#7a7a7a" stroke-width="0.85"/>
<line x1="392.40" y1="874.50" x2="392.40" y2="871.50" stroke="#7a7a7a" stroke-width="0.85"/>
<text x="394.70" y="889.60" text-anchor="middle" font-size="12.4" font-family="Liberation Sans, sans-serif" fill="#000">0.00</text>
<line x1="454.55" y1="874.50" x2="454.55" y2="871.50" stroke="#7a7a7a" stroke-width="0.85"/>
<text x="456.85" y="889.60" text-anchor="middle" font-size="12.4" font-family="Liberation Sans, sans-serif" fill="#000">0.05</text>
<line x1="516.70" y1="874.50" x2="516.70" y2="871.50" stroke="#7a7a7a" stroke-width="0.85"/>
<text x="519.00" y="889.60" text-anchor="middle" font-size="12.4" font-family="Liberation Sans, sans-serif" fill="#000">0.10</text>
<g clip-path="url(#c42)" fill="none">
<path d="M392.4 749.5 L394.2 746.8 L396.1 744.1 L397.9 741.5 L399.7 739.1 L401.6 736.9 L403.4 734.9 L405.2 733.2 L407.0 731.6 L408.9 730.3 L410.7 729.1 L412.5 728.1 L414.4 727.2 L416.2 726.4 L418.0 725.7 L419.9 725.2 L421.7 724.7 L423.5 724.2 L425.3 723.8 L427.2 723.4 L429.0 723.0 L430.8 722.7 L432.7 722.3 L434.5 722.0 L436.3 721.8 L438.2 721.5 L440.0 721.3 L441.8 721.1 L443.7 720.9 L445.5 720.7 L447.3 720.5 L449.1 720.4 L451.0 720.3 L452.8 720.2 L454.6 720.1 L456.5 720.0 L458.3 720.0 L460.1 719.9 L462.0 719.9 L463.8 719.9 L465.6 719.9 L467.4 719.9 L469.3 720.0 L471.1 720.0 L472.9 720.1 L474.8 720.2 L476.6 720.2 L478.4 720.3 L480.3 720.4 L482.1 720.6 L483.9 720.7 L485.8 720.8 L487.6 721.0 L489.4 721.1 L491.2 721.3 L493.1 721.4 L494.9 721.6 L496.7 721.8 L498.6 722.0 L500.4 722.2 L502.2 722.4 L504.1 722.5 L505.9 722.7 L507.7 723.0 L509.5 723.2 L511.4 723.4 L513.2 723.6 L515.0 723.8 L516.9 724.0 L518.7 724.2" stroke="#FF8000" stroke-width="1.65" stroke-dasharray="2.7 2.5"/>
<path d="M392.4 749.5 L394.2 749.8 L396.1 750.2 L397.9 750.8 L399.7 751.7 L401.6 752.5 L403.4 753.3 L405.2 754.3 L407.0 755.3 L408.9 756.4 L410.7 757.5 L412.5 758.7 L414.4 760.1 L416.2 761.8 L418.0 763.7 L419.9 765.8 L421.7 767.9 L423.5 770.2 L425.3 772.6 L427.2 774.9 L429.0 777.2 L430.8 779.6 L432.7 781.9 L434.5 784.2 L436.3 786.4 L438.2 788.6 L440.0 790.8 L441.8 792.9 L443.7 795.0 L445.5 796.9 L447.3 798.9 L449.1 801.1 L451.0 803.5 L452.8 806.1 L454.6 808.9 L456.5 811.7 L458.3 814.7 L460.1 817.7 L462.0 820.8 L463.8 823.8 L465.6 826.9 L467.4 830.1 L469.3 833.4 L471.1 836.8 L472.9 840.3 L474.8 843.8 L476.6 847.3 L478.4 850.8 L480.3 854.3 L482.1 857.8 L483.9 861.3 L485.8 864.8 L487.6 868.4 L489.4 871.9 L491.2 875.6 L493.1 879.3 L494.9 882.9 L496.7 886.6 L498.6 890.3 L500.4 894.0 L502.2 897.7 L504.1 901.4 L505.9 905.0 L507.7 908.7 L509.5 912.4 L511.4 916.1 L513.2 919.8 L515.0 923.4 L516.9 927.1 L518.7 930.8" stroke="#FF8000" stroke-width="1.65" stroke-dasharray="2.7 2.5"/>
<path d="M392.4 749.5 L394.2 749.8 L396.1 750.2 L397.9 750.8 L399.7 751.7 L401.6 752.5 L403.4 753.3 L405.2 754.3 L407.0 755.3 L408.9 756.4 L410.7 757.5 L412.5 758.7 L414.4 760.0 L416.2 761.4 L418.0 762.8 L419.9 764.2 L421.7 765.6 L423.5 766.9 L425.3 768.3 L427.2 769.7 L429.0 771.1 L430.8 772.7 L432.7 774.3 L434.5 776.0 L436.3 777.6 L438.2 779.3 L440.0 780.8 L441.8 782.1 L443.7 783.3 L445.5 784.5 L447.3 785.5 L449.1 786.6 L451.0 787.6 L452.8 788.8 L454.6 790.0 L456.5 791.3 L458.3 792.7 L460.1 794.0 L462.0 795.2 L463.8 796.3 L465.6 797.3 L467.4 798.3 L469.3 799.2 L471.1 800.1 L472.9 801.0 L474.8 801.8 L476.6 802.6 L478.4 803.2 L480.3 803.8 L482.1 804.4 L483.9 804.9 L485.8 805.3 L487.6 805.7 L489.4 806.1 L491.2 806.4 L493.1 806.7 L494.9 806.9 L496.7 807.0 L498.6 807.0 L500.4 806.9 L502.2 806.8 L504.1 806.6 L505.9 806.3 L507.7 805.9 L509.5 805.5 L511.4 805.1 L513.2 804.6 L515.0 804.0 L516.9 803.4 L518.7 802.9" stroke="#F96E72" stroke-width="1.55" stroke-dasharray="6 3"/>
<path d="M392.4 749.5 L394.2 749.8 L396.1 750.2 L397.9 750.8 L399.7 751.7 L401.6 752.5 L403.4 753.3 L405.2 754.3 L407.0 755.4 L408.9 756.3 L410.7 757.3 L412.5 758.6 L414.4 760.4 L416.2 762.7 L418.0 765.4 L419.9 768.4 L421.7 771.3 L423.5 774.2 L425.3 777.0 L427.2 779.8 L429.0 782.5 L430.8 785.3 L432.7 788.1 L434.5 790.9 L436.3 793.6 L438.2 796.2 L440.0 799.0 L441.8 802.0 L443.7 805.2 L445.5 808.7 L447.3 812.3 L449.1 816.1 L451.0 819.9 L452.8 823.8 L454.6 827.9 L456.5 832.1 L458.3 836.4 L460.1 841.1 L462.0 846.0 L463.8 851.1 L465.6 856.4 L467.4 861.8 L469.3 867.3 L471.1 872.8 L472.9 878.2 L474.8 883.5 L476.6 888.8 L478.4 894.2 L480.3 899.5 L482.1 904.8 L483.9 910.1 L485.8 915.4 L487.6 920.8 L489.4 926.1 L491.2 931.4 L493.1 936.7 L494.9 942.0 L496.7 947.3 L498.6 952.7 L500.4 958.0 L502.2 963.3 L504.1 968.6 L505.9 973.9 L507.7 979.2 L509.5 984.6 L511.4 989.9 L513.2 995.2 L515.0 1000.5 L516.9 1005.8 L518.7 1011.2" stroke="#F96E72" stroke-width="1.55" stroke-dasharray="6 3"/>
<path d="M392.4 749.5 L394.2 749.8 L396.1 750.2 L397.9 750.8 L399.7 751.7 L401.6 752.5 L403.4 753.3 L405.2 754.3 L407.0 755.3 L408.9 756.4 L410.7 757.5 L412.5 758.7 L414.4 760.0 L416.2 761.4 L418.0 762.8 L419.9 764.2 L421.7 765.6 L423.5 766.9 L425.3 768.2 L427.2 769.5 L429.0 770.8 L430.8 772.1 L432.7 773.4 L434.5 774.7 L436.3 776.0 L438.2 777.3 L440.0 778.4 L441.8 779.5 L443.7 780.5 L445.5 781.3 L447.3 782.1 L449.1 782.8 L451.0 783.5 L452.8 784.1 L454.6 784.7 L456.5 785.3 L458.3 785.9 L460.1 786.5 L462.0 787.0 L463.8 787.5 L465.6 787.9 L467.4 788.1 L469.3 788.3 L471.1 788.5 L472.9 788.5 L474.8 788.5 L476.6 788.4 L478.4 788.1 L480.3 787.7 L482.1 787.2 L483.9 786.4 L485.8 785.6 L487.6 784.6 L489.4 783.5 L491.2 782.3 L493.1 781.0 L494.9 779.5 L496.7 778.0 L498.6 776.5 L500.4 774.8 L502.2 773.1 L504.1 771.2 L505.9 769.0 L507.7 766.6 L509.5 764.1 L511.4 761.5 L513.2 758.9 L515.0 756.4 L516.9 754.0 L518.7 751.8" stroke="#F40000" stroke-width="1.8"/>
<path d="M392.4 749.5 L394.2 749.8 L396.1 750.2 L397.9 750.8 L399.7 751.7 L401.6 752.5 L403.4 753.3 L405.2 754.3 L407.0 755.3 L408.9 756.4 L410.7 757.5 L412.5 758.7 L414.4 760.0 L416.2 761.4 L418.0 762.8 L419.9 764.2 L421.7 765.6 L423.5 766.9 L425.3 768.3 L427.2 769.7 L429.0 771.2 L430.8 772.7 L432.7 774.3 L434.5 775.8 L436.3 777.4 L438.2 778.9 L440.0 780.4 L441.8 781.9 L443.7 783.4 L445.5 785.0 L447.3 786.6 L449.1 788.4 L451.0 790.2 L452.8 792.1 L454.6 794.0 L456.5 795.8 L458.3 797.6 L460.1 799.3 L462.0 801.0 L463.8 802.7 L465.6 804.3 L467.4 806.0 L469.3 807.7 L471.1 809.4 L472.9 811.1 L474.8 812.7 L476.6 814.4 L478.4 816.1 L480.3 817.7 L482.1 819.4 L483.9 821.2 L485.8 823.0 L487.6 824.8 L489.4 826.6 L491.2 828.3 L493.1 830.1 L494.9 831.8 L496.7 833.6 L498.6 835.3 L500.4 837.0 L502.2 838.8 L504.1 840.6 L505.9 842.4 L507.7 844.2 L509.5 846.0 L511.4 847.7 L513.2 849.4 L515.0 851.1 L516.9 852.8 L518.7 854.4" stroke="#F40000" stroke-width="1.8"/>
</g>
<g stroke="#5555FF" stroke-width="1.45" fill="#5555FF">
<circle cx="394.17" cy="749.75" r="2.4" stroke="none"/>
<circle cx="396.36" cy="750.25" r="2.4" stroke="none"/>
<circle cx="399.38" cy="751.50" r="2.4" stroke="none"/>
<circle cx="403.20" cy="753.25" r="2.4" stroke="none"/>
<circle cx="407.75" cy="755.75" r="2.4" stroke="none"/>
<rect x="410.6" y="757.6" width="4.7" height="2.8" stroke="none"/>
<circle cx="413.00" cy="759.00" r="2.4" stroke="none"/>
<rect x="416.5" y="761.9" width="4.7" height="3.3" stroke="none"/>
<circle cx="418.88" cy="763.50" r="2.4" stroke="none"/>
<rect x="423.0" y="766.4" width="4.7" height="3.8" stroke="none"/>
<circle cx="425.34" cy="768.25" r="2.4" stroke="none"/>
<rect x="430.0" y="771.9" width="4.7" height="4.3" stroke="none"/>
<circle cx="432.33" cy="774.00" r="2.4" stroke="none"/>
<rect x="437.5" y="777.9" width="4.7" height="4.8" stroke="none"/>
<circle cx="439.80" cy="780.25" r="2.4" stroke="none"/>
<rect x="445.4" y="784.4" width="4.7" height="5.3" stroke="none"/>
<circle cx="447.71" cy="787.00" r="2.4" stroke="none"/>
<rect x="453.6" y="791.9" width="4.7" height="5.8" stroke="none"/>
<circle cx="456.00" cy="794.75" r="2.4" stroke="none"/>
<path d="M464.6 800.0 V805.50 M462.0 800.0 H467.24 M462.0 805.5 H467.24" fill="none"/>
<circle cx="464.64" cy="802.75" r="2.4" stroke="none"/>
<path d="M473.6 808.0 V814.00 M471.0 808.0 H476.19 M471.0 814.0 H476.19" fill="none"/>
<circle cx="473.59" cy="811.00" r="2.4" stroke="none"/>
<path d="M482.8 816.2 V823.25 M480.2 816.2 H485.43 M480.2 823.2 H485.43" fill="none"/>
<circle cx="482.83" cy="819.75" r="2.4" stroke="none"/>
<path d="M492.3 825.2 V832.75 M489.7 825.2 H494.92 M489.7 832.8 H494.92" fill="none"/>
<circle cx="492.32" cy="829.00" r="2.4" stroke="none"/>
<path d="M502.0 834.2 V842.75 M499.4 834.2 H504.63 M499.4 842.8 H504.63" fill="none"/>
<circle cx="502.03" cy="838.50" r="2.4" stroke="none"/>
<path d="M512.0 844.0 V853.00 M509.4 844.0 H514.56 M509.4 853.0 H514.56" fill="none"/>
<circle cx="511.96" cy="848.50" r="2.4" stroke="none"/>
</g>
<rect x="266.70" y="726.40" width="31.00" height="26.50" fill="#FFFFD9" stroke="#333" stroke-width="1.3"/>
<text x="270.8" y="744.10" font-size="14" font-style="italic" font-family="Liberation Sans, sans-serif" fill="#111">P<tspan font-size="9.6" font-style="normal" dy="2.5" dx="-0.5">13</tspan></text>
<rect x="67.50" y="929.50" width="124.20" height="125.00" fill="none" stroke="#7a7a7a" stroke-width="0.85"/>
<g clip-path="url(#c50)">
<path d="M67.5 1054.5 L69.3 1054.3 L71.2 1054.1 L73.0 1053.7 L74.8 1053.3 L76.6 1052.8 L78.5 1052.3 L80.3 1051.7 L82.1 1051.1 L84.0 1050.5 L85.8 1049.8 L87.6 1049.1 L89.4 1048.3 L91.3 1047.6 L93.1 1046.8 L94.9 1046.0 L96.8 1045.1 L98.6 1044.2 L100.4 1043.3 L102.3 1042.4 L104.1 1041.4 L105.9 1040.4 L107.7 1039.4 L109.6 1038.3 L111.4 1037.2 L113.2 1036.1 L115.1 1034.9 L116.9 1033.7 L118.7 1032.5 L120.5 1031.3 L122.4 1030.0 L124.2 1028.7 L126.0 1027.4 L127.9 1026.0 L129.7 1024.6 L131.5 1023.1 L133.3 1021.6 L135.2 1020.0 L137.0 1018.4 L138.8 1016.8 L140.7 1015.3 L142.5 1013.7 L144.3 1012.2 L146.1 1010.7 L148.0 1009.2 L149.8 1007.6 L151.6 1005.9 L153.5 1004.1 L155.3 1002.3 L157.1 1000.4 L158.9 998.4 L160.8 996.4 L162.6 994.3 L164.4 992.2 L166.3 989.9 L168.1 987.6 L169.9 985.3 L171.8 982.8 L173.6 980.2 L175.4 977.6 L177.2 974.8 L179.1 971.9 L180.9 969.0 L182.7 966.1 L184.6 963.2 L186.4 960.3 L188.2 957.7 L190.0 955.1 L191.9 952.6 L193.7 950.2 L193.7 1014.5 L191.9 1015.0 L190.0 1015.4 L188.2 1015.9 L186.4 1016.4 L184.6 1016.9 L182.7 1017.4 L180.9 1017.9 L179.1 1018.4 L177.2 1018.9 L175.4 1019.4 L173.6 1019.9 L171.8 1020.5 L169.9 1021.0 L168.1 1021.6 L166.3 1022.1 L164.4 1022.7 L162.6 1023.3 L160.8 1023.9 L158.9 1024.6 L157.1 1025.2 L155.3 1025.9 L153.5 1026.5 L151.6 1027.2 L149.8 1027.9 L148.0 1028.6 L146.1 1029.4 L144.3 1030.1 L142.5 1030.8 L140.7 1031.6 L138.8 1032.3 L137.0 1033.1 L135.2 1033.8 L133.3 1034.6 L131.5 1035.3 L129.7 1036.0 L127.9 1036.7 L126.0 1037.3 L124.2 1038.0 L122.4 1038.6 L120.5 1039.3 L118.7 1039.9 L116.9 1040.5 L115.1 1041.2 L113.2 1041.8 L111.4 1042.5 L109.6 1043.2 L107.7 1043.8 L105.9 1044.5 L104.1 1045.1 L102.3 1045.8 L100.4 1046.4 L98.6 1047.1 L96.8 1047.8 L94.9 1048.4 L93.1 1049.0 L91.3 1049.4 L89.4 1049.7 L87.6 1050.0 L85.8 1050.2 L84.0 1050.6 L82.1 1051.1 L80.3 1051.7 L78.5 1052.3 L76.6 1052.8 L74.8 1053.3 L73.0 1053.7 L71.2 1054.1 L69.3 1054.3 L67.5 1054.5Z" fill="#FFDAB3"/>
<path d="M67.5 1054.5 L69.3 1054.3 L71.2 1054.1 L73.0 1053.7 L74.8 1053.3 L76.6 1052.8 L78.5 1052.3 L80.3 1051.7 L82.1 1051.1 L84.0 1050.5 L85.8 1049.8 L87.6 1049.1 L89.4 1048.3 L91.3 1047.6 L93.1 1046.8 L94.9 1046.0 L96.8 1045.1 L98.6 1044.2 L100.4 1043.3 L102.3 1042.4 L104.1 1041.4 L105.9 1040.4 L107.7 1039.4 L109.6 1038.3 L111.4 1037.2 L113.2 1036.1 L115.1 1034.9 L116.9 1033.7 L118.7 1032.5 L120.5 1031.3 L122.4 1030.0 L124.2 1028.7 L126.0 1027.4 L127.9 1026.0 L129.7 1024.6 L131.5 1023.1 L133.3 1021.6 L135.2 1020.0 L137.0 1018.4 L138.8 1016.8 L140.7 1015.3 L142.5 1013.8 L144.3 1012.3 L146.1 1010.8 L148.0 1009.1 L149.8 1007.4 L151.6 1005.5 L153.5 1003.5 L155.3 1001.3 L157.1 999.1 L158.9 996.9 L160.8 994.6 L162.6 992.4 L164.4 990.2 L166.3 988.0 L168.1 985.8 L169.9 983.6 L171.8 981.4 L173.6 979.3 L175.4 977.1 L177.2 975.0 L179.1 972.9 L180.9 970.9 L182.7 968.8 L184.6 966.8 L186.4 964.7 L188.2 962.7 L190.0 960.7 L191.9 958.7 L193.7 956.6 L193.7 979.7 L191.9 980.9 L190.0 982.1 L188.2 983.2 L186.4 984.4 L184.6 985.6 L182.7 986.8 L180.9 988.0 L179.1 989.3 L177.2 990.5 L175.4 991.8 L173.6 993.0 L171.8 994.3 L169.9 995.6 L168.1 996.8 L166.3 998.0 L164.4 999.2 L162.6 1000.4 L160.8 1001.6 L158.9 1002.8 L157.1 1004.0 L155.3 1005.3 L153.5 1006.5 L151.6 1007.8 L149.8 1009.2 L148.0 1010.5 L146.1 1011.9 L144.3 1013.3 L142.5 1014.7 L140.7 1016.1 L138.8 1017.5 L137.0 1019.0 L135.2 1020.5 L133.3 1022.0 L131.5 1023.5 L129.7 1025.0 L127.9 1026.5 L126.0 1027.9 L124.2 1029.2 L122.4 1030.4 L120.5 1031.6 L118.7 1032.7 L116.9 1033.8 L115.1 1034.9 L113.2 1036.0 L111.4 1037.2 L109.6 1038.3 L107.7 1039.4 L105.9 1040.4 L104.1 1041.4 L102.3 1042.4 L100.4 1043.3 L98.6 1044.2 L96.8 1045.1 L94.9 1046.0 L93.1 1046.8 L91.3 1047.6 L89.4 1048.3 L87.6 1049.1 L85.8 1049.8 L84.0 1050.5 L82.1 1051.1 L80.3 1051.7 L78.5 1052.3 L76.6 1052.8 L74.8 1053.3 L73.0 1053.7 L71.2 1054.1 L69.3 1054.3 L67.5 1054.5Z" fill="#FFCCCC"/>
<path d="M67.5 1054.5 L69.3 1054.3 L71.2 1054.1 L73.0 1053.7 L74.8 1053.3 L76.6 1052.8 L78.5 1052.3 L80.3 1051.7 L82.1 1051.1 L84.0 1050.5 L85.8 1049.8 L87.6 1049.1 L89.4 1048.3 L91.3 1047.6 L93.1 1046.8 L94.9 1046.0 L96.8 1045.1 L98.6 1044.2 L100.4 1043.3 L102.3 1042.4 L104.1 1041.4 L105.9 1040.4 L107.7 1039.4 L109.6 1038.3 L111.4 1037.2 L113.2 1036.1 L115.1 1034.9 L116.9 1033.7 L118.7 1032.5 L120.5 1031.3 L122.4 1030.0 L124.2 1028.7 L126.0 1027.4 L127.9 1026.0 L129.7 1024.6 L131.5 1023.1 L133.3 1021.6 L135.2 1020.0 L137.0 1018.5 L138.8 1016.8 L140.7 1015.2 L142.5 1013.5 L144.3 1011.9 L146.1 1010.2 L148.0 1008.5 L149.8 1006.7 L151.6 1005.0 L153.5 1003.2 L155.3 1001.3 L157.1 999.4 L158.9 997.4 L160.8 995.4 L162.6 993.2 L164.4 991.0 L166.3 988.7 L168.1 986.4 L169.9 983.9 L171.8 981.4 L173.6 978.8 L175.4 976.1 L177.2 973.3 L179.1 970.4 L180.9 967.3 L182.7 964.3 L184.6 961.3 L186.4 958.4 L188.2 955.6 L190.0 952.9 L191.9 950.3 L193.7 947.6 L193.7 957.0 L191.9 959.1 L190.0 961.1 L188.2 963.2 L186.4 965.2 L184.6 967.3 L182.7 969.3 L180.9 971.4 L179.1 973.4 L177.2 975.5 L175.4 977.6 L173.6 979.8 L171.8 981.9 L169.9 984.1 L168.1 986.3 L166.3 988.5 L164.4 990.7 L162.6 992.9 L160.8 995.1 L158.9 997.3 L157.1 999.6 L155.3 1001.8 L153.5 1003.9 L151.6 1006.0 L149.8 1007.9 L148.0 1009.8 L146.1 1011.5 L144.3 1013.1 L142.5 1014.7 L140.7 1016.2 L138.8 1017.7 L137.0 1019.2 L135.2 1020.7 L133.3 1022.2 L131.5 1023.7 L129.7 1025.2 L127.9 1026.7 L126.0 1028.1 L124.2 1029.5 L122.4 1030.8 L120.5 1032.0 L118.7 1033.2 L116.9 1034.4 L115.1 1035.5 L113.2 1036.5 L111.4 1037.6 L109.6 1038.6 L107.7 1039.6 L105.9 1040.5 L104.1 1041.5 L102.3 1042.4 L100.4 1043.3 L98.6 1044.2 L96.8 1045.1 L94.9 1045.9 L93.1 1046.8 L91.3 1047.6 L89.4 1048.4 L87.6 1049.1 L85.8 1049.8 L84.0 1050.5 L82.1 1051.1 L80.3 1051.7 L78.5 1052.3 L76.6 1052.8 L74.8 1053.3 L73.0 1053.7 L71.2 1054.1 L69.3 1054.3 L67.5 1054.5Z" fill="#FF9999"/>
</g>
<path d="M67.50 929.50 V1054.50 H191.70 M67.50 929.50 H191.70" fill="none" stroke="#7a7a7a" stroke-width="0.85"/>
<path d="M191.70 929.50 V1054.50" fill="none" stroke="#7a7a7a" stroke-width="0.85" stroke-opacity="0.5"/>
<line x1="67.50" y1="1054.50" x2="70.50" y2="1054.50" stroke="#7a7a7a" stroke-width="0.85"/>
<text x="62.30" y="1058.00" text-anchor="end" font-size="12.4" font-family="Liberation Sans, sans-serif" fill="#000">0</text>
<line x1="67.50" y1="1029.50" x2="70.50" y2="1029.50" stroke="#7a7a7a" stroke-width="0.85"/>
<text x="62.30" y="1033.00" text-anchor="end" font-size="12.4" font-family="Liberation Sans, sans-serif" fill="#000">5</text>
<line x1="67.50" y1="1004.50" x2="70.50" y2="1004.50" stroke="#7a7a7a" stroke-width="0.85"/>
<text x="62.30" y="1008.00" text-anchor="end" font-size="12.4" font-family="Liberation Sans, sans-serif" fill="#000">10</text>
<line x1="67.50" y1="979.50" x2="70.50" y2="979.50" stroke="#7a7a7a" stroke-width="0.85"/>
<text x="62.30" y="983.00" text-anchor="end" font-size="12.4" font-family="Liberation Sans, sans-serif" fill="#000">15</text>
<line x1="67.50" y1="954.50" x2="70.50" y2="954.50" stroke="#7a7a7a" stroke-width="0.85"/>
<text x="62.30" y="958.00" text-anchor="end" font-size="12.4" font-family="Liberation Sans, sans-serif" fill="#000">20</text>
<line x1="67.50" y1="929.50" x2="70.50" y2="929.50" stroke="#7a7a7a" stroke-width="0.85"/>
<text x="62.30" y="933.00" text-anchor="end" font-size="12.4" font-family="Liberation Sans, sans-serif" fill="#000">25</text>
<line x1="67.50" y1="1054.50" x2="67.50" y2="1051.50" stroke="#7a7a7a" stroke-width="0.85"/>
<text x="69.80" y="1069.60" text-anchor="middle" font-size="12.4" font-family="Liberation Sans, sans-serif" fill="#000">0.00</text>
<line x1="129.60" y1="1054.50" x2="129.60" y2="1051.50" stroke="#7a7a7a" stroke-width="0.85"/>
<text x="131.90" y="1069.60" text-anchor="middle" font-size="12.4" font-family="Liberation Sans, sans-serif" fill="#000">0.05</text>
<line x1="191.70" y1="1054.50" x2="191.70" y2="1051.50" stroke="#7a7a7a" stroke-width="0.85"/>
<text x="194.00" y="1069.60" text-anchor="middle" font-size="12.4" font-family="Liberation Sans, sans-serif" fill="#000">0.10</text>
<g clip-path="url(#c50)" fill="none">
<path d="M67.5 1054.5 L69.3 1054.3 L71.2 1054.1 L73.0 1053.7 L74.8 1053.3 L76.6 1052.8 L78.5 1052.3 L80.3 1051.7 L82.1 1051.1 L84.0 1050.5 L85.8 1049.8 L87.6 1049.1 L89.4 1048.3 L91.3 1047.6 L93.1 1046.8 L94.9 1046.0 L96.8 1045.1 L98.6 1044.2 L100.4 1043.3 L102.3 1042.4 L104.1 1041.4 L105.9 1040.4 L107.7 1039.4 L109.6 1038.3 L111.4 1037.2 L113.2 1036.1 L115.1 1034.9 L116.9 1033.7 L118.7 1032.5 L120.5 1031.3 L122.4 1030.0 L124.2 1028.7 L126.0 1027.4 L127.9 1026.0 L129.7 1024.6 L131.5 1023.1 L133.3 1021.6 L135.2 1020.0 L137.0 1018.4 L138.8 1016.8 L140.7 1015.3 L142.5 1013.7 L144.3 1012.2 L146.1 1010.7 L148.0 1009.2 L149.8 1007.6 L151.6 1005.9 L153.5 1004.1 L155.3 1002.3 L157.1 1000.4 L158.9 998.4 L160.8 996.4 L162.6 994.3 L164.4 992.2 L166.3 989.9 L168.1 987.6 L169.9 985.3 L171.8 982.8 L173.6 980.2 L175.4 977.6 L177.2 974.8 L179.1 971.9 L180.9 969.0 L182.7 966.1 L184.6 963.2 L186.4 960.3 L188.2 957.7 L190.0 955.1 L191.9 952.6 L193.7 950.2" stroke="#FF8000" stroke-width="1.65" stroke-dasharray="2.7 2.5"/>
<path d="M67.5 1054.5 L69.3 1054.3 L71.2 1054.1 L73.0 1053.7 L74.8 1053.3 L76.6 1052.8 L78.5 1052.3 L80.3 1051.7 L82.1 1051.1 L84.0 1050.6 L85.8 1050.2 L87.6 1050.0 L89.4 1049.7 L91.3 1049.4 L93.1 1049.0 L94.9 1048.4 L96.8 1047.8 L98.6 1047.1 L100.4 1046.4 L102.3 1045.8 L104.1 1045.1 L105.9 1044.5 L107.7 1043.8 L109.6 1043.2 L111.4 1042.5 L113.2 1041.8 L115.1 1041.2 L116.9 1040.5 L118.7 1039.9 L120.5 1039.3 L122.4 1038.6 L124.2 1038.0 L126.0 1037.3 L127.9 1036.7 L129.7 1036.0 L131.5 1035.3 L133.3 1034.6 L135.2 1033.8 L137.0 1033.1 L138.8 1032.3 L140.7 1031.6 L142.5 1030.8 L144.3 1030.1 L146.1 1029.4 L148.0 1028.6 L149.8 1027.9 L151.6 1027.2 L153.5 1026.5 L155.3 1025.9 L157.1 1025.2 L158.9 1024.6 L160.8 1023.9 L162.6 1023.3 L164.4 1022.7 L166.3 1022.1 L168.1 1021.6 L169.9 1021.0 L171.8 1020.5 L173.6 1019.9 L175.4 1019.4 L177.2 1018.9 L179.1 1018.4 L180.9 1017.9 L182.7 1017.4 L184.6 1016.9 L186.4 1016.4 L188.2 1015.9 L190.0 1015.4 L191.9 1015.0 L193.7 1014.5" stroke="#FF8000" stroke-width="1.65" stroke-dasharray="2.7 2.5"/>
<path d="M67.5 1054.5 L69.3 1054.3 L71.2 1054.1 L73.0 1053.7 L74.8 1053.3 L76.6 1052.8 L78.5 1052.3 L80.3 1051.7 L82.1 1051.1 L84.0 1050.5 L85.8 1049.8 L87.6 1049.1 L89.4 1048.3 L91.3 1047.6 L93.1 1046.8 L94.9 1046.0 L96.8 1045.1 L98.6 1044.2 L100.4 1043.3 L102.3 1042.4 L104.1 1041.4 L105.9 1040.4 L107.7 1039.4 L109.6 1038.3 L111.4 1037.2 L113.2 1036.1 L115.1 1034.9 L116.9 1033.7 L118.7 1032.5 L120.5 1031.3 L122.4 1030.0 L124.2 1028.7 L126.0 1027.4 L127.9 1026.0 L129.7 1024.6 L131.5 1023.1 L133.3 1021.6 L135.2 1020.0 L137.0 1018.4 L138.8 1016.8 L140.7 1015.3 L142.5 1013.8 L144.3 1012.3 L146.1 1010.8 L148.0 1009.1 L149.8 1007.4 L151.6 1005.5 L153.5 1003.5 L155.3 1001.3 L157.1 999.1 L158.9 996.9 L160.8 994.6 L162.6 992.4 L164.4 990.2 L166.3 988.0 L168.1 985.8 L169.9 983.6 L171.8 981.4 L173.6 979.3 L175.4 977.1 L177.2 975.0 L179.1 972.9 L180.9 970.9 L182.7 968.8 L184.6 966.8 L186.4 964.7 L188.2 962.7 L190.0 960.7 L191.9 958.7 L193.7 956.6" stroke="#F96E72" stroke-width="1.55" stroke-dasharray="6 3"/>
<path d="M67.5 1054.5 L69.3 1054.3 L71.2 1054.1 L73.0 1053.7 L74.8 1053.3 L76.6 1052.8 L78.5 1052.3 L80.3 1051.7 L82.1 1051.1 L84.0 1050.5 L85.8 1049.8 L87.6 1049.1 L89.4 1048.3 L91.3 1047.6 L93.1 1046.8 L94.9 1046.0 L96.8 1045.1 L98.6 1044.2 L100.4 1043.3 L102.3 1042.4 L104.1 1041.4 L105.9 1040.4 L107.7 1039.4 L109.6 1038.3 L111.4 1037.2 L113.2 1036.0 L115.1 1034.9 L116.9 1033.8 L118.7 1032.7 L120.5 1031.6 L122.4 1030.4 L124.2 1029.2 L126.0 1027.9 L127.9 1026.5 L129.7 1025.0 L131.5 1023.5 L133.3 1022.0 L135.2 1020.5 L137.0 1019.0 L138.8 1017.5 L140.7 1016.1 L142.5 1014.7 L144.3 1013.3 L146.1 1011.9 L148.0 1010.5 L149.8 1009.2 L151.6 1007.8 L153.5 1006.5 L155.3 1005.3 L157.1 1004.0 L158.9 1002.8 L160.8 1001.6 L162.6 1000.4 L164.4 999.2 L166.3 998.0 L168.1 996.8 L169.9 995.6 L171.8 994.3 L173.6 993.0 L175.4 991.8 L177.2 990.5 L179.1 989.3 L180.9 988.0 L182.7 986.8 L184.6 985.6 L186.4 984.4 L188.2 983.2 L190.0 982.1 L191.9 980.9 L193.7 979.7" stroke="#F96E72" stroke-width="1.55" stroke-dasharray="6 3"/>
<path d="M67.5 1054.5 L69.3 1054.3 L71.2 1054.1 L73.0 1053.7 L74.8 1053.3 L76.6 1052.8 L78.5 1052.3 L80.3 1051.7 L82.1 1051.1 L84.0 1050.5 L85.8 1049.8 L87.6 1049.1 L89.4 1048.3 L91.3 1047.6 L93.1 1046.8 L94.9 1046.0 L96.8 1045.1 L98.6 1044.2 L100.4 1043.3 L102.3 1042.4 L104.1 1041.4 L105.9 1040.4 L107.7 1039.4 L109.6 1038.3 L111.4 1037.2 L113.2 1036.1 L115.1 1034.9 L116.9 1033.7 L118.7 1032.5 L120.5 1031.3 L122.4 1030.0 L124.2 1028.7 L126.0 1027.4 L127.9 1026.0 L129.7 1024.6 L131.5 1023.1 L133.3 1021.6 L135.2 1020.0 L137.0 1018.5 L138.8 1016.8 L140.7 1015.2 L142.5 1013.5 L144.3 1011.9 L146.1 1010.2 L148.0 1008.5 L149.8 1006.7 L151.6 1005.0 L153.5 1003.2 L155.3 1001.3 L157.1 999.4 L158.9 997.4 L160.8 995.4 L162.6 993.2 L164.4 991.0 L166.3 988.7 L168.1 986.4 L169.9 983.9 L171.8 981.4 L173.6 978.8 L175.4 976.1 L177.2 973.3 L179.1 970.4 L180.9 967.3 L182.7 964.3 L184.6 961.3 L186.4 958.4 L188.2 955.6 L190.0 952.9 L191.9 950.3 L193.7 947.6" stroke="#F40000" stroke-width="1.8"/>
<path d="M67.5 1054.5 L69.3 1054.3 L71.2 1054.1 L73.0 1053.7 L74.8 1053.3 L76.6 1052.8 L78.5 1052.3 L80.3 1051.7 L82.1 1051.1 L84.0 1050.5 L85.8 1049.8 L87.6 1049.1 L89.4 1048.4 L91.3 1047.6 L93.1 1046.8 L94.9 1045.9 L96.8 1045.1 L98.6 1044.2 L100.4 1043.3 L102.3 1042.4 L104.1 1041.5 L105.9 1040.5 L107.7 1039.6 L109.6 1038.6 L111.4 1037.6 L113.2 1036.5 L115.1 1035.5 L116.9 1034.4 L118.7 1033.2 L120.5 1032.0 L122.4 1030.8 L124.2 1029.5 L126.0 1028.1 L127.9 1026.7 L129.7 1025.2 L131.5 1023.7 L133.3 1022.2 L135.2 1020.7 L137.0 1019.2 L138.8 1017.7 L140.7 1016.2 L142.5 1014.7 L144.3 1013.1 L146.1 1011.5 L148.0 1009.8 L149.8 1007.9 L151.6 1006.0 L153.5 1003.9 L155.3 1001.8 L157.1 999.6 L158.9 997.3 L160.8 995.1 L162.6 992.9 L164.4 990.7 L166.3 988.5 L168.1 986.3 L169.9 984.1 L171.8 981.9 L173.6 979.8 L175.4 977.6 L177.2 975.5 L179.1 973.4 L180.9 971.4 L182.7 969.3 L184.6 967.3 L186.4 965.2 L188.2 963.2 L190.0 961.1 L191.9 959.1 L193.7 957.0" stroke="#F40000" stroke-width="1.8"/>
</g>
<g stroke="#5555FF" stroke-width="1.45" fill="#5555FF">
<circle cx="69.27" cy="1054.35" r="2.4" stroke="none"/>
<circle cx="71.46" cy="1054.00" r="2.4" stroke="none"/>
<circle cx="74.48" cy="1053.35" r="2.4" stroke="none"/>
<circle cx="78.29" cy="1052.35" r="2.4" stroke="none"/>
<circle cx="82.84" cy="1050.85" r="2.4" stroke="none"/>
<circle cx="88.08" cy="1048.90" r="2.4" stroke="none"/>
<circle cx="93.96" cy="1046.40" r="2.4" stroke="none"/>
<circle cx="100.42" cy="1043.30" r="2.4" stroke="none"/>
<circle cx="107.40" cy="1039.55" r="2.4" stroke="none"/>
<rect x="112.5" y="1033.6" width="4.7" height="2.8" stroke="none"/>
<circle cx="114.87" cy="1035.05" r="2.4" stroke="none"/>
<rect x="120.4" y="1028.3" width="4.7" height="2.8" stroke="none"/>
<circle cx="122.76" cy="1029.75" r="2.4" stroke="none"/>
<rect x="128.7" y="1021.9" width="4.7" height="3.3" stroke="none"/>
<circle cx="131.05" cy="1023.50" r="2.4" stroke="none"/>
<rect x="137.3" y="1014.4" width="4.7" height="3.3" stroke="none"/>
<circle cx="139.68" cy="1016.08" r="2.4" stroke="none"/>
<rect x="146.3" y="1005.5" width="4.7" height="3.8" stroke="none"/>
<circle cx="148.63" cy="1007.35" r="2.4" stroke="none"/>
<rect x="155.5" y="995.0" width="4.7" height="4.3" stroke="none"/>
<circle cx="157.86" cy="997.12" r="2.4" stroke="none"/>
<rect x="165.0" y="982.6" width="4.7" height="4.8" stroke="none"/>
<circle cx="167.34" cy="985.00" r="2.4" stroke="none"/>
<rect x="174.7" y="968.1" width="4.7" height="5.3" stroke="none"/>
<circle cx="177.05" cy="970.75" r="2.4" stroke="none"/>
<path d="M187.0 951.5 V956.50 M184.4 951.5 H189.56 M184.4 956.5 H189.56" fill="none"/>
<circle cx="186.96" cy="954.00" r="2.4" stroke="none"/>
</g>
<rect x="229.60" y="929.50" width="125.20" height="125.00" fill="none" stroke="#7a7a7a" stroke-width="0.85"/>
<g clip-path="url(#c51)">
<path d="M229.6 1054.5 L231.4 1054.3 L233.3 1054.1 L235.1 1053.7 L237.0 1053.3 L238.8 1052.8 L240.7 1052.3 L242.5 1051.7 L244.3 1051.1 L246.2 1050.5 L248.0 1049.8 L249.9 1049.1 L251.7 1048.3 L253.6 1047.6 L255.4 1046.8 L257.3 1046.0 L259.1 1045.1 L260.9 1044.2 L262.8 1043.3 L264.6 1042.4 L266.5 1041.4 L268.3 1040.4 L270.2 1039.4 L272.0 1038.3 L273.8 1037.2 L275.7 1036.1 L277.5 1034.9 L279.4 1033.7 L281.2 1032.5 L283.1 1031.3 L284.9 1030.0 L286.8 1028.7 L288.6 1027.4 L290.4 1026.0 L292.3 1024.6 L294.1 1023.1 L296.0 1021.6 L297.8 1020.0 L299.7 1018.4 L301.5 1016.8 L303.3 1015.3 L305.2 1013.7 L307.0 1012.2 L308.9 1010.7 L310.7 1009.2 L312.6 1007.6 L314.4 1005.9 L316.3 1004.1 L318.1 1002.3 L319.9 1000.4 L321.8 998.4 L323.6 996.4 L325.5 994.3 L327.3 992.2 L329.2 989.9 L331.0 987.6 L332.8 985.3 L334.7 982.8 L336.5 980.2 L338.4 977.6 L340.2 974.8 L342.1 971.9 L343.9 969.0 L345.8 966.1 L347.6 963.2 L349.4 960.3 L351.3 957.7 L353.1 955.1 L355.0 952.6 L356.8 950.2 L356.8 1003.2 L355.0 1003.8 L353.1 1004.4 L351.3 1005.0 L349.4 1005.6 L347.6 1006.2 L345.8 1006.9 L343.9 1007.5 L342.1 1008.1 L340.2 1008.8 L338.4 1009.5 L336.5 1010.2 L334.7 1010.9 L332.8 1011.6 L331.0 1012.4 L329.2 1013.2 L327.3 1014.0 L325.5 1014.9 L323.6 1015.7 L321.8 1016.6 L319.9 1017.5 L318.1 1018.5 L316.3 1019.4 L314.4 1020.3 L312.6 1021.3 L310.7 1022.2 L308.9 1023.2 L307.0 1024.2 L305.2 1025.2 L303.3 1026.2 L301.5 1027.2 L299.7 1028.2 L297.8 1029.2 L296.0 1030.2 L294.1 1031.2 L292.3 1032.1 L290.4 1033.1 L288.6 1033.9 L286.8 1034.8 L284.9 1035.7 L283.1 1036.5 L281.2 1037.4 L279.4 1038.2 L277.5 1039.0 L275.7 1039.8 L273.8 1040.6 L272.0 1041.4 L270.2 1042.3 L268.3 1043.2 L266.5 1044.1 L264.6 1044.9 L262.8 1045.8 L260.9 1046.5 L259.1 1047.3 L257.3 1048.0 L255.4 1048.7 L253.6 1049.2 L251.7 1049.6 L249.9 1049.9 L248.0 1050.2 L246.2 1050.6 L244.3 1051.1 L242.5 1051.7 L240.7 1052.3 L238.8 1052.8 L237.0 1053.3 L235.1 1053.7 L233.3 1054.1 L231.4 1054.3 L229.6 1054.5Z" fill="#FFDAB3"/>
<path d="M229.6 1054.5 L231.4 1054.3 L233.3 1054.1 L235.1 1053.7 L237.0 1053.3 L238.8 1052.8 L240.7 1052.3 L242.5 1051.7 L244.3 1051.1 L246.2 1050.5 L248.0 1049.8 L249.9 1049.1 L251.7 1048.3 L253.6 1047.6 L255.4 1046.8 L257.3 1046.0 L259.1 1045.1 L260.9 1044.2 L262.8 1043.3 L264.6 1042.4 L266.5 1041.4 L268.3 1040.4 L270.2 1039.4 L272.0 1038.3 L273.8 1037.2 L275.7 1036.1 L277.5 1034.9 L279.4 1033.7 L281.2 1032.5 L283.1 1031.3 L284.9 1030.0 L286.8 1028.7 L288.6 1027.4 L290.4 1026.0 L292.3 1024.6 L294.1 1023.1 L296.0 1021.6 L297.8 1020.0 L299.7 1018.4 L301.5 1016.8 L303.3 1015.3 L305.2 1013.8 L307.0 1012.3 L308.9 1010.8 L310.7 1009.1 L312.6 1007.4 L314.4 1005.5 L316.3 1003.5 L318.1 1001.3 L319.9 999.1 L321.8 996.9 L323.6 994.6 L325.5 992.4 L327.3 990.2 L329.2 988.0 L331.0 985.8 L332.8 983.6 L334.7 981.4 L336.5 979.3 L338.4 977.1 L340.2 975.0 L342.1 972.9 L343.9 970.9 L345.8 968.8 L347.6 966.8 L349.4 964.7 L351.3 962.7 L353.1 960.7 L355.0 958.7 L356.8 956.6 L356.8 980.3 L355.0 981.6 L353.1 982.9 L351.3 984.2 L349.4 985.5 L347.6 986.8 L345.8 988.0 L343.9 989.2 L342.1 990.4 L340.2 991.6 L338.4 992.8 L336.5 993.9 L334.7 995.0 L332.8 996.1 L331.0 997.2 L329.2 998.3 L327.3 999.4 L325.5 1000.5 L323.6 1001.7 L321.8 1002.9 L319.9 1004.1 L318.1 1005.3 L316.3 1006.5 L314.4 1007.7 L312.6 1009.0 L310.7 1010.3 L308.9 1011.6 L307.0 1013.0 L305.2 1014.4 L303.3 1015.9 L301.5 1017.4 L299.7 1019.0 L297.8 1020.5 L296.0 1022.1 L294.1 1023.6 L292.3 1025.1 L290.4 1026.5 L288.6 1027.9 L286.8 1029.2 L284.9 1030.4 L283.1 1031.6 L281.2 1032.7 L279.4 1033.8 L277.5 1034.9 L275.7 1036.1 L273.8 1037.2 L272.0 1038.3 L270.2 1039.4 L268.3 1040.4 L266.5 1041.4 L264.6 1042.4 L262.8 1043.3 L260.9 1044.2 L259.1 1045.1 L257.3 1046.0 L255.4 1046.8 L253.6 1047.6 L251.7 1048.3 L249.9 1049.1 L248.0 1049.8 L246.2 1050.5 L244.3 1051.1 L242.5 1051.7 L240.7 1052.3 L238.8 1052.8 L237.0 1053.3 L235.1 1053.7 L233.3 1054.1 L231.4 1054.3 L229.6 1054.5Z" fill="#FFCCCC"/>
<path d="M229.6 1054.5 L231.4 1054.3 L233.3 1054.1 L235.1 1053.7 L237.0 1053.3 L238.8 1052.8 L240.7 1052.3 L242.5 1051.7 L244.3 1051.1 L246.2 1050.5 L248.0 1049.8 L249.9 1049.1 L251.7 1048.3 L253.6 1047.6 L255.4 1046.8 L257.3 1046.0 L259.1 1045.1 L260.9 1044.2 L262.8 1043.3 L264.6 1042.4 L266.5 1041.4 L268.3 1040.4 L270.2 1039.4 L272.0 1038.3 L273.8 1037.2 L275.7 1036.1 L277.5 1034.9 L279.4 1033.7 L281.2 1032.5 L283.1 1031.3 L284.9 1030.0 L286.8 1028.7 L288.6 1027.4 L290.4 1026.0 L292.3 1024.6 L294.1 1023.1 L296.0 1021.6 L297.8 1020.0 L299.7 1018.5 L301.5 1016.8 L303.3 1015.2 L305.2 1013.5 L307.0 1011.9 L308.9 1010.2 L310.7 1008.5 L312.6 1006.7 L314.4 1005.0 L316.3 1003.2 L318.1 1001.3 L319.9 999.4 L321.8 997.4 L323.6 995.3 L325.5 993.2 L327.3 991.0 L329.2 988.7 L331.0 986.4 L332.8 983.9 L334.7 981.4 L336.5 978.8 L338.4 976.1 L340.2 973.3 L342.1 970.4 L343.9 967.3 L345.8 964.3 L347.6 961.3 L349.4 958.4 L351.3 955.6 L353.1 953.0 L355.0 950.4 L356.8 947.9 L356.8 957.1 L355.0 959.2 L353.1 961.2 L351.3 963.2 L349.4 965.2 L347.6 967.3 L345.8 969.3 L343.9 971.4 L342.1 973.4 L340.2 975.5 L338.4 977.6 L336.5 979.8 L334.7 981.9 L332.8 984.1 L331.0 986.3 L329.2 988.5 L327.3 990.7 L325.5 992.9 L323.6 995.1 L321.8 997.3 L319.9 999.6 L318.1 1001.8 L316.3 1003.9 L314.4 1006.0 L312.6 1007.9 L310.7 1009.8 L308.9 1011.5 L307.0 1013.1 L305.2 1014.7 L303.3 1016.2 L301.5 1017.7 L299.7 1019.2 L297.8 1020.7 L296.0 1022.2 L294.1 1023.7 L292.3 1025.2 L290.4 1026.7 L288.6 1028.1 L286.8 1029.5 L284.9 1030.8 L283.1 1032.0 L281.2 1033.2 L279.4 1034.4 L277.5 1035.5 L275.7 1036.5 L273.8 1037.6 L272.0 1038.6 L270.2 1039.6 L268.3 1040.5 L266.5 1041.5 L264.6 1042.4 L262.8 1043.3 L260.9 1044.2 L259.1 1045.1 L257.3 1045.9 L255.4 1046.8 L253.6 1047.6 L251.7 1048.4 L249.9 1049.1 L248.0 1049.8 L246.2 1050.5 L244.3 1051.1 L242.5 1051.7 L240.7 1052.3 L238.8 1052.8 L237.0 1053.3 L235.1 1053.7 L233.3 1054.1 L231.4 1054.3 L229.6 1054.5Z" fill="#FF9999"/>
</g>
<path d="M229.60 929.50 V1054.50 H354.80 M229.60 929.50 H354.80" fill="none" stroke="#7a7a7a" stroke-width="0.85"/>
<path d="M354.80 929.50 V1054.50" fill="none" stroke="#7a7a7a" stroke-width="0.85" stroke-opacity="0.5"/>
<line x1="229.60" y1="1054.50" x2="232.60" y2="1054.50" stroke="#7a7a7a" stroke-width="0.85"/>
<line x1="229.60" y1="1029.50" x2="232.60" y2="1029.50" stroke="#7a7a7a" stroke-width="0.85"/>
<line x1="229.60" y1="1004.50" x2="232.60" y2="1004.50" stroke="#7a7a7a" stroke-width="0.85"/>
<line x1="229.60" y1="979.50" x2="232.60" y2="979.50" stroke="#7a7a7a" stroke-width="0.85"/>
<line x1="229.60" y1="954.50" x2="232.60" y2="954.50" stroke="#7a7a7a" stroke-width="0.85"/>
<line x1="229.60" y1="929.50" x2="232.60" y2="929.50" stroke="#7a7a7a" stroke-width="0.85"/>
<line x1="229.60" y1="1054.50" x2="229.60" y2="1051.50" stroke="#7a7a7a" stroke-width="0.85"/>
<text x="231.90" y="1069.60" text-anchor="middle" font-size="12.4" font-family="Liberation Sans, sans-serif" fill="#000">0.00</text>
<line x1="292.20" y1="1054.50" x2="292.20" y2="1051.50" stroke="#7a7a7a" stroke-width="0.85"/>
<text x="294.50" y="1069.60" text-anchor="middle" font-size="12.4" font-family="Liberation Sans, sans-serif" fill="#000">0.05</text>
<line x1="354.80" y1="1054.50" x2="354.80" y2="1051.50" stroke="#7a7a7a" stroke-width="0.85"/>
<text x="357.10" y="1069.60" text-anchor="middle" font-size="12.4" font-family="Liberation Sans, sans-serif" fill="#000">0.10</text>
<g clip-path="url(#c51)" fill="none">
<path d="M229.6 1054.5 L231.4 1054.3 L233.3 1054.1 L235.1 1053.7 L237.0 1053.3 L238.8 1052.8 L240.7 1052.3 L242.5 1051.7 L244.3 1051.1 L246.2 1050.5 L248.0 1049.8 L249.9 1049.1 L251.7 1048.3 L253.6 1047.6 L255.4 1046.8 L257.3 1046.0 L259.1 1045.1 L260.9 1044.2 L262.8 1043.3 L264.6 1042.4 L266.5 1041.4 L268.3 1040.4 L270.2 1039.4 L272.0 1038.3 L273.8 1037.2 L275.7 1036.1 L277.5 1034.9 L279.4 1033.7 L281.2 1032.5 L283.1 1031.3 L284.9 1030.0 L286.8 1028.7 L288.6 1027.4 L290.4 1026.0 L292.3 1024.6 L294.1 1023.1 L296.0 1021.6 L297.8 1020.0 L299.7 1018.4 L301.5 1016.8 L303.3 1015.3 L305.2 1013.7 L307.0 1012.2 L308.9 1010.7 L310.7 1009.2 L312.6 1007.6 L314.4 1005.9 L316.3 1004.1 L318.1 1002.3 L319.9 1000.4 L321.8 998.4 L323.6 996.4 L325.5 994.3 L327.3 992.2 L329.2 989.9 L331.0 987.6 L332.8 985.3 L334.7 982.8 L336.5 980.2 L338.4 977.6 L340.2 974.8 L342.1 971.9 L343.9 969.0 L345.8 966.1 L347.6 963.2 L349.4 960.3 L351.3 957.7 L353.1 955.1 L355.0 952.6 L356.8 950.2" stroke="#FF8000" stroke-width="1.65" stroke-dasharray="2.7 2.5"/>
<path d="M229.6 1054.5 L231.4 1054.3 L233.3 1054.1 L235.1 1053.7 L237.0 1053.3 L238.8 1052.8 L240.7 1052.3 L242.5 1051.7 L244.3 1051.1 L246.2 1050.6 L248.0 1050.2 L249.9 1049.9 L251.7 1049.6 L253.6 1049.2 L255.4 1048.7 L257.3 1048.0 L259.1 1047.3 L260.9 1046.5 L262.8 1045.8 L264.6 1044.9 L266.5 1044.1 L268.3 1043.2 L270.2 1042.3 L272.0 1041.4 L273.8 1040.6 L275.7 1039.8 L277.5 1039.0 L279.4 1038.2 L281.2 1037.4 L283.1 1036.5 L284.9 1035.7 L286.8 1034.8 L288.6 1033.9 L290.4 1033.1 L292.3 1032.1 L294.1 1031.2 L296.0 1030.2 L297.8 1029.2 L299.7 1028.2 L301.5 1027.2 L303.3 1026.2 L305.2 1025.2 L307.0 1024.2 L308.9 1023.2 L310.7 1022.2 L312.6 1021.3 L314.4 1020.3 L316.3 1019.4 L318.1 1018.5 L319.9 1017.5 L321.8 1016.6 L323.6 1015.7 L325.5 1014.9 L327.3 1014.0 L329.2 1013.2 L331.0 1012.4 L332.8 1011.6 L334.7 1010.9 L336.5 1010.2 L338.4 1009.5 L340.2 1008.8 L342.1 1008.1 L343.9 1007.5 L345.8 1006.9 L347.6 1006.2 L349.4 1005.6 L351.3 1005.0 L353.1 1004.4 L355.0 1003.8 L356.8 1003.2" stroke="#FF8000" stroke-width="1.65" stroke-dasharray="2.7 2.5"/>
<path d="M229.6 1054.5 L231.4 1054.3 L233.3 1054.1 L235.1 1053.7 L237.0 1053.3 L238.8 1052.8 L240.7 1052.3 L242.5 1051.7 L244.3 1051.1 L246.2 1050.5 L248.0 1049.8 L249.9 1049.1 L251.7 1048.3 L253.6 1047.6 L255.4 1046.8 L257.3 1046.0 L259.1 1045.1 L260.9 1044.2 L262.8 1043.3 L264.6 1042.4 L266.5 1041.4 L268.3 1040.4 L270.2 1039.4 L272.0 1038.3 L273.8 1037.2 L275.7 1036.1 L277.5 1034.9 L279.4 1033.7 L281.2 1032.5 L283.1 1031.3 L284.9 1030.0 L286.8 1028.7 L288.6 1027.4 L290.4 1026.0 L292.3 1024.6 L294.1 1023.1 L296.0 1021.6 L297.8 1020.0 L299.7 1018.4 L301.5 1016.8 L303.3 1015.3 L305.2 1013.8 L307.0 1012.3 L308.9 1010.8 L310.7 1009.1 L312.6 1007.4 L314.4 1005.5 L316.3 1003.5 L318.1 1001.3 L319.9 999.1 L321.8 996.9 L323.6 994.6 L325.5 992.4 L327.3 990.2 L329.2 988.0 L331.0 985.8 L332.8 983.6 L334.7 981.4 L336.5 979.3 L338.4 977.1 L340.2 975.0 L342.1 972.9 L343.9 970.9 L345.8 968.8 L347.6 966.8 L349.4 964.7 L351.3 962.7 L353.1 960.7 L355.0 958.7 L356.8 956.6" stroke="#F96E72" stroke-width="1.55" stroke-dasharray="6 3"/>
<path d="M229.6 1054.5 L231.4 1054.3 L233.3 1054.1 L235.1 1053.7 L237.0 1053.3 L238.8 1052.8 L240.7 1052.3 L242.5 1051.7 L244.3 1051.1 L246.2 1050.5 L248.0 1049.8 L249.9 1049.1 L251.7 1048.3 L253.6 1047.6 L255.4 1046.8 L257.3 1046.0 L259.1 1045.1 L260.9 1044.2 L262.8 1043.3 L264.6 1042.4 L266.5 1041.4 L268.3 1040.4 L270.2 1039.4 L272.0 1038.3 L273.8 1037.2 L275.7 1036.1 L277.5 1034.9 L279.4 1033.8 L281.2 1032.7 L283.1 1031.6 L284.9 1030.4 L286.8 1029.2 L288.6 1027.9 L290.4 1026.5 L292.3 1025.1 L294.1 1023.6 L296.0 1022.1 L297.8 1020.5 L299.7 1019.0 L301.5 1017.4 L303.3 1015.9 L305.2 1014.4 L307.0 1013.0 L308.9 1011.6 L310.7 1010.3 L312.6 1009.0 L314.4 1007.7 L316.3 1006.5 L318.1 1005.3 L319.9 1004.1 L321.8 1002.9 L323.6 1001.7 L325.5 1000.5 L327.3 999.4 L329.2 998.3 L331.0 997.2 L332.8 996.1 L334.7 995.0 L336.5 993.9 L338.4 992.8 L340.2 991.6 L342.1 990.4 L343.9 989.2 L345.8 988.0 L347.6 986.8 L349.4 985.5 L351.3 984.2 L353.1 982.9 L355.0 981.6 L356.8 980.3" stroke="#F96E72" stroke-width="1.55" stroke-dasharray="6 3"/>
<path d="M229.6 1054.5 L231.4 1054.3 L233.3 1054.1 L235.1 1053.7 L237.0 1053.3 L238.8 1052.8 L240.7 1052.3 L242.5 1051.7 L244.3 1051.1 L246.2 1050.5 L248.0 1049.8 L249.9 1049.1 L251.7 1048.3 L253.6 1047.6 L255.4 1046.8 L257.3 1046.0 L259.1 1045.1 L260.9 1044.2 L262.8 1043.3 L264.6 1042.4 L266.5 1041.4 L268.3 1040.4 L270.2 1039.4 L272.0 1038.3 L273.8 1037.2 L275.7 1036.1 L277.5 1034.9 L279.4 1033.7 L281.2 1032.5 L283.1 1031.3 L284.9 1030.0 L286.8 1028.7 L288.6 1027.4 L290.4 1026.0 L292.3 1024.6 L294.1 1023.1 L296.0 1021.6 L297.8 1020.0 L299.7 1018.5 L301.5 1016.8 L303.3 1015.2 L305.2 1013.5 L307.0 1011.9 L308.9 1010.2 L310.7 1008.5 L312.6 1006.7 L314.4 1005.0 L316.3 1003.2 L318.1 1001.3 L319.9 999.4 L321.8 997.4 L323.6 995.3 L325.5 993.2 L327.3 991.0 L329.2 988.7 L331.0 986.4 L332.8 983.9 L334.7 981.4 L336.5 978.8 L338.4 976.1 L340.2 973.3 L342.1 970.4 L343.9 967.3 L345.8 964.3 L347.6 961.3 L349.4 958.4 L351.3 955.6 L353.1 953.0 L355.0 950.4 L356.8 947.9" stroke="#F40000" stroke-width="1.8"/>
<path d="M229.6 1054.5 L231.4 1054.3 L233.3 1054.1 L235.1 1053.7 L237.0 1053.3 L238.8 1052.8 L240.7 1052.3 L242.5 1051.7 L244.3 1051.1 L246.2 1050.5 L248.0 1049.8 L249.9 1049.1 L251.7 1048.4 L253.6 1047.6 L255.4 1046.8 L257.3 1045.9 L259.1 1045.1 L260.9 1044.2 L262.8 1043.3 L264.6 1042.4 L266.5 1041.5 L268.3 1040.5 L270.2 1039.6 L272.0 1038.6 L273.8 1037.6 L275.7 1036.5 L277.5 1035.5 L279.4 1034.4 L281.2 1033.2 L283.1 1032.0 L284.9 1030.8 L286.8 1029.5 L288.6 1028.1 L290.4 1026.7 L292.3 1025.2 L294.1 1023.7 L296.0 1022.2 L297.8 1020.7 L299.7 1019.2 L301.5 1017.7 L303.3 1016.2 L305.2 1014.7 L307.0 1013.1 L308.9 1011.5 L310.7 1009.8 L312.6 1007.9 L314.4 1006.0 L316.3 1003.9 L318.1 1001.8 L319.9 999.6 L321.8 997.3 L323.6 995.1 L325.5 992.9 L327.3 990.7 L329.2 988.5 L331.0 986.3 L332.8 984.1 L334.7 981.9 L336.5 979.8 L338.4 977.6 L340.2 975.5 L342.1 973.4 L343.9 971.4 L345.8 969.3 L347.6 967.3 L349.4 965.2 L351.3 963.2 L353.1 961.2 L355.0 959.2 L356.8 957.1" stroke="#F40000" stroke-width="1.8"/>
</g>
<g stroke="#5555FF" stroke-width="1.45" fill="#5555FF">
<circle cx="231.38" cy="1054.35" r="2.4" stroke="none"/>
<circle cx="233.59" cy="1054.00" r="2.4" stroke="none"/>
<circle cx="236.63" cy="1053.35" r="2.4" stroke="none"/>
<circle cx="240.47" cy="1052.35" r="2.4" stroke="none"/>
<circle cx="245.06" cy="1050.85" r="2.4" stroke="none"/>
<circle cx="250.35" cy="1048.90" r="2.4" stroke="none"/>
<circle cx="256.27" cy="1046.40" r="2.4" stroke="none"/>
<circle cx="262.78" cy="1043.30" r="2.4" stroke="none"/>
<circle cx="269.82" cy="1039.55" r="2.4" stroke="none"/>
<rect x="275.0" y="1033.6" width="4.7" height="2.8" stroke="none"/>
<circle cx="277.35" cy="1035.05" r="2.4" stroke="none"/>
<rect x="283.0" y="1028.3" width="4.7" height="2.8" stroke="none"/>
<circle cx="285.31" cy="1029.75" r="2.4" stroke="none"/>
<rect x="291.3" y="1021.9" width="4.7" height="3.3" stroke="none"/>
<circle cx="293.66" cy="1023.50" r="2.4" stroke="none"/>
<rect x="300.0" y="1014.4" width="4.7" height="3.3" stroke="none"/>
<circle cx="302.36" cy="1016.08" r="2.4" stroke="none"/>
<rect x="309.0" y="1005.5" width="4.7" height="3.8" stroke="none"/>
<circle cx="311.38" cy="1007.35" r="2.4" stroke="none"/>
<rect x="318.3" y="995.0" width="4.7" height="4.3" stroke="none"/>
<circle cx="320.68" cy="997.12" r="2.4" stroke="none"/>
<rect x="327.9" y="982.6" width="4.7" height="4.8" stroke="none"/>
<circle cx="330.24" cy="985.00" r="2.4" stroke="none"/>
<rect x="337.7" y="968.1" width="4.7" height="5.3" stroke="none"/>
<circle cx="340.03" cy="970.75" r="2.4" stroke="none"/>
<path d="M350.0 951.5 V956.50 M347.4 951.5 H352.62 M347.4 956.5 H352.62" fill="none"/>
<circle cx="350.02" cy="954.00" r="2.4" stroke="none"/>
</g>
<rect x="392.40" y="929.50" width="124.30" height="125.00" fill="none" stroke="#7a7a7a" stroke-width="0.85"/>
<g clip-path="url(#c52)">
<path d="M392.4 1054.5 L394.2 1054.3 L396.1 1054.1 L397.9 1053.7 L399.7 1053.3 L401.6 1052.8 L403.4 1052.3 L405.2 1051.7 L407.0 1051.1 L408.9 1050.5 L410.7 1049.8 L412.5 1049.1 L414.4 1048.3 L416.2 1047.6 L418.0 1046.8 L419.9 1046.0 L421.7 1045.1 L423.5 1044.2 L425.3 1043.3 L427.2 1042.4 L429.0 1041.4 L430.8 1040.4 L432.7 1039.4 L434.5 1038.3 L436.3 1037.2 L438.2 1036.1 L440.0 1034.9 L441.8 1033.7 L443.7 1032.5 L445.5 1031.3 L447.3 1030.0 L449.1 1028.7 L451.0 1027.4 L452.8 1026.0 L454.6 1024.6 L456.5 1023.1 L458.3 1021.6 L460.1 1020.0 L462.0 1018.4 L463.8 1016.8 L465.6 1015.3 L467.4 1013.7 L469.3 1012.2 L471.1 1010.7 L472.9 1009.2 L474.8 1007.6 L476.6 1005.9 L478.4 1004.1 L480.3 1002.3 L482.1 1000.4 L483.9 998.4 L485.8 996.4 L487.6 994.3 L489.4 992.2 L491.2 989.9 L493.1 987.6 L494.9 985.3 L496.7 982.8 L498.6 980.2 L500.4 977.6 L502.2 974.8 L504.1 971.9 L505.9 969.0 L507.7 966.1 L509.5 963.2 L511.4 960.3 L513.2 957.7 L515.0 955.1 L516.9 952.6 L518.7 950.2 L518.7 1000.9 L516.9 1001.7 L515.0 1002.4 L513.2 1003.2 L511.4 1004.0 L509.5 1004.7 L507.7 1005.5 L505.9 1006.2 L504.1 1006.9 L502.2 1007.6 L500.4 1008.3 L498.6 1009.0 L496.7 1009.7 L494.9 1010.4 L493.1 1011.2 L491.2 1011.9 L489.4 1012.7 L487.6 1013.6 L485.8 1014.4 L483.9 1015.3 L482.1 1016.3 L480.3 1017.2 L478.4 1018.1 L476.6 1019.1 L474.8 1020.1 L472.9 1021.1 L471.1 1022.1 L469.3 1023.1 L467.4 1024.2 L465.6 1025.2 L463.8 1026.3 L462.0 1027.3 L460.1 1028.3 L458.3 1029.4 L456.5 1030.4 L454.6 1031.4 L452.8 1032.3 L451.0 1033.3 L449.1 1034.2 L447.3 1035.2 L445.5 1036.1 L443.7 1037.0 L441.8 1037.9 L440.0 1038.8 L438.2 1039.7 L436.3 1040.6 L434.5 1041.5 L432.7 1042.3 L430.8 1043.2 L429.0 1044.1 L427.2 1044.9 L425.3 1045.7 L423.5 1046.5 L421.7 1047.3 L419.9 1048.0 L418.0 1048.7 L416.2 1049.2 L414.4 1049.6 L412.5 1049.9 L410.7 1050.2 L408.9 1050.6 L407.0 1051.1 L405.2 1051.7 L403.4 1052.3 L401.6 1052.8 L399.7 1053.3 L397.9 1053.7 L396.1 1054.1 L394.2 1054.3 L392.4 1054.5Z" fill="#FFDAB3"/>
<path d="M392.4 1054.5 L394.2 1054.3 L396.1 1054.1 L397.9 1053.7 L399.7 1053.3 L401.6 1052.8 L403.4 1052.3 L405.2 1051.7 L407.0 1051.1 L408.9 1050.5 L410.7 1049.8 L412.5 1049.1 L414.4 1048.3 L416.2 1047.6 L418.0 1046.8 L419.9 1046.0 L421.7 1045.1 L423.5 1044.2 L425.3 1043.3 L427.2 1042.4 L429.0 1041.4 L430.8 1040.4 L432.7 1039.4 L434.5 1038.3 L436.3 1037.2 L438.2 1036.1 L440.0 1034.9 L441.8 1033.7 L443.7 1032.5 L445.5 1031.3 L447.3 1030.0 L449.1 1028.7 L451.0 1027.4 L452.8 1026.0 L454.6 1024.6 L456.5 1023.1 L458.3 1021.6 L460.1 1020.0 L462.0 1018.4 L463.8 1016.8 L465.6 1015.3 L467.4 1013.8 L469.3 1012.3 L471.1 1010.8 L472.9 1009.1 L474.8 1007.4 L476.6 1005.5 L478.4 1003.5 L480.3 1001.3 L482.1 999.1 L483.9 996.9 L485.8 994.6 L487.6 992.4 L489.4 990.2 L491.2 988.0 L493.1 985.8 L494.9 983.6 L496.7 981.4 L498.6 979.3 L500.4 977.1 L502.2 975.0 L504.1 972.9 L505.9 970.9 L507.7 968.8 L509.5 966.8 L511.4 964.7 L513.2 962.7 L515.0 960.7 L516.9 958.7 L518.7 956.6 L518.7 980.0 L516.9 981.4 L515.0 982.7 L513.2 984.0 L511.4 985.4 L509.5 986.7 L507.7 988.0 L505.9 989.2 L504.1 990.4 L502.2 991.6 L500.4 992.8 L498.6 993.9 L496.7 995.0 L494.9 996.1 L493.1 997.2 L491.2 998.3 L489.4 999.4 L487.6 1000.5 L485.8 1001.7 L483.9 1002.9 L482.1 1004.1 L480.3 1005.3 L478.4 1006.5 L476.6 1007.7 L474.8 1009.0 L472.9 1010.3 L471.1 1011.6 L469.3 1013.0 L467.4 1014.4 L465.6 1015.9 L463.8 1017.4 L462.0 1019.0 L460.1 1020.5 L458.3 1022.1 L456.5 1023.6 L454.6 1025.1 L452.8 1026.5 L451.0 1027.9 L449.1 1029.2 L447.3 1030.4 L445.5 1031.6 L443.7 1032.7 L441.8 1033.8 L440.0 1034.9 L438.2 1036.1 L436.3 1037.2 L434.5 1038.3 L432.7 1039.4 L430.8 1040.4 L429.0 1041.4 L427.2 1042.4 L425.3 1043.3 L423.5 1044.2 L421.7 1045.1 L419.9 1046.0 L418.0 1046.8 L416.2 1047.6 L414.4 1048.3 L412.5 1049.1 L410.7 1049.8 L408.9 1050.5 L407.0 1051.1 L405.2 1051.7 L403.4 1052.3 L401.6 1052.8 L399.7 1053.3 L397.9 1053.7 L396.1 1054.1 L394.2 1054.3 L392.4 1054.5Z" fill="#FFCCCC"/>
<path d="M392.4 1054.5 L394.2 1054.3 L396.1 1054.1 L397.9 1053.7 L399.7 1053.3 L401.6 1052.8 L403.4 1052.3 L405.2 1051.7 L407.0 1051.1 L408.9 1050.5 L410.7 1049.8 L412.5 1049.1 L414.4 1048.3 L416.2 1047.6 L418.0 1046.8 L419.9 1046.0 L421.7 1045.1 L423.5 1044.2 L425.3 1043.3 L427.2 1042.4 L429.0 1041.4 L430.8 1040.4 L432.7 1039.4 L434.5 1038.3 L436.3 1037.2 L438.2 1036.1 L440.0 1034.9 L441.8 1033.7 L443.7 1032.5 L445.5 1031.3 L447.3 1030.0 L449.1 1028.7 L451.0 1027.4 L452.8 1026.0 L454.6 1024.6 L456.5 1023.1 L458.3 1021.6 L460.1 1020.0 L462.0 1018.5 L463.8 1016.8 L465.6 1015.2 L467.4 1013.5 L469.3 1011.9 L471.1 1010.2 L472.9 1008.5 L474.8 1006.7 L476.6 1005.0 L478.4 1003.2 L480.3 1001.3 L482.1 999.4 L483.9 997.4 L485.8 995.3 L487.6 993.2 L489.4 991.0 L491.2 988.7 L493.1 986.4 L494.9 983.9 L496.7 981.4 L498.6 978.8 L500.4 976.1 L502.2 973.3 L504.1 970.4 L505.9 967.3 L507.7 964.3 L509.5 961.3 L511.4 958.4 L513.2 955.6 L515.0 952.9 L516.9 950.4 L518.7 947.8 L518.7 957.2 L516.9 959.2 L515.0 961.2 L513.2 963.2 L511.4 965.2 L509.5 967.3 L507.7 969.3 L505.9 971.4 L504.1 973.4 L502.2 975.5 L500.4 977.6 L498.6 979.8 L496.7 981.9 L494.9 984.1 L493.1 986.3 L491.2 988.5 L489.4 990.7 L487.6 992.9 L485.8 995.1 L483.9 997.3 L482.1 999.6 L480.3 1001.8 L478.4 1003.9 L476.6 1006.0 L474.8 1007.9 L472.9 1009.8 L471.1 1011.5 L469.3 1013.1 L467.4 1014.7 L465.6 1016.2 L463.8 1017.7 L462.0 1019.2 L460.1 1020.7 L458.3 1022.2 L456.5 1023.7 L454.6 1025.2 L452.8 1026.7 L451.0 1028.1 L449.1 1029.5 L447.3 1030.8 L445.5 1032.0 L443.7 1033.2 L441.8 1034.4 L440.0 1035.5 L438.2 1036.5 L436.3 1037.6 L434.5 1038.6 L432.7 1039.6 L430.8 1040.5 L429.0 1041.5 L427.2 1042.4 L425.3 1043.3 L423.5 1044.2 L421.7 1045.1 L419.9 1045.9 L418.0 1046.8 L416.2 1047.6 L414.4 1048.4 L412.5 1049.1 L410.7 1049.8 L408.9 1050.5 L407.0 1051.1 L405.2 1051.7 L403.4 1052.3 L401.6 1052.8 L399.7 1053.3 L397.9 1053.7 L396.1 1054.1 L394.2 1054.3 L392.4 1054.5Z" fill="#FF9999"/>
</g>
<path d="M392.40 929.50 V1054.50 H516.70 M392.40 929.50 H516.70" fill="none" stroke="#7a7a7a" stroke-width="0.85"/>
<path d="M516.70 929.50 V1054.50" fill="none" stroke="#7a7a7a" stroke-width="0.85" stroke-opacity="0.5"/>
<line x1="392.40" y1="1054.50" x2="395.40" y2="1054.50" stroke="#7a7a7a" stroke-width="0.85"/>
<line x1="392.40" y1="1029.50" x2="395.40" y2="1029.50" stroke="#7a7a7a" stroke-width="0.85"/>
<line x1="392.40" y1="1004.50" x2="395.40" y2="1004.50" stroke="#7a7a7a" stroke-width="0.85"/>
<line x1="392.40" y1="979.50" x2="395.40" y2="979.50" stroke="#7a7a7a" stroke-width="0.85"/>
<line x1="392.40" y1="954.50" x2="395.40" y2="954.50" stroke="#7a7a7a" stroke-width="0.85"/>
<line x1="392.40" y1="929.50" x2="395.40" y2="929.50" stroke="#7a7a7a" stroke-width="0.85"/>
<line x1="392.40" y1="1054.50" x2="392.40" y2="1051.50" stroke="#7a7a7a" stroke-width="0.85"/>
<text x="394.70" y="1069.60" text-anchor="middle" font-size="12.4" font-family="Liberation Sans, sans-serif" fill="#000">0.00</text>
<line x1="454.55" y1="1054.50" x2="454.55" y2="1051.50" stroke="#7a7a7a" stroke-width="0.85"/>
<text x="456.85" y="1069.60" text-anchor="middle" font-size="12.4" font-family="Liberation Sans, sans-serif" fill="#000">0.05</text>
<line x1="516.70" y1="1054.50" x2="516.70" y2="1051.50" stroke="#7a7a7a" stroke-width="0.85"/>
<text x="519.00" y="1069.60" text-anchor="middle" font-size="12.4" font-family="Liberation Sans, sans-serif" fill="#000">0.10</text>
<g clip-path="url(#c52)" fill="none">
<path d="M392.4 1054.5 L394.2 1054.3 L396.1 1054.1 L397.9 1053.7 L399.7 1053.3 L401.6 1052.8 L403.4 1052.3 L405.2 1051.7 L407.0 1051.1 L408.9 1050.5 L410.7 1049.8 L412.5 1049.1 L414.4 1048.3 L416.2 1047.6 L418.0 1046.8 L419.9 1046.0 L421.7 1045.1 L423.5 1044.2 L425.3 1043.3 L427.2 1042.4 L429.0 1041.4 L430.8 1040.4 L432.7 1039.4 L434.5 1038.3 L436.3 1037.2 L438.2 1036.1 L440.0 1034.9 L441.8 1033.7 L443.7 1032.5 L445.5 1031.3 L447.3 1030.0 L449.1 1028.7 L451.0 1027.4 L452.8 1026.0 L454.6 1024.6 L456.5 1023.1 L458.3 1021.6 L460.1 1020.0 L462.0 1018.4 L463.8 1016.8 L465.6 1015.3 L467.4 1013.7 L469.3 1012.2 L471.1 1010.7 L472.9 1009.2 L474.8 1007.6 L476.6 1005.9 L478.4 1004.1 L480.3 1002.3 L482.1 1000.4 L483.9 998.4 L485.8 996.4 L487.6 994.3 L489.4 992.2 L491.2 989.9 L493.1 987.6 L494.9 985.3 L496.7 982.8 L498.6 980.2 L500.4 977.6 L502.2 974.8 L504.1 971.9 L505.9 969.0 L507.7 966.1 L509.5 963.2 L511.4 960.3 L513.2 957.7 L515.0 955.1 L516.9 952.6 L518.7 950.2" stroke="#FF8000" stroke-width="1.65" stroke-dasharray="2.7 2.5"/>
<path d="M392.4 1054.5 L394.2 1054.3 L396.1 1054.1 L397.9 1053.7 L399.7 1053.3 L401.6 1052.8 L403.4 1052.3 L405.2 1051.7 L407.0 1051.1 L408.9 1050.6 L410.7 1050.2 L412.5 1049.9 L414.4 1049.6 L416.2 1049.2 L418.0 1048.7 L419.9 1048.0 L421.7 1047.3 L423.5 1046.5 L425.3 1045.7 L427.2 1044.9 L429.0 1044.1 L430.8 1043.2 L432.7 1042.3 L434.5 1041.5 L436.3 1040.6 L438.2 1039.7 L440.0 1038.8 L441.8 1037.9 L443.7 1037.0 L445.5 1036.1 L447.3 1035.2 L449.1 1034.2 L451.0 1033.3 L452.8 1032.3 L454.6 1031.4 L456.5 1030.4 L458.3 1029.4 L460.1 1028.3 L462.0 1027.3 L463.8 1026.3 L465.6 1025.2 L467.4 1024.2 L469.3 1023.1 L471.1 1022.1 L472.9 1021.1 L474.8 1020.1 L476.6 1019.1 L478.4 1018.1 L480.3 1017.2 L482.1 1016.3 L483.9 1015.3 L485.8 1014.4 L487.6 1013.6 L489.4 1012.7 L491.2 1011.9 L493.1 1011.2 L494.9 1010.4 L496.7 1009.7 L498.6 1009.0 L500.4 1008.3 L502.2 1007.6 L504.1 1006.9 L505.9 1006.2 L507.7 1005.5 L509.5 1004.7 L511.4 1004.0 L513.2 1003.2 L515.0 1002.4 L516.9 1001.7 L518.7 1000.9" stroke="#FF8000" stroke-width="1.65" stroke-dasharray="2.7 2.5"/>
<path d="M392.4 1054.5 L394.2 1054.3 L396.1 1054.1 L397.9 1053.7 L399.7 1053.3 L401.6 1052.8 L403.4 1052.3 L405.2 1051.7 L407.0 1051.1 L408.9 1050.5 L410.7 1049.8 L412.5 1049.1 L414.4 1048.3 L416.2 1047.6 L418.0 1046.8 L419.9 1046.0 L421.7 1045.1 L423.5 1044.2 L425.3 1043.3 L427.2 1042.4 L429.0 1041.4 L430.8 1040.4 L432.7 1039.4 L434.5 1038.3 L436.3 1037.2 L438.2 1036.1 L440.0 1034.9 L441.8 1033.7 L443.7 1032.5 L445.5 1031.3 L447.3 1030.0 L449.1 1028.7 L451.0 1027.4 L452.8 1026.0 L454.6 1024.6 L456.5 1023.1 L458.3 1021.6 L460.1 1020.0 L462.0 1018.4 L463.8 1016.8 L465.6 1015.3 L467.4 1013.8 L469.3 1012.3 L471.1 1010.8 L472.9 1009.1 L474.8 1007.4 L476.6 1005.5 L478.4 1003.5 L480.3 1001.3 L482.1 999.1 L483.9 996.9 L485.8 994.6 L487.6 992.4 L489.4 990.2 L491.2 988.0 L493.1 985.8 L494.9 983.6 L496.7 981.4 L498.6 979.3 L500.4 977.1 L502.2 975.0 L504.1 972.9 L505.9 970.9 L507.7 968.8 L509.5 966.8 L511.4 964.7 L513.2 962.7 L515.0 960.7 L516.9 958.7 L518.7 956.6" stroke="#F96E72" stroke-width="1.55" stroke-dasharray="6 3"/>
<path d="M392.4 1054.5 L394.2 1054.3 L396.1 1054.1 L397.9 1053.7 L399.7 1053.3 L401.6 1052.8 L403.4 1052.3 L405.2 1051.7 L407.0 1051.1 L408.9 1050.5 L410.7 1049.8 L412.5 1049.1 L414.4 1048.3 L416.2 1047.6 L418.0 1046.8 L419.9 1046.0 L421.7 1045.1 L423.5 1044.2 L425.3 1043.3 L427.2 1042.4 L429.0 1041.4 L430.8 1040.4 L432.7 1039.4 L434.5 1038.3 L436.3 1037.2 L438.2 1036.1 L440.0 1034.9 L441.8 1033.8 L443.7 1032.7 L445.5 1031.6 L447.3 1030.4 L449.1 1029.2 L451.0 1027.9 L452.8 1026.5 L454.6 1025.1 L456.5 1023.6 L458.3 1022.1 L460.1 1020.5 L462.0 1019.0 L463.8 1017.4 L465.6 1015.9 L467.4 1014.4 L469.3 1013.0 L471.1 1011.6 L472.9 1010.3 L474.8 1009.0 L476.6 1007.7 L478.4 1006.5 L480.3 1005.3 L482.1 1004.1 L483.9 1002.9 L485.8 1001.7 L487.6 1000.5 L489.4 999.4 L491.2 998.3 L493.1 997.2 L494.9 996.1 L496.7 995.0 L498.6 993.9 L500.4 992.8 L502.2 991.6 L504.1 990.4 L505.9 989.2 L507.7 988.0 L509.5 986.7 L511.4 985.4 L513.2 984.0 L515.0 982.7 L516.9 981.4 L518.7 980.0" stroke="#F96E72" stroke-width="1.55" stroke-dasharray="6 3"/>
<path d="M392.4 1054.5 L394.2 1054.3 L396.1 1054.1 L397.9 1053.7 L399.7 1053.3 L401.6 1052.8 L403.4 1052.3 L405.2 1051.7 L407.0 1051.1 L408.9 1050.5 L410.7 1049.8 L412.5 1049.1 L414.4 1048.3 L416.2 1047.6 L418.0 1046.8 L419.9 1046.0 L421.7 1045.1 L423.5 1044.2 L425.3 1043.3 L427.2 1042.4 L429.0 1041.4 L430.8 1040.4 L432.7 1039.4 L434.5 1038.3 L436.3 1037.2 L438.2 1036.1 L440.0 1034.9 L441.8 1033.7 L443.7 1032.5 L445.5 1031.3 L447.3 1030.0 L449.1 1028.7 L451.0 1027.4 L452.8 1026.0 L454.6 1024.6 L456.5 1023.1 L458.3 1021.6 L460.1 1020.0 L462.0 1018.5 L463.8 1016.8 L465.6 1015.2 L467.4 1013.5 L469.3 1011.9 L471.1 1010.2 L472.9 1008.5 L474.8 1006.7 L476.6 1005.0 L478.4 1003.2 L480.3 1001.3 L482.1 999.4 L483.9 997.4 L485.8 995.3 L487.6 993.2 L489.4 991.0 L491.2 988.7 L493.1 986.4 L494.9 983.9 L496.7 981.4 L498.6 978.8 L500.4 976.1 L502.2 973.3 L504.1 970.4 L505.9 967.3 L507.7 964.3 L509.5 961.3 L511.4 958.4 L513.2 955.6 L515.0 952.9 L516.9 950.4 L518.7 947.8" stroke="#F40000" stroke-width="1.8"/>
<path d="M392.4 1054.5 L394.2 1054.3 L396.1 1054.1 L397.9 1053.7 L399.7 1053.3 L401.6 1052.8 L403.4 1052.3 L405.2 1051.7 L407.0 1051.1 L408.9 1050.5 L410.7 1049.8 L412.5 1049.1 L414.4 1048.4 L416.2 1047.6 L418.0 1046.8 L419.9 1045.9 L421.7 1045.1 L423.5 1044.2 L425.3 1043.3 L427.2 1042.4 L429.0 1041.5 L430.8 1040.5 L432.7 1039.6 L434.5 1038.6 L436.3 1037.6 L438.2 1036.5 L440.0 1035.5 L441.8 1034.4 L443.7 1033.2 L445.5 1032.0 L447.3 1030.8 L449.1 1029.5 L451.0 1028.1 L452.8 1026.7 L454.6 1025.2 L456.5 1023.7 L458.3 1022.2 L460.1 1020.7 L462.0 1019.2 L463.8 1017.7 L465.6 1016.2 L467.4 1014.7 L469.3 1013.1 L471.1 1011.5 L472.9 1009.8 L474.8 1007.9 L476.6 1006.0 L478.4 1003.9 L480.3 1001.8 L482.1 999.6 L483.9 997.3 L485.8 995.1 L487.6 992.9 L489.4 990.7 L491.2 988.5 L493.1 986.3 L494.9 984.1 L496.7 981.9 L498.6 979.8 L500.4 977.6 L502.2 975.5 L504.1 973.4 L505.9 971.4 L507.7 969.3 L509.5 967.3 L511.4 965.2 L513.2 963.2 L515.0 961.2 L516.9 959.2 L518.7 957.2" stroke="#F40000" stroke-width="1.8"/>
</g>
<g stroke="#5555FF" stroke-width="1.45" fill="#5555FF">
<circle cx="394.17" cy="1054.35" r="2.4" stroke="none"/>
<circle cx="396.36" cy="1054.00" r="2.4" stroke="none"/>
<circle cx="399.38" cy="1053.35" r="2.4" stroke="none"/>
<circle cx="403.20" cy="1052.35" r="2.4" stroke="none"/>
<circle cx="407.75" cy="1050.85" r="2.4" stroke="none"/>
<circle cx="413.00" cy="1048.90" r="2.4" stroke="none"/>
<circle cx="418.88" cy="1046.40" r="2.4" stroke="none"/>
<circle cx="425.34" cy="1043.30" r="2.4" stroke="none"/>
<circle cx="432.33" cy="1039.55" r="2.4" stroke="none"/>
<rect x="437.5" y="1033.6" width="4.7" height="2.8" stroke="none"/>
<circle cx="439.80" cy="1035.05" r="2.4" stroke="none"/>
<rect x="445.4" y="1028.3" width="4.7" height="2.8" stroke="none"/>
<circle cx="447.71" cy="1029.75" r="2.4" stroke="none"/>
<rect x="453.6" y="1021.9" width="4.7" height="3.3" stroke="none"/>
<circle cx="456.00" cy="1023.50" r="2.4" stroke="none"/>
<rect x="462.3" y="1014.4" width="4.7" height="3.3" stroke="none"/>
<circle cx="464.64" cy="1016.08" r="2.4" stroke="none"/>
<rect x="471.2" y="1005.5" width="4.7" height="3.8" stroke="none"/>
<circle cx="473.59" cy="1007.35" r="2.4" stroke="none"/>
<rect x="480.5" y="995.0" width="4.7" height="4.3" stroke="none"/>
<circle cx="482.83" cy="997.12" r="2.4" stroke="none"/>
<rect x="490.0" y="982.6" width="4.7" height="4.8" stroke="none"/>
<circle cx="492.32" cy="985.00" r="2.4" stroke="none"/>
<rect x="499.7" y="968.1" width="4.7" height="5.3" stroke="none"/>
<circle cx="502.03" cy="970.75" r="2.4" stroke="none"/>
<path d="M512.0 951.5 V956.50 M509.4 951.5 H514.56 M509.4 956.5 H514.56" fill="none"/>
<circle cx="511.96" cy="954.00" r="2.4" stroke="none"/>
</g>
<rect x="266.70" y="906.40" width="31.00" height="26.50" fill="#FFFFD9" stroke="#333" stroke-width="1.3"/>
<text x="270.8" y="924.10" font-size="14" font-style="italic" font-family="Liberation Sans, sans-serif" fill="#111">P<tspan font-size="9.6" font-style="normal" dy="2.5" dx="-0.5">33</tspan></text>
<text transform="translate(10.8,581.3) rotate(-90)" font-size="15" font-family="Liberation Sans, sans-serif" fill="#111"><tspan font-style="italic">δ</tspan> [degree]</text>
<text x="254.0" y="1108.9" font-size="14.5" font-family="Liberation Sans, sans-serif" fill="#111">T<tspan font-size="12" font-style="italic" dy="3.0" dx="0.3">π</tspan><tspan dy="-3.0" dx="1.2">[GeV]</tspan></text>
</svg></body></html>
